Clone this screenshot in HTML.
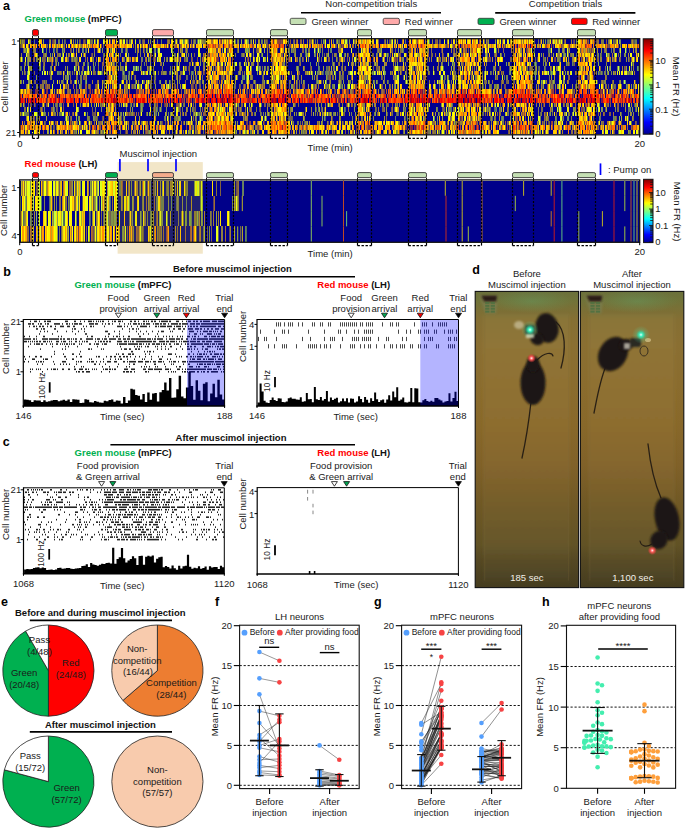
<!DOCTYPE html><html><head><meta charset="utf-8"><title>Figure</title><style>html,body{margin:0;padding:0;background:#fff;width:685px;height:828px;overflow:hidden}text{font-family:'Liberation Sans', sans-serif}</style></head><body><svg width="685" height="828" viewBox="0 0 685 828" style="position:absolute;left:0;top:0;font-family:'Liberation Sans', sans-serif"><defs><linearGradient id="jet" x1="0" y1="1" x2="0" y2="0"><stop offset="0" stop-color="#00008f"/><stop offset="0.125" stop-color="#0000ff"/><stop offset="0.375" stop-color="#00ffff"/><stop offset="0.625" stop-color="#ffff00"/><stop offset="0.875" stop-color="#ff0000"/><stop offset="1" stop-color="#800000"/></linearGradient><linearGradient id="phbg" x1="0" y1="0" x2="0" y2="1"><stop offset="0.000" stop-color="#6b703b"/><stop offset="0.029" stop-color="#707339"/><stop offset="0.070" stop-color="#7d6f35"/><stop offset="0.097" stop-color="#856f33"/><stop offset="0.181" stop-color="#8a6f32"/><stop offset="0.316" stop-color="#8a6c2e"/><stop offset="0.451" stop-color="#88682a"/><stop offset="0.586" stop-color="#806129"/><stop offset="0.721" stop-color="#6f5825"/><stop offset="0.856" stop-color="#615225"/><stop offset="0.907" stop-color="#554823"/><stop offset="1.000" stop-color="#453c1f"/></linearGradient><linearGradient id="phfl" x1="0" y1="0" x2="0" y2="1"><stop offset="0.000" stop-color="#82743a"/><stop offset="0.021" stop-color="#8a7438"/><stop offset="0.115" stop-color="#8f7437"/><stop offset="0.264" stop-color="#8f7133"/><stop offset="0.414" stop-color="#8d6d2f"/><stop offset="0.564" stop-color="#85662e"/><stop offset="0.713" stop-color="#745d2a"/><stop offset="0.863" stop-color="#66572a"/><stop offset="0.919" stop-color="#5a4d28"/><stop offset="1.000" stop-color="#4a4124"/></linearGradient><radialGradient id="glow" cx="0.5" cy="0.5" r="0.5"><stop offset="0" stop-color="#4fe0a8" stop-opacity="0.55"/><stop offset="1" stop-color="#4fe0a8" stop-opacity="0"/></radialGradient><radialGradient id="ledg" cx="0.5" cy="0.5" r="0.5"><stop offset="0" stop-color="#eafff6"/><stop offset="0.35" stop-color="#40f0c0"/><stop offset="1" stop-color="#20c090" stop-opacity="0"/></radialGradient><radialGradient id="ledr" cx="0.5" cy="0.5" r="0.5"><stop offset="0" stop-color="#fff4f0"/><stop offset="0.35" stop-color="#ff6060"/><stop offset="1" stop-color="#ff3030" stop-opacity="0"/></radialGradient><filter id="bl1" x="-30%" y="-30%" width="160%" height="160%"><feGaussianBlur stdDeviation="0.9"/></filter><filter id="bl2" x="-30%" y="-30%" width="160%" height="160%"><feGaussianBlur stdDeviation="2.5"/></filter></defs><rect x="20" y="39.3" width="619" height="94.9" fill="#00008c" stroke="none" stroke-width="1" />
<path stroke="#ffff00" stroke-width="4.52" fill="none" d="M20 41.56h1m18 0h1m54 0h1m25 0h1m65 0h1m27 0h1m15 0h1m94 0h1m44 0h1m21 0h1m21 0h1m4 0h1m24 0h1m52 0h1m2 0h1m32 0h1m27 0h1m16 0h1M76 46.08h1m28 0h1m221 0h1M112 50.6h1m147 0h1m20 0h1m178 0h1m16 0h2m6 0h1m2 0h1m62 0h1m26 0h1M63 55.12h1m8 0h1m44 0h1m59 0h1m53 0h1m1 0h1m23 0h1m18 0h1m83 0h1m1 0h1m53 0h1m9 0h1m43 0h1m58 0h1m26 0h1m35 0h1m37 0h1M62 59.64h1m35 0h1m71 0h2m85 0h1m9 0h1m185 0h1m31 0h1m15 0h1M206 64.15h1m1 0h1m35 0h1m31 0h1m145 0h1m36 0h1m59 0h1m2 0h1m26 0h1m36 0h1M178 68.67h1m27 0h1m24 0h1m15 0h1m8 0h1m13 0h1m2 0h1m2 0h2m3 0h2m86 0h1m100 0h1m8 0h1m34 0h1m79 0h1M109 73.19h1m45 0h1m27 0h1m28 0h1m9 0h1m1 0h1m42 0h1m12 0h1m70 0h1m18 0h1m24 0h1m15 0h1m8 0h1m3 0h1m19 0h1m7 0h1m8 0h1m2 0h1m4 0h1m44 0h1m2 0h1m44 0h1m56 0h1M28 77.71h1m182 0h1m64 0h3m131 0h1m10 0h1m36 0h1m14 0h1m11 0h1m26 0h1m70 0h1M67 82.23h1m42 0h1m37 0h1m76 0h1m134 0h1m1 0h1m6 0h1m26 0h1m51 0h1m4 0h1m6 0h1m13 0h1m6 0h1m103 0h2M98 86.75h1m21 0h1m7 0h1m17 0h1m37 0h1m166 0h2m6 0h1m20 0h1m67 0h1m14 0h1m101 0h1m35 0h1M88 104.83h1m48 0h1m62 0h1m50 0h1m245 0h1M27 109.35h1m122 0h1m26 0h1m44 0h1m57 0h1m81 0h1m33 0h1m66 0h1m95 0h1m28 0h1m4 0h1m44 0h1M98 113.86h1m42 0h1m71 0h1m11 0h1m59 0h1m56 0h1m67 0h2m14 0h1m14 0h1m7 0h1m3 0h1m39 0h1m37 0h1M28 118.38h1m82 0h1m55 0h1m43 0h1m6 0h1m3 0h1m197 0h1m28 0h1m19 0h1m53 0h1m37 0h1m24 0h1m4 0h1m35 0h1M49 122.9h1m17 0h1m21 0h1m28 0h1m24 0h1m56 0h1m59 0h1m30 0h1m87 0h1m6 0h1m4 0h1m5 0h1m32 0h1m70 0h1m7 0h1m29 0h1m18 0h1m3 0h1m49 0h1M94 131.94h1m91 0h1m47 0h1m76 0h1m10 0h1m54 0h1m8 0h1m50 0h1m4 0h1m8 0h1m2 0h1m42 0h1m37 0h1m6 0h1m64 0h1m15 0h1m10 0h1m1 0h2" shape-rendering="crispEdges"/>
<path stroke="#606050" stroke-width="4.52" fill="none" d="M21 41.56h1m166 0h1m61 0h1m363 0h1M186 46.08h1m79 0h1M23 50.6h1m213 0h1m351 0h1M229 55.12h1m29 0h1m341 0h1m7 0h1M57 59.64h1m15 0h1m3 0h1m107 0h1m72 0h1m78 0h1m206 0h1M24 64.15h1m30 0h1m425 0h1m113 0h1M148 68.67h1m35 0h1M391 73.19h1M29 77.71h1m83 0h1m40 0h1m107 0h1m182 0h1m50 0h1M66 82.23h1m36 0h1m23 0h1m125 0h1m43 0h1m43 0h1M151 86.75h1m117 0h1m58 0h1m1 0h1m139 0h1m12 0h1m91 0h1M24 104.83h1m19 0h1m56 0h1m132 0h1m161 0h1m110 0h1m126 0h1M376 109.35h1m156 0h1m71 0h1M146 113.86h1m136 0h1m59 0h1m138 0h1M97 118.38h1m122 0h1m67 0h1m3 0h1M88 122.9h1m215 0h1m192 0h1M175 131.94h1m59 0h1m202 0h1m95 0h1" shape-rendering="crispEdges"/>
<path stroke="#909040" stroke-width="4.52" fill="none" d="M22 41.56h1m7 0h1m88 0h1m6 0h1m67 0h1m10 0h1m17 0h1M173 46.08h1m181 0h1m264 0h1M25 50.6h1m84 0h1m150 0h1m33 0h1m165 0h1m58 0h1m67 0h1M27 55.12h1m66 0h1m42 0h1m40 0h1m64 0h1m56 0h2m116 0h1m138 0h1M29 59.64h1m25 0h1m7 0h1m8 0h1m2 0h1m24 0h1m17 0h1m45 0h1m2 0h1m19 0h1m12 0h1m107 0h1m27 0h1m220 0h1m68 0h1M40 64.15h1m15 0h1m41 0h1m51 0h1m214 0h1m8 0h1m30 0h1m35 0h1m103 0h1M65 68.67h1m1 0h1m83 0h1m43 0h1m33 0h1m281 0h1m67 0h1M163 73.19h3m73 0h2m22 0h1m85 0h1m197 0h1m48 0h1M131 77.71h1m119 0h1m154 0h1m2 0h1m85 0h1m88 0h1M129 82.23h1m72 0h1m137 0h1m223 0h1m18 0h1m21 0h1m14 0h1M37 86.75h1m112 0h1m19 0h1m298 0h1m28 0h1m37 0h1m23 0h1m11 0h1M53 104.83h1m127 0h1m70 0h1m188 0h1m193 0h2M178 109.35h1m112 0h1m48 0h1m107 0h1m38 0h1m87 0h1M43 113.86h1m88 0h1m33 0h1m68 0h1m19 0h1m11 0h1m222 0h1m73 0h2m65 0h1m1 0h1M68 118.38h1m126 0h1m47 0h1m160 0h1M53 122.9h1m22 0h1m55 0h1m27 0h1m9 0h1m16 0h1m49 0h1m160 0h1m97 0h1m47 0h1m9 0h2m42 0h1M193 127.42h1M95 131.94h1m93 0h2m112 0h1m179 0h1" shape-rendering="crispEdges"/>
<path stroke="#808040" stroke-width="4.52" fill="none" d="M23 41.56h1m14 0h1m52 0h1m3 0h1m107 0h1m398 0h2m4 0h1M81 46.08h1M140 50.6h1m167 0h2m325 0h1M46 55.12h1m12 0h2m127 0h1m46 0h1m6 0h1m51 0h1m32 0h1M27 59.64h1m28 0h1m19 0h1m16 0h1m92 0h1m253 0h1m102 0h1m14 0h1M203 64.15h2m46 0h1m143 0h1m150 0h1m59 0h1M179 68.67h1m44 0h1m42 0h1m217 0h1m49 0h1M133 73.19h1m110 0h1m63 0h1m39 0h1m163 0h1M51 77.71h1m103 0h1m37 0h1m2 0h1m100 0h1m67 0h1m15 0h1m26 0h1m66 0h2M46 82.23h1m102 0h1m122 0h1m76 0h1m37 0h1m61 0h1m11 0h1M36 86.75h1m5 0h1m82 0h1m173 0h1m25 0h1m1 0h1m161 0h2m4 0h1m59 0h1M21 104.83h1m78 0h1m78 0h1m4 0h1m157 0h1m282 0h1M256 109.35h1m33 0h1m72 0h1m41 0h1m43 0h1M28 113.86h1m25 0h2m75 0h1m58 0h1m4 0h1m100 0h1m18 0h1m13 0h1m1 0h1m206 0h1m2 0h1m26 0h1M87 118.38h2m79 0h1m64 0h1m70 0h1m35 0h1m20 0h1m11 0h1m120 0h1m76 0h1m54 0h1M98 122.9h1m194 0h1m28 0h1m114 0h1m100 0h1M255 127.42h1M74 131.94h1m171 0h1m11 0h1m46 0h1m17 0h1m72 0h1m44 0h1" shape-rendering="crispEdges"/>
<path stroke="#a07030" stroke-width="4.52" fill="none" d="M24 41.56h1m330 0h1M194 46.08h1m38 0h1m87 0h1m27 0h1m117 0h1m15 0h1m79 0h1M178 50.6h1m287 0h1m31 0h1m14 0h1m78 0h1M152 55.12h1m282 0h1m6 0h1m81 0h1m59 0h1M154 59.64h1m19 0h1m190 0h1m48 0h1m43 0h1M339 64.15h1m83 0h1m186 0h1M495 68.67h1M501 73.19h1M49 86.75h1m39 0h1m228 0h1M68 91.27h1m5 0h1m118 0h1m96 0h1m144 0h1m44 0h1M209 104.83h1m141 0h1m71 0h1m24 0h1m9 0h1m35 0h1m46 0h1M286 109.35h1m61 0h1m35 0h1M127 113.86h1m124 0h1m210 0h1m23 0h1m115 0h1M247 118.38h1m110 0h1m59 0h1M91 122.9h1m370 0h1m6 0h1m42 0h1m7 0h1m21 0h1m33 0h1M134 127.42h1m172 0h1m210 0h1m69 0h1m11 0h1M126 131.94h1m231 0h1m150 0h1m35 0h1m47 0h1" shape-rendering="crispEdges"/>
<path stroke="#000090" stroke-width="4.52" fill="none" d="M25 41.56h3m3 0h3m1 0h3m4 0h1m1 0h5m2 0h1m4 0h2m2 0h2m1 0h1m2 0h4m2 0h1m1 0h1m1 0h1m1 0h1m2 0h2m3 0h1m6 0h1m2 0h1m2 0h4m5 0h1m2 0h1m3 0h1m2 0h1m6 0h1m2 0h1m4 0h2m1 0h3m2 0h1m3 0h3m1 0h1m1 0h1m3 0h2m1 0h3m1 0h5m3 0h1m3 0h1m3 0h1m10 0h2m1 0h1m3 0h1m21 0h1m17 0h1m2 0h2m1 0h2m5 0h1m2 0h1m1 0h1m1 0h2m2 0h1m2 0h1m4 0h2m19 0h1m1 0h2m2 0h1m2 0h2m2 0h1m1 0h3m1 0h1m5 0h1m1 0h1m1 0h3m1 0h1m3 0h3m1 0h1m1 0h1m1 0h2m4 0h1m7 0h1m1 0h3m4 0h1m16 0h2m3 0h5m2 0h1m1 0h1m4 0h1m2 0h1m1 0h4m2 0h1m1 0h3m2 0h1m12 0h1m1 0h1m3 0h2m1 0h2m3 0h1m2 0h3m1 0h2m2 0h2m1 0h1m2 0h1m1 0h1m8 0h1m4 0h1m6 0h1m2 0h2m2 0h1m3 0h6m1 0h1m4 0h1m3 0h2m2 0h1m25 0h3m1 0h1m2 0h1m1 0h1m1 0h1m4 0h1m11 0h1m2 0h5m1 0h1m2 0h1m13 0h1m5 0h1m3 0h2m3 0h2m1 0h1m4 0h1m5 0h1m2 0h10m6 0h2M25 46.08h1m3 0h1m7 0h1m2 0h1m7 0h1m2 0h1m13 0h1m1 0h1m2 0h1m28 0h1m2 0h1m1 0h1m27 0h1m1 0h1m1 0h1m2 0h1m8 0h1m1 0h1m1 0h1m16 0h1m9 0h1m9 0h1m5 0h1m6 0h1m20 0h1m15 0h1m16 0h1m4 0h1m22 0h1m1 0h1m1 0h1m10 0h1m8 0h1m2 0h1m11 0h1m2 0h1m3 0h1m6 0h1m10 0h1m2 0h1m2 0h1m1 0h1m2 0h1m19 0h1m13 0h1m3 0h1m5 0h1m3 0h1m9 0h1m31 0h1m10 0h1m35 0h1m4 0h1m12 0h1m2 0h1m8 0h1m3 0h1m5 0h1m4 0h1m8 0h1m1 0h1m1 0h1m37 0h1m1 0h1m24 0h1m1 0h1m5 0h1M20 50.6h3m7 0h3m3 0h6m2 0h2m1 0h2m1 0h3m2 0h1m2 0h4m3 0h5m2 0h1m1 0h2m1 0h1m2 0h2m2 0h1m2 0h1m1 0h5m1 0h2m4 0h1m1 0h3m3 0h1m5 0h1m1 0h4m2 0h2m3 0h7m1 0h1m2 0h1m1 0h2m2 0h1m2 0h1m3 0h2m2 0h1m3 0h11m3 0h4m1 0h1m3 0h2m3 0h10m2 0h6m1 0h1m13 0h1m1 0h1m2 0h1m6 0h4m2 0h6m5 0h3m1 0h2m6 0h2m1 0h2m1 0h1m9 0h2m4 0h1m2 0h1m2 0h1m5 0h6m2 0h1m2 0h1m2 0h4m2 0h1m4 0h1m1 0h5m1 0h1m2 0h6m5 0h8m1 0h6m1 0h2m8 0h1m2 0h5m5 0h8m3 0h2m1 0h2m1 0h1m4 0h4m5 0h1m2 0h1m1 0h1m10 0h2m1 0h9m2 0h8m1 0h1m2 0h1m2 0h1m3 0h1m4 0h1m1 0h1m13 0h2m4 0h5m3 0h1m1 0h4m1 0h7m3 0h1m7 0h1m2 0h1m6 0h1m2 0h13m4 0h6m2 0h2m3 0h2m3 0h7m18 0h2m1 0h3m1 0h2m3 0h4m1 0h1m2 0h4m2 0h4m2 0h2m1 0h3m1 0h1m2 0h2M20 55.12h1m1 0h4m4 0h4m4 0h5m4 0h3m1 0h1m1 0h1m1 0h2m4 0h1m2 0h2m1 0h1m2 0h1m4 0h1m1 0h4m1 0h1m3 0h5m2 0h1m1 0h8m2 0h1m2 0h1m5 0h1m4 0h1m1 0h4m2 0h1m1 0h8m1 0h2m1 0h3m1 0h2m2 0h1m3 0h1m2 0h2m4 0h10m4 0h1m2 0h2m4 0h1m1 0h1m1 0h2m1 0h2m1 0h3m3 0h2m15 0h1m7 0h1m7 0h1m1 0h5m4 0h1m2 0h1m3 0h1m1 0h3m3 0h1m2 0h4m1 0h3m12 0h1m4 0h1m1 0h4m2 0h4m2 0h3m5 0h4m2 0h1m1 0h1m1 0h2m1 0h1m1 0h1m3 0h3m1 0h1m3 0h2m3 0h2m2 0h1m2 0h3m2 0h1m2 0h1m12 0h1m3 0h2m2 0h1m3 0h1m6 0h1m1 0h1m1 0h1m7 0h3m3 0h2m4 0h1m15 0h2m2 0h2m1 0h3m1 0h2m2 0h3m2 0h4m7 0h1m8 0h1m7 0h1m3 0h4m3 0h1m1 0h4m3 0h3m2 0h2m1 0h7m4 0h1m5 0h1m3 0h1m6 0h1m1 0h3m2 0h1m1 0h1m1 0h4m2 0h1m1 0h1m1 0h2m6 0h1m3 0h1m2 0h1m4 0h2m1 0h1m16 0h1m1 0h1m2 0h1m2 0h4m4 0h2m1 0h1m3 0h1m1 0h1m1 0h3m2 0h2m1 0h1m2 0h4M23 59.64h2m1 0h1m4 0h2m2 0h1m5 0h1m4 0h1m7 0h1m3 0h3m3 0h1m4 0h2m7 0h1m2 0h4m1 0h1m1 0h2m4 0h2m1 0h1m3 0h2m1 0h1m4 0h1m1 0h1m5 0h1m1 0h3m3 0h1m5 0h1m6 0h3m2 0h2m2 0h1m3 0h2m3 0h1m4 0h3m1 0h1m2 0h1m12 0h3m4 0h3m2 0h4m1 0h2m1 0h1m17 0h1m7 0h1m3 0h1m2 0h11m1 0h1m2 0h1m1 0h2m2 0h1m4 0h3m3 0h1m1 0h2m15 0h1m6 0h3m3 0h1m2 0h1m2 0h2m1 0h1m1 0h8m3 0h1m1 0h2m3 0h1m2 0h2m1 0h3m2 0h1m6 0h2m1 0h1m1 0h2m1 0h1m7 0h1m4 0h1m4 0h2m2 0h1m2 0h4m3 0h2m1 0h1m1 0h1m7 0h1m5 0h2m11 0h1m5 0h1m4 0h1m1 0h1m1 0h4m5 0h1m5 0h1m1 0h1m4 0h2m14 0h1m4 0h1m1 0h1m4 0h1m8 0h1m1 0h2m1 0h1m6 0h7m2 0h1m9 0h1m5 0h1m1 0h1m2 0h2m1 0h1m3 0h3m3 0h1m1 0h3m2 0h1m2 0h1m4 0h2m4 0h1m1 0h3m8 0h1m4 0h1m10 0h1m2 0h1m2 0h4m5 0h1m5 0h2m2 0h5m1 0h1m2 0h1m4 0h1m2 0h1M20 64.15h4m2 0h1m2 0h10m2 0h2m2 0h6m2 0h2m2 0h1m1 0h16m4 0h4m2 0h2m2 0h4m1 0h1m1 0h2m1 0h3m2 0h1m10 0h1m2 0h2m1 0h4m2 0h14m1 0h2m1 0h1m1 0h3m1 0h3m1 0h5m2 0h1m1 0h12m2 0h1m1 0h9m2 0h1m2 0h1m4 0h1m1 0h2m2 0h1m4 0h1m5 0h1m6 0h1m2 0h1m4 0h1m1 0h1m3 0h2m2 0h3m3 0h1m2 0h1m3 0h3m2 0h13m6 0h1m6 0h1m2 0h11m2 0h9m1 0h5m1 0h1m1 0h13m3 0h3m2 0h2m1 0h5m1 0h2m3 0h1m1 0h2m1 0h1m9 0h1m1 0h3m4 0h6m3 0h6m1 0h1m1 0h1m1 0h5m1 0h1m1 0h3m18 0h11m1 0h2m2 0h5m1 0h3m3 0h2m3 0h1m3 0h1m14 0h1m2 0h2m1 0h1m1 0h8m1 0h2m1 0h7m1 0h1m2 0h4m1 0h1m10 0h1m4 0h3m3 0h6m1 0h1m2 0h2m1 0h9m2 0h5m4 0h2m3 0h3m10 0h1m3 0h2m2 0h2m1 0h7m1 0h3m1 0h20m3 0h5M22 68.67h2m1 0h3m4 0h7m2 0h2m2 0h5m2 0h2m2 0h9m1 0h1m1 0h6m3 0h1m2 0h2m2 0h3m2 0h1m1 0h2m2 0h3m1 0h3m1 0h1m1 0h1m11 0h1m1 0h1m4 0h1m2 0h6m6 0h1m2 0h5m5 0h1m1 0h8m1 0h7m1 0h1m1 0h1m1 0h1m4 0h3m4 0h1m2 0h4m2 0h3m1 0h3m2 0h1m6 0h1m1 0h1m8 0h1m1 0h1m7 0h1m1 0h4m3 0h4m3 0h1m2 0h4m5 0h1m1 0h1m2 0h1m2 0h1m4 0h1m12 0h9m3 0h4m2 0h5m2 0h6m2 0h3m1 0h2m4 0h1m1 0h1m2 0h1m2 0h3m2 0h1m2 0h6m1 0h5m14 0h1m1 0h2m4 0h2m3 0h8m12 0h1m1 0h1m6 0h1m8 0h1m5 0h4m1 0h3m2 0h1m4 0h7m1 0h1m2 0h3m3 0h1m1 0h1m7 0h1m1 0h1m1 0h1m1 0h1m3 0h4m1 0h7m3 0h3m2 0h8m8 0h1m10 0h1m5 0h1m2 0h1m2 0h4m2 0h4m2 0h1m2 0h1m5 0h3m1 0h14m6 0h1m3 0h1m2 0h1m2 0h4m2 0h4m1 0h1m1 0h1m2 0h6m3 0h2m1 0h1m3 0h2m1 0h1m1 0h1m1 0h3M20 73.19h2m1 0h1m2 0h1m3 0h4m1 0h7m1 0h1m2 0h1m1 0h1m4 0h4m5 0h1m2 0h2m4 0h1m1 0h1m1 0h1m2 0h1m1 0h1m2 0h1m6 0h1m1 0h1m3 0h1m6 0h1m4 0h1m2 0h1m5 0h5m3 0h3m2 0h1m3 0h7m7 0h1m2 0h2m3 0h2m1 0h2m6 0h2m2 0h1m6 0h2m5 0h4m1 0h1m3 0h1m1 0h1m5 0h1m2 0h1m5 0h1m4 0h1m16 0h5m3 0h1m1 0h1m1 0h1m6 0h5m1 0h1m3 0h1m2 0h1m2 0h2m20 0h1m1 0h5m3 0h5m8 0h2m1 0h1m7 0h1m8 0h1m2 0h3m2 0h1m2 0h4m5 0h1m2 0h1m6 0h1m12 0h1m5 0h1m3 0h4m3 0h1m2 0h2m1 0h1m2 0h3m2 0h1m7 0h1m10 0h2m2 0h3m2 0h4m2 0h2m2 0h5m1 0h1m4 0h2m1 0h1m13 0h1m5 0h1m3 0h1m4 0h2m2 0h1m1 0h1m1 0h1m3 0h1m3 0h5m2 0h1m10 0h1m14 0h1m2 0h2m7 0h1m6 0h3m2 0h1m2 0h1m1 0h1m2 0h1m2 0h3m2 0h1m10 0h1m4 0h1m3 0h1m5 0h1m2 0h1m2 0h2m1 0h1m3 0h1m1 0h1m1 0h1m2 0h1m9 0h1m1 0h4M20 77.71h7m3 0h6m1 0h13m2 0h11m1 0h1m4 0h1m1 0h5m2 0h2m2 0h1m4 0h20m10 0h5m5 0h1m2 0h1m1 0h2m2 0h15m1 0h2m2 0h16m1 0h3m2 0h1m2 0h5m2 0h3m1 0h1m1 0h1m2 0h2m2 0h1m1 0h3m13 0h2m4 0h1m4 0h1m1 0h3m3 0h4m3 0h1m3 0h1m3 0h9m2 0h6m11 0h1m1 0h1m3 0h5m3 0h2m2 0h2m1 0h10m1 0h1m1 0h1m2 0h8m5 0h1m2 0h1m1 0h3m5 0h3m1 0h3m2 0h6m12 0h10m2 0h1m1 0h8m6 0h4m2 0h1m1 0h1m4 0h1m3 0h1m5 0h1m4 0h13m3 0h1m2 0h1m2 0h3m5 0h1m5 0h1m3 0h1m2 0h1m3 0h1m8 0h1m2 0h9m3 0h4m1 0h1m1 0h1m2 0h3m9 0h1m3 0h1m4 0h1m3 0h2m1 0h2m2 0h9m1 0h1m1 0h2m1 0h4m2 0h2m2 0h3m2 0h8m2 0h1m4 0h2m7 0h11m2 0h32M22 82.23h1m1 0h4m4 0h2m2 0h6m5 0h6m1 0h3m1 0h1m1 0h1m3 0h2m2 0h2m2 0h2m3 0h1m1 0h1m2 0h3m2 0h5m1 0h4m2 0h3m15 0h4m3 0h2m2 0h1m1 0h5m2 0h1m1 0h3m3 0h1m6 0h2m2 0h3m2 0h4m2 0h2m2 0h1m3 0h2m1 0h1m1 0h5m1 0h4m1 0h1m3 0h1m5 0h1m2 0h2m1 0h1m2 0h1m7 0h1m1 0h1m2 0h1m6 0h1m3 0h1m1 0h5m2 0h3m4 0h3m3 0h6m3 0h1m3 0h2m8 0h1m7 0h2m2 0h3m1 0h1m2 0h1m1 0h1m1 0h1m2 0h11m6 0h1m1 0h1m2 0h2m2 0h7m4 0h1m1 0h4m3 0h1m1 0h5m8 0h1m5 0h1m2 0h1m2 0h5m2 0h2m2 0h5m5 0h6m11 0h1m8 0h4m1 0h4m1 0h2m8 0h2m3 0h1m1 0h1m1 0h1m1 0h2m8 0h1m2 0h1m2 0h1m10 0h1m3 0h1m2 0h2m1 0h8m3 0h2m3 0h3m3 0h1m3 0h1m13 0h4m3 0h1m6 0h2m6 0h4m3 0h1m2 0h2m2 0h7m1 0h1m3 0h1m6 0h1m9 0h3m5 0h6m2 0h5m2 0h2m3 0h8m2 0h3M20 86.75h6m4 0h2m1 0h3m2 0h2m4 0h1m5 0h2m1 0h7m1 0h2m6 0h4m1 0h2m1 0h2m3 0h3m2 0h1m3 0h4m4 0h3m1 0h1m3 0h1m1 0h1m1 0h1m5 0h2m2 0h3m6 0h1m5 0h1m5 0h3m4 0h1m2 0h3m1 0h5m4 0h1m5 0h1m1 0h1m2 0h1m1 0h2m1 0h1m4 0h5m3 0h1m2 0h2m2 0h2m1 0h1m2 0h1m5 0h1m5 0h1m2 0h1m10 0h1m2 0h3m2 0h2m3 0h1m2 0h1m3 0h2m10 0h4m8 0h1m1 0h1m7 0h2m1 0h1m4 0h1m2 0h1m1 0h2m3 0h3m1 0h2m6 0h1m1 0h5m7 0h1m3 0h3m5 0h1m1 0h2m3 0h1m22 0h1m1 0h4m4 0h2m1 0h3m2 0h1m1 0h1m2 0h1m2 0h1m2 0h6m17 0h4m2 0h2m3 0h3m1 0h1m3 0h1m1 0h1m4 0h1m4 0h2m3 0h1m6 0h1m10 0h1m1 0h1m2 0h1m1 0h3m3 0h2m5 0h2m1 0h2m2 0h6m2 0h1m1 0h1m9 0h1m6 0h3m1 0h1m1 0h2m3 0h3m7 0h1m1 0h1m4 0h1m2 0h1m1 0h6m1 0h2m20 0h4m1 0h1m3 0h1m2 0h1m1 0h2m5 0h2m4 0h4m4 0h1m1 0h1m4 0h1M32 91.27h3m4 0h3m3 0h1m2 0h2m3 0h1m1 0h1m9 0h2m4 0h3m1 0h1m3 0h1m7 0h2m2 0h1m1 0h1m6 0h1m2 0h1m5 0h1m13 0h1m4 0h1m1 0h6m8 0h1m5 0h1m1 0h1m2 0h1m1 0h1m3 0h1m7 0h2m8 0h2m1 0h2m6 0h1m4 0h1m1 0h1m4 0h1m19 0h1m10 0h1m1 0h3m1 0h1m1 0h1m3 0h1m2 0h1m1 0h1m9 0h1m2 0h2m18 0h1m7 0h2m11 0h1m5 0h1m5 0h1m1 0h2m2 0h1m1 0h2m1 0h1m4 0h2m2 0h1m3 0h2m7 0h1m4 0h1m6 0h1m10 0h1m4 0h1m1 0h2m4 0h1m1 0h1m3 0h1m1 0h1m5 0h1m5 0h1m4 0h1m6 0h1m9 0h1m4 0h2m4 0h1m16 0h1m5 0h1m5 0h1m7 0h1m16 0h1m2 0h1m2 0h1m3 0h3m20 0h1m9 0h1m6 0h2m2 0h1m7 0h1m1 0h3m5 0h3m8 0h1m2 0h1m3 0h1m4 0h1m1 0h1m9 0h1m5 0h1m2 0h1m5 0h1m1 0h1m3 0h1m1 0h1m11 0h1m1 0h2M22 95.79h1m14 0h1m9 0h1m9 0h1m1 0h1m24 0h1m2 0h1m2 0h1m25 0h1m11 0h1m3 0h1m14 0h1m1 0h1m26 0h1m5 0h1m15 0h1m5 0h1m7 0h1m2 0h1m4 0h1m12 0h1m14 0h1m5 0h1m4 0h1m30 0h1m23 0h1m16 0h1m29 0h1m9 0h1m3 0h1m10 0h1m4 0h1m4 0h1m4 0h1m2 0h1m3 0h1m10 0h1m7 0h1m5 0h1m12 0h1m5 0h1m13 0h1m14 0h1m17 0h1m3 0h1m10 0h1m2 0h1m20 0h1m9 0h1m15 0h1m9 0h1m2 0h1m2 0h1m1 0h1m22 0h1m8 0h1m14 0h1M25 100.31h1m1 0h1m7 0h1m29 0h1m8 0h1m4 0h1m9 0h1m45 0h1m11 0h1m15 0h1m3 0h1m2 0h1m7 0h1m6 0h1m6 0h1m17 0h1m5 0h1m10 0h1m12 0h1m16 0h1m3 0h1m15 0h1m7 0h1m5 0h1m7 0h1m29 0h1m14 0h1m2 0h1m11 0h1m8 0h1m8 0h1m1 0h1m7 0h1m43 0h1m31 0h1m12 0h1m16 0h1m10 0h1m1 0h1m6 0h1m7 0h1m7 0h1m5 0h1m14 0h1m15 0h1m19 0h1m13 0h1m10 0h1m20 0h1m2 0h1M22 104.83h1m2 0h3m1 0h1m2 0h2m2 0h6m3 0h1m3 0h4m1 0h1m3 0h1m3 0h1m1 0h3m2 0h4m1 0h2m1 0h3m1 0h1m7 0h2m1 0h2m1 0h1m1 0h1m1 0h1m5 0h1m1 0h1m8 0h3m1 0h1m1 0h1m5 0h2m2 0h1m2 0h1m2 0h2m4 0h5m2 0h3m4 0h3m1 0h2m4 0h1m1 0h1m2 0h3m6 0h1m2 0h3m1 0h1m2 0h1m1 0h1m1 0h3m3 0h3m6 0h1m10 0h1m1 0h1m3 0h1m10 0h2m2 0h1m2 0h3m1 0h1m2 0h6m3 0h2m2 0h1m3 0h1m7 0h1m2 0h1m6 0h5m3 0h2m1 0h16m1 0h2m1 0h2m1 0h3m1 0h1m6 0h5m2 0h2m1 0h3m4 0h1m2 0h1m2 0h1m8 0h1m7 0h1m2 0h4m1 0h1m2 0h2m3 0h3m1 0h2m3 0h1m1 0h3m2 0h1m1 0h2m6 0h1m6 0h1m1 0h1m5 0h11m3 0h2m7 0h5m14 0h1m8 0h2m1 0h1m1 0h1m2 0h2m2 0h1m2 0h1m2 0h1m1 0h1m3 0h2m2 0h1m5 0h1m11 0h1m2 0h1m3 0h2m1 0h2m1 0h1m1 0h1m2 0h4m1 0h1m2 0h1m3 0h1m3 0h2m2 0h1m3 0h1m3 0h2m1 0h2m3 0h1m2 0h1m5 0h1m5 0h1m3 0h4m5 0h1m1 0h3m2 0h1m2 0h2m1 0h1m1 0h1m1 0h2m2 0h1m1 0h2m4 0h1M20 109.35h4m2 0h1m2 0h1m1 0h9m3 0h1m1 0h6m4 0h1m2 0h2m2 0h1m1 0h12m3 0h13m1 0h2m1 0h5m1 0h4m8 0h1m1 0h10m1 0h3m1 0h1m1 0h7m3 0h7m1 0h2m5 0h1m3 0h4m1 0h6m2 0h1m5 0h1m1 0h3m2 0h2m1 0h1m4 0h4m1 0h1m1 0h1m4 0h1m4 0h1m12 0h1m1 0h1m4 0h1m3 0h1m4 0h3m1 0h1m1 0h1m3 0h4m1 0h2m2 0h6m1 0h2m3 0h1m13 0h1m1 0h1m3 0h12m2 0h4m1 0h3m2 0h1m2 0h1m2 0h1m2 0h13m4 0h1m2 0h2m1 0h5m1 0h3m7 0h1m4 0h5m2 0h1m1 0h3m3 0h1m1 0h4m2 0h1m5 0h4m3 0h2m7 0h1m13 0h7m2 0h4m3 0h1m1 0h1m4 0h1m3 0h1m7 0h1m5 0h1m5 0h1m1 0h1m2 0h2m8 0h3m3 0h2m3 0h1m1 0h3m2 0h3m4 0h1m1 0h2m1 0h1m5 0h1m6 0h4m1 0h2m2 0h7m3 0h4m5 0h5m2 0h4m3 0h1m3 0h1m4 0h1m6 0h1m2 0h1m1 0h1m2 0h1m2 0h2m2 0h8m1 0h1m2 0h6m1 0h2m3 0h1m1 0h2m2 0h1M29 113.86h3m1 0h1m4 0h3m5 0h2m1 0h2m5 0h1m1 0h1m5 0h1m3 0h1m1 0h2m2 0h1m3 0h6m2 0h1m1 0h4m4 0h1m2 0h6m8 0h1m3 0h1m1 0h1m2 0h1m1 0h1m10 0h1m1 0h1m1 0h1m2 0h4m2 0h1m2 0h1m1 0h1m3 0h1m1 0h6m2 0h1m1 0h1m4 0h2m2 0h2m1 0h1m2 0h1m2 0h3m1 0h2m9 0h1m4 0h1m7 0h1m10 0h1m7 0h1m2 0h2m7 0h1m2 0h2m2 0h1m2 0h4m2 0h1m1 0h1m1 0h1m3 0h1m18 0h1m1 0h3m1 0h1m1 0h1m6 0h1m1 0h5m1 0h1m1 0h1m1 0h1m1 0h1m2 0h1m10 0h1m3 0h1m1 0h1m1 0h1m4 0h4m1 0h1m1 0h3m1 0h1m9 0h1m1 0h1m3 0h2m2 0h1m3 0h6m2 0h2m3 0h3m3 0h1m4 0h1m1 0h1m10 0h1m6 0h1m2 0h5m2 0h1m1 0h2m2 0h1m2 0h1m7 0h1m3 0h1m11 0h1m2 0h1m6 0h1m3 0h1m2 0h1m1 0h1m1 0h1m2 0h1m2 0h1m1 0h1m1 0h1m2 0h4m4 0h1m10 0h1m5 0h1m3 0h1m3 0h4m1 0h1m2 0h2m4 0h1m2 0h1m1 0h1m1 0h1m1 0h2m4 0h1m3 0h1m2 0h2m2 0h1m2 0h1m5 0h1m3 0h1m8 0h2m1 0h1m1 0h2m2 0h4m2 0h2m1 0h6m2 0h6m1 0h1m2 0h1m1 0h4M20 118.38h6m3 0h1m2 0h1m2 0h1m2 0h1m1 0h6m1 0h18m4 0h1m2 0h4m1 0h1m2 0h7m3 0h3m5 0h4m2 0h4m6 0h1m1 0h1m5 0h1m2 0h10m1 0h3m1 0h14m2 0h8m2 0h1m2 0h1m1 0h3m7 0h10m1 0h1m1 0h1m2 0h2m4 0h3m7 0h1m15 0h1m4 0h9m5 0h13m2 0h1m3 0h3m5 0h1m2 0h1m7 0h2m5 0h10m2 0h17m1 0h1m2 0h5m2 0h6m2 0h11m1 0h2m2 0h1m1 0h2m2 0h1m2 0h1m1 0h1m2 0h2m1 0h10m1 0h1m1 0h8m1 0h8m2 0h1m3 0h1m3 0h1m7 0h1m3 0h7m2 0h2m1 0h1m1 0h2m1 0h5m7 0h3m5 0h1m2 0h1m15 0h8m3 0h1m2 0h3m1 0h1m3 0h6m1 0h1m2 0h1m3 0h1m2 0h1m2 0h1m1 0h2m1 0h1m1 0h1m2 0h4m3 0h3m5 0h6m2 0h3m4 0h3m2 0h2m1 0h7m9 0h1m3 0h1m1 0h5m2 0h12m4 0h2m1 0h1m1 0h3m4 0h3m2 0h5M20 122.9h2m1 0h1m1 0h2m8 0h1m1 0h1m1 0h1m3 0h1m2 0h3m5 0h1m3 0h2m3 0h1m1 0h1m3 0h1m8 0h1m2 0h3m3 0h1m4 0h2m1 0h1m1 0h1m5 0h1m6 0h1m12 0h1m5 0h3m5 0h1m2 0h1m7 0h1m3 0h1m2 0h2m2 0h1m3 0h2m1 0h1m2 0h1m1 0h1m1 0h1m2 0h1m2 0h2m1 0h1m2 0h1m7 0h2m2 0h1m3 0h2m31 0h1m1 0h1m1 0h2m4 0h2m2 0h1m2 0h2m3 0h1m5 0h1m2 0h2m2 0h1m20 0h1m3 0h3m2 0h1m1 0h1m1 0h1m4 0h1m1 0h7m3 0h1m2 0h4m2 0h1m4 0h2m2 0h1m2 0h1m2 0h1m3 0h1m4 0h2m1 0h1m7 0h1m5 0h4m8 0h1m2 0h1m8 0h1m5 0h2m1 0h1m3 0h1m18 0h1m9 0h1m1 0h1m7 0h1m2 0h1m15 0h1m12 0h1m3 0h1m4 0h1m2 0h1m1 0h1m6 0h1m4 0h1m1 0h1m4 0h1m7 0h1m2 0h1m4 0h1m5 0h4m4 0h1m3 0h1m1 0h1m2 0h1m2 0h1m3 0h1m5 0h3m1 0h2m5 0h2m1 0h1m18 0h2m2 0h1m3 0h3m9 0h2m4 0h5m1 0h1m3 0h3m2 0h2M41 127.42h1m7 0h1m2 0h1m2 0h1m32 0h1m2 0h1m4 0h1m4 0h1m4 0h1m4 0h1m4 0h1m4 0h1m5 0h1m1 0h2m2 0h1m5 0h1m2 0h1m1 0h1m4 0h1m5 0h1m10 0h1m6 0h1m1 0h1m2 0h2m2 0h4m1 0h2m5 0h1m9 0h1m1 0h1m26 0h1m2 0h1m9 0h1m7 0h1m8 0h1m27 0h1m2 0h1m3 0h1m26 0h1m11 0h2m2 0h1m4 0h1m4 0h1m2 0h2m4 0h1m3 0h1m8 0h1m3 0h1m5 0h2m5 0h2m15 0h1m1 0h1m3 0h1m20 0h1m6 0h1m7 0h1m9 0h1m1 0h1m2 0h1m3 0h1m6 0h1m3 0h1m1 0h1m8 0h1m1 0h1m3 0h1m1 0h1m7 0h1m1 0h1m3 0h1m16 0h1m9 0h1m5 0h1m4 0h1m2 0h1m8 0h1m8 0h1m7 0h1m5 0h1m13 0h1m4 0h1m10 0h1m2 0h1m1 0h1m5 0h1m1 0h3M24 131.94h1m5 0h2m1 0h1m6 0h3m1 0h3m2 0h1m2 0h1m2 0h2m2 0h1m3 0h2m2 0h1m1 0h1m7 0h1m1 0h1m2 0h4m4 0h1m8 0h1m8 0h1m2 0h1m5 0h3m1 0h4m3 0h3m1 0h1m3 0h1m1 0h1m1 0h3m1 0h1m6 0h2m3 0h1m1 0h3m4 0h1m1 0h2m1 0h2m1 0h2m3 0h1m3 0h1m1 0h1m2 0h1m3 0h1m2 0h1m6 0h2m1 0h1m8 0h1m23 0h2m2 0h1m7 0h1m5 0h2m2 0h3m2 0h3m4 0h1m5 0h1m12 0h1m1 0h1m2 0h1m1 0h2m1 0h1m6 0h2m1 0h1m3 0h2m1 0h2m1 0h1m3 0h1m2 0h1m1 0h3m3 0h1m4 0h1m2 0h2m1 0h2m1 0h1m5 0h1m1 0h1m1 0h1m2 0h1m11 0h1m6 0h2m4 0h1m3 0h2m7 0h3m2 0h2m24 0h1m4 0h1m3 0h1m4 0h1m1 0h1m2 0h1m4 0h1m1 0h1m23 0h1m2 0h1m2 0h1m3 0h2m6 0h9m2 0h1m1 0h1m17 0h1m2 0h1m7 0h1m2 0h1m4 0h4m4 0h1m3 0h1m1 0h5m1 0h2m2 0h1m8 0h1m13 0h6m2 0h1m3 0h2m1 0h1m3 0h3m6 0h4m3 0h2m2 0h1" shape-rendering="crispEdges"/>
<path stroke="#f0ff10" stroke-width="4.52" fill="none" d="M28 41.56h1m59 0h1m35 0h1m47 0h1m180 0h1m22 0h1m71 0h1M27 50.6h1m71 0h1m124 0h1m126 0h1m9 0h1m64 0h1m104 0h1m62 0h1M71 55.12h1m83 0h1m16 0h1m11 0h1m13 0h2m46 0h1m133 0h1m186 0h1m47 0h1m15 0h1m6 0h1M21 59.64h1m3 0h1m21 0h1m211 0h1m31 0h1m25 0h1m6 0h1m30 0h1m36 0h1m44 0h1m101 0h1m35 0h1m57 0h1M39 64.15h1m178 0h1m255 0h1M246 68.67h1m3 0h1m111 0h1m8 0h1m25 0h1m13 0h1m141 0h1M85 73.19h1m2 0h1m2 0h1m178 0h1m106 0h1m65 0h1m83 0h1m25 0h1m67 0h1m4 0h1M248 77.71h1m155 0h1m15 0h1m93 0h1m45 0h1m3 0h1M247 82.23h1m19 0h1m91 0h1m54 0h1m44 0h1m17 0h1m82 0h2m34 0h1M60 86.75h1m107 0h1m88 0h1m54 0h1m36 0h1m288 0h1M48 104.83h1m47 0h1m7 0h1m131 0h1m8 0h1m252 0h1m60 0h1M220 109.35h1m120 0h2m68 0h1m2 0h1m43 0h1m21 0h1m86 0h1m21 0h2M23 113.86h1m18 0h1m130 0h1m2 0h1m150 0h1m75 0h1m88 0h1m82 0h1M66 118.38h1m124 0h1m261 0h1m59 0h1m24 0h1M79 122.9h1m58 0h1m15 0h1m43 0h1m62 0h1m126 0h1m170 0h1m70 0h1M29 131.94h1m2 0h1m47 0h1m6 0h1m16 0h1m58 0h1m318 0h1m63 0h1m12 0h1m46 0h1" shape-rendering="crispEdges"/>
<path stroke="#a0a030" stroke-width="4.52" fill="none" d="M29 41.56h1m145 0h1m75 0h1m7 0h1m4 0h1M74 46.08h1M24 50.6h1m503 0h1m34 0h1m37 0h1M295 55.12h1M28 59.64h1m297 0h1M25 64.15h1m67 0h1m19 0h1m93 0h1m258 0h1m13 0h1M24 68.67h1m18 0h1m190 0h1m88 0h1m109 0h1m102 0h1M154 73.19h1m15 0h1m442 0h1M482 77.71h1m68 0h1M165 82.23h1m37 0h1m31 0h1m18 0h1m9 0h1m6 0h1m51 0h1m59 0h1m128 0h1M147 86.75h1m205 0h1m128 0h1m2 0h1m11 0h1m78 0h1m35 0h1M91 104.83h1m303 0h1m143 0h1M386 109.35h1m102 0h1M147 113.86h1m46 0h1m99 0h1m27 0h1m26 0h1m36 0h1m233 0h1M139 118.38h1m199 0h1m102 0h1m87 0h1m15 0h1M72 122.9h1m113 0h1m132 0h1m1 0h1m28 0h1m210 0h1M139 131.94h1m48 0h1m112 0h1m102 0h1" shape-rendering="crispEdges"/>
<path stroke="#607060" stroke-width="4.52" fill="none" d="M34 41.56h1m105 0h1m56 0h1m149 0h1m229 0h1M49 50.6h1m7 0h1m5 0h1m90 0h1m137 0h1m22 0h1m63 0h1m23 0h1m92 0h1m71 0h1M103 55.12h1m157 0h1m45 0h1m69 0h1m198 0h1M124 59.64h1m175 0h1M27 64.15h1M123 68.67h1m202 0h1m212 0h1m79 0h1M122 73.19h1m202 0h1m47 0h1m255 0h1M66 77.71h1m62 0h1m197 0h1m68 0h1m43 0h1M104 82.23h1m54 0h1m156 0h1m228 0h1M235 86.75h1m391 0h1M140 104.83h1m120 0h1m93 0h1m96 0h1M54 109.35h1m71 0h1m30 0h1m337 0h1m4 0h1m60 0h1m66 0h1M164 118.38h1m243 0h1m147 0h1m43 0h1" shape-rendering="crispEdges"/>
<path stroke="#ffc000" stroke-width="4.52" fill="none" d="M40 41.56h1m73 0h1m58 0h1m7 0h1m33 0h1m1 0h1m6 0h1m46 0h1m4 0h1m90 0h1m52 0h1m59 0h1m33 0h1m16 0h1m9 0h1m38 0h1m2 0h1M30 46.08h1m2 0h1m2 0h1m1 0h1m23 0h1m3 0h1m8 0h1m39 0h1m12 0h2m48 0h1m11 0h1m5 0h1m1 0h1m1 0h1m26 0h1m6 0h2m18 0h1m14 0h1m26 0h2m3 0h1m48 0h1m6 0h1m10 0h1m37 0h1m18 0h2m2 0h1m5 0h1m6 0h1m41 0h1m38 0h1m16 0h1m3 0h1m33 0h1m1 0h1m19 0h1m21 0h2m12 0h1M98 50.6h1m160 0h1m10 0h2m4 0h1m64 0h1m48 0h1m30 0h1m2 0h1m48 0h1m6 0h1m5 0h1m31 0h1m4 0h2M35 55.12h1m37 0h1m44 0h1m64 0h1m88 0h1m35 0h1m44 0h1m25 0h1m34 0h1m59 0h1m3 0h1m38 0h1m10 0h1m51 0h1m1 0h1m5 0h1m4 0h1m42 0h1M20 59.64h1m94 0h1m16 0h1m76 0h1m1 0h1m3 0h1m12 0h1m45 0h1m2 0h3m1 0h1m59 0h1m51 0h1m21 0h1m2 0h1m6 0h1m34 0h1m18 0h1m22 0h1m22 0h1m12 0h1m40 0h1m11 0h1m23 0h1m16 0h1M196 64.15h1m20 0h1m12 0h1m136 0h1m41 0h1m8 0h2m1 0h1m46 0h1m26 0h1m21 0h1m5 0h1m59 0h1m1 0h1M174 68.67h1m36 0h1m14 0h1m5 0h1m38 0h1m3 0h1m3 0h1m57 0h1m14 0h1m50 0h1m6 0h1m108 0h1m40 0h1m23 0h1m3 0h1m1 0h1m2 0h1M52 73.19h1m23 0h1m22 0h1m16 0h1m29 0h1m28 0h1m19 0h1m3 0h1m20 0h2m9 0h1m17 0h1m16 0h1m6 0h1m2 0h1m6 0h1m2 0h1m77 0h1m2 0h2m52 0h1m76 0h1m24 0h1m14 0h1m5 0h1m36 0h1m5 0h1M200 77.71h1m15 0h1m10 0h1m1 0h1m64 0h1m57 0h1m65 0h1m98 0h1m1 0h1m39 0h1M107 82.23h1m15 0h1m73 0h1m13 0h1m12 0h1m2 0h1m20 0h1m26 0h1m5 0h1m37 0h1m75 0h1m28 0h1m17 0h1m27 0h1m5 0h1m2 0h1m100 0h1m1 0h1m51 0h1M63 86.75h2m80 0h1m39 0h1m31 0h1m14 0h1m14 0h1m166 0h1m4 0h1m10 0h1m2 0h1m8 0h1m9 0h1m13 0h1m50 0h1m6 0h1m37 0h1m55 0h1m17 0h1M22 91.27h1m40 0h1m35 0h1m4 0h1m57 0h1m103 0h1m30 0h1m14 0h1m17 0h1m6 0h1m37 0h1m73 0h1m2 0h1m35 0h1m1 0h1m6 0h1m2 0h1m10 0h1m51 0h1m5 0h1M68 104.83h1m7 0h1m7 0h2m12 0h1m127 0h1m32 0h1m187 0h1m11 0h1m5 0h1m26 0h1m29 0h1m35 0h1m19 0h1m35 0h1m22 0h1M283 109.35h1m185 0h1m44 0h1m76 0h1m2 0h1M51 113.86h2m189 0h1m36 0h2m39 0h1m69 0h1m27 0h1m50 0h1m4 0h1m3 0h2m9 0h1m29 0h1m12 0h1m27 0h1m24 0h1M135 118.38h1m18 0h1m116 0h1m1 0h1m2 0h1m5 0h1m73 0h1m60 0h1m21 0h1m142 0h1M33 122.9h2m39 0h1m37 0h2m3 0h1m26 0h1m13 0h1m40 0h1m6 0h1m3 0h1m1 0h1m4 0h1m4 0h1m4 0h1m4 0h1m25 0h1m8 0h2m9 0h1m96 0h1m11 0h1m1 0h1m15 0h1m3 0h1m5 0h1m2 0h1m29 0h1m36 0h1m8 0h1m19 0h1m10 0h1m56 0h1m36 0h2m8 0h1M36 127.42h1m10 0h1m9 0h1m17 0h1m43 0h1m44 0h1m4 0h1m29 0h1m67 0h2m9 0h1m13 0h1m2 0h1m12 0h1m3 0h1m1 0h1m12 0h1m8 0h1m5 0h1m9 0h1m21 0h1m1 0h1m5 0h1m3 0h1m2 0h1m7 0h2m28 0h1m22 0h2m1 0h1m87 0h1m5 0h1m12 0h1m35 0h1m6 0h1m33 0h2M21 131.94h1m31 0h1m6 0h1m32 0h1m43 0h1m19 0h1m6 0h1m15 0h2m3 0h1m12 0h2m11 0h1m56 0h1m1 0h1m10 0h1m34 0h1m8 0h1m13 0h1m10 0h2m42 0h1m22 0h1m58 0h1m41 0h1m34 0h1m24 0h1m15 0h1m26 0h1" shape-rendering="crispEdges"/>
<path stroke="#ffb000" stroke-width="4.52" fill="none" d="M41 41.56h1m56 0h1m33 0h1m21 0h1m64 0h1m111 0h1m9 0h2m60 0h1m18 0h1m131 0h1M43 46.08h1m8 0h1m4 0h1m10 0h1m27 0h1m15 0h1m10 0h1m6 0h1m7 0h1m49 0h1m15 0h1m55 0h1m55 0h1m30 0h1m19 0h1m9 0h1m7 0h1m4 0h2m2 0h1m16 0h1m24 0h1m4 0h1m1 0h1m26 0h1m4 0h1m14 0h1m58 0h1m6 0h1m10 0h1m9 0h1m4 0h2m19 0h1M215 50.6h1m15 0h1m180 0h1M148 55.12h1m56 0h1m11 0h1m31 0h1m67 0h1m49 0h1m16 0h1m7 0h1m17 0h1m16 0h1m29 0h2m30 0h1m25 0h1M52 59.64h1m12 0h1m114 0h1m40 0h1m73 0h1m68 0h1m9 0h1m25 0h1m10 0h1m1 0h1m2 0h1m33 0h1m10 0h1m11 0h1m6 0h1m16 0h1m21 0h1m44 0h1m9 0h1m8 0h1m11 0h1M209 64.15h1m22 0h1m46 0h1m1 0h1m129 0h1m8 0h1m37 0h1m18 0h1m6 0h1m31 0h1M54 68.67h1m55 0h1m1 0h1m104 0h1m66 0h1m73 0h2m48 0h1m13 0h1m90 0h1m2 0h1m6 0h1M200 73.19h1m13 0h1m11 0h1m23 0h1m26 0h1m136 0h1m10 0h1m39 0h1m60 0h1m51 0h1m7 0h1m4 0h1M215 77.71h1m143 0h1m55 0h1m44 0h1m4 0h1m2 0h1m8 0h1m44 0h1M76 82.23h1m31 0h1m167 0h1m6 0h1m1 0h1m8 0h1m115 0h1m51 0h1m1 0h2m2 0h1m53 0h2m3 0h1m56 0h1m2 0h1M105 86.75h1m9 0h1m89 0h1m8 0h1m58 0h1m93 0h1m1 0h1m31 0h1m7 0h1m1 0h1m52 0h1m7 0h1m47 0h1m60 0h1m46 0h1m6 0h1M51 91.27h1m9 0h1m18 0h1m2 0h2m80 0h1m12 0h1m39 0h1m4 0h1m51 0h1m17 0h1m9 0h1m91 0h1m57 0h1m16 0h1m16 0h1m44 0h1m35 0h1M199 104.83h1m10 0h1m14 0h1m58 0h1m177 0h1m3 0h1m1 0h1m4 0h1m3 0h1m26 0h1m14 0h1m71 0h1M109 109.35h1m1 0h1m112 0h1m52 0h1m81 0h2m48 0h1m10 0h1m102 0h1m2 0h1M66 113.86h1m8 0h1m133 0h1m1 0h1m4 0h1m2 0h1m10 0h1m1 0h1m14 0h1m38 0h1m37 0h1m45 0h1m29 0h1m6 0h1m36 0h1m14 0h2m4 0h1m7 0h1m88 0h1m28 0h1M209 118.38h1m11 0h1m6 0h1m135 0h1m113 0h1m105 0h2M31 122.9h1m25 0h1m26 0h1m50 0h1m3 0h1m11 0h1m16 0h1m8 0h1m11 0h1m14 0h1m2 0h3m30 0h1m41 0h1m54 0h1m27 0h1m26 0h1m117 0h1m4 0h1m44 0h1m26 0h1M23 127.42h1m13 0h1m1 0h1m3 0h1m4 0h1m10 0h1m1 0h1m1 0h1m25 0h1m18 0h1m41 0h1m11 0h1m8 0h1m50 0h1m4 0h1m22 0h1m25 0h1m12 0h1m3 0h1m10 0h1m12 0h1m4 0h1m9 0h2m1 0h1m39 0h1m2 0h3m23 0h1m15 0h1m12 0h1m28 0h2m2 0h1m17 0h1m3 0h1m2 0h1m7 0h1m48 0h1m6 0h2m4 0h1m24 0h1m4 0h1m1 0h1m7 0h1m4 0h1m1 0h1M23 131.94h1m12 0h1m28 0h1m6 0h1m19 0h1m60 0h1m1 0h1m56 0h1m8 0h1m5 0h1m20 0h1m3 0h1m40 0h1m70 0h1m25 0h1m7 0h1m20 0h1m33 0h1m23 0h1m17 0h1m21 0h1m3 0h1m34 0h1m34 0h1m3 0h1m7 0h1" shape-rendering="crispEdges"/>
<path stroke="#90b040" stroke-width="4.52" fill="none" d="M43 41.56h1M262 55.12h1M163 64.15h1m13 0h1M335 73.19h1M79 86.75h1m315 0h1M141 109.35h1m18 0h1M76 118.38h1m245 0h1" shape-rendering="crispEdges"/>
<path stroke="#908040" stroke-width="4.52" fill="none" d="M49 41.56h1m79 0h1m72 0h1m25 0h1m88 0h1m43 0h1m54 0h1m95 0h1m36 0h1m51 0h1M249 46.08h1m67 0h1M34 50.6h2m58 0h1m198 0h1m34 0h1m49 0h1m77 0h1m25 0h1m122 0h1m7 0h2M21 55.12h1m63 0h1m54 0h1m13 0h1m26 0h1m24 0h1m14 0h1m112 0h2m117 0h1m11 0h1m83 0h1m21 0h1M39 59.64h1m247 0h1m284 0h1m27 0h2m12 0h1m4 0h1m8 0h1M116 64.15h1m132 0h1m2 0h2m88 0h1m8 0h1m1 0h1m31 0h1m123 0h1M30 68.67h1m89 0h1m32 0h1m22 0h1m26 0h1m37 0h1m100 0h1m97 0h1m80 0h1m34 0h2m75 0h1M24 73.19h1m136 0h1m65 0h1m84 0h1m6 0h1m10 0h1m9 0h1m39 0h1m47 0h1m201 0h1M112 77.71h1m63 0h1m73 0h1m12 0h1m50 0h1m2 0h1m75 0h1m58 0h1m77 0h1M30 82.23h1m13 0h1m106 0h1m2 0h1m395 0h1M26 86.75h1m16 0h1m32 0h1m85 0h1m388 0h1m53 0h1M118 91.27h1m123 0h1m108 0h1m220 0h1M42 104.83h1m60 0h1m15 0h1m29 0h2m118 0h1m93 0h2m32 0h1m76 0h1m45 0h1m33 0h1m8 0h1m3 0h1m40 0h1M187 109.35h1m4 0h1m34 0h1m8 0h1m191 0h1m24 0h1m30 0h1m101 0h1M185 113.86h1m20 0h1m17 0h1m20 0h1m27 0h1m3 0h1m24 0h2m101 0h1m175 0h1M26 118.38h1m92 0h1m126 0h1m204 0h1m95 0h1m67 0h1M192 122.9h1m134 0h1m74 0h1m57 0h2m29 0h1m109 0h1m8 0h1M51 127.42h1m33 0h1m61 0h1m108 0h1m42 0h1m3 0h1M58 131.94h1m38 0h1m7 0h1m28 0h1m48 0h1m11 0h1m239 0h1m112 0h1" shape-rendering="crispEdges"/>
<path stroke="#b0a030" stroke-width="4.52" fill="none" d="M50 41.56h1m150 0h1M511 46.08h1m26 0h1M78 50.6h1m143 0h1m30 0h1m330 0h1M113 55.12h1m102 0h1m254 0h1m136 0h1M126 59.64h1m118 0h1M384 64.15h1m144 0h1M303 68.67h1M177 73.19h1m153 0h1m227 0h1M63 77.71h1m87 0h1m118 0h1M126 82.23h1m169 0h1m42 0h1m25 0h1M385 86.75h1m6 0h1m4 0h1m190 0h1M268 91.27h1M190 104.83h1m213 0h1M270 109.35h1m5 0h1m135 0h1m88 0h1m10 0h1M110 113.86h1m107 0h1m216 0h1M46 118.38h1M36 122.9h1m135 0h1m134 0h1m232 0h1m32 0h1M300 127.42h1M38 131.94h1m62 0h1m194 0h1m175 0h1m1 0h1" shape-rendering="crispEdges"/>
<path stroke="#604060" stroke-width="4.52" fill="none" d="M52 41.56h1m520 0h1M217 50.6h1m223 0h1m39 0h1M91 55.12h1m351 0h1M53 59.64h1m99 0h1m25 0h1m139 0h1m81 0h1m86 0h1M344 68.67h1M286 82.23h1m264 0h1M67 86.75h1m63 0h1M267 91.27h1M426 104.83h1m179 0h1M128 113.86h1m272 0h1M477 118.38h1M343 122.9h1m199 0h1M158 127.42h1M73 131.94h1m502 0h1" shape-rendering="crispEdges"/>
<path stroke="#805040" stroke-width="4.52" fill="none" d="M53 41.56h1M142 46.08h1m193 0h1m150 0h1m58 0h1M228 50.6h1m239 0h1M33 59.64h1m163 0h1m197 0h1m43 0h1m49 0h2m64 0h1m50 0h1M111 68.67h1m314 0h1M221 77.71h1m357 0h1m7 0h1M46 86.75h1m48 0h1m96 0h1m2 0h1m49 0h1m109 0h1m176 0h1M247 91.27h1m87 0h1M347 95.79h1m286 0h1M114 104.83h1m50 0h2m221 0h1m113 0h1M465 109.35h1M69 113.86h1m64 0h1M516 118.38h1m8 0h1M566 122.9h1M99 127.42h1m108 0h1M43 131.94h1m47 0h1m126 0h1m134 0h1m45 0h1" shape-rendering="crispEdges"/>
<path stroke="#907040" stroke-width="4.52" fill="none" d="M54 41.56h1m88 0h2m22 0h1m1 0h1m42 0h1m81 0h1m142 0h1m83 0h1m1 0h1m4 0h1m28 0h1m39 0h2M20 46.08h1m35 0h1m7 0h1m380 0h1m116 0h1M137 50.6h1m200 0h3m21 0h1m68 0h1m161 0h1M44 55.12h1m12 0h1m11 0h1m286 0h1m139 0h1m61 0h2M85 59.64h1m59 0h1m32 0h1m118 0h1m4 0h1m141 0h1m84 0h1M125 64.15h1m34 0h2m27 0h1m110 0h1m137 0h1m18 0h1M82 68.67h1m228 0h1m90 0h1m13 0h1m113 0h2m32 0h1M93 73.19h1m82 0h1m51 0h1m58 0h1m18 0h1m226 0h1m5 0h1M135 77.71h1m144 0h1m70 0h1M97 82.23h1m95 0h2m1 0h1m197 0h1m34 0h1m62 0h1m56 0h1m18 0h1M40 86.75h1m91 0h1m122 0h1m159 0h1m136 0h1m34 0h1m15 0h1m17 0h1M64 91.27h1m11 0h1m49 0h2m13 0h1m171 0h1m296 0h1m18 0h1M28 104.83h1m5 0h1m92 0h1m67 0h1m71 0h1m5 0h1m187 0h1m8 0h1M204 109.35h1m162 0h1m24 0h1M129 113.86h1m109 0h1m11 0h1m248 0h1m11 0h1M71 118.38h1m121 0h1m20 0h1m260 0h1m68 0h1M24 122.9h1m76 0h1m79 0h1m75 0h1m44 0h1m29 0h1m114 0h1m29 0h1m68 0h1M56 127.42h1m432 0h1M61 131.94h1m314 0h1m88 0h1m24 0h1m80 0h2m1 0h1" shape-rendering="crispEdges"/>
<path stroke="#90a050" stroke-width="4.52" fill="none" d="M55 41.56h1M626 68.67h1M372 73.19h1M372 104.83h1m78 0h1M403 109.35h1" shape-rendering="crispEdges"/>
<path stroke="#809050" stroke-width="4.52" fill="none" d="M58 41.56h1m3 0h1m90 0h1m30 0h1m48 0h1m14 0h1m138 0h1m160 0h1M102 50.6h1m188 0h1m110 0h1m130 0h1M104 55.12h1m209 0h1m61 0h1m188 0h1m58 0h1M48 59.64h1m250 0h1m87 0h1m15 0h1m141 0h1M83 64.15h1M40 68.67h1m453 0h1m136 0h1M484 73.19h1m116 0h1m5 0h1m20 0h1M67 77.71h1m60 0h1m164 0h1m90 0h1M29 82.23h1m23 0h1m298 0h1M80 86.75h1m88 0h1m170 0h1m6 0h1m87 0h1M60 104.83h1m64 0h1m5 0h1m73 0h2m31 0h1m82 0h1m7 0h2m18 0h1m49 0h1m199 0h1M101 109.35h1m64 0h1m33 0h1m235 0h1m178 0h1M44 113.86h1m76 0h1m111 0h1m204 0h1m133 0h1M79 118.38h1m85 0h1m344 0h1M245 131.94h1m193 0h1m12 0h1" shape-rendering="crispEdges"/>
<path stroke="#708060" stroke-width="4.52" fill="none" d="M59 41.56h1m97 0h1M322 55.12h1M572 64.15h1M170 68.67h1m89 0h1m4 0h1m162 0h1m115 0h1m64 0h1m7 0h1M318 73.19h1m8 0h1m127 0h1M301 82.23h1M234 86.75h1m159 0h1m50 0h1M80 104.83h1m273 0h1M87 113.86h1m540 0h1M94 118.38h1m171 0h1m85 0h1m150 0h1m59 0h1" shape-rendering="crispEdges"/>
<path stroke="#707050" stroke-width="4.52" fill="none" d="M64 41.56h1m27 0h1m86 0h1m13 0h1m1 0h1m8 0h1m116 0h1m17 0h1m14 0h1m16 0h1m190 0h1M56 50.6h1m49 0h1m187 0h1m63 0h1m205 0h1M120 55.12h1m130 0h1m84 0h1m164 0h1M71 59.64h1m94 0h1m154 0h1m60 0h1m8 0h1m184 0h1M193 64.15h1m140 0h1m41 0h1m65 0h1M44 68.67h1m31 0h1m72 0h1m22 0h1m161 0h1m77 0h2M72 73.19h1m80 0h1m15 0h1m68 0h1m22 0h1m70 0h1m73 0h1m22 0h1m184 0h1m12 0h1M50 77.71h1m72 0h1m62 0h1m15 0h1m28 0h1m47 0h1m60 0h1m1 0h1m51 0h1m16 0h1m32 0h1m10 0h1m48 0h1m44 0h1M80 82.23h1m54 0h1m126 0h2m2 0h1m22 0h2m86 0h1m30 0h1m29 0h1m50 0h1m86 0h1m42 0h1M29 86.75h1m173 0h1m122 0h1m52 0h1m59 0h1m51 0h1m4 0h1m80 0h1m36 0h1M55 104.83h1m1 0h1m97 0h1m27 0h1m35 0h1m167 0h1M193 109.35h1m25 0h1m268 0h1m24 0h1m28 0h1M27 113.86h1m165 0h1m75 0h1m53 0h1m13 0h1m54 0h1m55 0h1m34 0h1m68 0h1m16 0h1M37 118.38h1m51 0h1m5 0h1m78 0h1m21 0h1m92 0h1m134 0h1m25 0h1m136 0h1M90 122.9h1m8 0h1m19 0h1m7 0h1m5 0h1m27 0h1m136 0h1m1 0h1m131 0h1m169 0h1M75 131.94h1m24 0h1m102 0h1m100 0h1m43 0h1m54 0h1m24 0h2m14 0h1m193 0h1" shape-rendering="crispEdges"/>
<path stroke="#506060" stroke-width="4.52" fill="none" d="M65 41.56h1m272 0h1m295 0h1M85 50.6h1m71 0h1m159 0h1m1 0h1m214 0h1M388 55.12h1M560 59.64h1M176 64.15h1m396 0h1m58 0h1M141 68.67h1m185 0h1m210 0h1M97 73.19h1m4 0h1m499 0h1M170 82.23h1m29 0h1m187 0h1M341 86.75h1m292 0h1M130 104.83h1m106 0h1M159 109.35h1m1 0h1m242 0h1m153 0h1m76 0h1M198 113.86h1m240 0h1M628 118.38h1M77 122.9h1M251 131.94h1" shape-rendering="crispEdges"/>
<path stroke="#c0d030" stroke-width="4.52" fill="none" d="M70 41.56h1" shape-rendering="crispEdges"/>
<path stroke="#ffd000" stroke-width="4.52" fill="none" d="M71 41.56h1m32 0h1m1 0h2m8 0h1m4 0h1m49 0h1m35 0h1m1 0h2m5 0h1m5 0h1m8 0h1m124 0h1m15 0h2m21 0h1m17 0h1m7 0h1m5 0h1m26 0h1m12 0h1m9 0h1m20 0h1m4 0h1m12 0h1m1 0h1m1 0h1m1 0h1m1 0h1m66 0h1M45 46.08h1m8 0h1m24 0h1m7 0h1m1 0h1m47 0h1m23 0h1m15 0h1m21 0h1m3 0h1m34 0h1m1 0h1m14 0h1m2 0h1m35 0h1m76 0h1m4 0h1m12 0h1m6 0h1m30 0h1m53 0h1m17 0h1m6 0h1m1 0h1m67 0h1m49 0h1M28 50.6h1m179 0h1m9 0h1m10 0h1m2 0h1m52 0h2m80 0h1m52 0h1m156 0h1M54 55.12h1m21 0h1m7 0h1m24 0h1m6 0h1m110 0h1m47 0h1m4 0h1m88 0h1m41 0h1m13 0h1m13 0h1m79 0h2m2 0h1m15 0h1m38 0h1m6 0h1m1 0h1M66 59.64h1m12 0h1m10 0h1m37 0h1m30 0h1m44 0h1m3 0h1m116 0h1m41 0h2m40 0h1m36 0h1m18 0h2m5 0h1m10 0h1m29 0h1m10 0h1m6 0h1m19 0h2m10 0h1m30 0h1M106 64.15h1m91 0h1m272 0h1m58 0h1m29 0h1M78 68.67h1m169 0h1m168 0h1m60 0h1m33 0h1m68 0h1m17 0h1M63 73.19h1m23 0h1m16 0h1m36 0h1m75 0h1m11 0h1m29 0h1m37 0h1m22 0h1m34 0h1m9 0h1m3 0h1m11 0h1m27 0h1m70 0h2m33 0h1m16 0h1m37 0h1m53 0h1M217 77.71h1m142 0h1m98 0h1m55 0h1m10 0h1m12 0h1m51 0h1M31 82.23h1m74 0h1m5 0h1m33 0h1m43 0h1m41 0h1m87 0h1m76 0h1m11 0h1m108 0h1m18 0h3m38 0h1M116 86.75h1m47 0h1m1 0h1m107 0h1m36 0h1m60 0h1m25 0h1m54 0h1m5 0h2m4 0h1m1 0h1m121 0h1m12 0h1m16 0h1M20 91.27h1m21 0h1m9 0h1m4 0h1m1 0h1m35 0h1m9 0h1m69 0h1m24 0h1m37 0h1m5 0h1m8 0h1m5 0h1m10 0h1m30 0h1m7 0h1m86 0h1m5 0h1m23 0h1m3 0h1m25 0h1m26 0h2m56 0h1m76 0h1m9 0h1m9 0h1M108 104.83h1m27 0h1m35 0h1m41 0h1m16 0h1m12 0h1m27 0h1m3 0h2m1 0h1m89 0h1m39 0h1m33 0h1m25 0h1m55 0h1m5 0h1m48 0h1m11 0h1m4 0h1M60 109.35h2m44 0h1m66 0h1m32 0h1m24 0h1m49 0h1m43 0h1m40 0h1m28 0h1m23 0h1m2 0h1m80 0h1m11 0h1m9 0h1M41 113.86h1m25 0h1m50 0h1m58 0h1m49 0h1m8 0h1m126 0h1m68 0h1m17 0h1m21 0h1m22 0h1m63 0h1m19 0h1m6 0h1M227 118.38h1m3 0h1m133 0h1m3 0h1m51 0h1m51 0h1m2 0h1m45 0h1m56 0h2M51 122.9h1m44 0h1m117 0h1m6 0h1m66 0h2m55 0h1m9 0h1m4 0h1m17 0h1m42 0h2m20 0h1m19 0h2m19 0h1m43 0h1m54 0h1M33 127.42h1m42 0h1m47 0h1m7 0h1m20 0h1m14 0h1m8 0h1m27 0h1m38 0h1m16 0h1m2 0h1m5 0h1m40 0h1m7 0h1m24 0h1m50 0h1m4 0h1m31 0h1m7 0h1m46 0h1m5 0h1m9 0h1m38 0h1m3 0h1M25 131.94h1m25 0h1m36 0h1m73 0h1m30 0h1m35 0h1m32 0h1m10 0h1m35 0h1m50 0h2m4 0h1m17 0h2m36 0h1m1 0h1m53 0h1m6 0h1m3 0h1m3 0h1m21 0h1m3 0h1m16 0h1m10 0h1m6 0h2" shape-rendering="crispEdges"/>
<path stroke="#a09030" stroke-width="4.52" fill="none" d="M73 41.56h1m239 0h1m83 0h1m27 0h1m6 0h1m53 0h1m122 0h1M58 46.08h1m21 0h1m54 0h1m24 0h1m178 0h1M64 50.6h1m121 0h1m51 0h1m10 0h1m17 0h1m146 0h1m44 0h1m176 0h1M419 55.12h1M250 59.64h1m19 0h1m78 0h1m218 0h1M107 64.15h1m71 0h1m213 0h1m67 0h1m46 0h1m85 0h1m38 0h1M90 68.67h1m56 0h1m65 0h1m168 0h1m150 0h1m88 0h1M378 73.19h1m11 0h1m59 0h1m23 0h1m11 0h1m6 0h1M86 77.71h1m104 0h1m109 0h1m37 0h1m7 0h1m16 0h1m89 0h1m1 0h1m97 0h1M172 82.23h1m157 0h1M124 86.75h1m55 0h1m163 0h1m196 0h1M328 91.27h1M94 104.83h1m59 0h1m207 0h1m203 0h1m64 0h1M130 109.35h1m109 0h1m70 0h1m313 0h1M48 113.86h1m59 0h1m120 0h1m400 0h1M30 118.38h1m89 0h1m263 0h1m247 0h1M142 122.9h1m394 0h1M128 127.42h1M172 131.94h1" shape-rendering="crispEdges"/>
<path stroke="#708050" stroke-width="4.52" fill="none" d="M75 41.56h1m85 0h1m73 0h1m26 0h1m73 0h1m210 0h1m87 0h2M147 50.6h1m172 0h1m298 0h1M504 55.12h1m67 0h1m24 0h1m2 0h1M22 59.64h1m13 0h1m105 0h1m189 0h1m226 0h1m74 0h1M50 68.67h1m71 0h1m145 0h1m27 0h1m1 0h1m194 0h1M68 73.19h1m20 0h1m400 0h1m114 0h1M80 77.71h1m43 0h1m323 0h1m57 0h2M61 82.23h1m81 0h1m35 0h1m19 0h1m42 0h1m61 0h1m45 0h1m23 0h1m30 0h1m38 0h1m107 0h1M134 86.75h1m4 0h1m173 0h1m18 0h2m299 0h1M142 109.35h1m39 0h1m135 0h1m118 0h1M24 113.86h1m1 0h1m10 0h1m7 0h1m13 0h3m58 0h1m139 0h1m72 0h2m16 0h1m22 0h1m22 0h1M175 118.38h1m88 0h1m247 0h1M80 122.9h1m216 0h1M120 131.94h1m27 0h1m469 0h1m10 0h1" shape-rendering="crispEdges"/>
<path stroke="#80a050" stroke-width="4.52" fill="none" d="M77 41.56h1m169 0h1m7 0h1m67 0h1m9 0h1m211 0h1M62 50.6h1m109 0h1m225 0h1M50 55.12h1m11 0h1m65 0h1m160 0h1m16 0h1m12 0h1m165 0h1m55 0h1m22 0h1M28 64.15h1m171 0h1M20 68.67h1m243 0h1m119 0h1m42 0h1M79 73.19h1m21 0h1m155 0h1m252 0h1m23 0h2M68 77.71h1m166 0h1M28 82.23h1m49 0h1m68 0h1m12 0h1m8 0h1m71 0h1m75 0h1m25 0h1m32 0h1M291 86.75h2m49 0h1M141 104.83h1M53 109.35h1m78 0h1m419 0h1m48 0h1m30 0h1m3 0h1M550 113.86h1M93 118.38h1m343 0h1" shape-rendering="crispEdges"/>
<path stroke="#807040" stroke-width="4.52" fill="none" d="M79 41.56h1m25 0h1m160 0h1m217 0h1m14 0h1m113 0h1m17 0h1M88 46.08h1m251 0h1m31 0h1M33 50.6h1m147 0h1m76 0h1m118 0h1m14 0h1m7 0h2m6 0h2m194 0h1m1 0h1M43 55.12h1m39 0h1m242 0h1m45 0h1m33 0h1m48 0h1m114 0h1M42 59.64h1m24 0h1m24 0h1m42 0h1m48 0h1m212 0h1m200 0h1M105 64.15h1m11 0h1m23 0h1m320 0h1m9 0h1M98 68.67h1m22 0h1m40 0h1m23 0h1m99 0h1m17 0h1m78 0h1m15 0h1m127 0h1M74 73.19h1m19 0h1m47 0h1m15 0h1m21 0h2m161 0h1m54 0h1m144 0h1m11 0h1M76 77.71h1m160 0h1m14 0h1m63 0h1m15 0h2m27 0h1m227 0h1m16 0h1M150 82.23h1m23 0h1m192 0h1m117 0h2m16 0h1m4 0h1m86 0h1m5 0h1M140 86.75h1m360 0h1m104 0h1M26 91.27h1m4 0h1m153 0h1m70 0h1M298 104.83h1m81 0h1m5 0h1m162 0h1m45 0h1M24 109.35h2m234 0h1m44 0h1m69 0h1m78 0h1m53 0h1m32 0h1m42 0h1m32 0h2M288 113.86h1m28 0h1m21 0h1m117 0h1M96 118.38h1m80 0h1m184 0h1m185 0h1m84 0h1M44 122.9h1m96 0h1m315 0h1m111 0h1M350 127.42h1M98 131.94h1m97 0h1m237 0h1" shape-rendering="crispEdges"/>
<path stroke="#605050" stroke-width="4.52" fill="none" d="M80 41.56h1m49 0h1m136 0h1m2 0h1m119 0h1m49 0h1M63 46.08h1m229 0h1m152 0h1m58 0h1M144 50.6h1m111 0h1m20 0h1m132 0h1M207 55.12h1m140 0h1m6 0h1m106 0h1m127 0h1M537 59.64h1m27 0h1m63 0h1M77 64.15h1m221 0h1m269 0h1M393 68.67h1m132 0h1m2 0h1m53 0h1M64 73.19h1m343 0h1m93 0h1M224 77.71h1m247 0h1M173 82.23h1m147 0h1m121 0h1m191 0h1M240 86.75h1M56 91.27h1m562 0h1M295 104.83h1M153 109.35h1m105 0h1m64 0h1m98 0h1M21 113.86h1m71 0h1m452 0h1M102 118.38h1m167 0h1m61 0h1M183 122.9h1m364 0h1m72 0h1M54 127.42h1m70 0h1m375 0h1m95 0h1M267 131.94h1m65 0h1m89 0h1" shape-rendering="crispEdges"/>
<path stroke="#705050" stroke-width="4.52" fill="none" d="M83 41.56h1m38 0h1m266 0h1m150 0h1m33 0h1m21 0h1M290 46.08h1m163 0h1m98 0h1m55 0h1M70 50.6h2m155 0h1m225 0h1m58 0h1M151 55.12h1m248 0h1m111 0h1m38 0h1M45 59.64h1m109 0h1m36 0h1m110 0h1m102 0h1m38 0h1m11 0h1m1 0h1M51 64.15h1m230 0h1m3 0h1M310 68.67h1m90 0h1m223 0h1M49 73.19h2m350 0h1m97 0h1M222 77.71h1m105 0h1m90 0h1m41 0h1M192 82.23h1m56 0h1m118 0h1M45 86.75h1m44 0h1m36 0h1m5 0h1m40 0h1m24 0h1m43 0h1m58 0h1m11 0h1m67 0h1m121 0h2m41 0h1m60 0h1M547 91.27h1M30 104.83h2m14 0h1m129 0h1m91 0h1m69 0h1m141 0h1M42 109.35h1m137 0h1m44 0h1m9 0h1m3 0h1m9 0h1m141 0h1M72 113.86h1m19 0h1m1 0h1m153 0h1m142 0h1m16 0h1m136 0h1M34 118.38h1m426 0h1m9 0h1M165 122.9h1m29 0h1m210 0h1M24 127.42h1m13 0h1m42 0h1m32 0h1m20 0h1m60 0h1m232 0h1m177 0h1m8 0h1M145 131.94h1m20 0h1m410 0h1m36 0h1" shape-rendering="crispEdges"/>
<path stroke="#906040" stroke-width="4.52" fill="none" d="M84 41.56h1m147 0h1m57 0h1m5 0h1m3 0h2m133 0h1m15 0h1M180 46.08h1m106 0h1m107 0h1m51 0h1m23 0h1M303 50.6h1m121 0h1m28 0h1m48 0h1M428 55.12h1M34 59.64h1m61 0h1m37 0h1m68 0h1m86 0h1m5 0h1m21 0h1m9 0h1m44 0h1m48 0h1m33 0h1m30 0h1m7 0h1M102 64.15h2m254 0h1M55 68.67h1m159 0h2m55 0h1m351 0h1M203 73.19h1m215 0h1m105 0h1M208 77.71h1m215 0h1m163 0h1M70 82.23h1m135 0h1m12 0h1m203 0h1m10 0h1M41 86.75h1m43 0h1m10 0h1m94 0h1m32 0h1m26 0h1m41 0h2m9 0h1m11 0h1m51 0h1m12 0h1m28 0h1m47 0h1m14 0h1M67 91.27h1m14 0h1m2 0h1m39 0h1m55 0h1m14 0h1m72 0h1m35 0h1m20 0h1m16 0h1m8 0h1m5 0h1m22 0h1m1 0h1m22 0h1m30 0h1m68 0h1m26 0h1m5 0h1M47 104.83h1m67 0h1m61 0h1m15 0h1m285 0h1m5 0h1m47 0h1m38 0h1m2 0h1m45 0h1M52 109.35h1m57 0h1m91 0h1m9 0h1m3 0h1m21 0h1m174 0h1m106 0h1M133 113.86h1m4 0h1m64 0h3m38 0h1m66 0h1m7 0h1m39 0h1m52 0h1M103 118.38h1m4 0h1m168 0h1M100 122.9h1m45 0h1m20 0h1m193 0h1m12 0h1m58 0h2m51 0h1m116 0h1M100 127.42h1m37 0h1m104 0h1m114 0h1m8 0h1m141 0h1m21 0h1M20 131.94h1m16 0h1m109 0h1m49 0h1m41 0h2m35 0h1m42 0h1m16 0h1m8 0h1m26 0h1m53 0h1m19 0h1m96 0h1m14 0h1" shape-rendering="crispEdges"/>
<path stroke="#604050" stroke-width="4.52" fill="none" d="M85 41.56h1M438 46.08h1M216 50.6h1m374 0h1M383 55.12h1M520 59.64h1m61 0h1M476 64.15h1m48 0h1M188 68.67h1m310 0h1M204 73.19h1m390 0h1M593 77.71h1M193 86.75h1M147 91.27h1m147 0h1m128 0h1m82 0h1m65 0h1M35 104.83h1m120 0h1m7 0h1m181 0h1m196 0h1M408 109.35h1M371 113.86h1M149 122.9h1m96 0h1m180 0h1m25 0h1m62 0h1m76 0h1M90 127.42h1m314 0h1m104 0h1M27 131.94h1m97 0h1" shape-rendering="crispEdges"/>
<path stroke="#e0ff20" stroke-width="4.52" fill="none" d="M87 41.56h1m15 0h1m13 0h1m82 0h1m33 0h1m269 0h1M149 50.6h1m8 0h1m12 0h1m26 0h1m119 0h1m248 0h1M26 55.12h1m99 0h1m277 0h1M40 59.64h1m20 0h1m95 0h1m47 0h1m57 0h1m90 0h1m126 0h1m18 0h1M348 64.15h1m282 0h1M28 68.67h1m97 0h1m209 0h1m59 0h1m232 0h1M44 73.19h1m2 0h1m19 0h1m30 0h1m6 0h1m41 0h1m140 0h1m22 0h1m22 0h1m48 0h1m49 0h1m51 0h1m131 0h1m7 0h1M27 77.71h1m264 0h1M142 82.23h1m263 0h1m75 0h1m61 0h1m14 0h1M52 86.75h1m285 0h1m9 0h1m80 0h1m4 0h1m124 0h1m39 0h1M171 104.83h1m88 0h1m87 0h1m93 0h1m6 0h1m110 0h1m37 0h1M446 109.35h1m10 0h1m99 0h1M36 113.86h1m25 0h1m13 0h1m48 0h1m174 0h1m24 0h1m247 0h1M262 118.38h1m2 0h1M86 131.94h1m105 0h1m51 0h1m109 0h1m38 0h1m49 0h1m5 0h1m152 0h1m2 0h1m13 0h1" shape-rendering="crispEdges"/>
<path stroke="#fff000" stroke-width="4.52" fill="none" d="M89 41.56h1m86 0h1m3 0h1m25 0h1m18 0h1m58 0h1m58 0h1m109 0h1m5 0h1m1 0h1m3 0h1m2 0h2m2 0h1m3 0h1m30 0h1m3 0h1m7 0h1m9 0h1m49 0h1m37 0h1M23 46.08h1m2 0h1m5 0h1m8 0h1m19 0h1m10 0h1m47 0h1m6 0h1m3 0h1m8 0h1m2 0h1m2 0h1m6 0h2m12 0h1m14 0h1m2 0h1m15 0h1m44 0h1m10 0h1m5 0h1m1 0h1m34 0h1m1 0h1m22 0h1m3 0h1m4 0h1m65 0h1m3 0h1m45 0h2m4 0h1m28 0h1m2 0h1m44 0h1m8 0h1m23 0h1m5 0h1m31 0h1m10 0h1M114 50.6h1m110 0h1m46 0h1m246 0h1M36 55.12h1m44 0h1m25 0h1m4 0h1m45 0h1m64 0h1m4 0h1m21 0h1m7 0h1m138 0h1m17 0h1m4 0h1m46 0h1m7 0h1m110 0h1M38 59.64h1m41 0h1m56 0h1m34 0h1m51 0h1m28 0h1m21 0h1m30 0h1m56 0h1m19 0h1m67 0h1m34 0h1m11 0h1m18 0h1m71 0h1m47 0h1M212 64.15h1m12 0h1m189 0h1m112 0h1m60 0h1M107 68.67h1m42 0h1m26 0h1m40 0h1m64 0h1m76 0h1m2 0h3m4 0h1m38 0h1m9 0h1m42 0h1m57 0h1M29 73.19h1m15 0h1m86 0h1m76 0h1m65 0h1m78 0h1m3 0h1m7 0h1m12 0h1m38 0h1m20 0h1m73 0h1m6 0h2m24 0h1m7 0h1m35 0h1M111 77.71h1m2 0h1m84 0h1m10 0h1m75 0h1m82 0h1m151 0h1m68 0h1M57 82.23h1m220 0h1m140 0h1m2 0h1m18 0h1m36 0h1m38 0h1m6 0h1m18 0h1m46 0h1M106 86.75h1m7 0h1m22 0h1m3 0h1m68 0h1m61 0h1m51 0h1m124 0h1m62 0h1m69 0h1m28 0h1M20 104.83h1m91 0h1m10 0h1m56 0h1m10 0h1m26 0h1m66 0h1m71 0h1m9 0h1m52 0h2m5 0h1m80 0h1m9 0h1m4 0h1m5 0h1m21 0h1m31 0h1M76 109.35h1m152 0h1m48 0h2m141 0h1m51 0h2m10 0h1m46 0h1m54 0h1m11 0h1M84 113.86h1m26 0h1m105 0h1m53 0h2m3 0h1m5 0h1m131 0h1m5 0h1m33 0h1m25 0h1m36 0h1m9 0h1m5 0h1m27 0h1m20 0h1m10 0h1M219 118.38h1m3 0h1m143 0h1m84 0h1m5 0h1m5 0h2m8 0h1m53 0h1M41 122.9h1m84 0h1m61 0h1m163 0h1m28 0h1m2 0h1m11 0h1m34 0h1m63 0h1m103 0h1m9 0h1M67 127.42h1m5 0h1m8 0h1m60 0h1m26 0h1m32 0h1m62 0h1m20 0h1m35 0h1m10 0h1m4 0h1m102 0h1m43 0h1m17 0h1m6 0h1m52 0h1M78 131.94h1m82 0h1m14 0h1m70 0h1m64 0h1m24 0h1m40 0h1m16 0h1m12 0h1m119 0h1m52 0h1m8 0h1m31 0h1m10 0h1" shape-rendering="crispEdges"/>
<path stroke="#605060" stroke-width="4.52" fill="none" d="M90 41.56h1m86 0h1M46 46.08h1M580 50.6h1M398 55.12h1M343 59.64h1m243 0h1M224 64.15h1M79 68.67h1M272 73.19h1M134 77.71h1m206 0h1m40 0h1M45 82.23h1m109 0h1m173 0h1M297 86.75h1m244 0h1m10 0h1m59 0h1M254 91.27h1m176 0h1M57 109.35h1m136 0h1M433 113.86h1m76 0h1M121 118.38h1m122 0h1M45 122.9h1m282 0h1m255 0h1m51 0h1M79 127.42h1" shape-rendering="crispEdges"/>
<path stroke="#d0ff30" stroke-width="4.52" fill="none" d="M97 41.56h1m25 0h1m58 0h1m63 0h1m98 0h1m162 0h1m44 0h1m5 0h1M150 50.6h2m7 0h1m154 0h1m179 0h1M161 55.12h1m177 0h1m108 0h1m157 0h1M498 64.15h1M88 68.67h1m353 0h1m175 0h1M51 73.19h1m25 0h1m6 0h1m58 0h1m6 0h1m21 0h2m200 0h1m120 0h1m49 0h1M397 77.71h1m43 0h1M105 82.23h1m219 0h1m72 0h1m56 0h1M374 86.75h1M201 104.83h1m227 0h1m65 0h1m132 0h1M77 109.35h1M63 113.86h1m132 0h1m102 0h1m266 0h1M200 118.38h1m338 0h1" shape-rendering="crispEdges"/>
<path stroke="#ffe000" stroke-width="4.52" fill="none" d="M109 41.56h1m2 0h1m72 0h1m22 0h1m18 0h1m17 0h1m7 0h1m21 0h1m7 0h1m2 0h1m25 0h1m47 0h1m4 0h1m3 0h1m7 0h1m32 0h1m4 0h1m47 0h1m19 0h1m41 0h1m1 0h1m4 0h1m17 0h1m5 0h1m53 0h1M27 46.08h1m21 0h1m19 0h1m13 0h1m1 0h1m11 0h1m2 0h1m54 0h1m7 0h1m7 0h1m11 0h1m9 0h1m50 0h1m3 0h1m43 0h1m12 0h1m1 0h1m4 0h1m15 0h1m9 0h1m5 0h2m36 0h1m5 0h1m3 0h1m9 0h1m28 0h1m62 0h2m13 0h1m33 0h1m11 0h1m1 0h2m5 0h2m58 0h1m5 0h1m1 0h1M88 50.6h1m18 0h1m91 0h1m10 0h2m130 0h1m20 0h2m214 0h1M125 55.12h1m21 0h1m11 0h2m21 0h1m64 0h1m36 0h1m2 0h1m73 0h1m4 0h1m1 0h1m27 0h1m8 0h1m53 0h1m4 0h1m60 0h1m5 0h1m6 0h1m21 0h1m22 0h1m5 0h1M91 59.64h1m13 0h2m20 0h1m8 0h1m23 0h1m16 0h1m34 0h2m12 0h1m29 0h1m27 0h1m57 0h1m65 0h1m11 0h2m4 0h1m139 0h1m17 0h1m7 0h1m15 0h1M111 64.15h1m42 0h1m37 0h1m4 0h1m23 0h1m5 0h1m20 0h1m28 0h1m82 0h1m42 0h1m6 0h1m1 0h3m1 0h1m7 0h1m45 0h1m7 0h1m35 0h1m12 0h1m50 0h1m11 0h1M109 68.67h1m120 0h1m54 0h1m82 0h1m55 0h1m16 0h1m26 0h1m56 0h1m65 0h1M115 73.19h1m114 0h1m15 0h2m12 0h1m3 0h1m6 0h1m6 0h1m5 0h2m23 0h1m47 0h1m3 0h1m32 0h1m28 0h1m16 0h1m19 0h1m11 0h1m14 0h1m54 0h1m36 0h2m41 0h1M172 77.71h1m63 0h1m131 0h1m48 0h1m35 0h1m24 0h1m46 0h1m5 0h1M208 82.23h2m23 0h1m34 0h1m8 0h1m83 0h1m1 0h1m53 0h1m40 0h1m4 0h1m127 0h4M28 86.75h1m79 0h1m112 0h1m6 0h1m41 0h1m13 0h1m44 0h1m36 0h1m33 0h1m7 0h1m32 0h1m76 0h1m9 0h1m57 0h1M21 91.27h1m3 0h1m34 0h1m111 0h1m78 0h1m3 0h1m46 0h1m17 0h1m77 0h1m5 0h1m34 0h1m17 0h1m24 0h1m6 0h1m59 0h1m12 0h1m8 0h1m31 0h1m3 0h1m23 0h1M43 104.83h1m39 0h1m42 0h1m88 0h1m11 0h1m5 0h1m126 0h1m7 0h1m43 0h1m47 0h1m26 0h1m3 0h1m20 0h1m4 0h1m3 0h1m82 0h1M30 109.35h1m81 0h1m117 0h1m75 0h1m51 0h1m9 0h1m56 0h1m1 0h1m33 0h1m6 0h1m2 0h1m7 0h1m48 0h1m1 0h1m37 0h1m10 0h1M20 113.86h1m76 0h1m16 0h1m95 0h1m1 0h1m7 0h1m57 0h1m2 0h1m2 0h1m16 0h1m39 0h1m18 0h3m16 0h1m76 0h1m49 0h1m11 0h1m28 0h1m6 0h1m23 0h1M27 118.38h1m90 0h1m107 0h1m34 0h1m19 0h1m3 0h1m130 0h1m31 0h1m5 0h1m126 0h1m43 0h1M40 122.9h1m11 0h1m7 0h1m5 0h1m1 0h1m16 0h1m19 0h1m18 0h1m66 0h1m26 0h1m22 0h1m17 0h1m71 0h1m8 0h1m8 0h1m30 0h1m63 0h1m6 0h1m118 0h1m18 0h1m23 0h1m13 0h1M25 127.42h2m31 0h1m15 0h1m3 0h1m5 0h1m1 0h1m36 0h1m2 0h1m33 0h1m6 0h1m66 0h1m2 0h3m29 0h1m40 0h1m9 0h2m7 0h1m13 0h1m3 0h3m35 0h1m10 0h1m141 0h1m35 0h1m30 0h1M28 131.94h1m6 0h1m3 0h1m10 0h1m15 0h1m22 0h1m17 0h1m6 0h1m128 0h1m19 0h1m15 0h1m2 0h1m5 0h1m24 0h1m24 0h1m30 0h1m43 0h2m3 0h1m39 0h1m8 0h1m18 0h1m11 0h1m93 0h1m19 0h1" shape-rendering="crispEdges"/>
<path stroke="#904040" stroke-width="4.52" fill="none" d="M110 41.56h1m167 0h2M229 46.08h1m94 0h1m152 0h1M272 59.64h1m253 0h1M97 91.27h1m38 0h1m31 0h1m80 0h1m97 0h1m97 0h1m115 0h1m26 0h1m12 0h1M73 95.79h1m28 0h1m2 0h1m14 0h1m63 0h1m121 0h1m81 0h1M129 100.31h1m245 0h1m116 0h1M371 104.83h1m92 0h1m2 0h1M369 113.86h1M50 122.9h1m233 0h1m191 0h1m74 0h1M186 127.42h1m60 0h1m54 0h1m54 0h1m98 0h1M215 131.94h1" shape-rendering="crispEdges"/>
<path stroke="#ff9000" stroke-width="4.52" fill="none" d="M113 41.56h1m250 0h1m44 0h1m2 0h1m5 0h1m41 0h1m54 0h1m14 0h1M34 46.08h1m72 0h1m1 0h1m4 0h1m30 0h1m1 0h1m8 0h1m8 0h1m50 0h2m4 0h1m7 0h1m33 0h1m7 0h1m18 0h1m22 0h1m43 0h1m7 0h1m16 0h2m29 0h1m8 0h1m13 0h1m10 0h1m6 0h1m16 0h1m1 0h1m22 0h1m2 0h1m1 0h1m32 0h1m35 0h1m7 0h1m13 0h1m4 0h1m2 0h1m9 0h2m15 0h1M113 50.6h1m98 0h1m7 0h1m53 0h2m4 0h1m84 0h1m57 0h1m51 0h1m40 0h1m69 0h1M111 55.12h1m98 0h2m3 0h1m6 0h1m1 0h2m52 0h1m79 0h1m62 0h1m1 0h1m48 0h1m3 0h1m53 0h1m1 0h1m46 0h1M206 59.64h1m13 0h1m9 0h1m138 0h1m145 0h1m11 0h1m4 0h1M108 64.15h2m103 0h1m1 0h1m13 0h1m45 0h1m88 0h1m102 0h1m5 0h1m44 0h1m68 0h1M108 68.67h1m5 0h1m92 0h1m1 0h1m18 0h1m236 0h1m1 0h1m50 0h1m5 0h1m61 0h1M113 73.19h1m92 0h1m74 0h1m134 0h1m45 0h1m3 0h1m8 0h1m1 0h1m53 0h1M109 77.71h1m108 0h1m7 0h1m57 0h1m184 0h1m10 0h1m37 0h1m4 0h1m3 0h1m53 0h1M214 82.23h2m5 0h1m193 0h1m55 0h1m8 0h1m40 0h1m7 0h1m49 0h1m9 0h1M209 86.75h1m2 0h1m147 0h1m3 0h1m53 0h1m96 0h1m76 0h1M43 91.27h1m57 0h1m6 0h1m1 0h1m3 0h1m5 0h1m25 0h1m12 0h1m14 0h1m11 0h1m2 0h1m4 0h1m11 0h2m22 0h1m1 0h1m7 0h1m11 0h1m45 0h1m58 0h1m32 0h1m23 0h1m32 0h1m64 0h1m23 0h1m7 0h1m5 0h1m26 0h1M24 95.79h1m4 0h1m1 0h1m8 0h1m4 0h1m4 0h1m13 0h1m20 0h1m52 0h2m5 0h1m7 0h1m17 0h1m69 0h1m9 0h1m10 0h1m28 0h1m5 0h1m2 0h1m18 0h1m10 0h1m12 0h1m11 0h1m23 0h1m71 0h1m37 0h1m59 0h1m25 0h1m56 0h1M109 104.83h1m3 0h1m99 0h1m57 0h1m87 0h1m50 0h1m64 0h1m2 0h1M113 109.35h1m118 0h1m49 0h1m1 0h1m132 0h1m6 0h1m41 0h2m4 0h1m49 0h1m6 0h1m48 0h1M228 113.86h1m45 0h1m144 0h1m5 0h1m36 0h1m12 0h1m49 0h1m3 0h1m64 0h1M207 118.38h1m2 0h1m6 0h1M22 122.9h1m9 0h1m9 0h1m78 0h1m31 0h1m21 0h1m2 0h1m24 0h1m27 0h1m10 0h2m9 0h1m19 0h1m73 0h1m56 0h1m11 0h1m12 0h1m10 0h3m9 0h1m15 0h1m4 0h2m6 0h1m42 0h1m46 0h1m20 0h1m1 0h1M30 127.42h1m1 0h1m64 0h1m6 0h2m35 0h1m39 0h1m8 0h1m7 0h1m1 0h1m40 0h1m9 0h1m21 0h1m1 0h1m86 0h2m1 0h1m6 0h1m62 0h1m8 0h1m24 0h1m15 0h1m31 0h1m18 0h1m14 0h1m37 0h1m35 0h1M57 131.94h1m172 0h1m1 0h1m36 0h1m2 0h1m2 0h1m2 0h1m86 0h1m2 0h1m20 0h1m25 0h1m52 0h1m99 0h1m14 0h2" shape-rendering="crispEdges"/>
<path stroke="#808050" stroke-width="4.52" fill="none" d="M127 41.56h1m109 0h1M100 50.6h1m221 0h1m239 0h1M253 55.12h1m314 0h1m29 0h1M37 59.64h1m36 0h1m66 0h1M283 64.15h1M102 68.67h1m91 0h1m138 0h1m120 0h1M328 73.19h1m275 0h1M81 77.71h1m429 0h1M21 82.23h1m144 0h1m284 0h1m152 0h1M119 86.75h1M56 104.83h1m77 0h1m100 0h1m300 0h1M95 109.35h1m226 0h1m215 0h1M263 113.86h1M306 122.9h1m196 0h1" shape-rendering="crispEdges"/>
<path stroke="#c0ff30" stroke-width="4.52" fill="none" d="M131 41.56h1m66 0h1m147 0h1m81 0h1M341 55.12h1m43 0h1M315 73.19h1m255 0h1" shape-rendering="crispEdges"/>
<path stroke="#e0ff10" stroke-width="4.52" fill="none" d="M135 41.56h1M620 50.6h1M309 55.12h1m30 0h1m193 0h1M125 68.67h1m432 0h1M560 73.19h1m71 0h1M398 77.71h1M20 82.23h1m416 0h1M138 86.75h1M328 104.83h1m241 0h1m58 0h1M247 109.35h1M35 113.86h1M254 131.94h1m71 0h1m15 0h1m195 0h1m81 0h1" shape-rendering="crispEdges"/>
<path stroke="#a0a040" stroke-width="4.52" fill="none" d="M139 41.56h1M288 50.6h1M186 55.12h1M316 64.15h1m16 0h1M116 68.67h1M366 77.71h1M308 86.75h1M406 104.83h1M292 109.35h1M335 113.86h1M560 131.94h1" shape-rendering="crispEdges"/>
<path stroke="#706050" stroke-width="4.52" fill="none" d="M142 41.56h1m101 0h1m20 0h1m21 0h1m5 0h1m17 0h1m32 0h1m39 0h1m54 0h1m47 0h1m127 0h1m17 0h1M21 46.08h1m313 0h1M29 50.6h1m49 0h1m105 0h1m1 0h1m182 0h2m23 0h1m61 0h1m171 0h1M29 55.12h1m145 0h1m68 0h1m79 0h1m7 0h1m40 0h1m57 0h1m62 0h1m53 0h1M43 59.64h2m128 0h1m253 0h1m82 0h1m24 0h1m57 0h1m15 0h1m3 0h1M43 64.15h1m31 0h1m36 0h1m1 0h1m105 0h1m37 0h1m13 0h1m89 0h1M83 68.67h1m178 0h1m65 0h1m12 0h1m35 0h2m59 0h1m93 0h1M25 73.19h1m35 0h1m33 0h1m66 0h1m19 0h1m14 0h1m44 0h1m67 0h1m171 0h1m93 0h1M77 77.71h1m101 0h1m163 0h1M34 82.23h1m8 0h1m294 0h1m25 0h1m119 0h1m21 0h2m5 0h1m89 0h1m8 0h1M65 86.75h1m223 0h1m164 0h1m160 0h1M77 91.27h1m16 0h1m234 0h1M82 104.83h1m60 0h1m25 0h1m95 0h1m147 0h1m14 0h1m59 0h1m22 0h1m43 0h1m51 0h1M56 109.35h1m98 0h1m23 0h1m61 0h1m141 0h1m10 0h1m31 0h1m15 0h1m1 0h1m41 0h1m30 0h1m65 0h1M109 113.86h1m20 0h1m51 0h1m324 0h1M70 118.38h1m44 0h1m174 0h2m253 0h1m70 0h1M106 122.9h1m338 0h1m42 0h1M53 127.42h1m208 0h1m68 0h1m61 0h1m169 0h1" shape-rendering="crispEdges"/>
<path stroke="#a0b030" stroke-width="4.52" fill="none" d="M148 41.56h1m188 0h1M245 50.6h1M115 55.12h1m75 0h1m308 0h1M148 59.64h1m9 0h1M31 68.67h1M335 77.71h1m111 0h1M348 82.23h1m139 0h1M121 104.83h1M271 109.35h1m92 0h1M102 122.9h1m132 0h1m218 0h1M540 131.94h1" shape-rendering="crispEdges"/>
<path stroke="#90a040" stroke-width="4.52" fill="none" d="M150 41.56h1m87 0h1m110 0h1m106 0h1m31 0h1m6 0h1m47 0h1m16 0h1M126 50.6h1m19 0h1m35 0h1m63 0h1M37 55.12h1m7 0h1m6 0h1m292 0h1m35 0h1m5 0h1m7 0h1m157 0h1m19 0h1m21 0h1M123 59.64h1M239 64.15h1m6 0h1m207 0h1M51 68.67h1m88 0h1M82 73.19h1m322 0h1m159 0h1m65 0h1M36 77.71h1m289 0h1m68 0h1M303 82.23h1m69 0h1m33 0h1M135 86.75h1m19 0h1m178 0h1m208 0h1m87 0h1M318 104.83h1M288 109.35h1m26 0h1m23 0h1m14 0h1m218 0h1M197 113.86h1m67 0h1m89 0h1m19 0h1m262 0h1M36 118.38h1m87 0h1m354 0h1M595 122.9h1M48 131.94h1m27 0h1m72 0h1m86 0h1m160 0h1m230 0h1" shape-rendering="crispEdges"/>
<path stroke="#709050" stroke-width="4.52" fill="none" d="M152 41.56h1m108 0h1M53 50.6h1m101 0h1M174 55.12h1M326 82.23h1M626 86.75h1M61 104.83h1m80 0h1M78 118.38h1m461 0h1m14 0h1m43 0h1M250 131.94h1" shape-rendering="crispEdges"/>
<path stroke="#a08030" stroke-width="4.52" fill="none" d="M168 41.56h1m22 0h1m117 0h1m75 0h1m185 0h1M242 46.08h1m110 0h1m150 0h1M76 50.6h1m66 0h1m129 0h1m92 0h1m61 0h1m22 0h1m69 0h1M68 55.12h1m216 0h1m61 0h1m113 0h1m33 0h1m47 0h1M49 59.64h1m294 0h1m84 0h1m1 0h1M44 64.15h1m31 0h1m1 0h1m31 0h1m375 0h1m81 0h1M221 68.67h1m107 0h1m15 0h1m54 0h1m36 0h1m31 0h1m6 0h1m23 0h1M60 73.19h1m218 0h1m9 0h1m15 0h1m36 0h1m110 0h1m49 0h1m71 0h1M223 77.71h1m247 0h1m25 0h1m34 0h1m72 0h1M59 82.23h1m32 0h1m5 0h1m39 0h1m363 0h1m13 0h1m29 0h1m55 0h1m10 0h1M66 86.75h1m30 0h1m28 0h1m137 0h1m10 0h1m20 0h1m60 0h1m31 0h1m148 0h1M163 91.27h1m20 0h1m49 0h1m173 0h1m33 0h1m51 0h1M106 104.83h1m60 0h1m126 0h1m30 0h1m13 0h1m143 0h1m26 0h1m57 0h1m20 0h1M41 109.35h1m112 0h1m79 0h1m10 0h1m4 0h1m127 0h1m128 0h1M57 113.86h1m94 0h1m27 0h1m347 0h1m71 0h1M33 118.38h1m5 0h1m115 0h1m60 0h1m55 0h1m197 0h1m112 0h1M136 122.9h1m10 0h1m82 0h1m86 0h1m15 0h1m8 0h1m113 0h1M87 127.42h1m107 0h1m57 0h1m43 0h1m272 0h1M133 131.94h1m108 0h1m56 0h1m109 0h1m23 0h1m95 0h1m45 0h1m54 0h1" shape-rendering="crispEdges"/>
<path stroke="#608060" stroke-width="4.52" fill="none" d="M183 41.56h1m104 0h1m26 0h1m8 0h1m80 0h1m23 0h1M43 50.6h1m2 0h1m36 0h1m2 0h1m35 0h1m125 0h1m57 0h1m23 0h1m49 0h1m167 0h1m62 0h1M315 55.12h1m247 0h1M88 64.15h1m6 0h1m48 0h1m89 0h1m83 0h1m215 0h1M21 68.67h1m17 0h1m47 0h1m5 0h2m42 0h1m180 0h2M58 73.19h1m132 0h1m134 0h1m182 0h1m42 0h1M243 77.71h1M85 82.23h1M44 109.35h1m299 0h1m105 0h1m45 0h1m2 0h1m96 0h1m32 0h1M25 113.86h1m130 0h1m11 0h1m278 0h1m60 0h1M180 118.38h1m21 0h1m192 0h1m11 0h1m93 0h1m112 0h1" shape-rendering="crispEdges"/>
<path stroke="#c0b020" stroke-width="4.52" fill="none" d="M187 41.56h1M236 46.08h1m252 0h1m3 0h1m80 0h1m21 0h1m34 0h1M470 50.6h1M273 55.12h1m173 0h1M214 64.15h1m151 0h1M115 68.67h1m94 0h1M112 73.19h1M212 82.23h1m319 0h1M27 86.75h1M111 104.83h1m482 0h1M397 109.35h1M458 113.86h1m117 0h1M435 122.9h1M146 127.42h1" shape-rendering="crispEdges"/>
<path stroke="#a0b040" stroke-width="4.52" fill="none" d="M199 41.56h1M264 50.6h1m116 0h1M66 55.12h1m553 0h1M265 59.64h1M355 64.15h1M199 68.67h1m97 0h1m153 0h1M375 73.19h1m191 0h1m40 0h1M553 82.23h1M558 86.75h1M124 104.83h1m168 0h1M319 109.35h1M154 113.86h1m158 0h1M621 118.38h1M143 131.94h1" shape-rendering="crispEdges"/>
<path stroke="#b06030" stroke-width="4.52" fill="none" d="M211 41.56h1m250 0h1M60 46.08h1m114 0h1m345 0h1m92 0h1M418 68.67h1M582 73.19h1m9 0h1M363 77.71h1M111 82.23h1m162 0h1M140 91.27h1m153 0h1m236 0h1m72 0h1M411 104.83h1m112 0h1M275 109.35h1M515 118.38h1M586 122.9h1M65 127.42h1m507 0h1m1 0h1m35 0h1M200 131.94h1m263 0h1" shape-rendering="crispEdges"/>
<path stroke="#ffa000" stroke-width="4.52" fill="none" d="M213 41.56h1m60 0h1m83 0h2m3 0h1m4 0h1m89 0h1m5 0h1m5 0h1m3 0h1m109 0h1m5 0h1M24 46.08h1m19 0h1m5 0h1m8 0h1m17 0h1m15 0h1m4 0h1m22 0h2m3 0h1m35 0h1m7 0h1m16 0h1m9 0h1m7 0h1m5 0h1m9 0h1m4 0h1m32 0h1m13 0h1m1 0h1m1 0h1m31 0h1m8 0h1m45 0h1m16 0h1m5 0h1m10 0h1m14 0h1m5 0h1m8 0h1m1 0h1m13 0h1m18 0h1m16 0h1m11 0h1m19 0h1m14 0h1m45 0h1m10 0h1m10 0h1m17 0h1m3 0h1m11 0h1m5 0h1M108 50.6h1m105 0h1m4 0h1m62 0h1m85 0h1m46 0h1m3 0h1m54 0h1m40 0h1M106 55.12h1m107 0h1m5 0h1m11 0h1m41 0h1m4 0h1m79 0h1m3 0h1m1 0h1m43 0h1m2 0h1m53 0h1m13 0h1m110 0h1M99 59.64h1m8 0h1m3 0h2m8 0h1m10 0h1m73 0h1m14 0h1m48 0h1m10 0h1m77 0h1m15 0h2m32 0h1m13 0h1m39 0h1m2 0h1m3 0h1m2 0h1m3 0h1m20 0h1m16 0h1m90 0h1m28 0h1M228 64.15h1m45 0h1m5 0h1m82 0h1m101 0h1m3 0h1m5 0h1m48 0h1m54 0h4m8 0h1M106 68.67h1m171 0h1m1 0h1m139 0h1m4 0h1m38 0h1m15 0h1m34 0h1M208 73.19h1m1 0h1m7 0h2m5 0h1m48 0h1m7 0h1m130 0h1m54 0h1m7 0h1m39 0h1m7 0h1m59 0h1M206 77.71h2m154 0h1m7 0h1m43 0h1m98 0h1m2 0h1m75 0h1M116 82.23h1m112 0h1m1 0h1m52 0h1m126 0h1m6 0h1m109 0h1M112 86.75h1m35 0h1m14 0h1m8 0h1m35 0h1m6 0h2m10 0h1m1 0h2m17 0h1m32 0h1m72 0h1m7 0h1m50 0h1m2 0h1m4 0h1m21 0h1m3 0h1m29 0h2m46 0h1m5 0h1m16 0h1m14 0h1m27 0h1m37 0h1M24 91.27h1m2 0h2m78 0h1m16 0h1m23 0h1m42 0h1m17 0h1m4 0h1m1 0h1m40 0h2m2 0h2m21 0h2m52 0h1m5 0h1m15 0h1m5 0h1m27 0h1m5 0h1m12 0h1m29 0h1m14 0h2m6 0h1m5 0h1m3 0h1m8 0h1m7 0h1m15 0h1m35 0h1m2 0h1m10 0h1m7 0h1m2 0h1m53 0h1m1 0h1M30 95.79h1m132 0h1m3 0h1m21 0h1m136 0h1m103 0h1m189 0h1m12 0h1M87 104.83h1m100 0h1m18 0h1m12 0h2m53 0h1m4 0h1m50 0h2m83 0h1m2 0h1m30 0h1m52 0h1m12 0h1m39 0h1m14 0h1m7 0h1m2 0h1m5 0h1m4 0h1m11 0h1M214 109.35h2m1 0h1m5 0h1m50 0h1m86 0h1m48 0h1m49 0h1M112 113.86h1m2 0h1m92 0h1m12 0h1m1 0h1m51 0h1m89 0h1m43 0h1m5 0h1m6 0h1m41 0h1m1 0h1m4 0h1m41 0h1m1 0h1m73 0h1M109 118.38h2m1 0h2m92 0h1m67 0h1m4 0h1m132 0h1m2 0h1m51 0h1m51 0h2M28 122.9h2m8 0h1m68 0h1m1 0h1m5 0h1m29 0h1m4 0h1m23 0h1m48 0h1m5 0h1m24 0h1m15 0h1m6 0h1m3 0h1m48 0h1m8 0h1m36 0h1m6 0h1m9 0h1m1 0h1m12 0h1m2 0h2m15 0h1m42 0h1m11 0h1m9 0h1m6 0h1m78 0h1m5 0h1m4 0h1M40 127.42h1m5 0h1m51 0h1m4 0h1m3 0h1m5 0h1m23 0h1m14 0h1m10 0h1m8 0h1m3 0h1m20 0h1m9 0h1m1 0h1m6 0h1m3 0h1m19 0h1m45 0h1m22 0h1m30 0h1m46 0h1m15 0h1m26 0h1m12 0h1m1 0h1m48 0h1m32 0h1m6 0h1m19 0h1m2 0h1m18 0h1m1 0h1m2 0h1m1 0h2M22 131.94h1m48 0h1m41 0h1m1 0h2m100 0h1m5 0h1m4 0h1m2 0h1m48 0h1m2 0h1m5 0h1m31 0h1m6 0h1m50 0h2m31 0h1m3 0h1m31 0h1m17 0h1m21 0h1m5 0h1m1 0h1m82 0h1m6 0h1m1 0h1" shape-rendering="crispEdges"/>
<path stroke="#c06020" stroke-width="4.52" fill="none" d="M220 41.56h1M82 46.08h1m3 0h1m94 0h1m98 0h1m71 0h1m56 0h1m129 0h1m28 0h1M271 55.12h1m14 0h1M519 73.19h1m65 0h1M467 82.23h1M145 91.27h1m217 0h1m22 0h1M258 95.79h1M586 104.83h1M425 118.38h1M272 122.9h1M120 127.42h1m317 0h1m66 0h1m130 0h1M589 131.94h1" shape-rendering="crispEdges"/>
<path stroke="#703050" stroke-width="4.52" fill="none" d="M221 41.56h1M343 46.08h1M526 50.6h1M218 59.64h1m302 0h1M371 86.75h1M137 91.27h2M337 95.79h1m1 0h1M193 100.31h1m155 0h1m54 0h1M287 104.83h1m299 0h1M148 127.42h1m99 0h1m119 0h2M480 131.94h1" shape-rendering="crispEdges"/>
<path stroke="#c07020" stroke-width="4.52" fill="none" d="M226 41.56h1M22 46.08h1m196 0h1m8 0h1m157 0h1m25 0h1m19 0h1M463 50.6h1M50 59.64h1M520 64.15h1M223 73.19h1M271 77.71h1M413 82.23h1m116 0h1M287 91.27h1m83 0h1M610 95.79h1M108 122.9h1m96 0h1m79 0h1M259 127.42h1m53 0h1" shape-rendering="crispEdges"/>
<path stroke="#ff8000" stroke-width="4.52" fill="none" d="M229 41.56h1m42 0h1m12 0h1m137 0h1m102 0h1m54 0h1m4 0h1m6 0h1M31 46.08h1m10 0h1m41 0h1m6 0h1m2 0h2m14 0h1m5 0h2m7 0h1m18 0h1m12 0h2m13 0h1m11 0h1m35 0h1m4 0h1m11 0h1m5 0h1m3 0h1m2 0h1m47 0h1m14 0h1m8 0h1m10 0h1m27 0h1m11 0h2m5 0h1m18 0h1m5 0h1m34 0h1m25 0h1m6 0h1m4 0h1m3 0h1m30 0h1m6 0h1m1 0h1m2 0h1m22 0h1m10 0h2m26 0h1m11 0h1m6 0h1m3 0h1m5 0h1m8 0h1M230 50.6h1m180 0h1m117 0h1m52 0h1M213 55.12h1m5 0h1m204 0h1m43 0h1m58 0h1M107 59.64h1m360 0h2m53 0h1m64 0h1M521 64.15h1m62 0h1M113 68.67h1m105 0h1m7 0h1m133 0h1m4 0h1m54 0h1m165 0h1M207 73.19h1m7 0h1m302 0h1m11 0h1m52 0h1M110 77.71h1m102 0h2m198 0h1m50 0h1m1 0h1m61 0h1m53 0h1M109 82.23h1m4 0h2m254 0h1m49 0h1m52 0h1m46 0h1m4 0h2M223 86.75h1m47 0h1m13 0h1m134 0h1m1 0h1m48 0h1m3 0h1m37 0h1m5 0h1m2 0h1m6 0h1m53 0h1m6 0h1m2 0h1M29 91.27h1m66 0h1m1 0h1m44 0h1m132 0h1m22 0h1m31 0h1m35 0h1m76 0h1m33 0h1m7 0h1m14 0h1m8 0h1m15 0h1m54 0h1m10 0h1m37 0h1M23 95.79h1m12 0h1m16 0h1m12 0h1m11 0h3m16 0h1m2 0h1m24 0h1m32 0h1m22 0h1m81 0h1m44 0h1m1 0h1m9 0h1m21 0h1m9 0h1m28 0h2m9 0h1m6 0h1m34 0h1m49 0h1m13 0h1m54 0h1m1 0h2m9 0h2m31 0h1m4 0h1m4 0h1m27 0h2M208 104.83h1m3 0h1m61 0h1m7 0h1m78 0h1m55 0h2m44 0h1m49 0h1M210 109.35h2m73 0h1m130 0h1m60 0h1M106 113.86h2m106 0h1m7 0h1m8 0h1m126 0h1m5 0h1m56 0h1m39 0h1m6 0h1m7 0h1m37 0h1m65 0h1m3 0h1m7 0h1M212 118.38h1m12 0h1m187 0h1m45 0h1m130 0h1M27 122.9h1m47 0h1m10 0h1m24 0h1m107 0h1m8 0h1m58 0h1m70 0h1m7 0h1m43 0h1m9 0h1m18 0h1m27 0h1m12 0h1m40 0h1m8 0h1m50 0h1m32 0h1M31 127.42h1m3 0h1m24 0h1m5 0h1m1 0h1m3 0h1m20 0h1m15 0h1m12 0h1m8 0h1m4 0h1m8 0h1m5 0h1m28 0h1m8 0h1m12 0h1m9 0h1m15 0h2m2 0h1m39 0h1m15 0h1m16 0h1m39 0h1m7 0h1m5 0h1m28 0h1m5 0h1m6 0h1m23 0h1m29 0h1m15 0h1m10 0h1m12 0h1m28 0h1m7 0h1m7 0h1m3 0h1m23 0h1m11 0h1m14 0h1m18 0h1m9 0h1m9 0h2M210 131.94h1m13 0h1m61 0h1m123 0h1m51 0h1m6 0h2m52 0h2m55 0h1" shape-rendering="crispEdges"/>
<path stroke="#a0c040" stroke-width="4.52" fill="none" d="M241 41.56h1m149 0h1m163 0h1M173 55.12h1m26 0h1m127 0h1M167 86.75h1M123 113.86h1m34 0h1m346 0h1" shape-rendering="crispEdges"/>
<path stroke="#c0a020" stroke-width="4.52" fill="none" d="M258 41.56h1m357 0h1M241 46.08h1m64 0h1m200 0h1m29 0h1m32 0h1m31 0h1m31 0h1M422 50.6h1M273 59.64h1M29 68.67h1m552 0h1M529 73.19h1m59 0h1M102 82.23h1m123 0h1m46 0h1m6 0h1M260 86.75h1M67 104.83h1M462 109.35h1M230 118.38h1m241 0h1M157 127.42h1m342 0h1m71 0h1m50 0h1M208 131.94h1m252 0h1m49 0h1" shape-rendering="crispEdges"/>
<path stroke="#603050" stroke-width="4.52" fill="none" d="M273 41.56h1m313 0h1M268 46.08h1M481 77.71h1M371 82.23h1m49 0h1M283 86.75h1m2 0h1m78 0h1M38 91.27h1m114 0h1m192 0h1m81 0h1M185 95.79h1M194 100.31h1M460 118.38h1M71 122.9h1m192 0h1m11 0h1M447 127.42h1m68 0h1M371 131.94h1" shape-rendering="crispEdges"/>
<path stroke="#905040" stroke-width="4.52" fill="none" d="M277 41.56h1m3 0h1m197 0h1M113 46.08h1m52 0h1m9 0h1m76 0h1m13 0h1m196 0h1m80 0h1m72 0h1M206 50.6h1m320 0h1m59 0h1M282 55.12h1m298 0h1M232 59.64h2m242 0h1M458 68.67h1M463 73.19h1m7 0h1M108 77.71h1m166 0h1M216 82.23h1M115 91.27h1m87 0h2m118 0h1m213 0h1m2 0h1m10 0h1M42 95.79h1m212 0h1m375 0h1M514 104.83h1m70 0h1M209 109.35h1m62 0h1m251 0h1m56 0h1M105 113.86h1m418 0h1M532 118.38h2m55 0h1M30 122.9h1m24 0h2m47 0h1m145 0h1m199 0h1m7 0h1M83 127.42h1m10 0h1m211 0h1m167 0h1M109 131.94h1m116 0h1m312 0h1" shape-rendering="crispEdges"/>
<path stroke="#704050" stroke-width="4.52" fill="none" d="M280 41.56h1m1 0h1m299 0h1m11 0h1M218 46.08h1M422 55.12h1M247 59.64h1m40 0h1M463 64.15h1M208 68.67h1m158 0h1m91 0h1m6 0h1M107 77.71h1M30 91.27h1m13 0h1m172 0h1m28 0h1m87 0h1m111 0h1M41 95.79h1m57 0h1m152 0h1m3 0h1M476 104.83h1M577 109.35h1m4 0h1M595 113.86h1M162 122.9h1m92 0h1m359 0h1M201 127.42h1m19 0h1m36 0h1m147 0h1M291 131.94h1m81 0h1m14 0h1m22 0h1" shape-rendering="crispEdges"/>
<path stroke="#c09020" stroke-width="4.52" fill="none" d="M297 41.56h1m149 0h1m62 0h1m81 0h1M124 46.08h1m178 0h1m135 0h1m17 0h1m40 0h1m35 0h1M283 50.6h1m301 0h1M514 55.12h1M146 59.64h1m129 0h1M377 64.15h1m47 0h1M394 68.67h1M114 73.19h1m16 0h1M209 77.71h1M462 86.75h1m94 0h1M229 104.83h1M418 109.35h1M172 113.86h1m250 0h1M125 122.9h1m58 0h1m192 0h1m145 0h1M454 127.42h1m147 0h1M150 131.94h1m133 0h1" shape-rendering="crispEdges"/>
<path stroke="#b08030" stroke-width="4.52" fill="none" d="M303 41.56h1m3 0h1m58 0h1m146 0h1m51 0h1M207 46.08h1m77 0h1m129 0h1M138 50.6h1m303 0h1m68 0h1m18 0h1m38 0h1m13 0h1M150 55.12h1m52 0h1M30 59.64h1m56 0h1m22 0h1m39 0h1m233 0h1m14 0h1m7 0h1m34 0h1m167 0h1M52 64.15h1m73 0h1m259 0h1M379 68.67h1m170 0h1M615 73.19h1m18 0h1M425 77.71h1M567 82.23h1M113 86.75h1m63 0h1m84 0h1m17 0h1m34 0h1m139 0h1M378 91.27h1m117 0h1m8 0h1m24 0h1M315 104.83h1m307 0h1M475 109.35h1m74 0h1M73 113.86h1m52 0h1m163 0h1m14 0h1m210 0h1m27 0h1M284 118.38h1m124 0h1m52 0h1m17 0h1M64 122.9h1M252 127.42h1m199 0h1m164 0h1m1 0h1M62 131.94h1m47 0h1m24 0h1m97 0h1m98 0h1m204 0h1m72 0h1" shape-rendering="crispEdges"/>
<path stroke="#806040" stroke-width="4.52" fill="none" d="M310 41.56h1m125 0h1m127 0h1m23 0h1m17 0h1M47 46.08h1m55 0h1m45 0h1m139 0h1m318 0h1M97 50.6h1m18 0h1m140 0h1m11 0h1m32 0h1m88 0h1m25 0h1m69 0h1M58 55.12h1m33 0h1m101 0h1m9 0h1m76 0h1m108 0h1m8 0h1m32 0h1m185 0h1m18 0h1M68 59.64h1m122 0h1m137 0h1m9 0h1m49 0h1m4 0h1m48 0h1m153 0h1m18 0h1m3 0h1m10 0h1M146 64.15h1m43 0h1m4 0h1m142 0h1m31 0h1m55 0h1m147 0h1M104 68.67h1m84 0h1m183 0h1m2 0h1m27 0h1m1 0h1m8 0h1m135 0h1m48 0h1M34 73.19h1m110 0h1m43 0h1m42 0h1m58 0h1m6 0h1m123 0h1m31 0h1m42 0h1M70 77.71h1m13 0h2m94 0h1m148 0h2m131 0h1m105 0h2M35 82.23h1m35 0h1m113 0h1m12 0h1m83 0h1m218 0h1m12 0h1M81 86.75h1m6 0h1m15 0h1m5 0h1m64 0h1m20 0h1m3 0h1m38 0h1m10 0h1m5 0h1m4 0h1m1 0h1m126 0h1m89 0h1M23 91.27h1m45 0h1m306 0h1m232 0h1m25 0h1M73 104.83h1m12 0h1m91 0h1m62 0h2m109 0h1m39 0h1m32 0h1m20 0h1m53 0h1m63 0h1m45 0h1m4 0h1m1 0h1M40 109.35h1m10 0h1m11 0h1m28 0h1m81 0h1m20 0h1m186 0h1m168 0h1M53 113.86h1m41 0h1m144 0h2m102 0h1m22 0h1m9 0h1m107 0h1m11 0h1m58 0h1m41 0h1m5 0h1m4 0h2M355 118.38h1m30 0h1m206 0h1M62 122.9h1m71 0h1m98 0h1m84 0h1m17 0h1m133 0h1m18 0h1m59 0h1m68 0h1m16 0h1M34 127.42h1m139 0h1M127 131.94h1m247 0h1m132 0h1m7 0h1m5 0h1" shape-rendering="crispEdges"/>
<path stroke="#b09030" stroke-width="4.52" fill="none" d="M329 41.56h1m255 0h1m46 0h1M320 46.08h1M180 50.6h1m416 0h1m35 0h1M212 55.12h1m158 0h1m82 0h1m173 0h1M286 59.64h1m65 0h1m139 0h1m119 0h1M257 64.15h1m15 0h1m78 0h1m8 0h1m55 0h1M185 68.67h1m18 0h1m35 0h1M339 73.19h1m19 0h1m40 0h1m16 0h1m150 0h1M177 77.71h1m306 0h1m78 0h1M68 86.75h1M54 91.27h1m15 0h1m100 0h1m124 0h1M161 104.83h1m213 0h1M107 109.35h1m7 0h1m70 0h1m80 0h1m215 0h1M183 113.86h1m17 0h1m319 0h1M170 118.38h1m74 0h1m85 0h1m38 0h1m128 0h1M190 122.9h1m5 0h1m112 0h1m107 0h1M69 127.42h1m220 0h1m101 0h1m156 0h1m9 0h1M253 131.94h1m52 0h1" shape-rendering="crispEdges"/>
<path stroke="#c0c020" stroke-width="4.52" fill="none" d="M362 41.56h1M331 46.08h1m102 0h1M213 50.6h1M417 55.12h1m103 0h1m39 0h1M362 73.19h1M228 82.23h1M423 86.75h1M552 104.83h1M108 109.35h1m112 0h1m309 0h1M588 113.86h1M423 118.38h1M120 122.9h1m435 0h1" shape-rendering="crispEdges"/>
<path stroke="#806050" stroke-width="4.52" fill="none" d="M378 41.56h1m123 0h1M129 59.64h1m381 0h1M239 68.67h1m234 0h1M321 73.19h1M83 77.71h1m342 0h1M42 82.23h1m174 0h1m81 0h1M252 86.75h1m103 0h1M264 104.83h1M443 109.35h1M32 113.86h1m153 0h1m324 0h1M481 118.38h1M390 122.9h1m116 0h2M383 131.94h1m48 0h1" shape-rendering="crispEdges"/>
<path stroke="#90b050" stroke-width="4.52" fill="none" d="M394 41.56h1m224 0h1M73 50.6h1m173 0h1M452 64.15h1M259 68.67h1m350 0h1M123 73.19h1m260 0h1M23 82.23h1M259 86.75h1M249 104.83h1M22 113.86h1m423 0h1" shape-rendering="crispEdges"/>
<path stroke="#b08020" stroke-width="4.52" fill="none" d="M402 41.56h1M392 73.19h1M122 91.27h1M243 113.86h1M419 118.38h1M472 127.42h1m64 0h1" shape-rendering="crispEdges"/>
<path stroke="#a05030" stroke-width="4.52" fill="none" d="M417 41.56h1M35 46.08h1m115 0h1m16 0h1m46 0h1m126 0h1m118 0h1m89 0h1m53 0h1m31 0h1M472 50.6h1m3 0h1M578 86.75h1M187 91.27h1m213 0h1m132 0h1m86 0h1M48 95.79h1m392 0h1m15 0h1m115 0h1m54 0h1M103 100.31h1M522 113.86h1M517 118.38h1M70 122.9h1m408 0h1m72 0h1M326 127.42h1m89 0h1m43 0h1m22 0h1M206 131.94h1" shape-rendering="crispEdges"/>
<path stroke="#ff7000" stroke-width="4.52" fill="none" d="M473 41.56h1M39 46.08h1m13 0h1m17 0h1m1 0h1m44 0h1m40 0h1m50 0h1m20 0h1m13 0h1m5 0h1m19 0h1m32 0h1m5 0h1m21 0h1m27 0h1m9 0h1m7 0h1m29 0h1m7 0h1m7 0h1m51 0h1m2 0h1m30 0h1m36 0h1m41 0h2m6 0h1m35 0h1m4 0h1M463 55.12h1M116 59.64h1m93 0h1m12 0h1m188 0h1m49 0h2m50 0h1m75 0h1M206 86.75h1m18 0h2m4 0h1m44 0h1m5 0h1m75 0h1m2 0h1m1 0h1m48 0h1m61 0h1m46 0h1m1 0h1m60 0h1m9 0h1M81 91.27h1m29 0h1m27 0h1m20 0h1m6 0h1m5 0h1m24 0h1m28 0h1m37 0h1m6 0h2m8 0h1m32 0h1m29 0h1m18 0h1m4 0h2m36 0h1m21 0h1m4 0h1m1 0h1m4 0h1m29 0h1m9 0h1m17 0h1m17 0h3m4 0h1m61 0h1m3 0h1m2 0h1m1 0h2m35 0h1M26 95.79h1m40 0h2m6 0h2m46 0h1m10 0h1m5 0h1m7 0h1m5 0h1m5 0h1m5 0h1m1 0h1m6 0h1m3 0h1m8 0h1m1 0h1m3 0h1m41 0h1m5 0h2m20 0h1m60 0h1m6 0h1m18 0h1m20 0h1m5 0h1m15 0h1m36 0h1m17 0h1m38 0h1m1 0h1m2 0h1m14 0h1m6 0h1m20 0h1m26 0h1m53 0h1m7 0h1M37 100.31h1m4 0h1m1 0h1m3 0h1m37 0h1m3 0h1m37 0h1m26 0h1m39 0h1m42 0h1m57 0h1m9 0h1m12 0h1m17 0h1m3 0h1m32 0h1m16 0h1m11 0h1m33 0h1m52 0h1m49 0h1m19 0h1m52 0h1m1 0h2m10 0h1m9 0h1M230 104.83h1m1 0h1m50 0h1m2 0h1m71 0h1m11 0h1M416 113.86h1M215 122.9h2m7 0h1m1 0h1m47 0h2m87 0h1m5 0h1m43 0h1m5 0h1m3 0h1m51 0h1m42 0h1m59 0h1m12 0h1M21 127.42h1m40 0h1m1 0h1m5 0h1m6 0h1m24 0h1m37 0h1m13 0h1m1 0h1m2 0h1m54 0h2m2 0h1m4 0h1m11 0h1m24 0h1m4 0h1m5 0h1m7 0h1m3 0h1m12 0h1m4 0h1m13 0h2m1 0h1m9 0h1m42 0h1m9 0h1m17 0h1m17 0h1m6 0h1m6 0h1m48 0h1m21 0h1m12 0h1m6 0h1m10 0h1m1 0h1m7 0h1m21 0h2m43 0h1m1 0h2m19 0h1M112 131.94h1m106 0h1m2 0h1m51 0h1m10 0h1m84 0h1m49 0h2m37 0h1m15 0h1m3 0h1m33 0h2m11 0h1m60 0h1" shape-rendering="crispEdges"/>
<path stroke="#b0a020" stroke-width="4.52" fill="none" d="M475 41.56h1M55 46.08h1m290 0h1M28 55.12h1M254 59.64h1M198 73.19h1M330 127.42h1" shape-rendering="crispEdges"/>
<path stroke="#d0b020" stroke-width="4.52" fill="none" d="M517 41.56h1M479 55.12h1M410 73.19h1" shape-rendering="crispEdges"/>
<path stroke="#606060" stroke-width="4.52" fill="none" d="M534 41.56h1M111 50.6h1m13 0h1m1 0h1M241 55.12h1m245 0h1M356 59.64h1m79 0h1M219 64.15h1m25 0h1M509 68.67h1M70 73.19h1m95 0h1m162 0h1m41 0h1m62 0h1m35 0h1m20 0h1m71 0h1m36 0h1M122 77.71h1m64 0h1m7 0h1m16 0h1m154 0h1m35 0h1M63 82.23h1m191 0h1m341 0h1M450 86.75h1m99 0h1M133 104.83h1m193 0h1M140 109.35h1m175 0h1m4 0h1m137 0h1m30 0h1M77 113.86h1m62 0h1m14 0h1m105 0h1m64 0h1m60 0h1m8 0h1m1 0h1m141 0h1m80 0h1M405 118.38h1m84 0h1m1 0h1m69 0h1M73 122.9h1m218 0h1m162 0h1m46 0h1M407 131.94h1" shape-rendering="crispEdges"/>
<path stroke="#807050" stroke-width="4.52" fill="none" d="M538 41.56h1M169 59.64h1m416 0h1M605 68.67h1M298 77.71h1M384 82.23h1M403 104.83h1M495 118.38h1M399 122.9h1M192 127.42h1M102 131.94h1m353 0h1" shape-rendering="crispEdges"/>
<path stroke="#b07030" stroke-width="4.52" fill="none" d="M552 41.56h1M119 46.08h1m366 0h1M612 55.12h1M103 59.64h1m26 0h1m71 0h1m86 0h1m158 0h1m98 0h1M107 73.19h1M228 77.71h1m53 0h1m2 0h1M47 86.75h1m25 0h1m170 0h1M215 91.27h1M216 104.83h1m327 0h1M116 113.86h1m382 0h1m23 0h1m89 0h1M280 118.38h1M128 122.9h1m369 0h1M366 127.42h1m41 0h1m218 0h1M68 131.94h1m27 0h1m72 0h1m50 0h1" shape-rendering="crispEdges"/>
<path stroke="#c08020" stroke-width="4.52" fill="none" d="M558 41.56h1M90 46.08h1m204 0h1m195 0h1M464 50.6h1m116 0h1M34 55.12h1m317 0h1m160 0h1m4 0h1M114 59.64h1m165 0h1m157 0h1M478 73.19h1M218 86.75h1M311 91.27h1m161 0h1m102 0h1m35 0h1M398 95.79h1M347 104.83h1M398 109.35h1M150 113.86h1M283 118.38h1m184 0h1M362 122.9h1m245 0h1M28 127.42h1m132 0h1M225 131.94h1m387 0h1" shape-rendering="crispEdges"/>
<path stroke="#809040" stroke-width="4.52" fill="none" d="M576 41.56h1M135 50.6h1m291 0h1M625 55.12h1M51 59.64h1m350 0h1M84 64.15h1m35 0h1m119 0h1m43 0h1m258 0h1m15 0h1m6 0h1M251 68.67h1m146 0h1m54 0h1m68 0h1M22 73.19h1m46 0h1m11 0h1m4 0h1m19 0h1m429 0h1m74 0h1M65 77.71h1m207 0h1m264 0h1M62 82.23h1m18 0h1m140 0h1m23 0h1m307 0h1M494 86.75h1M382 104.83h2M574 109.35h1M170 113.86h1M67 118.38h1m108 0h1m314 0h1M305 122.9h1" shape-rendering="crispEdges"/>
<path stroke="#f0ff00" stroke-width="4.52" fill="none" d="M611 41.56h1M479 50.6h1M222 64.15h1m13 0h1M183 68.67h1m370 0h1m4 0h1M116 77.71h1m155 0h1m206 0h1M122 82.23h1M129 86.75h1m419 0h1m70 0h1M218 109.35h1m236 0h1M34 113.86h1m322 0h1m44 0h1m39 0h1m9 0h1M232 118.38h1M357 122.9h1M34 131.94h1m46 0h1" shape-rendering="crispEdges"/>
<path stroke="#709060" stroke-width="4.52" fill="none" d="M620 41.56h1M82 50.6h1m38 0h1m51 0h1m131 0h1m25 0h1m226 0h2M607 55.12h1M75 68.67h1m58 0h1M27 73.19h1m29 0h1m86 0h1m4 0h1m42 0h1m124 0h1m4 0h1m62 0h1M126 77.71h1m115 0h1m1 0h1m1 0h1M74 82.23h1m243 0h1m306 0h1M59 104.83h1M156 109.35h1m445 0h1m27 0h1M199 113.86h1M65 118.38h1m258 0h1m109 0h1m67 0h1m64 0h2m44 0h1" shape-rendering="crispEdges"/>
<path stroke="#a06030" stroke-width="4.52" fill="none" d="M28 46.08h1m104 0h1m30 0h1m26 0h1m383 0h1M590 50.6h1M208 55.12h1M225 59.64h1m22 0h1m34 0h1m74 0h1m222 0h1M472 68.67h1M360 73.19h1m51 0h1m45 0h1m135 0h1M115 77.71h1m307 0h1M475 82.23h1m55 0h1M86 86.75h1m133 0h1m37 0h1m44 0h1m120 0h1m160 0h1M188 91.27h1m173 0h1m29 0h1m70 0h1m110 0h1M88 95.79h1m215 0h1m35 0h1m5 0h1m199 0h1M157 104.83h1m65 0h1m247 0h1m60 0h1M369 109.35h1M590 113.86h1M224 118.38h1m186 0h1M94 122.9h1m168 0h1m241 0h1m23 0h1M71 127.42h1m43 0h1m506 0h1m8 0h1M205 131.94h1m128 0h1m17 0h1m3 0h1m68 0h1m101 0h1m4 0h1" shape-rendering="crispEdges"/>
<path stroke="#b05030" stroke-width="4.52" fill="none" d="M78 46.08h1m322 0h1M527 86.75h1m52 0h1M389 91.27h1m60 0h2m142 0h1M98 95.79h1m288 0h1M184 100.31h1m303 0h1M526 104.83h1M413 113.86h1M249 127.42h1m74 0h1m227 0h1" shape-rendering="crispEdges"/>
<path stroke="#603060" stroke-width="4.52" fill="none" d="M92 46.08h1m248 0h1m161 0h1m65 0h1M209 55.12h1M396 59.64h1m157 0h1M579 86.75h1M627 91.27h1M164 95.79h1m179 0h1M217 104.83h1M122 122.9h1M191 127.42h1m254 0h1m78 0h1m64 0h1" shape-rendering="crispEdges"/>
<path stroke="#a04030" stroke-width="4.52" fill="none" d="M101 46.08h1M216 59.64h1M278 86.75h1M62 91.27h1m27 0h1m262 0h1m1 0h1m108 0h1m88 0h1m6 0h1M104 95.79h1m228 0h1m2 0h1m117 0h1m78 0h1m85 0h1M47 100.31h1m266 0h1m295 0h1m19 0h1M528 104.83h1M29 127.42h1m87 0h1m47 0h1m204 0h1m77 0h1m8 0h1m136 0h1M209 131.94h1m157 0h1m152 0h1" shape-rendering="crispEdges"/>
<path stroke="#ff5000" stroke-width="4.52" fill="none" d="M106 46.08h1m4 0h1m100 0h1m11 0h1m185 0h1m9 0h1m1 0h1m36 0h1m5 0h1m2 0h2m54 0h1m66 0h1M116 91.27h1m32 0h1m63 0h1m15 0h1m77 0h1m111 0h1m5 0h1m43 0h1m115 0h1m31 0h1M27 95.79h1m23 0h1m8 0h2m9 0h1m10 0h2m10 0h1m1 0h1m4 0h1m5 0h1m5 0h1m5 0h1m1 0h1m2 0h1m2 0h1m14 0h2m34 0h1m12 0h1m9 0h1m3 0h1m39 0h1m26 0h1m8 0h1m5 0h1m4 0h1m1 0h1m1 0h1m27 0h1m23 0h1m21 0h1m2 0h2m8 0h1m16 0h1m34 0h1m7 0h2m11 0h1m55 0h1m22 0h1m7 0h2m2 0h1m20 0h1m2 0h1m17 0h1m40 0h1M26 100.31h1m12 0h1m20 0h1m6 0h1m1 0h1m21 0h1m5 0h2m28 0h1m17 0h1m2 0h1m3 0h1m1 0h1m50 0h1m35 0h1m13 0h1m14 0h1m17 0h1m1 0h1m27 0h1m4 0h1m9 0h1m17 0h1m1 0h1m17 0h1m20 0h1m3 0h1m1 0h2m148 0h1m24 0h1m45 0h1m3 0h1M211 122.9h1m8 0h1m138 0h1m7 0h1m46 0h1m51 0h1m50 0h1m13 0h1M112 127.42h1m97 0h1m2 0h1m5 0h1m10 0h2m233 0h1m57 0h1m4 0h1m53 0h1m9 0h1" shape-rendering="crispEdges"/>
<path stroke="#ff6000" stroke-width="4.52" fill="none" d="M108 46.08h1m100 0h1m4 0h1m59 0h1m6 0h1m1 0h1m79 0h1m54 0h1m96 0h1m65 0h1M214 59.64h1m14 0h1m129 0h1m10 0h1m48 0h1m158 0h1M119 91.27h1m38 0h1m7 0h1m9 0h1m15 0h1m6 0h1m1 0h1m19 0h1m21 0h1m35 0h1m8 0h1m19 0h1m8 0h1m3 0h1m17 0h1m16 0h1m8 0h1m8 0h1m13 0h1m8 0h1m11 0h1m1 0h1m6 0h1m21 0h1m7 0h1m30 0h1m34 0h1m23 0h1m41 0h1m10 0h1m5 0h1m15 0h1m9 0h1m1 0h1m7 0h1M21 95.79h1m3 0h1m7 0h1m1 0h1m7 0h1m18 0h1m18 0h1m9 0h1m23 0h1m1 0h2m10 0h1m26 0h1m2 0h1m1 0h1m15 0h1m18 0h1m3 0h1m2 0h1m2 0h1m11 0h2m7 0h1m16 0h1m22 0h1m8 0h1m1 0h1m20 0h1m3 0h1m1 0h1m17 0h1m5 0h1m15 0h1m7 0h1m5 0h1m7 0h1m29 0h1m4 0h1m3 0h1m6 0h1m14 0h1m10 0h1m38 0h1m30 0h1m24 0h1m2 0h1m38 0h1m16 0h1m7 0h1m4 0h1m1 0h1m7 0h1m10 0h1M52 100.31h1m4 0h1m19 0h1m10 0h1m6 0h1m4 0h1m17 0h1m1 0h1m2 0h1m6 0h1m15 0h1m4 0h1m23 0h1m12 0h1m47 0h1m2 0h1m16 0h1m35 0h1m10 0h1m11 0h1m14 0h1m14 0h1m40 0h1m10 0h1m10 0h1m23 0h1m1 0h1m47 0h1m3 0h1m11 0h1m34 0h1m4 0h1m4 0h1m3 0h1m1 0h1m6 0h1m17 0h1m21 0h1m8 0h1M114 122.9h1m1 0h1m96 0h1m57 0h1m7 0h2m2 0h1m2 0h1m137 0h1m88 0h1m12 0h1m53 0h1m7 0h1M27 127.42h1m14 0h1m1 0h1m47 0h1m17 0h1m113 0h2m19 0h1m28 0h1m9 0h1m141 0h1m12 0h1m129 0h1m7 0h1m43 0h1M106 131.94h1m100 0h1m8 0h1m243 0h1m10 0h1m1 0h1m57 0h1m53 0h1" shape-rendering="crispEdges"/>
<path stroke="#b07020" stroke-width="4.52" fill="none" d="M141 46.08h1m128 0h1m162 0h1M476 86.75h1M210 91.27h1m14 0h1m45 0h1m131 0h1M366 104.83h1M607 122.9h1M54 131.94h1m15 0h1" shape-rendering="crispEdges"/>
<path stroke="#a09040" stroke-width="4.52" fill="none" d="M174 46.08h1m277 0h1M267 55.12h1M573 59.64h1M580 68.67h1M412 82.23h1m27 0h1M161 86.75h1M178 118.38h1M351 122.9h1M257 131.94h1" shape-rendering="crispEdges"/>
<path stroke="#805050" stroke-width="4.52" fill="none" d="M192 46.08h1m260 0h1M465 50.6h1M74 55.12h1M347 59.64h1M201 73.19h1m97 0h1M144 82.23h1M48 86.75h1M86 91.27h1M63 104.83h1M65 113.86h1m379 0h1M80 127.42h1m517 0h1M427 131.94h1" shape-rendering="crispEdges"/>
<path stroke="#ff4000" stroke-width="4.52" fill="none" d="M206 46.08h1m69 0h1m1 0h1m3 0h1m79 0h1m156 0h1m9 0h1m1 0h2m55 0h1M113 91.27h1m97 0h1m7 0h1m4 0h1m1 0h1m4 0h1m45 0h1m138 0h1m45 0h1m58 0h1m1 0h1m59 0h2M46 95.79h1m7 0h1m8 0h1m5 0h1m2 0h1m1 0h1m17 0h1m40 0h1m2 0h2m6 0h1m5 0h1m6 0h1m12 0h1m1 0h2m6 0h1m12 0h1m30 0h1m7 0h1m7 0h1m20 0h1m6 0h1m2 0h1m8 0h1m30 0h1m10 0h1m4 0h1m30 0h1m4 0h1m4 0h1m34 0h1m12 0h1m3 0h1m5 0h1m26 0h1m50 0h2m16 0h1m3 0h1m2 0h1m10 0h1m24 0h1m29 0h2m26 0h1M45 100.31h1m3 0h1m18 0h1m6 0h1m18 0h1m11 0h1m2 0h2m21 0h1m4 0h1m3 0h1m15 0h1m8 0h1m32 0h2m41 0h1m1 0h3m11 0h1m7 0h1m20 0h1m1 0h1m15 0h1m7 0h1m3 0h1m2 0h1m1 0h1m1 0h1m9 0h1m15 0h1m5 0h1m32 0h1m3 0h1m6 0h1m8 0h1m33 0h1m2 0h1m34 0h1m3 0h1m28 0h1m12 0h1m25 0h1m11 0h1m22 0h1m8 0h2m5 0h1m28 0h2M217 127.42h1m59 0h1m2 0h2m139 0h1m36 0h1m18 0h1m36 0h1m11 0h1" shape-rendering="crispEdges"/>
<path stroke="#b04030" stroke-width="4.52" fill="none" d="M208 46.08h1m4 0h1M518 59.64h1M129 91.27h1m12 0h1m199 0h1m30 0h1m80 0h1m65 0h1m34 0h1M235 95.79h1m102 0h1M160 100.31h1m30 0h1m162 0h1m23 0h1m184 0h1M95 127.42h1" shape-rendering="crispEdges"/>
<path stroke="#804040" stroke-width="4.52" fill="none" d="M232 46.08h1m19 0h1m122 0h1m185 0h1m45 0h1M517 50.6h1M220 68.67h1M467 73.19h1M37 91.27h1m83 0h1m32 0h1m50 0h1m142 0h1m35 0h1M298 95.79h1m10 0h1m46 0h1M110 104.83h1M208 118.38h1M249 122.9h1m209 0h1M402 127.42h1m104 0h1m59 0h1m64 0h1M214 131.94h1m72 0h1m237 0h1" shape-rendering="crispEdges"/>
<path stroke="#d08020" stroke-width="4.52" fill="none" d="M262 46.08h1M364 55.12h1M362 59.64h1M358 82.23h1M300 91.27h1M50 127.42h1" shape-rendering="crispEdges"/>
<path stroke="#702050" stroke-width="4.52" fill="none" d="M279 46.08h1M55 95.79h1m232 0h1m211 0h1m29 0h1m10 0h1M183 100.31h1M411 127.42h1" shape-rendering="crispEdges"/>
<path stroke="#d0a020" stroke-width="4.52" fill="none" d="M315 46.08h1M274 77.71h1M61 122.9h1" shape-rendering="crispEdges"/>
<path stroke="#a06040" stroke-width="4.52" fill="none" d="M319 46.08h1M213 73.19h1M211 86.75h1M306 91.27h1m116 0h1M618 104.83h1M558 127.42h1M146 131.94h1m30 0h1" shape-rendering="crispEdges"/>
<path stroke="#a02030" stroke-width="4.52" fill="none" d="M365 46.08h1M110 95.79h1m51 0h1m348 0h1m101 0h1M249 100.31h1m44 0h1m7 0h1m112 0h1m109 0h1" shape-rendering="crispEdges"/>
<path stroke="#902040" stroke-width="4.52" fill="none" d="M369 46.08h1m88 0h1m126 0h1M212 91.27h1m264 0h1M289 95.79h1m17 0h1m109 0h2m77 0h1m4 0h1m57 0h1m40 0h1M158 100.31h1m279 0h1m45 0h1m32 0h1m100 0h1m3 0h1m15 0h1M412 127.42h1m63 0h1m42 0h1" shape-rendering="crispEdges"/>
<path stroke="#903040" stroke-width="4.52" fill="none" d="M421 46.08h1m94 0h1M47 91.27h1m44 0h1m58 0h1m25 0h1m102 0h1m33 0h1m213 0h1m23 0h1m45 0h1M357 95.79h1m211 0h1M182 100.31h1m4 0h1m124 0h1m8 0h1m50 0h1M532 122.9h1M211 127.42h1m198 0h1m67 0h1" shape-rendering="crispEdges"/>
<path stroke="#a05040" stroke-width="4.52" fill="none" d="M462 46.08h1M257 127.42h1" shape-rendering="crispEdges"/>
<path stroke="#d09020" stroke-width="4.52" fill="none" d="M518 46.08h1M211 64.15h1M213 82.23h1M428 127.42h1M154 131.94h1" shape-rendering="crispEdges"/>
<path stroke="#a03040" stroke-width="4.52" fill="none" d="M528 46.08h1M615 91.27h1M308 100.31h1" shape-rendering="crispEdges"/>
<path stroke="#d04020" stroke-width="4.52" fill="none" d="M586 46.08h1M599 100.31h1M422 127.42h1" shape-rendering="crispEdges"/>
<path stroke="#607050" stroke-width="4.52" fill="none" d="M26 50.6h1m262 0h1M344 55.12h1M149 59.64h1M332 64.15h1m234 0h1M121 82.23h1M254 113.86h1m73 0h1M123 118.38h1M631 122.9h1M103 131.94h1m198 0h1" shape-rendering="crispEdges"/>
<path stroke="#c0ff40" stroke-width="4.52" fill="none" d="M42 50.6h1m582 0h1M235 64.15h1M74 68.67h1m61 0h1m120 0h1m349 0h1M28 73.19h1m13 0h1m57 0h1m83 0h1m63 0h1m101 0h1m1 0h1m195 0h1M247 77.71h1m194 0h1M75 82.23h1m548 0h1M176 109.35h1m383 0h1m37 0h1M433 118.38h1m126 0h1" shape-rendering="crispEdges"/>
<path stroke="#507060" stroke-width="4.52" fill="none" d="M54 50.6h1M305 55.12h1M453 64.15h1M443 68.67h1m194 0h1M124 73.19h1M199 118.38h1" shape-rendering="crispEdges"/>
<path stroke="#b0b020" stroke-width="4.52" fill="none" d="M209 50.6h1M473 55.12h1M611 122.9h1" shape-rendering="crispEdges"/>
<path stroke="#b06020" stroke-width="4.52" fill="none" d="M471 50.6h1M222 68.67h1M491 91.27h1M380 95.79h1M418 127.42h1" shape-rendering="crispEdges"/>
<path stroke="#d0ff20" stroke-width="4.52" fill="none" d="M495 50.6h1M394 55.12h1m221 0h1M395 68.67h1M502 77.71h1M183 86.75h1m155 0h1" shape-rendering="crispEdges"/>
<path stroke="#507070" stroke-width="4.52" fill="none" d="M549 50.6h2M536 64.15h1M135 68.67h1M59 73.19h1m490 0h1M542 82.23h1M451 109.35h1" shape-rendering="crispEdges"/>
<path stroke="#506070" stroke-width="4.52" fill="none" d="M626 50.6h1M386 55.12h1M87 64.15h1M258 68.67h1m286 0h1M174 73.19h1m424 0h1M125 77.71h1M623 82.23h1M345 109.35h1m148 0h1M200 113.86h1m97 0h1m250 0h1" shape-rendering="crispEdges"/>
<path stroke="#d06020" stroke-width="4.52" fill="none" d="M110 55.12h1M437 127.42h1" shape-rendering="crispEdges"/>
<path stroke="#b09020" stroke-width="4.52" fill="none" d="M144 55.12h1M176 59.64h1M50 91.27h1M205 109.35h1M378 113.86h1M609 127.42h1M131 131.94h1m47 0h1m382 0h1" shape-rendering="crispEdges"/>
<path stroke="#b0b030" stroke-width="4.52" fill="none" d="M230 55.12h1m255 0h1M368 64.15h1m6 0h1M118 68.67h1m212 0h1m128 0h1m49 0h1M110 73.19h1m196 0h1m220 0h1M177 82.23h1m261 0h1m123 0h1M32 86.75h1m69 0h1M23 104.83h1M78 109.35h1m111 0h1m16 0h1m398 0h1M165 113.86h1m102 0h1m61 0h1M303 118.38h1M157 122.9h1m414 0h1M47 131.94h1m246 0h1m135 0h1" shape-rendering="crispEdges"/>
<path stroke="#d07020" stroke-width="4.52" fill="none" d="M277 55.12h1M215 118.38h1M26 131.94h1" shape-rendering="crispEdges"/>
<path stroke="#a07040" stroke-width="4.52" fill="none" d="M456 55.12h1M340 59.64h1M287 64.15h1M251 73.19h1M164 91.27h1m217 0h1M251 109.35h1M136 113.86h1M363 131.94h1" shape-rendering="crispEdges"/>
<path stroke="#90c050" stroke-width="4.52" fill="none" d="M614 55.12h1M133 68.67h1M447 82.23h1M85 113.86h1M619 118.38h1" shape-rendering="crispEdges"/>
<path stroke="#b0c030" stroke-width="4.52" fill="none" d="M175 59.64h1m88 0h1M171 113.86h1M346 122.9h1" shape-rendering="crispEdges"/>
<path stroke="#803040" stroke-width="4.52" fill="none" d="M217 59.64h1m359 0h1M35 91.27h2m9 0h1m31 0h1m521 0h1M58 95.79h1m44 0h1m143 0h1m192 0h1m177 0h1M316 100.31h1m21 0h1m9 0h1M414 104.83h1M20 127.42h1m24 0h1m310 0h1m140 0h1" shape-rendering="crispEdges"/>
<path stroke="#b0c040" stroke-width="4.52" fill="none" d="M357 59.64h1m94 0h1M341 131.94h1" shape-rendering="crispEdges"/>
<path stroke="#a08040" stroke-width="4.52" fill="none" d="M484 59.64h1M350 91.27h1M102 104.83h1m271 0h1M287 113.86h1M31 118.38h1m85 0h1" shape-rendering="crispEdges"/>
<path stroke="#80b050" stroke-width="4.52" fill="none" d="M58 64.15h1m476 0h1m62 0h1M551 73.19h1M312 77.71h1m222 0h1M86 82.23h1m454 0h1M179 118.38h1" shape-rendering="crispEdges"/>
<path stroke="#609060" stroke-width="4.52" fill="none" d="M310 64.15h1" shape-rendering="crispEdges"/>
<path stroke="#80a060" stroke-width="4.52" fill="none" d="M397 64.15h1M138 68.67h1M129 73.19h1M28 109.35h1" shape-rendering="crispEdges"/>
<path stroke="#80b060" stroke-width="4.52" fill="none" d="M448 64.15h1" shape-rendering="crispEdges"/>
<path stroke="#70a060" stroke-width="4.52" fill="none" d="M506 64.15h1M637 68.67h1M598 73.19h1M201 118.38h1" shape-rendering="crispEdges"/>
<path stroke="#406070" stroke-width="4.52" fill="none" d="M128 73.19h1m64 0h1m129 0h1M325 118.38h1" shape-rendering="crispEdges"/>
<path stroke="#804050" stroke-width="4.52" fill="none" d="M578 77.71h1M102 91.27h1M247 122.9h1" shape-rendering="crispEdges"/>
<path stroke="#d0c020" stroke-width="4.52" fill="none" d="M113 82.23h1M182 86.75h1m234 0h1m112 0h1" shape-rendering="crispEdges"/>
<path stroke="#c0c030" stroke-width="4.52" fill="none" d="M136 82.23h1" shape-rendering="crispEdges"/>
<path stroke="#c05020" stroke-width="4.52" fill="none" d="M370 86.75h1M156 91.27h1m351 0h1m97 0h1M221 95.79h1m320 0h1M150 100.31h1m113 0h1m116 0h1m63 0h1M22 127.42h1M463 131.94h1" shape-rendering="crispEdges"/>
<path stroke="#b04020" stroke-width="4.52" fill="none" d="M58 91.27h1m353 0h1M550 95.79h1M251 100.31h1M226 127.42h1m209 0h1" shape-rendering="crispEdges"/>
<path stroke="#602050" stroke-width="4.52" fill="none" d="M89 91.27h1m199 0h1M246 95.79h1M46 100.31h1M368 122.9h1m56 0h1" shape-rendering="crispEdges"/>
<path stroke="#ff2000" stroke-width="4.52" fill="none" d="M106 91.27h1m113 0h1m65 0h1m228 0h2m62 0h1M52 95.79h1m33 0h1m54 0h1m27 0h1m4 0h1m27 0h1m5 0h1m4 0h1m25 0h1m9 0h2m18 0h1m23 0h1m7 0h2m9 0h1m8 0h1m12 0h1m14 0h1m10 0h1m15 0h1m8 0h1m7 0h1m13 0h1m1 0h1m5 0h1m7 0h1m18 0h1m2 0h1m21 0h1m19 0h1m7 0h1m1 0h1m12 0h1m13 0h1m6 0h2m24 0h1m3 0h2m24 0h1m4 0h1m1 0h1m12 0h1m28 0h1M34 100.31h1m26 0h1m14 0h1m22 0h1m17 0h1m6 0h1m6 0h1m7 0h1m13 0h1m2 0h1m12 0h1m7 0h1m11 0h1m24 0h1m4 0h1m11 0h1m11 0h1m9 0h2m4 0h1m2 0h1m6 0h1m11 0h1m13 0h1m2 0h1m2 0h1m5 0h1m44 0h1m32 0h1m9 0h1m5 0h1m12 0h1m11 0h1m8 0h1m6 0h1m4 0h1m5 0h1m1 0h1m31 0h1m6 0h1m12 0h1m2 0h1m4 0h1m14 0h1m13 0h1m10 0h1m2 0h2m43 0h1m4 0h1" shape-rendering="crispEdges"/>
<path stroke="#b02030" stroke-width="4.52" fill="none" d="M112 91.27h1m352 0h1M260 95.79h1m202 0h1M92 100.31h1m154 0h1m264 0h1m76 0h1" shape-rendering="crispEdges"/>
<path stroke="#802040" stroke-width="4.52" fill="none" d="M117 91.27h1M70 95.79h1m51 0h1m115 0h1m78 0h1m104 0h1m149 0h1M282 127.42h1m140 0h1" shape-rendering="crispEdges"/>
<path stroke="#ff3000" stroke-width="4.52" fill="none" d="M208 91.27h1m19 0h1m49 0h1m2 0h1m77 0h1m8 0h1m46 0h1m44 0h1m7 0h1m44 0h1m13 0h1m1 0h1M28 95.79h1m5 0h1m3 0h1m5 0h1m4 0h1m45 0h1m10 0h1m1 0h2m2 0h1m17 0h1m15 0h1m4 0h1m13 0h1m17 0h1m26 0h2m22 0h1m22 0h1m7 0h1m9 0h1m1 0h1m8 0h1m28 0h2m24 0h1m8 0h1m3 0h1m10 0h1m23 0h2m34 0h1m3 0h1m2 0h1m3 0h1m10 0h1m12 0h1m24 0h1m5 0h1m21 0h1m2 0h1m1 0h1m1 0h1m6 0h1m11 0h1m11 0h1m18 0h1m7 0h1m24 0h1m11 0h1m8 0h1m10 0h1M32 100.31h1m7 0h1m2 0h1m18 0h1m18 0h1m1 0h2m2 0h1m8 0h1m10 0h1m13 0h2m36 0h1m1 0h1m9 0h1m41 0h1m11 0h1m6 0h2m31 0h1m2 0h1m31 0h1m26 0h1m33 0h1m11 0h1m2 0h1m13 0h1m16 0h1m17 0h1m28 0h1m17 0h2m9 0h1m5 0h1m11 0h1m6 0h1m23 0h1m6 0h1m2 0h1m24 0h1m7 0h1m9 0h1m20 0h1m10 0h1m3 0h1m2 0h1m11 0h1M285 127.42h1m75 0h1m57 0h1m47 0h1m5 0h1m39 0h1m6 0h2m65 0h1" shape-rendering="crispEdges"/>
<path stroke="#c03020" stroke-width="4.52" fill="none" d="M274 91.27h1M230 95.79h1m153 0h1m10 0h1m98 0h1M80 100.31h1m276 0h1m179 0h1m26 0h1m55 0h1M530 127.42h1" shape-rendering="crispEdges"/>
<path stroke="#901040" stroke-width="4.52" fill="none" d="M420 91.27h1M32 95.79h1m6 0h1m146 0h1m87 0h1m162 0h1m54 0h1m14 0h1M64 100.31h1m143 0h1m213 0h1m145 0h1m10 0h1m21 0h1" shape-rendering="crispEdges"/>
<path stroke="#c02020" stroke-width="4.52" fill="none" d="M421 91.27h1M486 95.79h1m99 0h1M73 100.31h1m236 0h1m49 0h1m185 0h1" shape-rendering="crispEdges"/>
<path stroke="#701050" stroke-width="4.52" fill="none" d="M422 91.27h1M253 95.79h1m12 0h1m314 0h1M63 100.31h1m276 0h1m185 0h1m18 0h1m56 0h1m22 0h1" shape-rendering="crispEdges"/>
<path stroke="#d02020" stroke-width="4.52" fill="none" d="M474 91.27h1" shape-rendering="crispEdges"/>
<path stroke="#b02020" stroke-width="4.52" fill="none" d="M522 91.27h1M89 95.79h1m45 0h1m192 0h1m35 0h1" shape-rendering="crispEdges"/>
<path stroke="#602060" stroke-width="4.52" fill="none" d="M602 91.27h1M118 127.42h1" shape-rendering="crispEdges"/>
<path stroke="#b05020" stroke-width="4.52" fill="none" d="M611 91.27h1" shape-rendering="crispEdges"/>
<path stroke="#ff1000" stroke-width="4.52" fill="none" d="M20 95.79h1m56 0h1m15 0h1m32 0h1m4 0h1m60 0h1m21 0h1m13 0h1m2 0h1m63 0h1m22 0h1m43 0h1m14 0h1m27 0h1m32 0h1m11 0h1m4 0h1m13 0h1m2 0h1m9 0h2m22 0h1m45 0h1m1 0h1m3 0h1m20 0h1m4 0h2m11 0h2M21 100.31h1m2 0h1m16 0h1m30 0h1m20 0h1m18 0h1m6 0h1m44 0h1m3 0h1m27 0h1m10 0h1m10 0h1m18 0h1m22 0h1m19 0h1m44 0h1m6 0h1m13 0h1m22 0h1m24 0h1m11 0h1m13 0h1m6 0h1m12 0h1m3 0h1m4 0h3m28 0h1m21 0h2m65 0h1m42 0h1m13 0h1" shape-rendering="crispEdges"/>
<path stroke="#a03030" stroke-width="4.52" fill="none" d="M56 95.79h1m142 0h1m37 0h1m32 0h1m177 0h1m19 0h1M125 100.31h1m46 0h2m168 0h1M225 122.9h1" shape-rendering="crispEdges"/>
<path stroke="#c01020" stroke-width="4.52" fill="none" d="M65 95.79h1m86 0h1m468 0h1M248 100.31h1m274 0h1" shape-rendering="crispEdges"/>
<path stroke="#ff0000" stroke-width="4.52" fill="none" d="M111 95.79h1m97 0h1m7 0h1m7 0h1m47 0h1m10 0h1m127 0h1m48 0h1m8 0h1M30 100.31h1m20 0h1m1 0h2m3 0h1m7 0h1m3 0h1m7 0h1m6 0h1m18 0h1m35 0h1m8 0h1m26 0h1m3 0h1m20 0h1m24 0h1m3 0h1m48 0h1m3 0h1m9 0h1m49 0h1m18 0h1m42 0h1m10 0h1m1 0h1m43 0h1m6 0h1m25 0h1m28 0h1m3 0h1m5 0h1m19 0h1m16 0h1m18 0h1m1 0h1m14 0h1m6 0h1" shape-rendering="crispEdges"/>
<path stroke="#900030" stroke-width="4.52" fill="none" d="M114 95.79h1m254 0h1M198 100.31h1m388 0h1" shape-rendering="crispEdges"/>
<path stroke="#a01030" stroke-width="4.52" fill="none" d="M155 95.79h1m255 0h1m133 0h1m14 0h1m51 0h1M234 100.31h1m360 0h1" shape-rendering="crispEdges"/>
<path stroke="#601050" stroke-width="4.52" fill="none" d="M187 95.79h1m147 0h1m137 0h1M133 100.31h1M415 127.42h1" shape-rendering="crispEdges"/>
<path stroke="#b01030" stroke-width="4.52" fill="none" d="M195 95.79h1m30 0h1m86 0h1M223 100.31h1m296 0h1" shape-rendering="crispEdges"/>
<path stroke="#d03020" stroke-width="4.52" fill="none" d="M197 95.79h1M433 100.31h1M470 127.42h1" shape-rendering="crispEdges"/>
<path stroke="#f00000" stroke-width="4.52" fill="none" d="M207 95.79h1m202 0h1m13 0h1m49 0h1m4 0h1m39 0h1m5 0h1m65 0h1M22 100.31h1m5 0h1m7 0h1m1 0h1m32 0h1m29 0h2m33 0h1m5 0h1m31 0h1m22 0h1m6 0h1m6 0h2m2 0h1m36 0h1m44 0h1m6 0h1m4 0h1m1 0h1m16 0h1m2 0h1m3 0h1m31 0h1m2 0h1m9 0h1m1 0h1m5 0h1m23 0h1m28 0h1m6 0h1m3 0h1m25 0h1m12 0h1m4 0h2m1 0h1m9 0h1m26 0h1m20 0h1m12 0h1m9 0h1m50 0h1" shape-rendering="crispEdges"/>
<path stroke="#c04020" stroke-width="4.52" fill="none" d="M216 95.79h1m204 0h1m49 0h1m51 0h1m59 0h1M23 100.31h1m5 0h1m26 0h1m105 0h1m23 0h1m63 0h1M472 122.9h1" shape-rendering="crispEdges"/>
<path stroke="#c00020" stroke-width="4.52" fill="none" d="M222 95.79h1m235 0h1m6 0h1M50 100.31h1m54 0h1m278 0h1m177 0h1" shape-rendering="crispEdges"/>
<path stroke="#800040" stroke-width="4.52" fill="none" d="M223 95.79h1m55 0h1M272 100.31h1m110 0h1m83 0h1m104 0h1m8 0h1" shape-rendering="crispEdges"/>
<path stroke="#600050" stroke-width="4.52" fill="none" d="M229 95.79h1M31 100.31h1m304 0h1" shape-rendering="crispEdges"/>
<path stroke="#900040" stroke-width="4.52" fill="none" d="M282 95.79h1M55 100.31h1m26 0h1m30 0h1m67 0h1m21 0h1m122 0h1m28 0h1m100 0h1m43 0h1" shape-rendering="crispEdges"/>
<path stroke="#a00030" stroke-width="4.52" fill="none" d="M283 95.79h1m306 0h1M20 100.31h1m181 0h1m6 0h1m11 0h1m13 0h1m31 0h1m142 0h1m19 0h1m8 0h1m121 0h1m15 0h1" shape-rendering="crispEdges"/>
<path stroke="#600060" stroke-width="4.52" fill="none" d="M285 95.79h1" shape-rendering="crispEdges"/>
<path stroke="#e00000" stroke-width="4.52" fill="none" d="M366 95.79h1m92 0h1m2 0h1m1 0h1m11 0h2m2 0h1m40 0h1m6 0h1m59 0h1M33 100.31h1m77 0h1m14 0h1m11 0h1m4 0h2m75 0h1m50 0h1m2 0h1m3 0h1m79 0h1m4 0h1m2 0h1m46 0h1m7 0h1m14 0h1m23 0h1m5 0h1m3 0h1m40 0h1m4 0h1m14 0h1m51 0h2m8 0h1m34 0h1" shape-rendering="crispEdges"/>
<path stroke="#b00030" stroke-width="4.52" fill="none" d="M414 95.79h1M402 100.31h1" shape-rendering="crispEdges"/>
<path stroke="#d01020" stroke-width="4.52" fill="none" d="M475 95.79h1" shape-rendering="crispEdges"/>
<path stroke="#802050" stroke-width="4.52" fill="none" d="M502 95.79h1" shape-rendering="crispEdges"/>
<path stroke="#803050" stroke-width="4.52" fill="none" d="M602 95.79h1" shape-rendering="crispEdges"/>
<path stroke="#b03030" stroke-width="4.52" fill="none" d="M611 95.79h1M134 100.31h1m44 0h1" shape-rendering="crispEdges"/>
<path stroke="#801050" stroke-width="4.52" fill="none" d="M622 95.79h1M505 100.31h1" shape-rendering="crispEdges"/>
<path stroke="#a02040" stroke-width="4.52" fill="none" d="M626 95.79h1M541 100.31h1M414 127.42h1" shape-rendering="crispEdges"/>
<path stroke="#700050" stroke-width="4.52" fill="none" d="M59 100.31h1m105 0h1m253 0h1m37 0h1" shape-rendering="crispEdges"/>
<path stroke="#d00000" stroke-width="4.52" fill="none" d="M108 100.31h1m6 0h1m101 0h1m205 0h1m35 0h1m17 0h1m44 0h1m59 0h1" shape-rendering="crispEdges"/>
<path stroke="#b00000" stroke-width="4.52" fill="none" d="M114 100.31h1m250 0h1m108 0h1" shape-rendering="crispEdges"/>
<path stroke="#b00020" stroke-width="4.52" fill="none" d="M116 100.31h1m156 0h1m8 0h1m3 0h1m141 0h1m200 0h1" shape-rendering="crispEdges"/>
<path stroke="#801040" stroke-width="4.52" fill="none" d="M190 100.31h1m148 0h1m211 0h2" shape-rendering="crispEdges"/>
<path stroke="#c00000" stroke-width="4.52" fill="none" d="M206 100.31h1m17 0h1m3 0h2m45 0h1m8 0h1m126 0h1m12 0h1m33 0h1m2 0h1m3 0h1m52 0h1m75 0h1" shape-rendering="crispEdges"/>
<path stroke="#700030" stroke-width="4.52" fill="none" d="M222 100.31h1" shape-rendering="crispEdges"/>
<path stroke="#d05020" stroke-width="4.52" fill="none" d="M263 100.31h1M242 127.42h1" shape-rendering="crispEdges"/>
<path stroke="#800030" stroke-width="4.52" fill="none" d="M276 100.31h1m187 0h1" shape-rendering="crispEdges"/>
<path stroke="#900020" stroke-width="4.52" fill="none" d="M364 100.31h1m52 0h1" shape-rendering="crispEdges"/>
<path stroke="#700040" stroke-width="4.52" fill="none" d="M429 100.31h1m41 0h1m3 0h1m102 0h1m12 0h1" shape-rendering="crispEdges"/>
<path stroke="#500050" stroke-width="4.52" fill="none" d="M468 100.31h1" shape-rendering="crispEdges"/>
<path stroke="#a00020" stroke-width="4.52" fill="none" d="M479 100.31h1" shape-rendering="crispEdges"/>
<path stroke="#600040" stroke-width="4.52" fill="none" d="M519 100.31h1" shape-rendering="crispEdges"/>
<path stroke="#601060" stroke-width="4.52" fill="none" d="M576 100.31h1m32 0h1" shape-rendering="crispEdges"/>
<path stroke="#90c040" stroke-width="4.52" fill="none" d="M149 113.86h1" shape-rendering="crispEdges"/>
<line x1="32.5" y1="38.7" x2="32.5" y2="134.8" stroke="#000" stroke-width="1.2" stroke-dasharray="2.2 1.3"/>
<line x1="32.5" y1="134.8" x2="32.5" y2="138.4" stroke="#000" stroke-width="1.2" />
<line x1="38.5" y1="38.7" x2="38.5" y2="134.8" stroke="#000" stroke-width="1.2" stroke-dasharray="2.2 1.3"/>
<line x1="38.5" y1="134.8" x2="38.5" y2="138.4" stroke="#000" stroke-width="1.2" />
<line x1="32.5" y1="138.4" x2="38.5" y2="138.4" stroke="#000" stroke-width="1.2" stroke-dasharray="2.4 1.6"/>
<line x1="32.5" y1="35.8" x2="32.5" y2="38.7" stroke="#111" stroke-width="1" />
<line x1="38.5" y1="35.8" x2="38.5" y2="38.7" stroke="#111" stroke-width="1" />
<rect x="32.5" y="29.6" width="6" height="6.2" fill="#ff0000" stroke="#333" stroke-width="0.9" rx="1.6"/>
<line x1="105.5" y1="38.7" x2="105.5" y2="134.8" stroke="#000" stroke-width="1.2" stroke-dasharray="2.2 1.3"/>
<line x1="105.5" y1="134.8" x2="105.5" y2="138.4" stroke="#000" stroke-width="1.2" />
<line x1="117.5" y1="38.7" x2="117.5" y2="134.8" stroke="#000" stroke-width="1.2" stroke-dasharray="2.2 1.3"/>
<line x1="117.5" y1="134.8" x2="117.5" y2="138.4" stroke="#000" stroke-width="1.2" />
<line x1="105.5" y1="138.4" x2="117.5" y2="138.4" stroke="#000" stroke-width="1.2" stroke-dasharray="2.4 1.6"/>
<line x1="105.5" y1="35.8" x2="105.5" y2="38.7" stroke="#111" stroke-width="1" />
<line x1="117.5" y1="35.8" x2="117.5" y2="38.7" stroke="#111" stroke-width="1" />
<rect x="105.5" y="29.6" width="12" height="6.2" fill="#00b050" stroke="#333" stroke-width="0.9" rx="1.6"/>
<line x1="152.5" y1="38.7" x2="152.5" y2="134.8" stroke="#000" stroke-width="1.2" stroke-dasharray="2.2 1.3"/>
<line x1="152.5" y1="134.8" x2="152.5" y2="138.4" stroke="#000" stroke-width="1.2" />
<line x1="173.5" y1="38.7" x2="173.5" y2="134.8" stroke="#000" stroke-width="1.2" stroke-dasharray="2.2 1.3"/>
<line x1="173.5" y1="134.8" x2="173.5" y2="138.4" stroke="#000" stroke-width="1.2" />
<line x1="152.5" y1="138.4" x2="173.5" y2="138.4" stroke="#000" stroke-width="1.2" stroke-dasharray="2.4 1.6"/>
<line x1="152.5" y1="35.8" x2="152.5" y2="38.7" stroke="#111" stroke-width="1" />
<line x1="173.5" y1="35.8" x2="173.5" y2="38.7" stroke="#111" stroke-width="1" />
<rect x="152.5" y="29.6" width="21" height="6.2" fill="#ffaaaa" stroke="#333" stroke-width="0.9" rx="1.6"/>
<line x1="206.5" y1="38.7" x2="206.5" y2="134.8" stroke="#000" stroke-width="1.2" stroke-dasharray="2.2 1.3"/>
<line x1="206.5" y1="134.8" x2="206.5" y2="138.4" stroke="#000" stroke-width="1.2" />
<line x1="233.5" y1="38.7" x2="233.5" y2="134.8" stroke="#000" stroke-width="1.2" stroke-dasharray="2.2 1.3"/>
<line x1="233.5" y1="134.8" x2="233.5" y2="138.4" stroke="#000" stroke-width="1.2" />
<line x1="206.5" y1="138.4" x2="233.5" y2="138.4" stroke="#000" stroke-width="1.2" stroke-dasharray="2.4 1.6"/>
<line x1="206.5" y1="35.8" x2="206.5" y2="38.7" stroke="#111" stroke-width="1" />
<line x1="233.5" y1="35.8" x2="233.5" y2="38.7" stroke="#111" stroke-width="1" />
<rect x="206.5" y="29.6" width="27" height="6.2" fill="#c5e0b4" stroke="#333" stroke-width="0.9" rx="1.6"/>
<line x1="270.5" y1="38.7" x2="270.5" y2="134.8" stroke="#000" stroke-width="1.2" stroke-dasharray="2.2 1.3"/>
<line x1="270.5" y1="134.8" x2="270.5" y2="138.4" stroke="#000" stroke-width="1.2" />
<line x1="287.5" y1="38.7" x2="287.5" y2="134.8" stroke="#000" stroke-width="1.2" stroke-dasharray="2.2 1.3"/>
<line x1="287.5" y1="134.8" x2="287.5" y2="138.4" stroke="#000" stroke-width="1.2" />
<line x1="270.5" y1="138.4" x2="287.5" y2="138.4" stroke="#000" stroke-width="1.2" stroke-dasharray="2.4 1.6"/>
<line x1="270.5" y1="35.8" x2="270.5" y2="38.7" stroke="#111" stroke-width="1" />
<line x1="287.5" y1="35.8" x2="287.5" y2="38.7" stroke="#111" stroke-width="1" />
<rect x="270.5" y="29.6" width="17" height="6.2" fill="#c5e0b4" stroke="#333" stroke-width="0.9" rx="1.6"/>
<line x1="357.5" y1="38.7" x2="357.5" y2="134.8" stroke="#000" stroke-width="1.2" stroke-dasharray="2.2 1.3"/>
<line x1="357.5" y1="134.8" x2="357.5" y2="138.4" stroke="#000" stroke-width="1.2" />
<line x1="371.5" y1="38.7" x2="371.5" y2="134.8" stroke="#000" stroke-width="1.2" stroke-dasharray="2.2 1.3"/>
<line x1="371.5" y1="134.8" x2="371.5" y2="138.4" stroke="#000" stroke-width="1.2" />
<line x1="357.5" y1="138.4" x2="371.5" y2="138.4" stroke="#000" stroke-width="1.2" stroke-dasharray="2.4 1.6"/>
<line x1="357.5" y1="35.8" x2="357.5" y2="38.7" stroke="#111" stroke-width="1" />
<line x1="371.5" y1="35.8" x2="371.5" y2="38.7" stroke="#111" stroke-width="1" />
<rect x="357.5" y="29.6" width="14" height="6.2" fill="#c5e0b4" stroke="#333" stroke-width="0.9" rx="1.6"/>
<line x1="408.5" y1="38.7" x2="408.5" y2="134.8" stroke="#000" stroke-width="1.2" stroke-dasharray="2.2 1.3"/>
<line x1="408.5" y1="134.8" x2="408.5" y2="138.4" stroke="#000" stroke-width="1.2" />
<line x1="426.5" y1="38.7" x2="426.5" y2="134.8" stroke="#000" stroke-width="1.2" stroke-dasharray="2.2 1.3"/>
<line x1="426.5" y1="134.8" x2="426.5" y2="138.4" stroke="#000" stroke-width="1.2" />
<line x1="408.5" y1="138.4" x2="426.5" y2="138.4" stroke="#000" stroke-width="1.2" stroke-dasharray="2.4 1.6"/>
<line x1="408.5" y1="35.8" x2="408.5" y2="38.7" stroke="#111" stroke-width="1" />
<line x1="426.5" y1="35.8" x2="426.5" y2="38.7" stroke="#111" stroke-width="1" />
<rect x="408.5" y="29.6" width="18" height="6.2" fill="#c5e0b4" stroke="#333" stroke-width="0.9" rx="1.6"/>
<line x1="457.5" y1="38.7" x2="457.5" y2="134.8" stroke="#000" stroke-width="1.2" stroke-dasharray="2.2 1.3"/>
<line x1="457.5" y1="134.8" x2="457.5" y2="138.4" stroke="#000" stroke-width="1.2" />
<line x1="481.5" y1="38.7" x2="481.5" y2="134.8" stroke="#000" stroke-width="1.2" stroke-dasharray="2.2 1.3"/>
<line x1="481.5" y1="134.8" x2="481.5" y2="138.4" stroke="#000" stroke-width="1.2" />
<line x1="457.5" y1="138.4" x2="481.5" y2="138.4" stroke="#000" stroke-width="1.2" stroke-dasharray="2.4 1.6"/>
<line x1="457.5" y1="35.8" x2="457.5" y2="38.7" stroke="#111" stroke-width="1" />
<line x1="481.5" y1="35.8" x2="481.5" y2="38.7" stroke="#111" stroke-width="1" />
<rect x="457.5" y="29.6" width="24" height="6.2" fill="#c5e0b4" stroke="#333" stroke-width="0.9" rx="1.6"/>
<line x1="512.5" y1="38.7" x2="512.5" y2="134.8" stroke="#000" stroke-width="1.2" stroke-dasharray="2.2 1.3"/>
<line x1="512.5" y1="134.8" x2="512.5" y2="138.4" stroke="#000" stroke-width="1.2" />
<line x1="533.5" y1="38.7" x2="533.5" y2="134.8" stroke="#000" stroke-width="1.2" stroke-dasharray="2.2 1.3"/>
<line x1="533.5" y1="134.8" x2="533.5" y2="138.4" stroke="#000" stroke-width="1.2" />
<line x1="512.5" y1="138.4" x2="533.5" y2="138.4" stroke="#000" stroke-width="1.2" stroke-dasharray="2.4 1.6"/>
<line x1="512.5" y1="35.8" x2="512.5" y2="38.7" stroke="#111" stroke-width="1" />
<line x1="533.5" y1="35.8" x2="533.5" y2="38.7" stroke="#111" stroke-width="1" />
<rect x="512.5" y="29.6" width="21" height="6.2" fill="#c5e0b4" stroke="#333" stroke-width="0.9" rx="1.6"/>
<line x1="577.5" y1="38.7" x2="577.5" y2="134.8" stroke="#000" stroke-width="1.2" stroke-dasharray="2.2 1.3"/>
<line x1="577.5" y1="134.8" x2="577.5" y2="138.4" stroke="#000" stroke-width="1.2" />
<line x1="595.5" y1="38.7" x2="595.5" y2="134.8" stroke="#000" stroke-width="1.2" stroke-dasharray="2.2 1.3"/>
<line x1="595.5" y1="134.8" x2="595.5" y2="138.4" stroke="#000" stroke-width="1.2" />
<line x1="577.5" y1="138.4" x2="595.5" y2="138.4" stroke="#000" stroke-width="1.2" stroke-dasharray="2.4 1.6"/>
<line x1="577.5" y1="35.8" x2="577.5" y2="38.7" stroke="#111" stroke-width="1" />
<line x1="595.5" y1="35.8" x2="595.5" y2="38.7" stroke="#111" stroke-width="1" />
<rect x="577.5" y="29.6" width="18" height="6.2" fill="#c5e0b4" stroke="#333" stroke-width="0.9" rx="1.6"/>
<rect x="19.7" y="38.7" width="620" height="96.1" fill="none" stroke="#111" stroke-width="1.3" />
<line x1="19.7" y1="134.8" x2="19.7" y2="137.5" stroke="#000" stroke-width="1" />
<line x1="639.7" y1="134.8" x2="639.7" y2="137.5" stroke="#000" stroke-width="1" />
<line x1="17.2" y1="41" x2="19.7" y2="41" stroke="#000" stroke-width="1" />
<line x1="17.2" y1="132.5" x2="19.7" y2="132.5" stroke="#000" stroke-width="1" />
<text x="3" y="10" font-size="12.5" text-anchor="start" font-weight="bold" fill="#000" >a</text>
<text x="24.5" y="22" font-size="9.5" font-weight="bold"><tspan fill="#00b050">Green mouse</tspan><tspan fill="#111"> (mPFC)</tspan></text>
<text x="16.5" y="44.6" font-size="9.5" text-anchor="end" font-weight="normal" fill="#1a1a1a" >1</text>
<text x="16.3" y="135.8" font-size="9.5" text-anchor="end" font-weight="normal" fill="#1a1a1a" >21</text>
<text x="20" y="147.2" font-size="9.5" text-anchor="middle" font-weight="normal" fill="#1a1a1a" >0</text>
<text x="639.7" y="147.2" font-size="9.5" text-anchor="middle" font-weight="normal" fill="#1a1a1a" >20</text>
<text x="307.6" y="150.8" font-size="9.5" text-anchor="start" font-weight="normal" fill="#1a1a1a" >Time (min)</text>
<text transform="translate(4.2,87) rotate(-90)" x="0" y="3.32" font-size="9.5" text-anchor="middle" font-weight="normal" fill="#1a1a1a">Cell number</text>
<text x="325.3" y="7" font-size="9.5" text-anchor="start" font-weight="normal" fill="#1a1a1a" >Non-competition trials</text>
<line x1="301" y1="12.8" x2="441" y2="12.8" stroke="#000" stroke-width="1.6" />
<text x="528.8" y="7" font-size="9.5" text-anchor="start" font-weight="normal" fill="#1a1a1a" >Competition trials</text>
<line x1="495.2" y1="12.9" x2="635.4" y2="12.9" stroke="#000" stroke-width="1.6" />
<rect x="290.2" y="18.3" width="15.8" height="6.2" fill="#c5e0b4" stroke="#333" stroke-width="0.8" rx="1.5"/>
<text x="311.4" y="25" font-size="9.5" text-anchor="start" font-weight="normal" fill="#1a1a1a" >Green winner</text>
<rect x="383.2" y="18.3" width="16.2" height="6.2" fill="#ffaaaa" stroke="#333" stroke-width="0.8" rx="1.5"/>
<text x="404.8" y="25" font-size="9.5" text-anchor="start" font-weight="normal" fill="#1a1a1a" >Red winner</text>
<rect x="478" y="18.3" width="16.1" height="6.2" fill="#00b050" stroke="#333" stroke-width="0.8" rx="1.5"/>
<text x="499.4" y="25" font-size="9.5" text-anchor="start" font-weight="normal" fill="#1a1a1a" >Green winner</text>
<rect x="571.5" y="18.3" width="15.6" height="6.2" fill="#ff0000" stroke="#333" stroke-width="0.8" rx="1.5"/>
<text x="592.2" y="25" font-size="9.5" text-anchor="start" font-weight="normal" fill="#1a1a1a" >Red winner</text>
<rect x="643.2" y="38.8" width="9.8" height="95.4" fill="url(#jet)" stroke="#111" stroke-width="1" />
<line x1="649" y1="133.6" x2="653" y2="133.6" stroke="#111" stroke-width="0.8" />
<line x1="650.2" y1="126.25" x2="653" y2="126.25" stroke="#111" stroke-width="0.8" />
<line x1="650.2" y1="121.96" x2="653" y2="121.96" stroke="#111" stroke-width="0.8" />
<line x1="650.2" y1="118.91" x2="653" y2="118.91" stroke="#111" stroke-width="0.8" />
<line x1="650.2" y1="116.55" x2="653" y2="116.55" stroke="#111" stroke-width="0.8" />
<line x1="650.2" y1="114.61" x2="653" y2="114.61" stroke="#111" stroke-width="0.8" />
<line x1="650.2" y1="112.98" x2="653" y2="112.98" stroke="#111" stroke-width="0.8" />
<line x1="650.2" y1="111.56" x2="653" y2="111.56" stroke="#111" stroke-width="0.8" />
<line x1="650.2" y1="110.32" x2="653" y2="110.32" stroke="#111" stroke-width="0.8" />
<line x1="649" y1="109.2" x2="653" y2="109.2" stroke="#111" stroke-width="0.8" />
<line x1="650.2" y1="101.85" x2="653" y2="101.85" stroke="#111" stroke-width="0.8" />
<line x1="650.2" y1="97.56" x2="653" y2="97.56" stroke="#111" stroke-width="0.8" />
<line x1="650.2" y1="94.51" x2="653" y2="94.51" stroke="#111" stroke-width="0.8" />
<line x1="650.2" y1="92.15" x2="653" y2="92.15" stroke="#111" stroke-width="0.8" />
<line x1="650.2" y1="90.21" x2="653" y2="90.21" stroke="#111" stroke-width="0.8" />
<line x1="650.2" y1="88.58" x2="653" y2="88.58" stroke="#111" stroke-width="0.8" />
<line x1="650.2" y1="87.16" x2="653" y2="87.16" stroke="#111" stroke-width="0.8" />
<line x1="650.2" y1="85.92" x2="653" y2="85.92" stroke="#111" stroke-width="0.8" />
<line x1="649" y1="84.8" x2="653" y2="84.8" stroke="#111" stroke-width="0.8" />
<line x1="650.2" y1="77.45" x2="653" y2="77.45" stroke="#111" stroke-width="0.8" />
<line x1="650.2" y1="73.16" x2="653" y2="73.16" stroke="#111" stroke-width="0.8" />
<line x1="650.2" y1="70.11" x2="653" y2="70.11" stroke="#111" stroke-width="0.8" />
<line x1="650.2" y1="67.75" x2="653" y2="67.75" stroke="#111" stroke-width="0.8" />
<line x1="650.2" y1="65.81" x2="653" y2="65.81" stroke="#111" stroke-width="0.8" />
<line x1="650.2" y1="64.18" x2="653" y2="64.18" stroke="#111" stroke-width="0.8" />
<line x1="650.2" y1="62.76" x2="653" y2="62.76" stroke="#111" stroke-width="0.8" />
<line x1="650.2" y1="61.52" x2="653" y2="61.52" stroke="#111" stroke-width="0.8" />
<line x1="649" y1="60.4" x2="653" y2="60.4" stroke="#111" stroke-width="0.8" />
<line x1="650.2" y1="53.05" x2="653" y2="53.05" stroke="#111" stroke-width="0.8" />
<line x1="650.2" y1="48.76" x2="653" y2="48.76" stroke="#111" stroke-width="0.8" />
<line x1="650.2" y1="45.71" x2="653" y2="45.71" stroke="#111" stroke-width="0.8" />
<line x1="650.2" y1="43.35" x2="653" y2="43.35" stroke="#111" stroke-width="0.8" />
<line x1="650.2" y1="41.41" x2="653" y2="41.41" stroke="#111" stroke-width="0.8" />
<text x="655.2" y="137" font-size="9.5" text-anchor="start" font-weight="normal" fill="#1a1a1a" >0</text>
<text x="655.2" y="112.6" font-size="9.5" text-anchor="start" font-weight="normal" fill="#1a1a1a" >0.1</text>
<text x="655.2" y="88.2" font-size="9.5" text-anchor="start" font-weight="normal" fill="#1a1a1a" >1</text>
<text x="655.2" y="63.8" font-size="9.5" text-anchor="start" font-weight="normal" fill="#1a1a1a" >10</text>
<text transform="translate(676.5,86.5) rotate(90)" x="0" y="3.32" font-size="9.5" text-anchor="middle" font-weight="normal" fill="#1a1a1a">Mean FR (Hz)</text>
<rect x="117.6" y="162.1" width="85.2" height="91.6" fill="#f2e6c8" stroke="none" stroke-width="1" />
<path stroke="#000090" stroke-width="15.3" fill="none" d="M20 188.15h1m14 0h1m4 0h1m11 0h1m9 0h1m5 0h1m4 0h1m7 0h1m3 0h2m2 0h1m9 0h1m6 0h1M21 203.45h1m12 0h1m7 0h2m1 0h4m4 0h1m1 0h1m1 0h2m2 0h1m5 0h1m12 0h2m6 0h1m9 0h1m1 0h1m10 0h1m1 0h1M28 218.75h2m3 0h1m1 0h1m1 0h1m2 0h3m4 0h1m3 0h1m16 0h1m3 0h3m2 0h2m6 0h4m2 0h1m3 0h1m4 0h1m1 0h1m14 0h1M20 234.05h1m8 0h1m4 0h2m2 0h1m5 0h1m13 0h1m1 0h1m8 0h1m3 0h1m11 0h1m1 0h1m2 0h1m14 0h1m6 0h1m2 0h1" shape-rendering="crispEdges"/>
<path stroke="#c0c020" stroke-width="15.3" fill="none" d="M21 188.15h1m38 0h1M37 234.05h1m51 0h1" shape-rendering="crispEdges"/>
<path stroke="#b08030" stroke-width="15.3" fill="none" d="M22 188.15h1m24 0h1m15 0h1M71 234.05h1" shape-rendering="crispEdges"/>
<path stroke="#ffe000" stroke-width="15.3" fill="none" d="M23 188.15h1m32 0h1m17 0h1m2 0h1m24 0h1m1 0h1m5 0h1M35 203.45h1m1 0h1m41 0h1m4 0h1m4 0h1M56 218.75h1m3 0h1M63 234.05h1m2 0h1m15 0h1m1 0h1m12 0h1m3 0h1m2 0h1" shape-rendering="crispEdges"/>
<path stroke="#906040" stroke-width="15.3" fill="none" d="M24 188.15h1m17 0h1m26 0h2M27 234.05h1m3 0h1" shape-rendering="crispEdges"/>
<path stroke="#d0ff30" stroke-width="15.3" fill="none" d="M25 188.15h1m12 0h2m13 0h1m12 0h1m38 0h1m2 0h1M90 203.45h1m5 0h1M39 218.75h1m15 0h1m6 0h1m44 0h1" shape-rendering="crispEdges"/>
<path stroke="#b0a030" stroke-width="15.3" fill="none" d="M26 188.15h1M38 218.75h1" shape-rendering="crispEdges"/>
<path stroke="#f0ff00" stroke-width="15.3" fill="none" d="M27 188.15h1m39 0h1M64 234.05h1" shape-rendering="crispEdges"/>
<path stroke="#e0ff20" stroke-width="15.3" fill="none" d="M28 188.15h2m27 0h1m7 0h1m32 0h1m1 0h1m13 0h1m2 0h1M39 203.45h1m37 0h1m8 0h1m20 0h1m8 0h1M49 218.75h1m15 0h1m9 0h1m18 0h1M40 234.05h1" shape-rendering="crispEdges"/>
<path stroke="#809050" stroke-width="15.3" fill="none" d="M30 188.15h1M30 218.75h1m80 0h2" shape-rendering="crispEdges"/>
<path stroke="#ffff00" stroke-width="15.3" fill="none" d="M31 188.15h1m12 0h2m3 0h3m2 0h1m29 0h1m31 0h1M64 203.45h1m5 0h1M48 218.75h1m17 0h1m31 0h1M21 234.05h1m25 0h1m6 0h1m17 0h1m8 0h1" shape-rendering="crispEdges"/>
<path stroke="#ffd000" stroke-width="15.3" fill="none" d="M32 188.15h2m77 0h1M73 203.45h1m2 0h1m15 0h1m10 0h1M50 218.75h1m28 0h1m13 0h1M39 234.05h1m5 0h1m7 0h1m20 0h1m41 0h1" shape-rendering="crispEdges"/>
<path stroke="#fff000" stroke-width="15.3" fill="none" d="M34 188.15h1m48 0h1m10 0h2m7 0h1M22 203.45h1m4 0h1m8 0h1m46 0h1M44 218.75h1m13 0h1m11 0h2M24 234.05h1m23 0h2m6 0h1m41 0h1m9 0h1" shape-rendering="crispEdges"/>
<path stroke="#806040" stroke-width="15.3" fill="none" d="M36 188.15h2M74 203.45h1M20 218.75h1" shape-rendering="crispEdges"/>
<path stroke="#ffc000" stroke-width="15.3" fill="none" d="M41 188.15h1m6 0h1m66 0h1M23 203.45h1m6 0h1m20 0h1m11 0h1m8 0h1m35 0h1m6 0h1M26 218.75h1m16 0h1m23 0h1m14 0h1m1 0h1m14 0h1M32 234.05h1" shape-rendering="crispEdges"/>
<path stroke="#90a040" stroke-width="15.3" fill="none" d="M43 188.15h1m28 0h1m17 0h1M32 203.45h1m62 0h1m21 0h1M114 218.75h1M57 234.05h1" shape-rendering="crispEdges"/>
<path stroke="#909040" stroke-width="15.3" fill="none" d="M46 188.15h1M25 218.75h1m27 0h1m38 0h1" shape-rendering="crispEdges"/>
<path stroke="#808050" stroke-width="15.3" fill="none" d="M55 188.15h1M44 203.45h1" shape-rendering="crispEdges"/>
<path stroke="#c0a020" stroke-width="15.3" fill="none" d="M58 188.15h1M97 218.75h1M51 234.05h1" shape-rendering="crispEdges"/>
<path stroke="#706050" stroke-width="15.3" fill="none" d="M59 188.15h1M110 218.75h1" shape-rendering="crispEdges"/>
<path stroke="#ffb000" stroke-width="15.3" fill="none" d="M61 188.15h1m17 0h1m32 0h1M31 203.45h1M25 234.05h1m10 0h1m9 0h1m23 0h1m28 0h1m10 0h1" shape-rendering="crispEdges"/>
<path stroke="#ffa000" stroke-width="15.3" fill="none" d="M64 188.15h1M22 234.05h2m2 0h1m15 0h1m9 0h1m12 0h1m11 0h1m2 0h1m33 0h1" shape-rendering="crispEdges"/>
<path stroke="#907040" stroke-width="15.3" fill="none" d="M71 188.15h1m21 0h1M60 203.45h1m5 0h1m37 0h1m7 0h1M109 218.75h1M109 234.05h1" shape-rendering="crispEdges"/>
<path stroke="#606050" stroke-width="15.3" fill="none" d="M75 188.15h1M82 203.45h1" shape-rendering="crispEdges"/>
<path stroke="#807040" stroke-width="15.3" fill="none" d="M76 188.15h1M59 203.45h1m15 0h1M101 218.75h1M28 234.05h1m32 0h1" shape-rendering="crispEdges"/>
<path stroke="#a0c040" stroke-width="15.3" fill="none" d="M78 188.15h1" shape-rendering="crispEdges"/>
<path stroke="#80a050" stroke-width="15.3" fill="none" d="M80 188.15h1M57 218.75h1m57 0h1" shape-rendering="crispEdges"/>
<path stroke="#d0ff20" stroke-width="15.3" fill="none" d="M82 188.15h1m18 0h1m11 0h1" shape-rendering="crispEdges"/>
<path stroke="#d0c020" stroke-width="15.3" fill="none" d="M87 188.15h1" shape-rendering="crispEdges"/>
<path stroke="#c08020" stroke-width="15.3" fill="none" d="M88 188.15h1M76 234.05h1" shape-rendering="crispEdges"/>
<path stroke="#708050" stroke-width="15.3" fill="none" d="M91 188.15h1M59 234.05h1" shape-rendering="crispEdges"/>
<path stroke="#f0ff10" stroke-width="15.3" fill="none" d="M92 188.15h1m16 0h1M24 203.45h1m3 0h2m41 0h1m13 0h1m1 0h1m26 0h1M22 218.75h1m4 0h1m17 0h1m23 0h1m10 0h1M75 234.05h1m19 0h1m11 0h1m5 0h1m3 0h1" shape-rendering="crispEdges"/>
<path stroke="#808040" stroke-width="15.3" fill="none" d="M96 188.15h1M24 218.75h1m7 0h1m80 0h1" shape-rendering="crispEdges"/>
<path stroke="#a0c050" stroke-width="15.3" fill="none" d="M97 188.15h1" shape-rendering="crispEdges"/>
<path stroke="#c09020" stroke-width="15.3" fill="none" d="M107 188.15h1M62 203.45h1m39 0h1M21 218.75h1" shape-rendering="crispEdges"/>
<path stroke="#709050" stroke-width="15.3" fill="none" d="M20 203.45h1" shape-rendering="crispEdges"/>
<path stroke="#90b050" stroke-width="15.3" fill="none" d="M25 203.45h1M36 218.75h1" shape-rendering="crispEdges"/>
<path stroke="#607060" stroke-width="15.3" fill="none" d="M26 203.45h1m22 0h1m28 0h1m18 0h1M23 218.75h1m7 0h1M96 234.05h1" shape-rendering="crispEdges"/>
<path stroke="#c0ff40" stroke-width="15.3" fill="none" d="M33 203.45h1m6 0h1m60 0h1M54 218.75h1" shape-rendering="crispEdges"/>
<path stroke="#e0ff10" stroke-width="15.3" fill="none" d="M38 203.45h1M59 218.75h1M55 234.05h1m32 0h1" shape-rendering="crispEdges"/>
<path stroke="#608060" stroke-width="15.3" fill="none" d="M41 203.45h1M89 218.75h1" shape-rendering="crispEdges"/>
<path stroke="#a0b030" stroke-width="15.3" fill="none" d="M50 203.45h1M81 218.75h1" shape-rendering="crispEdges"/>
<path stroke="#605050" stroke-width="15.3" fill="none" d="M52 203.45h1m40 0h1" shape-rendering="crispEdges"/>
<path stroke="#a09030" stroke-width="15.3" fill="none" d="M54 203.45h1M34 218.75h1M83 234.05h1" shape-rendering="crispEdges"/>
<path stroke="#708060" stroke-width="15.3" fill="none" d="M56 203.45h1M108 218.75h1" shape-rendering="crispEdges"/>
<path stroke="#707050" stroke-width="15.3" fill="none" d="M65 203.45h1m40 0h1M103 218.75h1m1 0h1" shape-rendering="crispEdges"/>
<path stroke="#809040" stroke-width="15.3" fill="none" d="M68 203.45h1m30 0h1M76 218.75h1" shape-rendering="crispEdges"/>
<path stroke="#606060" stroke-width="15.3" fill="none" d="M69 203.45h1" shape-rendering="crispEdges"/>
<path stroke="#b0b030" stroke-width="15.3" fill="none" d="M91 203.45h1M52 218.75h1m8 0h1" shape-rendering="crispEdges"/>
<path stroke="#908040" stroke-width="15.3" fill="none" d="M94 203.45h1M96 218.75h1M67 234.05h1m26 0h1" shape-rendering="crispEdges"/>
<path stroke="#a0a030" stroke-width="15.3" fill="none" d="M105 203.45h1M104 218.75h1" shape-rendering="crispEdges"/>
<path stroke="#80a060" stroke-width="15.3" fill="none" d="M109 203.45h1" shape-rendering="crispEdges"/>
<path stroke="#507070" stroke-width="15.3" fill="none" d="M110 203.45h1" shape-rendering="crispEdges"/>
<path stroke="#b0a020" stroke-width="15.3" fill="none" d="M46 218.75h1" shape-rendering="crispEdges"/>
<path stroke="#507060" stroke-width="15.3" fill="none" d="M63 218.75h1" shape-rendering="crispEdges"/>
<path stroke="#506060" stroke-width="15.3" fill="none" d="M64 218.75h1" shape-rendering="crispEdges"/>
<path stroke="#c0b020" stroke-width="15.3" fill="none" d="M83 218.75h1M33 234.05h1m28 0h1" shape-rendering="crispEdges"/>
<path stroke="#506070" stroke-width="15.3" fill="none" d="M90 218.75h1" shape-rendering="crispEdges"/>
<path stroke="#d0b020" stroke-width="15.3" fill="none" d="M106 218.75h1" shape-rendering="crispEdges"/>
<path stroke="#a08030" stroke-width="15.3" fill="none" d="M116 218.75h1" shape-rendering="crispEdges"/>
<path stroke="#b07030" stroke-width="15.3" fill="none" d="M30 234.05h1m60 0h1" shape-rendering="crispEdges"/>
<path stroke="#a07030" stroke-width="15.3" fill="none" d="M41 234.05h1" shape-rendering="crispEdges"/>
<path stroke="#ff9000" stroke-width="15.3" fill="none" d="M43 234.05h1m6 0h1m28 0h1m22 0h2m7 0h1" shape-rendering="crispEdges"/>
<path stroke="#a0b040" stroke-width="15.3" fill="none" d="M68 234.05h1" shape-rendering="crispEdges"/>
<path stroke="#704050" stroke-width="15.3" fill="none" d="M78 234.05h1" shape-rendering="crispEdges"/>
<path stroke="#806050" stroke-width="15.3" fill="none" d="M86 234.05h1" shape-rendering="crispEdges"/>
<path stroke="#a06030" stroke-width="15.3" fill="none" d="M92 234.05h1" shape-rendering="crispEdges"/>
<path stroke="#705050" stroke-width="15.3" fill="none" d="M93 234.05h1" shape-rendering="crispEdges"/>
<path stroke="#d0a020" stroke-width="15.3" fill="none" d="M100 234.05h1" shape-rendering="crispEdges"/>
<path stroke="#b09030" stroke-width="15.3" fill="none" d="M106 234.05h1" shape-rendering="crispEdges"/>
<path stroke="#202070" stroke-width="15.3" fill="none" d="M118 188.15h1m4 0h3m1 0h1m2 0h1m1 0h2m4 0h1m2 0h1m4 0h1m4 0h2m3 0h1m1 0h2m1 0h1m2 0h2m3 0h1m4 0h1m1 0h1m1 0h1m2 0h3m4 0h6M118 203.45h3m2 0h1m6 0h2m2 0h3m2 0h3m2 0h2m1 0h1m3 0h3m1 0h1m8 0h4m1 0h2m1 0h4m3 0h3m1 0h3m1 0h4m1 0h8M118 218.75h1m1 0h4m1 0h4m4 0h2m2 0h3m2 0h1m3 0h1m1 0h2m4 0h2m2 0h1m4 0h3m2 0h2m1 0h7m1 0h2m3 0h1m2 0h2m3 0h2m6 0h1M120 234.05h2m4 0h1m1 0h1m5 0h2m8 0h4m5 0h1m2 0h1m5 0h1m1 0h2m3 0h6m1 0h1m1 0h2m1 0h4m1 0h4m2 0h1m4 0h2m2 0h2" shape-rendering="crispEdges"/>
<path stroke="#708050" stroke-width="15.3" fill="none" d="M119 188.15h2M150 203.45h1m5 0h2m3 0h2m23 0h1M150 218.75h1m40 0h1" shape-rendering="crispEdges"/>
<path stroke="#b08020" stroke-width="15.3" fill="none" d="M121 188.15h1M157 218.75h1M200 234.05h1" shape-rendering="crispEdges"/>
<path stroke="#906040" stroke-width="15.3" fill="none" d="M122 188.15h1M132 234.05h1m4 0h1m55 0h1" shape-rendering="crispEdges"/>
<path stroke="#ffd000" stroke-width="15.3" fill="none" d="M126 188.15h1m8 0h1m44 0h1M159 203.45h1M130 218.75h1M148 234.05h1" shape-rendering="crispEdges"/>
<path stroke="#907040" stroke-width="15.3" fill="none" d="M128 188.15h1m5 0h1M145 218.75h1M199 234.05h1" shape-rendering="crispEdges"/>
<path stroke="#b09020" stroke-width="15.3" fill="none" d="M129 188.15h1M191 203.45h1M153 218.75h1M175 234.05h1" shape-rendering="crispEdges"/>
<path stroke="#809040" stroke-width="15.3" fill="none" d="M131 188.15h1m62 0h1M129 203.45h1M152 218.75h1m14 0h1m18 0h1m15 0h1M122 234.05h1" shape-rendering="crispEdges"/>
<path stroke="#a08030" stroke-width="15.3" fill="none" d="M136 188.15h2m32 0h1M133 203.45h1m26 0h1M130 234.05h1" shape-rendering="crispEdges"/>
<path stroke="#606050" stroke-width="15.3" fill="none" d="M139 188.15h1m5 0h1" shape-rendering="crispEdges"/>
<path stroke="#a0a030" stroke-width="15.3" fill="none" d="M140 188.15h1" shape-rendering="crispEdges"/>
<path stroke="#907030" stroke-width="15.3" fill="none" d="M142 188.15h1M159 234.05h1m17 0h1" shape-rendering="crispEdges"/>
<path stroke="#ffb000" stroke-width="15.3" fill="none" d="M143 188.15h1M118 234.05h1m12 0h1" shape-rendering="crispEdges"/>
<path stroke="#d0f020" stroke-width="15.3" fill="none" d="M144 188.15h1M128 203.45h1m72 0h1" shape-rendering="crispEdges"/>
<path stroke="#706040" stroke-width="15.3" fill="none" d="M147 188.15h1m6 0h1M131 218.75h1M143 234.05h1m14 0h1m37 0h1" shape-rendering="crispEdges"/>
<path stroke="#ffc000" stroke-width="15.3" fill="none" d="M148 188.15h1m8 0h1m19 0h1M127 203.45h1m9 0h1M124 218.75h1M152 234.05h1m27 0h1" shape-rendering="crispEdges"/>
<path stroke="#806040" stroke-width="15.3" fill="none" d="M149 188.15h1m3 0h1M156 218.75h1M127 234.05h1m10 0h1m21 0h1" shape-rendering="crispEdges"/>
<path stroke="#809050" stroke-width="15.3" fill="none" d="M150 188.15h1M132 218.75h1m29 0h1" shape-rendering="crispEdges"/>
<path stroke="#90a040" stroke-width="15.3" fill="none" d="M155 188.15h1M132 203.45h1M140 218.75h1m10 0h1m37 0h1m11 0h1" shape-rendering="crispEdges"/>
<path stroke="#a09030" stroke-width="15.3" fill="none" d="M160 188.15h1m14 0h1M121 203.45h1m21 0h1m4 0h1" shape-rendering="crispEdges"/>
<path stroke="#b0b030" stroke-width="15.3" fill="none" d="M162 188.15h1" shape-rendering="crispEdges"/>
<path stroke="#ffe000" stroke-width="15.3" fill="none" d="M163 188.15h1M136 218.75h1M195 234.05h1" shape-rendering="crispEdges"/>
<path stroke="#707040" stroke-width="15.3" fill="none" d="M166 188.15h1m19 0h1m13 0h1M151 234.05h1" shape-rendering="crispEdges"/>
<path stroke="#808040" stroke-width="15.3" fill="none" d="M167 188.15h1m19 0h1m14 0h1M142 203.45h1m20 0h1m14 0h1M147 218.75h1M141 234.05h1" shape-rendering="crispEdges"/>
<path stroke="#908030" stroke-width="15.3" fill="none" d="M168 188.15h1m2 0h1m13 0h1M126 203.45h1M194 218.75h2M142 234.05h1m14 0h1m3 0h1" shape-rendering="crispEdges"/>
<path stroke="#c0a020" stroke-width="15.3" fill="none" d="M172 188.15h1M149 234.05h1" shape-rendering="crispEdges"/>
<path stroke="#c0f030" stroke-width="15.3" fill="none" d="M173 188.15h1m5 0h1m17 0h1" shape-rendering="crispEdges"/>
<path stroke="#f0e000" stroke-width="15.3" fill="none" d="M184 188.15h1m11 0h1M124 203.45h2m32 0h1M119 218.75h1m23 0h1m38 0h1" shape-rendering="crispEdges"/>
<path stroke="#e0f010" stroke-width="15.3" fill="none" d="M195 188.15h1m2 0h1m2 0h1M135 218.75h1m24 0h1m5 0h1M125 234.05h1m14 0h1m9 0h1" shape-rendering="crispEdges"/>
<path stroke="#909040" stroke-width="15.3" fill="none" d="M199 188.15h1M168 203.45h1m8 0h1m4 0h1M123 234.05h1" shape-rendering="crispEdges"/>
<path stroke="#807040" stroke-width="15.3" fill="none" d="M122 203.45h1m26 0h1M129 218.75h1m51 0h1m1 0h1m12 0h1" shape-rendering="crispEdges"/>
<path stroke="#f0f000" stroke-width="15.3" fill="none" d="M138 203.45h1" shape-rendering="crispEdges"/>
<path stroke="#a07030" stroke-width="15.3" fill="none" d="M146 203.45h1m7 0h1M136 234.05h1m26 0h1m21 0h1" shape-rendering="crispEdges"/>
<path stroke="#709050" stroke-width="15.3" fill="none" d="M171 203.45h1" shape-rendering="crispEdges"/>
<path stroke="#707050" stroke-width="15.3" fill="none" d="M176 203.45h1M198 218.75h1M124 234.05h1" shape-rendering="crispEdges"/>
<path stroke="#708040" stroke-width="15.3" fill="none" d="M200 203.45h1" shape-rendering="crispEdges"/>
<path stroke="#a0b030" stroke-width="15.3" fill="none" d="M202 203.45h1M159 218.75h1" shape-rendering="crispEdges"/>
<path stroke="#607050" stroke-width="15.3" fill="none" d="M141 218.75h1" shape-rendering="crispEdges"/>
<path stroke="#908040" stroke-width="15.3" fill="none" d="M144 218.75h1m33 0h1" shape-rendering="crispEdges"/>
<path stroke="#909030" stroke-width="15.3" fill="none" d="M161 218.75h1M133 234.05h1" shape-rendering="crispEdges"/>
<path stroke="#b0a020" stroke-width="15.3" fill="none" d="M170 218.75h1M119 234.05h1" shape-rendering="crispEdges"/>
<path stroke="#80a040" stroke-width="15.3" fill="none" d="M185 218.75h1m4 0h1" shape-rendering="crispEdges"/>
<path stroke="#90b040" stroke-width="15.3" fill="none" d="M197 218.75h1" shape-rendering="crispEdges"/>
<path stroke="#b08030" stroke-width="15.3" fill="none" d="M199 218.75h1" shape-rendering="crispEdges"/>
<path stroke="#ff9000" stroke-width="15.3" fill="none" d="M129 234.05h1m25 0h1" shape-rendering="crispEdges"/>
<path stroke="#d0a020" stroke-width="15.3" fill="none" d="M139 234.05h1" shape-rendering="crispEdges"/>
<path stroke="#c09020" stroke-width="15.3" fill="none" d="M154 234.05h1" shape-rendering="crispEdges"/>
<path stroke="#905040" stroke-width="15.3" fill="none" d="M166 234.05h1" shape-rendering="crispEdges"/>
<path stroke="#c07020" stroke-width="15.3" fill="none" d="M167 234.05h1" shape-rendering="crispEdges"/>
<path stroke="#ffa000" stroke-width="15.3" fill="none" d="M168 234.05h1m25 0h1" shape-rendering="crispEdges"/>
<path stroke="#a06030" stroke-width="15.3" fill="none" d="M190 234.05h1" shape-rendering="crispEdges"/>
<path stroke="#b07030" stroke-width="15.3" fill="none" d="M191 234.05h1" shape-rendering="crispEdges"/>
<rect x="202.8" y="180.5" width="436.3" height="61.2" fill="#00008a" stroke="none" stroke-width="1" shape-rendering="crispEdges"/>
<path stroke="#ffe000" stroke-width="15.3" fill="none" d="M212 188.15h1M220 218.75h1m6 0h1" shape-rendering="crispEdges"/>
<path stroke="#807040" stroke-width="15.3" fill="none" d="M216 188.15h1M235 203.45h1" shape-rendering="crispEdges"/>
<path stroke="#806040" stroke-width="15.3" fill="none" d="M220 188.15h1m16 0h1M238 203.45h1" shape-rendering="crispEdges"/>
<path stroke="#705050" stroke-width="15.3" fill="none" d="M236 188.15h1" shape-rendering="crispEdges"/>
<path stroke="#907040" stroke-width="15.3" fill="none" d="M238 188.15h1" shape-rendering="crispEdges"/>
<path stroke="#608060" stroke-width="15.3" fill="none" d="M242 188.15h1M245 234.05h1" shape-rendering="crispEdges"/>
<path stroke="#708060" stroke-width="15.3" fill="none" d="M243 188.15h1" shape-rendering="crispEdges"/>
<path stroke="#604060" stroke-width="15.3" fill="none" d="M213 203.45h1" shape-rendering="crispEdges"/>
<path stroke="#a07030" stroke-width="15.3" fill="none" d="M214 203.45h1M225 234.05h1" shape-rendering="crispEdges"/>
<path stroke="#809040" stroke-width="15.3" fill="none" d="M232 203.45h1M209 234.05h1" shape-rendering="crispEdges"/>
<path stroke="#b0a030" stroke-width="15.3" fill="none" d="M234 203.45h1" shape-rendering="crispEdges"/>
<path stroke="#f0ff10" stroke-width="15.3" fill="none" d="M236 203.45h1M217 234.05h1" shape-rendering="crispEdges"/>
<path stroke="#606060" stroke-width="15.3" fill="none" d="M237 203.45h1M218 234.05h1" shape-rendering="crispEdges"/>
<path stroke="#b08030" stroke-width="15.3" fill="none" d="M204 218.75h1" shape-rendering="crispEdges"/>
<path stroke="#808040" stroke-width="15.3" fill="none" d="M210 218.75h1m18 0h1" shape-rendering="crispEdges"/>
<path stroke="#706050" stroke-width="15.3" fill="none" d="M211 218.75h1M207 234.05h1m32 0h1m1 0h1" shape-rendering="crispEdges"/>
<path stroke="#a08030" stroke-width="15.3" fill="none" d="M213 218.75h1m4 0h1M230 234.05h1" shape-rendering="crispEdges"/>
<path stroke="#90a040" stroke-width="15.3" fill="none" d="M216 218.75h1" shape-rendering="crispEdges"/>
<path stroke="#ffff00" stroke-width="15.3" fill="none" d="M228 218.75h1" shape-rendering="crispEdges"/>
<path stroke="#707050" stroke-width="15.3" fill="none" d="M203 234.05h1m30 0h1" shape-rendering="crispEdges"/>
<path stroke="#b0b030" stroke-width="15.3" fill="none" d="M204 234.05h1" shape-rendering="crispEdges"/>
<path stroke="#806050" stroke-width="15.3" fill="none" d="M211 234.05h1" shape-rendering="crispEdges"/>
<path stroke="#e0ff20" stroke-width="15.3" fill="none" d="M216 234.05h1" shape-rendering="crispEdges"/>
<path stroke="#908040" stroke-width="15.3" fill="none" d="M221 234.05h2" shape-rendering="crispEdges"/>
<path stroke="#605050" stroke-width="15.3" fill="none" d="M229 234.05h1" shape-rendering="crispEdges"/>
<path stroke="#507060" stroke-width="15.3" fill="none" d="M246 234.05h1" shape-rendering="crispEdges"/>
<rect x="234.1" y="180.5" width="1" height="15.3" fill="#bfba22" stroke="none" stroke-width="1" />
<rect x="234.1" y="195.8" width="1" height="15.3" fill="#bfba22" stroke="none" stroke-width="1" />
<rect x="234.1" y="226.4" width="1" height="15.3" fill="#bfba22" stroke="none" stroke-width="1" />
<rect x="237.2" y="195.8" width="1" height="15.3" fill="#abbf35" stroke="none" stroke-width="1" />
<rect x="237.2" y="226.4" width="1" height="15.3" fill="#abbf35" stroke="none" stroke-width="1" />
<rect x="241.8" y="195.8" width="1" height="15.3" fill="#bfb322" stroke="none" stroke-width="1" />
<rect x="241.8" y="226.4" width="1" height="15.3" fill="#bfb322" stroke="none" stroke-width="1" />
<rect x="310.8" y="180.5" width="1" height="15.3" fill="#85bf5b" stroke="none" stroke-width="1" />
<rect x="310.8" y="195.8" width="1" height="15.3" fill="#85bf5b" stroke="none" stroke-width="1" />
<rect x="310.8" y="211.1" width="1" height="15.3" fill="#85bf5b" stroke="none" stroke-width="1" />
<rect x="310.8" y="226.4" width="1" height="15.3" fill="#85bf5b" stroke="none" stroke-width="1" />
<rect x="321.5" y="195.8" width="1" height="15.3" fill="#85bf5b" stroke="none" stroke-width="1" />
<rect x="321.5" y="211.1" width="1" height="15.3" fill="#85bf5b" stroke="none" stroke-width="1" />
<rect x="343" y="180.5" width="1" height="15.3" fill="#bf4822" stroke="none" stroke-width="1" />
<rect x="343" y="195.8" width="1" height="15.3" fill="#bf4822" stroke="none" stroke-width="1" />
<rect x="343" y="211.1" width="1" height="15.3" fill="#bf4822" stroke="none" stroke-width="1" />
<rect x="343" y="226.4" width="1" height="15.3" fill="#bf4822" stroke="none" stroke-width="1" />
<rect x="346.1" y="211.1" width="1" height="15.3" fill="#5fbf81" stroke="none" stroke-width="1" />
<rect x="444.8" y="180.5" width="1" height="15.3" fill="#bfb322" stroke="none" stroke-width="1" />
<rect x="445.5" y="195.8" width="1" height="15.3" fill="#bf2a22" stroke="none" stroke-width="1" />
<rect x="445.5" y="211.1" width="1" height="15.3" fill="#bf2a22" stroke="none" stroke-width="1" />
<rect x="445.5" y="226.4" width="1" height="15.3" fill="#bf2a22" stroke="none" stroke-width="1" />
<rect x="461.7" y="180.5" width="1" height="15.3" fill="#bfb322" stroke="none" stroke-width="1" />
<rect x="461.7" y="195.8" width="1" height="15.3" fill="#bfb322" stroke="none" stroke-width="1" />
<rect x="461.7" y="211.1" width="1" height="15.3" fill="#bfb322" stroke="none" stroke-width="1" />
<rect x="461.7" y="226.4" width="1" height="15.3" fill="#bfb322" stroke="none" stroke-width="1" />
<rect x="467.8" y="226.4" width="1" height="15.3" fill="#9cbf44" stroke="none" stroke-width="1" />
<rect x="481.5" y="180.5" width="1" height="15.3" fill="#bf7622" stroke="none" stroke-width="1" />
<rect x="481.5" y="195.8" width="1" height="15.3" fill="#bf7622" stroke="none" stroke-width="1" />
<rect x="481.5" y="211.1" width="1" height="15.3" fill="#bf7622" stroke="none" stroke-width="1" />
<rect x="481.5" y="226.4" width="1" height="15.3" fill="#bf7622" stroke="none" stroke-width="1" />
<rect x="523.1" y="180.5" width="1" height="15.3" fill="#bfb322" stroke="none" stroke-width="1" />
<rect x="514.8" y="195.8" width="1" height="15.3" fill="#9cbf44" stroke="none" stroke-width="1" />
<rect x="550.7" y="180.5" width="1" height="15.3" fill="#bfb322" stroke="none" stroke-width="1" />
<rect x="550.7" y="211.1" width="1" height="15.3" fill="#bf7622" stroke="none" stroke-width="1" />
<rect x="553.7" y="180.5" width="1" height="15.3" fill="#bf1a22" stroke="none" stroke-width="1" />
<rect x="553.7" y="195.8" width="1" height="15.3" fill="#bf1a22" stroke="none" stroke-width="1" />
<rect x="553.7" y="211.1" width="1" height="15.3" fill="#bf1a22" stroke="none" stroke-width="1" />
<rect x="553.7" y="226.4" width="1" height="15.3" fill="#bf1a22" stroke="none" stroke-width="1" />
<rect x="561.4" y="180.5" width="1" height="15.3" fill="#5fbf81" stroke="none" stroke-width="1" />
<rect x="561.4" y="195.8" width="1" height="15.3" fill="#5fbf81" stroke="none" stroke-width="1" />
<rect x="561.4" y="211.1" width="1" height="15.3" fill="#5fbf81" stroke="none" stroke-width="1" />
<rect x="561.4" y="226.4" width="1" height="15.3" fill="#5fbf81" stroke="none" stroke-width="1" />
<rect x="578.3" y="211.1" width="1" height="15.3" fill="#9cbf44" stroke="none" stroke-width="1" />
<rect x="578.3" y="226.4" width="1" height="15.3" fill="#9cbf44" stroke="none" stroke-width="1" />
<rect x="601.9" y="211.1" width="1" height="15.3" fill="#bfb322" stroke="none" stroke-width="1" />
<rect x="613.5" y="180.5" width="1" height="15.3" fill="#bf1a22" stroke="none" stroke-width="1" />
<rect x="613.5" y="195.8" width="1" height="15.3" fill="#bf1a22" stroke="none" stroke-width="1" />
<rect x="613.5" y="211.1" width="1" height="15.3" fill="#bf1a22" stroke="none" stroke-width="1" />
<rect x="613.5" y="226.4" width="1" height="15.3" fill="#bf1a22" stroke="none" stroke-width="1" />
<rect x="624.3" y="180.5" width="1" height="15.3" fill="#9cbf44" stroke="none" stroke-width="1" />
<rect x="624.3" y="195.8" width="1" height="15.3" fill="#9cbf44" stroke="none" stroke-width="1" />
<rect x="624.3" y="226.4" width="1" height="15.3" fill="#9cbf44" stroke="none" stroke-width="1" />
<rect x="630.5" y="180.5" width="1" height="15.3" fill="#bf5722" stroke="none" stroke-width="1" />
<rect x="630.5" y="195.8" width="1" height="15.3" fill="#bf5722" stroke="none" stroke-width="1" />
<rect x="630.5" y="211.1" width="1" height="15.3" fill="#bf5722" stroke="none" stroke-width="1" />
<rect x="630.5" y="226.4" width="1" height="15.3" fill="#bf5722" stroke="none" stroke-width="1" />
<rect x="633.5" y="180.5" width="1" height="15.3" fill="#5fbf81" stroke="none" stroke-width="1" />
<rect x="633.5" y="195.8" width="1" height="15.3" fill="#5fbf81" stroke="none" stroke-width="1" />
<rect x="633.5" y="211.1" width="1" height="15.3" fill="#5fbf81" stroke="none" stroke-width="1" />
<rect x="633.5" y="226.4" width="1" height="15.3" fill="#5fbf81" stroke="none" stroke-width="1" />
<rect x="636.5" y="180.5" width="1" height="15.3" fill="#bfba22" stroke="none" stroke-width="1" />
<rect x="636.5" y="195.8" width="1" height="15.3" fill="#bfba22" stroke="none" stroke-width="1" />
<rect x="636.5" y="211.1" width="1" height="15.3" fill="#bfba22" stroke="none" stroke-width="1" />
<rect x="636.5" y="226.4" width="1" height="15.3" fill="#bfba22" stroke="none" stroke-width="1" />
<line x1="32.5" y1="179.9" x2="32.5" y2="242.3" stroke="#000" stroke-width="1.2" stroke-dasharray="2.2 1.3"/>
<line x1="32.5" y1="242.3" x2="32.5" y2="245.6" stroke="#000" stroke-width="1.2" />
<line x1="38.5" y1="179.9" x2="38.5" y2="242.3" stroke="#000" stroke-width="1.2" stroke-dasharray="2.2 1.3"/>
<line x1="38.5" y1="242.3" x2="38.5" y2="245.6" stroke="#000" stroke-width="1.2" />
<line x1="32.5" y1="245.6" x2="38.5" y2="245.6" stroke="#000" stroke-width="1.2" stroke-dasharray="2.4 1.6"/>
<line x1="32.5" y1="177.6" x2="32.5" y2="179.9" stroke="#111" stroke-width="1" />
<line x1="38.5" y1="177.6" x2="38.5" y2="179.9" stroke="#111" stroke-width="1" />
<rect x="32.5" y="172.6" width="6" height="5" fill="#ff0000" stroke="#333" stroke-width="0.9" rx="1.6"/>
<line x1="105.5" y1="179.9" x2="105.5" y2="242.3" stroke="#000" stroke-width="1.2" stroke-dasharray="2.2 1.3"/>
<line x1="105.5" y1="242.3" x2="105.5" y2="245.6" stroke="#000" stroke-width="1.2" />
<line x1="117.5" y1="179.9" x2="117.5" y2="242.3" stroke="#000" stroke-width="1.2" stroke-dasharray="2.2 1.3"/>
<line x1="117.5" y1="242.3" x2="117.5" y2="245.6" stroke="#000" stroke-width="1.2" />
<line x1="105.5" y1="245.6" x2="117.5" y2="245.6" stroke="#000" stroke-width="1.2" stroke-dasharray="2.4 1.6"/>
<line x1="105.5" y1="177.6" x2="105.5" y2="179.9" stroke="#111" stroke-width="1" />
<line x1="117.5" y1="177.6" x2="117.5" y2="179.9" stroke="#111" stroke-width="1" />
<rect x="105.5" y="172.6" width="12" height="5" fill="#00b050" stroke="#333" stroke-width="0.9" rx="1.6"/>
<line x1="152.5" y1="179.9" x2="152.5" y2="242.3" stroke="#000" stroke-width="1.2" stroke-dasharray="2.2 1.3"/>
<line x1="152.5" y1="242.3" x2="152.5" y2="245.6" stroke="#000" stroke-width="1.2" />
<line x1="173.5" y1="179.9" x2="173.5" y2="242.3" stroke="#000" stroke-width="1.2" stroke-dasharray="2.2 1.3"/>
<line x1="173.5" y1="242.3" x2="173.5" y2="245.6" stroke="#000" stroke-width="1.2" />
<line x1="152.5" y1="245.6" x2="173.5" y2="245.6" stroke="#000" stroke-width="1.2" stroke-dasharray="2.4 1.6"/>
<line x1="152.5" y1="177.6" x2="152.5" y2="179.9" stroke="#111" stroke-width="1" />
<line x1="173.5" y1="177.6" x2="173.5" y2="179.9" stroke="#111" stroke-width="1" />
<rect x="152.5" y="172.6" width="21" height="5" fill="#f4ac8c" stroke="#333" stroke-width="0.9" rx="1.6"/>
<line x1="206.5" y1="179.9" x2="206.5" y2="242.3" stroke="#000" stroke-width="1.2" stroke-dasharray="2.2 1.3"/>
<line x1="206.5" y1="242.3" x2="206.5" y2="245.6" stroke="#000" stroke-width="1.2" />
<line x1="233.5" y1="179.9" x2="233.5" y2="242.3" stroke="#000" stroke-width="1.2" stroke-dasharray="2.2 1.3"/>
<line x1="233.5" y1="242.3" x2="233.5" y2="245.6" stroke="#000" stroke-width="1.2" />
<line x1="206.5" y1="245.6" x2="233.5" y2="245.6" stroke="#000" stroke-width="1.2" stroke-dasharray="2.4 1.6"/>
<line x1="206.5" y1="177.6" x2="206.5" y2="179.9" stroke="#111" stroke-width="1" />
<line x1="233.5" y1="177.6" x2="233.5" y2="179.9" stroke="#111" stroke-width="1" />
<rect x="206.5" y="172.6" width="27" height="5" fill="#c5e0b4" stroke="#333" stroke-width="0.9" rx="1.6"/>
<line x1="270.5" y1="179.9" x2="270.5" y2="242.3" stroke="#000" stroke-width="1.2" stroke-dasharray="2.2 1.3"/>
<line x1="270.5" y1="242.3" x2="270.5" y2="245.6" stroke="#000" stroke-width="1.2" />
<line x1="287.5" y1="179.9" x2="287.5" y2="242.3" stroke="#000" stroke-width="1.2" stroke-dasharray="2.2 1.3"/>
<line x1="287.5" y1="242.3" x2="287.5" y2="245.6" stroke="#000" stroke-width="1.2" />
<line x1="270.5" y1="245.6" x2="287.5" y2="245.6" stroke="#000" stroke-width="1.2" stroke-dasharray="2.4 1.6"/>
<line x1="270.5" y1="177.6" x2="270.5" y2="179.9" stroke="#111" stroke-width="1" />
<line x1="287.5" y1="177.6" x2="287.5" y2="179.9" stroke="#111" stroke-width="1" />
<rect x="270.5" y="172.6" width="17" height="5" fill="#c5e0b4" stroke="#333" stroke-width="0.9" rx="1.6"/>
<line x1="357.5" y1="179.9" x2="357.5" y2="242.3" stroke="#000" stroke-width="1.2" stroke-dasharray="2.2 1.3"/>
<line x1="357.5" y1="242.3" x2="357.5" y2="245.6" stroke="#000" stroke-width="1.2" />
<line x1="371.5" y1="179.9" x2="371.5" y2="242.3" stroke="#000" stroke-width="1.2" stroke-dasharray="2.2 1.3"/>
<line x1="371.5" y1="242.3" x2="371.5" y2="245.6" stroke="#000" stroke-width="1.2" />
<line x1="357.5" y1="245.6" x2="371.5" y2="245.6" stroke="#000" stroke-width="1.2" stroke-dasharray="2.4 1.6"/>
<line x1="357.5" y1="177.6" x2="357.5" y2="179.9" stroke="#111" stroke-width="1" />
<line x1="371.5" y1="177.6" x2="371.5" y2="179.9" stroke="#111" stroke-width="1" />
<rect x="357.5" y="172.6" width="14" height="5" fill="#c5e0b4" stroke="#333" stroke-width="0.9" rx="1.6"/>
<line x1="408.5" y1="179.9" x2="408.5" y2="242.3" stroke="#000" stroke-width="1.2" stroke-dasharray="2.2 1.3"/>
<line x1="408.5" y1="242.3" x2="408.5" y2="245.6" stroke="#000" stroke-width="1.2" />
<line x1="426.5" y1="179.9" x2="426.5" y2="242.3" stroke="#000" stroke-width="1.2" stroke-dasharray="2.2 1.3"/>
<line x1="426.5" y1="242.3" x2="426.5" y2="245.6" stroke="#000" stroke-width="1.2" />
<line x1="408.5" y1="245.6" x2="426.5" y2="245.6" stroke="#000" stroke-width="1.2" stroke-dasharray="2.4 1.6"/>
<line x1="408.5" y1="177.6" x2="408.5" y2="179.9" stroke="#111" stroke-width="1" />
<line x1="426.5" y1="177.6" x2="426.5" y2="179.9" stroke="#111" stroke-width="1" />
<rect x="408.5" y="172.6" width="18" height="5" fill="#c5e0b4" stroke="#333" stroke-width="0.9" rx="1.6"/>
<line x1="457.5" y1="179.9" x2="457.5" y2="242.3" stroke="#000" stroke-width="1.2" stroke-dasharray="2.2 1.3"/>
<line x1="457.5" y1="242.3" x2="457.5" y2="245.6" stroke="#000" stroke-width="1.2" />
<line x1="481.5" y1="179.9" x2="481.5" y2="242.3" stroke="#000" stroke-width="1.2" stroke-dasharray="2.2 1.3"/>
<line x1="481.5" y1="242.3" x2="481.5" y2="245.6" stroke="#000" stroke-width="1.2" />
<line x1="457.5" y1="245.6" x2="481.5" y2="245.6" stroke="#000" stroke-width="1.2" stroke-dasharray="2.4 1.6"/>
<line x1="457.5" y1="177.6" x2="457.5" y2="179.9" stroke="#111" stroke-width="1" />
<line x1="481.5" y1="177.6" x2="481.5" y2="179.9" stroke="#111" stroke-width="1" />
<rect x="457.5" y="172.6" width="24" height="5" fill="#c5e0b4" stroke="#333" stroke-width="0.9" rx="1.6"/>
<line x1="512.5" y1="179.9" x2="512.5" y2="242.3" stroke="#000" stroke-width="1.2" stroke-dasharray="2.2 1.3"/>
<line x1="512.5" y1="242.3" x2="512.5" y2="245.6" stroke="#000" stroke-width="1.2" />
<line x1="533.5" y1="179.9" x2="533.5" y2="242.3" stroke="#000" stroke-width="1.2" stroke-dasharray="2.2 1.3"/>
<line x1="533.5" y1="242.3" x2="533.5" y2="245.6" stroke="#000" stroke-width="1.2" />
<line x1="512.5" y1="245.6" x2="533.5" y2="245.6" stroke="#000" stroke-width="1.2" stroke-dasharray="2.4 1.6"/>
<line x1="512.5" y1="177.6" x2="512.5" y2="179.9" stroke="#111" stroke-width="1" />
<line x1="533.5" y1="177.6" x2="533.5" y2="179.9" stroke="#111" stroke-width="1" />
<rect x="512.5" y="172.6" width="21" height="5" fill="#c5e0b4" stroke="#333" stroke-width="0.9" rx="1.6"/>
<line x1="577.5" y1="179.9" x2="577.5" y2="242.3" stroke="#000" stroke-width="1.2" stroke-dasharray="2.2 1.3"/>
<line x1="577.5" y1="242.3" x2="577.5" y2="245.6" stroke="#000" stroke-width="1.2" />
<line x1="595.5" y1="179.9" x2="595.5" y2="242.3" stroke="#000" stroke-width="1.2" stroke-dasharray="2.2 1.3"/>
<line x1="595.5" y1="242.3" x2="595.5" y2="245.6" stroke="#000" stroke-width="1.2" />
<line x1="577.5" y1="245.6" x2="595.5" y2="245.6" stroke="#000" stroke-width="1.2" stroke-dasharray="2.4 1.6"/>
<line x1="577.5" y1="177.6" x2="577.5" y2="179.9" stroke="#111" stroke-width="1" />
<line x1="595.5" y1="177.6" x2="595.5" y2="179.9" stroke="#111" stroke-width="1" />
<rect x="577.5" y="172.6" width="18" height="5" fill="#c5e0b4" stroke="#333" stroke-width="0.9" rx="1.6"/>
<rect x="19.7" y="179.9" width="620" height="62.4" fill="none" stroke="#111" stroke-width="1.3" />
<line x1="19.7" y1="242.3" x2="19.7" y2="245.2" stroke="#000" stroke-width="1" />
<line x1="639.7" y1="242.3" x2="639.7" y2="245.2" stroke="#000" stroke-width="1" />
<line x1="17.2" y1="187.6" x2="19.7" y2="187.6" stroke="#000" stroke-width="1" />
<line x1="17.2" y1="234.6" x2="19.7" y2="234.6" stroke="#000" stroke-width="1" />
<line x1="119.9" y1="159" x2="119.9" y2="171.3" stroke="#0000ff" stroke-width="1.7" />
<line x1="148" y1="159" x2="148" y2="171.3" stroke="#0000ff" stroke-width="1.7" />
<line x1="176" y1="159" x2="176" y2="171.3" stroke="#0000ff" stroke-width="1.7" />
<text x="119.5" y="156.6" font-size="9.5" text-anchor="start" font-weight="normal" fill="#1a1a1a" >Muscimol injection</text>
<text x="24.6" y="166.6" font-size="9.5" font-weight="bold"><tspan fill="#ff0000">Red mouse</tspan><tspan fill="#111"> (LH)</tspan></text>
<text x="16.5" y="190.8" font-size="9.5" text-anchor="end" font-weight="normal" fill="#1a1a1a" >1</text>
<text x="16.8" y="238.6" font-size="9.5" text-anchor="end" font-weight="normal" fill="#1a1a1a" >4</text>
<text x="20" y="254.5" font-size="9.5" text-anchor="middle" font-weight="normal" fill="#1a1a1a" >0</text>
<text x="639.7" y="255" font-size="9.5" text-anchor="middle" font-weight="normal" fill="#1a1a1a" >20</text>
<text x="307.6" y="257" font-size="9.5" text-anchor="start" font-weight="normal" fill="#1a1a1a" >Time (min)</text>
<text transform="translate(4,210.5) rotate(-90)" x="0" y="3.32" font-size="9.5" text-anchor="middle" font-weight="normal" fill="#1a1a1a">Cell number</text>
<line x1="600.5" y1="163.4" x2="600.5" y2="175" stroke="#0000ff" stroke-width="1.7" />
<text x="608" y="172.6" font-size="9.5" text-anchor="start" font-weight="normal" fill="#1a1a1a" >: Pump on</text>
<rect x="643.6" y="179.3" width="9.4" height="63.3" fill="url(#jet)" stroke="#111" stroke-width="1" />
<line x1="649" y1="242" x2="653" y2="242" stroke="#111" stroke-width="0.8" />
<line x1="650.2" y1="237.03" x2="653" y2="237.03" stroke="#111" stroke-width="0.8" />
<line x1="650.2" y1="234.13" x2="653" y2="234.13" stroke="#111" stroke-width="0.8" />
<line x1="650.2" y1="232.07" x2="653" y2="232.07" stroke="#111" stroke-width="0.8" />
<line x1="650.2" y1="230.47" x2="653" y2="230.47" stroke="#111" stroke-width="0.8" />
<line x1="650.2" y1="229.16" x2="653" y2="229.16" stroke="#111" stroke-width="0.8" />
<line x1="650.2" y1="228.06" x2="653" y2="228.06" stroke="#111" stroke-width="0.8" />
<line x1="650.2" y1="227.1" x2="653" y2="227.1" stroke="#111" stroke-width="0.8" />
<line x1="650.2" y1="226.25" x2="653" y2="226.25" stroke="#111" stroke-width="0.8" />
<line x1="649" y1="225.5" x2="653" y2="225.5" stroke="#111" stroke-width="0.8" />
<line x1="650.2" y1="220.53" x2="653" y2="220.53" stroke="#111" stroke-width="0.8" />
<line x1="650.2" y1="217.63" x2="653" y2="217.63" stroke="#111" stroke-width="0.8" />
<line x1="650.2" y1="215.57" x2="653" y2="215.57" stroke="#111" stroke-width="0.8" />
<line x1="650.2" y1="213.97" x2="653" y2="213.97" stroke="#111" stroke-width="0.8" />
<line x1="650.2" y1="212.66" x2="653" y2="212.66" stroke="#111" stroke-width="0.8" />
<line x1="650.2" y1="211.56" x2="653" y2="211.56" stroke="#111" stroke-width="0.8" />
<line x1="650.2" y1="210.6" x2="653" y2="210.6" stroke="#111" stroke-width="0.8" />
<line x1="650.2" y1="209.75" x2="653" y2="209.75" stroke="#111" stroke-width="0.8" />
<line x1="649" y1="209" x2="653" y2="209" stroke="#111" stroke-width="0.8" />
<line x1="650.2" y1="204.03" x2="653" y2="204.03" stroke="#111" stroke-width="0.8" />
<line x1="650.2" y1="201.13" x2="653" y2="201.13" stroke="#111" stroke-width="0.8" />
<line x1="650.2" y1="199.07" x2="653" y2="199.07" stroke="#111" stroke-width="0.8" />
<line x1="650.2" y1="197.47" x2="653" y2="197.47" stroke="#111" stroke-width="0.8" />
<line x1="650.2" y1="196.16" x2="653" y2="196.16" stroke="#111" stroke-width="0.8" />
<line x1="650.2" y1="195.06" x2="653" y2="195.06" stroke="#111" stroke-width="0.8" />
<line x1="650.2" y1="194.1" x2="653" y2="194.1" stroke="#111" stroke-width="0.8" />
<line x1="650.2" y1="193.25" x2="653" y2="193.25" stroke="#111" stroke-width="0.8" />
<line x1="649" y1="192.5" x2="653" y2="192.5" stroke="#111" stroke-width="0.8" />
<line x1="650.2" y1="187.53" x2="653" y2="187.53" stroke="#111" stroke-width="0.8" />
<line x1="650.2" y1="184.63" x2="653" y2="184.63" stroke="#111" stroke-width="0.8" />
<line x1="650.2" y1="182.57" x2="653" y2="182.57" stroke="#111" stroke-width="0.8" />
<line x1="650.2" y1="180.97" x2="653" y2="180.97" stroke="#111" stroke-width="0.8" />
<text x="655.2" y="245.4" font-size="9.5" text-anchor="start" font-weight="normal" fill="#1a1a1a" >0</text>
<text x="655.2" y="228.9" font-size="9.5" text-anchor="start" font-weight="normal" fill="#1a1a1a" >0.1</text>
<text x="655.2" y="212.4" font-size="9.5" text-anchor="start" font-weight="normal" fill="#1a1a1a" >1</text>
<text x="655.2" y="195.9" font-size="9.5" text-anchor="start" font-weight="normal" fill="#1a1a1a" >10</text>
<text transform="translate(677,211.5) rotate(90)" x="0" y="3.32" font-size="9.5" text-anchor="middle" font-weight="normal" fill="#1a1a1a">Mean FR (Hz)</text>
<text x="3.3" y="275.8" font-size="12.5" text-anchor="start" font-weight="bold" fill="#000" >b</text>
<text x="173" y="271.6" font-size="9.5" text-anchor="start" font-weight="bold" fill="#111" >Before muscimol injection</text>
<line x1="109.9" y1="276.8" x2="355" y2="276.8" stroke="#000" stroke-width="1.6" />
<text x="74.4" y="288.2" font-size="9.5" font-weight="bold"><tspan fill="#00b050">Green mouse</tspan><tspan fill="#111"> (mPFC)</tspan></text>
<text x="118.4" y="300.6" font-size="9.5" text-anchor="middle" font-weight="normal" fill="#1a1a1a" >Food</text>
<text x="118.4" y="311.8" font-size="9.5" text-anchor="middle" font-weight="normal" fill="#1a1a1a" >provision</text>
<text x="156.8" y="300.6" font-size="9.5" text-anchor="middle" font-weight="normal" fill="#1a1a1a" >Green</text>
<text x="156.8" y="311.8" font-size="9.5" text-anchor="middle" font-weight="normal" fill="#1a1a1a" >arrival</text>
<text x="186.4" y="300.6" font-size="9.5" text-anchor="middle" font-weight="normal" fill="#1a1a1a" >Red</text>
<text x="186.4" y="311.8" font-size="9.5" text-anchor="middle" font-weight="normal" fill="#1a1a1a" >arrival</text>
<text x="224.4" y="300.6" font-size="9.5" text-anchor="middle" font-weight="normal" fill="#1a1a1a" >Trial</text>
<text x="224.4" y="311.8" font-size="9.5" text-anchor="middle" font-weight="normal" fill="#1a1a1a" >end</text>
<path d="M30.5 320.6v1.6M34.5 320.6v1.6M35.5 320.6v1.6M36.5 320.6v1.6M39.5 320.6v1.6M44.5 320.6v1.6M45.5 320.6v1.6M47.5 320.6v1.6M48.5 320.6v1.6M49.5 320.6v1.6M50.5 320.6v1.6M65.5 320.6v1.6M66.5 320.6v1.6M67.5 320.6v1.6M74.5 320.6v1.6M75.5 320.6v1.6M80.5 320.6v1.6M84.5 320.6v1.6M88.5 320.6v1.6M89.5 320.6v1.6M90.5 320.6v1.6M91.5 320.6v1.6M93.5 320.6v1.6M96.5 320.6v1.6M98.5 320.6v1.6M100.5 320.6v1.6M102.5 320.6v1.6M103.5 320.6v1.6M108.5 320.6v1.6M112.5 320.6v1.6M114.5 320.6v1.6M115.5 320.6v1.6M118.5 320.6v1.6M119.5 320.6v1.6M120.5 320.6v1.6M122.5 320.6v1.6M130.5 320.6v1.6M131.5 320.6v1.6M134.5 320.6v1.6M135.5 320.6v1.6M138.5 320.6v1.6M143.5 320.6v1.6M144.5 320.6v1.6M146.5 320.6v1.6M148.5 320.6v1.6M151.5 320.6v1.6M152.5 320.6v1.6M154.5 320.6v1.6M155.5 320.6v1.6M159.5 320.6v1.6M161.5 320.6v1.6M162.5 320.6v1.6M163.5 320.6v1.6M164.5 320.6v1.6M165.5 320.6v1.6M166.5 320.6v1.6M167.5 320.6v1.6M169.5 320.6v1.6M170.5 320.6v1.6M176.5 320.6v1.6M177.5 320.6v1.6M178.5 320.6v1.6M182.5 320.6v1.6M186.5 320.6v1.6M188.5 320.6v1.6M189.5 320.6v1.6M190.5 320.6v1.6M193.5 320.6v1.6M194.5 320.6v1.6M196.5 320.6v1.6M197.5 320.6v1.6M200.5 320.6v1.6M201.5 320.6v1.6M203.5 320.6v1.6M204.5 320.6v1.6M205.5 320.6v1.6M206.5 320.6v1.6M207.5 320.6v1.6M208.5 320.6v1.6M209.5 320.6v1.6M212.5 320.6v1.6M213.5 320.6v1.6M214.5 320.6v1.6M215.5 320.6v1.6M216.5 320.6v1.6M218.5 320.6v1.6M219.5 320.6v1.6M220.5 320.6v1.6M221.5 320.6v1.6M222.5 320.6v1.6M223.5 320.6v1.6M28.5 323.12v1.6M29.5 323.12v1.6M30.5 323.12v1.6M32.5 323.12v1.6M33.5 323.12v1.6M38.5 323.12v1.6M40.5 323.12v1.6M41.5 323.12v1.6M45.5 323.12v1.6M47.5 323.12v1.6M48.5 323.12v1.6M54.5 323.12v1.6M55.5 323.12v1.6M56.5 323.12v1.6M57.5 323.12v1.6M58.5 323.12v1.6M59.5 323.12v1.6M62.5 323.12v1.6M66.5 323.12v1.6M67.5 323.12v1.6M69.5 323.12v1.6M72.5 323.12v1.6M74.5 323.12v1.6M75.5 323.12v1.6M76.5 323.12v1.6M77.5 323.12v1.6M79.5 323.12v1.6M80.5 323.12v1.6M81.5 323.12v1.6M89.5 323.12v1.6M90.5 323.12v1.6M91.5 323.12v1.6M92.5 323.12v1.6M93.5 323.12v1.6M95.5 323.12v1.6M96.5 323.12v1.6M97.5 323.12v1.6M102.5 323.12v1.6M105.5 323.12v1.6M108.5 323.12v1.6M109.5 323.12v1.6M112.5 323.12v1.6M119.5 323.12v1.6M124.5 323.12v1.6M128.5 323.12v1.6M130.5 323.12v1.6M133.5 323.12v1.6M134.5 323.12v1.6M135.5 323.12v1.6M136.5 323.12v1.6M138.5 323.12v1.6M139.5 323.12v1.6M141.5 323.12v1.6M143.5 323.12v1.6M144.5 323.12v1.6M146.5 323.12v1.6M147.5 323.12v1.6M148.5 323.12v1.6M149.5 323.12v1.6M153.5 323.12v1.6M155.5 323.12v1.6M156.5 323.12v1.6M157.5 323.12v1.6M158.5 323.12v1.6M160.5 323.12v1.6M161.5 323.12v1.6M163.5 323.12v1.6M164.5 323.12v1.6M165.5 323.12v1.6M168.5 323.12v1.6M171.5 323.12v1.6M172.5 323.12v1.6M173.5 323.12v1.6M174.5 323.12v1.6M175.5 323.12v1.6M176.5 323.12v1.6M177.5 323.12v1.6M179.5 323.12v1.6M180.5 323.12v1.6M182.5 323.12v1.6M183.5 323.12v1.6M184.5 323.12v1.6M185.5 323.12v1.6M186.5 323.12v1.6M187.5 323.12v1.6M190.5 323.12v1.6M191.5 323.12v1.6M192.5 323.12v1.6M193.5 323.12v1.6M194.5 323.12v1.6M196.5 323.12v1.6M197.5 323.12v1.6M198.5 323.12v1.6M199.5 323.12v1.6M201.5 323.12v1.6M202.5 323.12v1.6M203.5 323.12v1.6M204.5 323.12v1.6M205.5 323.12v1.6M206.5 323.12v1.6M207.5 323.12v1.6M208.5 323.12v1.6M209.5 323.12v1.6M210.5 323.12v1.6M211.5 323.12v1.6M212.5 323.12v1.6M213.5 323.12v1.6M214.5 323.12v1.6M215.5 323.12v1.6M216.5 323.12v1.6M217.5 323.12v1.6M218.5 323.12v1.6M219.5 323.12v1.6M220.5 323.12v1.6M221.5 323.12v1.6M222.5 323.12v1.6M223.5 323.12v1.6M29.5 325.64v1.6M33.5 325.64v1.6M34.5 325.64v1.6M36.5 325.64v1.6M39.5 325.64v1.6M40.5 325.64v1.6M42.5 325.64v1.6M43.5 325.64v1.6M47.5 325.64v1.6M50.5 325.64v1.6M51.5 325.64v1.6M55.5 325.64v1.6M60.5 325.64v1.6M61.5 325.64v1.6M62.5 325.64v1.6M63.5 325.64v1.6M67.5 325.64v1.6M68.5 325.64v1.6M69.5 325.64v1.6M73.5 325.64v1.6M74.5 325.64v1.6M83.5 325.64v1.6M86.5 325.64v1.6M90.5 325.64v1.6M91.5 325.64v1.6M93.5 325.64v1.6M104.5 325.64v1.6M117.5 325.64v1.6M118.5 325.64v1.6M119.5 325.64v1.6M120.5 325.64v1.6M121.5 325.64v1.6M124.5 325.64v1.6M127.5 325.64v1.6M131.5 325.64v1.6M137.5 325.64v1.6M140.5 325.64v1.6M141.5 325.64v1.6M142.5 325.64v1.6M143.5 325.64v1.6M144.5 325.64v1.6M145.5 325.64v1.6M146.5 325.64v1.6M149.5 325.64v1.6M155.5 325.64v1.6M156.5 325.64v1.6M158.5 325.64v1.6M160.5 325.64v1.6M161.5 325.64v1.6M162.5 325.64v1.6M163.5 325.64v1.6M164.5 325.64v1.6M165.5 325.64v1.6M167.5 325.64v1.6M168.5 325.64v1.6M169.5 325.64v1.6M170.5 325.64v1.6M171.5 325.64v1.6M174.5 325.64v1.6M176.5 325.64v1.6M177.5 325.64v1.6M178.5 325.64v1.6M179.5 325.64v1.6M180.5 325.64v1.6M182.5 325.64v1.6M185.5 325.64v1.6M188.5 325.64v1.6M190.5 325.64v1.6M191.5 325.64v1.6M193.5 325.64v1.6M194.5 325.64v1.6M196.5 325.64v1.6M197.5 325.64v1.6M200.5 325.64v1.6M201.5 325.64v1.6M202.5 325.64v1.6M203.5 325.64v1.6M204.5 325.64v1.6M205.5 325.64v1.6M206.5 325.64v1.6M207.5 325.64v1.6M208.5 325.64v1.6M209.5 325.64v1.6M210.5 325.64v1.6M211.5 325.64v1.6M212.5 325.64v1.6M213.5 325.64v1.6M214.5 325.64v1.6M215.5 325.64v1.6M218.5 325.64v1.6M219.5 325.64v1.6M220.5 325.64v1.6M223.5 325.64v1.6M36.5 328.16v1.6M37.5 328.16v1.6M41.5 328.16v1.6M43.5 328.16v1.6M44.5 328.16v1.6M54.5 328.16v1.6M55.5 328.16v1.6M72.5 328.16v1.6M74.5 328.16v1.6M75.5 328.16v1.6M81.5 328.16v1.6M84.5 328.16v1.6M122.5 328.16v1.6M129.5 328.16v1.6M132.5 328.16v1.6M133.5 328.16v1.6M136.5 328.16v1.6M138.5 328.16v1.6M169.5 328.16v1.6M173.5 328.16v1.6M174.5 328.16v1.6M178.5 328.16v1.6M179.5 328.16v1.6M180.5 328.16v1.6M183.5 328.16v1.6M184.5 328.16v1.6M188.5 328.16v1.6M189.5 328.16v1.6M190.5 328.16v1.6M191.5 328.16v1.6M192.5 328.16v1.6M195.5 328.16v1.6M196.5 328.16v1.6M197.5 328.16v1.6M198.5 328.16v1.6M200.5 328.16v1.6M201.5 328.16v1.6M204.5 328.16v1.6M207.5 328.16v1.6M208.5 328.16v1.6M211.5 328.16v1.6M212.5 328.16v1.6M215.5 328.16v1.6M216.5 328.16v1.6M217.5 328.16v1.6M218.5 328.16v1.6M221.5 328.16v1.6M222.5 328.16v1.6M223.5 328.16v1.6M40.5 330.68v1.6M44.5 330.68v1.6M47.5 330.68v1.6M57.5 330.68v1.6M66.5 330.68v1.6M72.5 330.68v1.6M78.5 330.68v1.6M84.5 330.68v1.6M105.5 330.68v1.6M106.5 330.68v1.6M107.5 330.68v1.6M114.5 330.68v1.6M119.5 330.68v1.6M129.5 330.68v1.6M136.5 330.68v1.6M140.5 330.68v1.6M146.5 330.68v1.6M152.5 330.68v1.6M158.5 330.68v1.6M161.5 330.68v1.6M162.5 330.68v1.6M163.5 330.68v1.6M170.5 330.68v1.6M172.5 330.68v1.6M182.5 330.68v1.6M189.5 330.68v1.6M190.5 330.68v1.6M191.5 330.68v1.6M192.5 330.68v1.6M193.5 330.68v1.6M197.5 330.68v1.6M200.5 330.68v1.6M203.5 330.68v1.6M204.5 330.68v1.6M205.5 330.68v1.6M206.5 330.68v1.6M207.5 330.68v1.6M209.5 330.68v1.6M210.5 330.68v1.6M211.5 330.68v1.6M213.5 330.68v1.6M215.5 330.68v1.6M217.5 330.68v1.6M220.5 330.68v1.6M221.5 330.68v1.6M39.5 333.2v1.6M52.5 333.2v1.6M75.5 333.2v1.6M85.5 333.2v1.6M86.5 333.2v1.6M108.5 333.2v1.6M109.5 333.2v1.6M119.5 333.2v1.6M138.5 333.2v1.6M143.5 333.2v1.6M148.5 333.2v1.6M157.5 333.2v1.6M189.5 333.2v1.6M194.5 333.2v1.6M195.5 333.2v1.6M196.5 333.2v1.6M200.5 333.2v1.6M202.5 333.2v1.6M207.5 333.2v1.6M208.5 333.2v1.6M209.5 333.2v1.6M210.5 333.2v1.6M211.5 333.2v1.6M214.5 333.2v1.6M216.5 333.2v1.6M218.5 333.2v1.6M219.5 333.2v1.6M220.5 333.2v1.6M24.5 335.72v1.6M29.5 335.72v1.6M36.5 335.72v1.6M43.5 335.72v1.6M44.5 335.72v1.6M58.5 335.72v1.6M61.5 335.72v1.6M87.5 335.72v1.6M91.5 335.72v1.6M92.5 335.72v1.6M105.5 335.72v1.6M108.5 335.72v1.6M113.5 335.72v1.6M116.5 335.72v1.6M117.5 335.72v1.6M119.5 335.72v1.6M123.5 335.72v1.6M128.5 335.72v1.6M129.5 335.72v1.6M139.5 335.72v1.6M140.5 335.72v1.6M155.5 335.72v1.6M158.5 335.72v1.6M163.5 335.72v1.6M166.5 335.72v1.6M169.5 335.72v1.6M172.5 335.72v1.6M177.5 335.72v1.6M180.5 335.72v1.6M182.5 335.72v1.6M187.5 335.72v1.6M188.5 335.72v1.6M189.5 335.72v1.6M192.5 335.72v1.6M194.5 335.72v1.6M195.5 335.72v1.6M198.5 335.72v1.6M204.5 335.72v1.6M205.5 335.72v1.6M206.5 335.72v1.6M209.5 335.72v1.6M211.5 335.72v1.6M212.5 335.72v1.6M213.5 335.72v1.6M214.5 335.72v1.6M215.5 335.72v1.6M217.5 335.72v1.6M218.5 335.72v1.6M219.5 335.72v1.6M221.5 335.72v1.6M222.5 335.72v1.6M223.5 335.72v1.6M24.5 338.24v1.6M25.5 338.24v1.6M26.5 338.24v1.6M27.5 338.24v1.6M28.5 338.24v1.6M29.5 338.24v1.6M30.5 338.24v1.6M33.5 338.24v1.6M34.5 338.24v1.6M36.5 338.24v1.6M42.5 338.24v1.6M43.5 338.24v1.6M44.5 338.24v1.6M45.5 338.24v1.6M46.5 338.24v1.6M47.5 338.24v1.6M49.5 338.24v1.6M50.5 338.24v1.6M51.5 338.24v1.6M52.5 338.24v1.6M53.5 338.24v1.6M54.5 338.24v1.6M55.5 338.24v1.6M56.5 338.24v1.6M57.5 338.24v1.6M58.5 338.24v1.6M60.5 338.24v1.6M61.5 338.24v1.6M63.5 338.24v1.6M64.5 338.24v1.6M67.5 338.24v1.6M68.5 338.24v1.6M69.5 338.24v1.6M71.5 338.24v1.6M73.5 338.24v1.6M75.5 338.24v1.6M76.5 338.24v1.6M80.5 338.24v1.6M81.5 338.24v1.6M86.5 338.24v1.6M87.5 338.24v1.6M88.5 338.24v1.6M89.5 338.24v1.6M90.5 338.24v1.6M91.5 338.24v1.6M92.5 338.24v1.6M95.5 338.24v1.6M97.5 338.24v1.6M98.5 338.24v1.6M99.5 338.24v1.6M102.5 338.24v1.6M104.5 338.24v1.6M105.5 338.24v1.6M106.5 338.24v1.6M109.5 338.24v1.6M110.5 338.24v1.6M111.5 338.24v1.6M112.5 338.24v1.6M113.5 338.24v1.6M114.5 338.24v1.6M115.5 338.24v1.6M118.5 338.24v1.6M119.5 338.24v1.6M120.5 338.24v1.6M123.5 338.24v1.6M124.5 338.24v1.6M125.5 338.24v1.6M127.5 338.24v1.6M128.5 338.24v1.6M129.5 338.24v1.6M131.5 338.24v1.6M132.5 338.24v1.6M133.5 338.24v1.6M134.5 338.24v1.6M135.5 338.24v1.6M136.5 338.24v1.6M137.5 338.24v1.6M138.5 338.24v1.6M139.5 338.24v1.6M140.5 338.24v1.6M141.5 338.24v1.6M142.5 338.24v1.6M143.5 338.24v1.6M144.5 338.24v1.6M145.5 338.24v1.6M147.5 338.24v1.6M148.5 338.24v1.6M149.5 338.24v1.6M150.5 338.24v1.6M152.5 338.24v1.6M154.5 338.24v1.6M155.5 338.24v1.6M157.5 338.24v1.6M158.5 338.24v1.6M159.5 338.24v1.6M160.5 338.24v1.6M161.5 338.24v1.6M162.5 338.24v1.6M166.5 338.24v1.6M169.5 338.24v1.6M170.5 338.24v1.6M171.5 338.24v1.6M172.5 338.24v1.6M173.5 338.24v1.6M174.5 338.24v1.6M176.5 338.24v1.6M177.5 338.24v1.6M178.5 338.24v1.6M179.5 338.24v1.6M181.5 338.24v1.6M182.5 338.24v1.6M186.5 338.24v1.6M187.5 338.24v1.6M191.5 338.24v1.6M193.5 338.24v1.6M194.5 338.24v1.6M195.5 338.24v1.6M197.5 338.24v1.6M198.5 338.24v1.6M199.5 338.24v1.6M200.5 338.24v1.6M201.5 338.24v1.6M202.5 338.24v1.6M203.5 338.24v1.6M204.5 338.24v1.6M205.5 338.24v1.6M206.5 338.24v1.6M207.5 338.24v1.6M209.5 338.24v1.6M210.5 338.24v1.6M211.5 338.24v1.6M212.5 338.24v1.6M213.5 338.24v1.6M214.5 338.24v1.6M215.5 338.24v1.6M216.5 338.24v1.6M217.5 338.24v1.6M218.5 338.24v1.6M219.5 338.24v1.6M220.5 338.24v1.6M221.5 338.24v1.6M222.5 338.24v1.6M223.5 338.24v1.6M24.5 340.76v1.6M25.5 340.76v1.6M26.5 340.76v1.6M28.5 340.76v1.6M30.5 340.76v1.6M32.5 340.76v1.6M34.5 340.76v1.6M36.5 340.76v1.6M37.5 340.76v1.6M39.5 340.76v1.6M40.5 340.76v1.6M43.5 340.76v1.6M44.5 340.76v1.6M45.5 340.76v1.6M47.5 340.76v1.6M49.5 340.76v1.6M51.5 340.76v1.6M56.5 340.76v1.6M57.5 340.76v1.6M58.5 340.76v1.6M61.5 340.76v1.6M63.5 340.76v1.6M64.5 340.76v1.6M65.5 340.76v1.6M69.5 340.76v1.6M71.5 340.76v1.6M75.5 340.76v1.6M76.5 340.76v1.6M79.5 340.76v1.6M82.5 340.76v1.6M84.5 340.76v1.6M86.5 340.76v1.6M87.5 340.76v1.6M95.5 340.76v1.6M98.5 340.76v1.6M100.5 340.76v1.6M101.5 340.76v1.6M103.5 340.76v1.6M104.5 340.76v1.6M106.5 340.76v1.6M107.5 340.76v1.6M109.5 340.76v1.6M110.5 340.76v1.6M117.5 340.76v1.6M118.5 340.76v1.6M119.5 340.76v1.6M120.5 340.76v1.6M121.5 340.76v1.6M124.5 340.76v1.6M125.5 340.76v1.6M126.5 340.76v1.6M128.5 340.76v1.6M130.5 340.76v1.6M132.5 340.76v1.6M133.5 340.76v1.6M136.5 340.76v1.6M137.5 340.76v1.6M138.5 340.76v1.6M139.5 340.76v1.6M140.5 340.76v1.6M141.5 340.76v1.6M142.5 340.76v1.6M143.5 340.76v1.6M144.5 340.76v1.6M145.5 340.76v1.6M146.5 340.76v1.6M147.5 340.76v1.6M148.5 340.76v1.6M149.5 340.76v1.6M150.5 340.76v1.6M151.5 340.76v1.6M153.5 340.76v1.6M154.5 340.76v1.6M155.5 340.76v1.6M159.5 340.76v1.6M160.5 340.76v1.6M161.5 340.76v1.6M162.5 340.76v1.6M163.5 340.76v1.6M164.5 340.76v1.6M166.5 340.76v1.6M167.5 340.76v1.6M168.5 340.76v1.6M170.5 340.76v1.6M171.5 340.76v1.6M172.5 340.76v1.6M173.5 340.76v1.6M174.5 340.76v1.6M176.5 340.76v1.6M179.5 340.76v1.6M181.5 340.76v1.6M183.5 340.76v1.6M184.5 340.76v1.6M185.5 340.76v1.6M186.5 340.76v1.6M187.5 340.76v1.6M188.5 340.76v1.6M190.5 340.76v1.6M191.5 340.76v1.6M192.5 340.76v1.6M193.5 340.76v1.6M194.5 340.76v1.6M195.5 340.76v1.6M197.5 340.76v1.6M198.5 340.76v1.6M199.5 340.76v1.6M202.5 340.76v1.6M203.5 340.76v1.6M204.5 340.76v1.6M206.5 340.76v1.6M207.5 340.76v1.6M208.5 340.76v1.6M209.5 340.76v1.6M210.5 340.76v1.6M211.5 340.76v1.6M214.5 340.76v1.6M215.5 340.76v1.6M216.5 340.76v1.6M217.5 340.76v1.6M218.5 340.76v1.6M219.5 340.76v1.6M220.5 340.76v1.6M221.5 340.76v1.6M30.5 343.28v1.6M34.5 343.28v1.6M36.5 343.28v1.6M37.5 343.28v1.6M38.5 343.28v1.6M39.5 343.28v1.6M41.5 343.28v1.6M42.5 343.28v1.6M46.5 343.28v1.6M50.5 343.28v1.6M52.5 343.28v1.6M56.5 343.28v1.6M57.5 343.28v1.6M60.5 343.28v1.6M62.5 343.28v1.6M64.5 343.28v1.6M66.5 343.28v1.6M67.5 343.28v1.6M69.5 343.28v1.6M71.5 343.28v1.6M73.5 343.28v1.6M74.5 343.28v1.6M79.5 343.28v1.6M81.5 343.28v1.6M89.5 343.28v1.6M90.5 343.28v1.6M94.5 343.28v1.6M96.5 343.28v1.6M97.5 343.28v1.6M98.5 343.28v1.6M102.5 343.28v1.6M104.5 343.28v1.6M105.5 343.28v1.6M106.5 343.28v1.6M117.5 343.28v1.6M119.5 343.28v1.6M120.5 343.28v1.6M121.5 343.28v1.6M122.5 343.28v1.6M123.5 343.28v1.6M124.5 343.28v1.6M125.5 343.28v1.6M126.5 343.28v1.6M128.5 343.28v1.6M129.5 343.28v1.6M130.5 343.28v1.6M131.5 343.28v1.6M132.5 343.28v1.6M133.5 343.28v1.6M134.5 343.28v1.6M135.5 343.28v1.6M136.5 343.28v1.6M137.5 343.28v1.6M139.5 343.28v1.6M140.5 343.28v1.6M141.5 343.28v1.6M143.5 343.28v1.6M146.5 343.28v1.6M148.5 343.28v1.6M149.5 343.28v1.6M152.5 343.28v1.6M153.5 343.28v1.6M154.5 343.28v1.6M156.5 343.28v1.6M157.5 343.28v1.6M158.5 343.28v1.6M159.5 343.28v1.6M161.5 343.28v1.6M163.5 343.28v1.6M164.5 343.28v1.6M166.5 343.28v1.6M169.5 343.28v1.6M170.5 343.28v1.6M174.5 343.28v1.6M176.5 343.28v1.6M177.5 343.28v1.6M178.5 343.28v1.6M181.5 343.28v1.6M185.5 343.28v1.6M187.5 343.28v1.6M188.5 343.28v1.6M191.5 343.28v1.6M192.5 343.28v1.6M193.5 343.28v1.6M194.5 343.28v1.6M195.5 343.28v1.6M196.5 343.28v1.6M197.5 343.28v1.6M198.5 343.28v1.6M199.5 343.28v1.6M200.5 343.28v1.6M201.5 343.28v1.6M202.5 343.28v1.6M204.5 343.28v1.6M205.5 343.28v1.6M206.5 343.28v1.6M207.5 343.28v1.6M208.5 343.28v1.6M210.5 343.28v1.6M212.5 343.28v1.6M213.5 343.28v1.6M214.5 343.28v1.6M216.5 343.28v1.6M218.5 343.28v1.6M219.5 343.28v1.6M220.5 343.28v1.6M221.5 343.28v1.6M222.5 343.28v1.6M28.5 345.8v1.6M52.5 345.8v1.6M65.5 345.8v1.6M68.5 345.8v1.6M77.5 345.8v1.6M97.5 345.8v1.6M120.5 345.8v1.6M134.5 345.8v1.6M137.5 345.8v1.6M139.5 345.8v1.6M141.5 345.8v1.6M145.5 345.8v1.6M147.5 345.8v1.6M148.5 345.8v1.6M155.5 345.8v1.6M157.5 345.8v1.6M161.5 345.8v1.6M165.5 345.8v1.6M170.5 345.8v1.6M171.5 345.8v1.6M180.5 345.8v1.6M187.5 345.8v1.6M188.5 345.8v1.6M190.5 345.8v1.6M191.5 345.8v1.6M194.5 345.8v1.6M195.5 345.8v1.6M202.5 345.8v1.6M203.5 345.8v1.6M207.5 345.8v1.6M208.5 345.8v1.6M209.5 345.8v1.6M210.5 345.8v1.6M212.5 345.8v1.6M215.5 345.8v1.6M217.5 345.8v1.6M218.5 345.8v1.6M220.5 345.8v1.6M221.5 345.8v1.6M222.5 345.8v1.6M223.5 345.8v1.6M40.5 348.32v1.6M62.5 348.32v1.6M65.5 348.32v1.6M88.5 348.32v1.6M89.5 348.32v1.6M91.5 348.32v1.6M101.5 348.32v1.6M103.5 348.32v1.6M121.5 348.32v1.6M124.5 348.32v1.6M125.5 348.32v1.6M126.5 348.32v1.6M129.5 348.32v1.6M130.5 348.32v1.6M135.5 348.32v1.6M136.5 348.32v1.6M138.5 348.32v1.6M139.5 348.32v1.6M157.5 348.32v1.6M161.5 348.32v1.6M165.5 348.32v1.6M168.5 348.32v1.6M176.5 348.32v1.6M182.5 348.32v1.6M187.5 348.32v1.6M188.5 348.32v1.6M189.5 348.32v1.6M191.5 348.32v1.6M194.5 348.32v1.6M197.5 348.32v1.6M202.5 348.32v1.6M205.5 348.32v1.6M206.5 348.32v1.6M207.5 348.32v1.6M217.5 348.32v1.6M219.5 348.32v1.6M220.5 348.32v1.6M222.5 348.32v1.6M223.5 348.32v1.6M54.5 350.84v1.6M80.5 350.84v1.6M131.5 350.84v1.6M132.5 350.84v1.6M144.5 350.84v1.6M147.5 350.84v1.6M149.5 350.84v1.6M150.5 350.84v1.6M153.5 350.84v1.6M191.5 350.84v1.6M198.5 350.84v1.6M204.5 350.84v1.6M207.5 350.84v1.6M209.5 350.84v1.6M210.5 350.84v1.6M212.5 350.84v1.6M214.5 350.84v1.6M54.5 353.36v1.6M63.5 353.36v1.6M72.5 353.36v1.6M73.5 353.36v1.6M79.5 353.36v1.6M116.5 353.36v1.6M118.5 353.36v1.6M122.5 353.36v1.6M123.5 353.36v1.6M128.5 353.36v1.6M129.5 353.36v1.6M130.5 353.36v1.6M132.5 353.36v1.6M133.5 353.36v1.6M145.5 353.36v1.6M149.5 353.36v1.6M168.5 353.36v1.6M169.5 353.36v1.6M170.5 353.36v1.6M171.5 353.36v1.6M175.5 353.36v1.6M188.5 353.36v1.6M189.5 353.36v1.6M193.5 353.36v1.6M197.5 353.36v1.6M199.5 353.36v1.6M200.5 353.36v1.6M201.5 353.36v1.6M203.5 353.36v1.6M204.5 353.36v1.6M206.5 353.36v1.6M210.5 353.36v1.6M211.5 353.36v1.6M214.5 353.36v1.6M215.5 353.36v1.6M216.5 353.36v1.6M217.5 353.36v1.6M218.5 353.36v1.6M220.5 353.36v1.6M221.5 353.36v1.6M223.5 353.36v1.6M24.5 355.88v1.6M29.5 355.88v1.6M35.5 355.88v1.6M36.5 355.88v1.6M40.5 355.88v1.6M41.5 355.88v1.6M51.5 355.88v1.6M64.5 355.88v1.6M65.5 355.88v1.6M76.5 355.88v1.6M80.5 355.88v1.6M81.5 355.88v1.6M96.5 355.88v1.6M98.5 355.88v1.6M99.5 355.88v1.6M106.5 355.88v1.6M110.5 355.88v1.6M111.5 355.88v1.6M114.5 355.88v1.6M115.5 355.88v1.6M119.5 355.88v1.6M120.5 355.88v1.6M123.5 355.88v1.6M124.5 355.88v1.6M126.5 355.88v1.6M127.5 355.88v1.6M130.5 355.88v1.6M135.5 355.88v1.6M139.5 355.88v1.6M145.5 355.88v1.6M151.5 355.88v1.6M158.5 355.88v1.6M162.5 355.88v1.6M176.5 355.88v1.6M179.5 355.88v1.6M181.5 355.88v1.6M186.5 355.88v1.6M187.5 355.88v1.6M190.5 355.88v1.6M191.5 355.88v1.6M193.5 355.88v1.6M195.5 355.88v1.6M197.5 355.88v1.6M198.5 355.88v1.6M199.5 355.88v1.6M200.5 355.88v1.6M201.5 355.88v1.6M202.5 355.88v1.6M205.5 355.88v1.6M207.5 355.88v1.6M208.5 355.88v1.6M212.5 355.88v1.6M213.5 355.88v1.6M214.5 355.88v1.6M215.5 355.88v1.6M217.5 355.88v1.6M219.5 355.88v1.6M222.5 355.88v1.6M25.5 358.4v1.6M32.5 358.4v1.6M33.5 358.4v1.6M34.5 358.4v1.6M43.5 358.4v1.6M45.5 358.4v1.6M46.5 358.4v1.6M47.5 358.4v1.6M66.5 358.4v1.6M72.5 358.4v1.6M73.5 358.4v1.6M89.5 358.4v1.6M91.5 358.4v1.6M103.5 358.4v1.6M110.5 358.4v1.6M115.5 358.4v1.6M118.5 358.4v1.6M120.5 358.4v1.6M121.5 358.4v1.6M127.5 358.4v1.6M134.5 358.4v1.6M142.5 358.4v1.6M144.5 358.4v1.6M151.5 358.4v1.6M159.5 358.4v1.6M160.5 358.4v1.6M161.5 358.4v1.6M167.5 358.4v1.6M170.5 358.4v1.6M190.5 358.4v1.6M192.5 358.4v1.6M193.5 358.4v1.6M194.5 358.4v1.6M197.5 358.4v1.6M198.5 358.4v1.6M199.5 358.4v1.6M200.5 358.4v1.6M203.5 358.4v1.6M204.5 358.4v1.6M206.5 358.4v1.6M208.5 358.4v1.6M209.5 358.4v1.6M210.5 358.4v1.6M211.5 358.4v1.6M212.5 358.4v1.6M213.5 358.4v1.6M215.5 358.4v1.6M218.5 358.4v1.6M219.5 358.4v1.6M220.5 358.4v1.6M221.5 358.4v1.6M24.5 360.92v1.6M28.5 360.92v1.6M36.5 360.92v1.6M38.5 360.92v1.6M40.5 360.92v1.6M41.5 360.92v1.6M43.5 360.92v1.6M53.5 360.92v1.6M62.5 360.92v1.6M63.5 360.92v1.6M64.5 360.92v1.6M65.5 360.92v1.6M76.5 360.92v1.6M78.5 360.92v1.6M80.5 360.92v1.6M81.5 360.92v1.6M87.5 360.92v1.6M89.5 360.92v1.6M91.5 360.92v1.6M92.5 360.92v1.6M93.5 360.92v1.6M96.5 360.92v1.6M100.5 360.92v1.6M103.5 360.92v1.6M107.5 360.92v1.6M108.5 360.92v1.6M109.5 360.92v1.6M110.5 360.92v1.6M114.5 360.92v1.6M115.5 360.92v1.6M116.5 360.92v1.6M123.5 360.92v1.6M124.5 360.92v1.6M127.5 360.92v1.6M129.5 360.92v1.6M130.5 360.92v1.6M131.5 360.92v1.6M132.5 360.92v1.6M133.5 360.92v1.6M134.5 360.92v1.6M135.5 360.92v1.6M138.5 360.92v1.6M139.5 360.92v1.6M140.5 360.92v1.6M141.5 360.92v1.6M142.5 360.92v1.6M145.5 360.92v1.6M146.5 360.92v1.6M147.5 360.92v1.6M148.5 360.92v1.6M150.5 360.92v1.6M153.5 360.92v1.6M154.5 360.92v1.6M155.5 360.92v1.6M158.5 360.92v1.6M159.5 360.92v1.6M160.5 360.92v1.6M161.5 360.92v1.6M163.5 360.92v1.6M169.5 360.92v1.6M171.5 360.92v1.6M173.5 360.92v1.6M174.5 360.92v1.6M175.5 360.92v1.6M178.5 360.92v1.6M182.5 360.92v1.6M183.5 360.92v1.6M184.5 360.92v1.6M185.5 360.92v1.6M187.5 360.92v1.6M189.5 360.92v1.6M190.5 360.92v1.6M191.5 360.92v1.6M192.5 360.92v1.6M193.5 360.92v1.6M194.5 360.92v1.6M195.5 360.92v1.6M196.5 360.92v1.6M197.5 360.92v1.6M198.5 360.92v1.6M199.5 360.92v1.6M200.5 360.92v1.6M201.5 360.92v1.6M202.5 360.92v1.6M203.5 360.92v1.6M204.5 360.92v1.6M205.5 360.92v1.6M206.5 360.92v1.6M207.5 360.92v1.6M208.5 360.92v1.6M209.5 360.92v1.6M210.5 360.92v1.6M211.5 360.92v1.6M212.5 360.92v1.6M213.5 360.92v1.6M215.5 360.92v1.6M216.5 360.92v1.6M217.5 360.92v1.6M218.5 360.92v1.6M219.5 360.92v1.6M220.5 360.92v1.6M221.5 360.92v1.6M222.5 360.92v1.6M223.5 360.92v1.6M37.5 363.44v1.6M42.5 363.44v1.6M54.5 363.44v1.6M60.5 363.44v1.6M63.5 363.44v1.6M66.5 363.44v1.6M69.5 363.44v1.6M76.5 363.44v1.6M94.5 363.44v1.6M95.5 363.44v1.6M99.5 363.44v1.6M105.5 363.44v1.6M118.5 363.44v1.6M129.5 363.44v1.6M133.5 363.44v1.6M134.5 363.44v1.6M145.5 363.44v1.6M154.5 363.44v1.6M155.5 363.44v1.6M164.5 363.44v1.6M171.5 363.44v1.6M173.5 363.44v1.6M183.5 363.44v1.6M188.5 363.44v1.6M189.5 363.44v1.6M197.5 363.44v1.6M199.5 363.44v1.6M200.5 363.44v1.6M201.5 363.44v1.6M202.5 363.44v1.6M204.5 363.44v1.6M205.5 363.44v1.6M207.5 363.44v1.6M208.5 363.44v1.6M209.5 363.44v1.6M210.5 363.44v1.6M212.5 363.44v1.6M214.5 363.44v1.6M216.5 363.44v1.6M217.5 363.44v1.6M218.5 363.44v1.6M219.5 363.44v1.6M220.5 363.44v1.6M222.5 363.44v1.6M223.5 363.44v1.6M74.5 365.96v1.6M81.5 365.96v1.6M83.5 365.96v1.6M102.5 365.96v1.6M109.5 365.96v1.6M117.5 365.96v1.6M126.5 365.96v1.6M129.5 365.96v1.6M141.5 365.96v1.6M144.5 365.96v1.6M146.5 365.96v1.6M149.5 365.96v1.6M155.5 365.96v1.6M157.5 365.96v1.6M165.5 365.96v1.6M176.5 365.96v1.6M179.5 365.96v1.6M180.5 365.96v1.6M189.5 365.96v1.6M190.5 365.96v1.6M191.5 365.96v1.6M192.5 365.96v1.6M196.5 365.96v1.6M198.5 365.96v1.6M199.5 365.96v1.6M204.5 365.96v1.6M205.5 365.96v1.6M206.5 365.96v1.6M208.5 365.96v1.6M217.5 365.96v1.6M218.5 365.96v1.6M219.5 365.96v1.6M223.5 365.96v1.6M30.5 368.48v1.6M32.5 368.48v1.6M36.5 368.48v1.6M38.5 368.48v1.6M40.5 368.48v1.6M47.5 368.48v1.6M51.5 368.48v1.6M53.5 368.48v1.6M54.5 368.48v1.6M55.5 368.48v1.6M57.5 368.48v1.6M62.5 368.48v1.6M63.5 368.48v1.6M68.5 368.48v1.6M69.5 368.48v1.6M74.5 368.48v1.6M75.5 368.48v1.6M79.5 368.48v1.6M80.5 368.48v1.6M81.5 368.48v1.6M82.5 368.48v1.6M85.5 368.48v1.6M86.5 368.48v1.6M88.5 368.48v1.6M92.5 368.48v1.6M94.5 368.48v1.6M96.5 368.48v1.6M103.5 368.48v1.6M105.5 368.48v1.6M106.5 368.48v1.6M107.5 368.48v1.6M109.5 368.48v1.6M110.5 368.48v1.6M112.5 368.48v1.6M114.5 368.48v1.6M115.5 368.48v1.6M124.5 368.48v1.6M125.5 368.48v1.6M126.5 368.48v1.6M127.5 368.48v1.6M131.5 368.48v1.6M132.5 368.48v1.6M133.5 368.48v1.6M134.5 368.48v1.6M143.5 368.48v1.6M144.5 368.48v1.6M145.5 368.48v1.6M148.5 368.48v1.6M149.5 368.48v1.6M150.5 368.48v1.6M151.5 368.48v1.6M152.5 368.48v1.6M154.5 368.48v1.6M155.5 368.48v1.6M156.5 368.48v1.6M157.5 368.48v1.6M158.5 368.48v1.6M159.5 368.48v1.6M160.5 368.48v1.6M161.5 368.48v1.6M165.5 368.48v1.6M166.5 368.48v1.6M167.5 368.48v1.6M168.5 368.48v1.6M170.5 368.48v1.6M177.5 368.48v1.6M178.5 368.48v1.6M179.5 368.48v1.6M182.5 368.48v1.6M185.5 368.48v1.6M187.5 368.48v1.6M188.5 368.48v1.6M189.5 368.48v1.6M190.5 368.48v1.6M191.5 368.48v1.6M192.5 368.48v1.6M193.5 368.48v1.6M194.5 368.48v1.6M195.5 368.48v1.6M196.5 368.48v1.6M197.5 368.48v1.6M198.5 368.48v1.6M199.5 368.48v1.6M200.5 368.48v1.6M201.5 368.48v1.6M202.5 368.48v1.6M203.5 368.48v1.6M204.5 368.48v1.6M205.5 368.48v1.6M207.5 368.48v1.6M208.5 368.48v1.6M209.5 368.48v1.6M210.5 368.48v1.6M211.5 368.48v1.6M213.5 368.48v1.6M214.5 368.48v1.6M215.5 368.48v1.6M216.5 368.48v1.6M218.5 368.48v1.6M220.5 368.48v1.6M223.5 368.48v1.6M30.5 371v1.6M42.5 371v1.6M76.5 371v1.6M78.5 371v1.6M79.5 371v1.6M82.5 371v1.6M83.5 371v1.6M86.5 371v1.6M87.5 371v1.6M88.5 371v1.6M89.5 371v1.6M101.5 371v1.6M109.5 371v1.6M123.5 371v1.6M124.5 371v1.6M126.5 371v1.6M127.5 371v1.6M128.5 371v1.6M130.5 371v1.6M131.5 371v1.6M134.5 371v1.6M145.5 371v1.6M146.5 371v1.6M148.5 371v1.6M159.5 371v1.6M168.5 371v1.6M171.5 371v1.6M173.5 371v1.6M175.5 371v1.6M182.5 371v1.6M184.5 371v1.6M185.5 371v1.6M187.5 371v1.6M189.5 371v1.6M190.5 371v1.6M191.5 371v1.6M192.5 371v1.6M193.5 371v1.6M194.5 371v1.6M197.5 371v1.6M198.5 371v1.6M201.5 371v1.6M203.5 371v1.6M204.5 371v1.6M207.5 371v1.6M208.5 371v1.6M211.5 371v1.6M212.5 371v1.6M213.5 371v1.6M214.5 371v1.6M215.5 371v1.6M216.5 371v1.6M217.5 371v1.6M221.5 371v1.6M223.5 371v1.6" stroke="#222" stroke-width="1" fill="none"/>
<path d="M23.9 406V399.48H26.32V399.69H28.74V400.24H31.15V402.01H33.57V400.36H35.99V400.55H38.41V400.57H40.83V402.04H43.24V400.21H45.66V401.72H48.08V401.21H50.5V400.47H52.92V399.93H55.33V400.1H57.75V401.21H60.17V400.39H62.59V399.68H65.01V400.77H67.43V399.54H69.84V401.89H72.26V399.2H74.68V399.39H77.1V399.84H79.52V402.92H81.93V402.73H84.35V399.24H86.77V399.71H89.19V402.29H91.61V402.62H94.02V401.02H96.44V401.84H98.86V402.44H101.28V402.77H103.7V400.66H106.11V401.32H108.53V400.11H110.95V399.51H113.37V401.83H115.79V400.6H118.2V400.73H120.62V403.41H123.04V396.93H125.46V403.03H127.88V400.53H130.3V388.74H132.71V389.38H135.13V394.94H137.55V395.85H139.97V399.51H142.39V394.11H144.8V402.04H147.22V392.62H149.64V399.85H152.06V393.47H154.48V393.04H156.89V401.57H159.31V392.27H161.73V389.88H164.15V382.43H166.57V390.47H168.98V377.98H171.4V397.74H173.82V397.62H176.24V389.15H178.66V375.77H181.07V396.46H183.49V398.28H185.91V387.54H188.33V371.93H190.75V385.96H193.17V399.68H195.58V380.33H198V390.76H200.42V400.21H202.84V383.84H205.26V382.24H207.67V401.21H210.09V393.43H212.51V383.69H214.93V397.22H217.35V379.87H219.76V394.53H222.18V399.62H224.6V406z" fill="#000"/>
<rect x="187" y="319.5" width="37.6" height="86.5" fill="#0000ff" stroke="none" stroke-width="1" fill-opacity="0.294"/>
<line x1="23.3" y1="319.5" x2="224.6" y2="319.5" stroke="#000" stroke-width="1" />
<line x1="23.3" y1="319" x2="23.3" y2="406.7" stroke="#000" stroke-width="1.2" />
<line x1="22.7" y1="406" x2="225.1" y2="406" stroke="#000" stroke-width="1.5" />
<line x1="224.6" y1="319.5" x2="224.6" y2="408" stroke="#000" stroke-width="1" />
<line x1="23.3" y1="406" x2="23.3" y2="408" stroke="#000" stroke-width="1" />
<line x1="20.5" y1="321.4" x2="23.3" y2="321.4" stroke="#000" stroke-width="1" />
<line x1="20.5" y1="371.8" x2="23.3" y2="371.8" stroke="#000" stroke-width="1" />
<path d="M115.4 313.2L121.4 313.2L118.4 317.8z" fill="#fff" stroke="#111" stroke-width="0.8"/>
<path d="M153.8 313.2L159.8 313.2L156.8 317.8z" fill="#00a651" stroke="#111" stroke-width="0.8"/>
<path d="M183.4 313.2L189.4 313.2L186.4 317.8z" fill="#ff0000" stroke="#111" stroke-width="0.8"/>
<path d="M221.6 313.2L227.6 313.2L224.6 317.8z" fill="#000" stroke="#111" stroke-width="0.8"/>
<text x="21" y="324.8" font-size="9.5" text-anchor="end" font-weight="normal" fill="#1a1a1a" >21</text>
<text x="21" y="375.2" font-size="9.5" text-anchor="end" font-weight="normal" fill="#1a1a1a" >1</text>
<text transform="translate(5.2,348.5) rotate(-90)" x="0" y="3.32" font-size="9.5" text-anchor="middle" font-weight="normal" fill="#1a1a1a">Cell number</text>
<line x1="49.7" y1="382.2" x2="49.7" y2="392.6" stroke="#000" stroke-width="1.8" />
<text transform="translate(41.6,385.8) rotate(-90)" x="0" y="2.94" font-size="8.4" text-anchor="middle" font-weight="normal" fill="#1a1a1a">100 Hz</text>
<text x="23.5" y="418.6" font-size="9.5" text-anchor="middle" font-weight="normal" fill="#1a1a1a" >146</text>
<text x="224.6" y="418.6" font-size="9.5" text-anchor="middle" font-weight="normal" fill="#1a1a1a" >188</text>
<text x="99.9" y="420.3" font-size="9.5" text-anchor="start" font-weight="normal" fill="#1a1a1a" >Time (sec)</text>
<text x="317.3" y="288" font-size="9.5" font-weight="bold"><tspan fill="#ff0000">Red mouse</tspan><tspan fill="#111"> (LH)</tspan></text>
<text x="351.2" y="300.6" font-size="9.5" text-anchor="middle" font-weight="normal" fill="#1a1a1a" >Food</text>
<text x="351.2" y="311.8" font-size="9.5" text-anchor="middle" font-weight="normal" fill="#1a1a1a" >provision</text>
<text x="384.5" y="300.6" font-size="9.5" text-anchor="middle" font-weight="normal" fill="#1a1a1a" >Green</text>
<text x="384.5" y="311.8" font-size="9.5" text-anchor="middle" font-weight="normal" fill="#1a1a1a" >arrival</text>
<text x="420.3" y="300.6" font-size="9.5" text-anchor="middle" font-weight="normal" fill="#1a1a1a" >Red</text>
<text x="420.3" y="311.8" font-size="9.5" text-anchor="middle" font-weight="normal" fill="#1a1a1a" >arrival</text>
<text x="458.3" y="300.6" font-size="9.5" text-anchor="middle" font-weight="normal" fill="#1a1a1a" >Trial</text>
<text x="458.3" y="311.8" font-size="9.5" text-anchor="middle" font-weight="normal" fill="#1a1a1a" >end</text>
<path d="M276.5 322.3v4.2M278.5 322.3v4.2M280.5 322.3v4.2M284.5 322.3v4.2M288.5 322.3v4.2M290.5 322.3v4.2M292.5 322.3v4.2M298.5 322.3v4.2M302.5 322.3v4.2M312.5 322.3v4.2M314.5 322.3v4.2M320.5 322.3v4.2M322.5 322.3v4.2M328.5 322.3v4.2M330.5 322.3v4.2M340.5 322.3v4.2M342.5 322.3v4.2M344.5 322.3v4.2M346.5 322.3v4.2M348.5 322.3v4.2M350.5 322.3v4.2M352.5 322.3v4.2M354.5 322.3v4.2M356.5 322.3v4.2M360.5 322.3v4.2M362.5 322.3v4.2M366.5 322.3v4.2M368.5 322.3v4.2M370.5 322.3v4.2M372.5 322.3v4.2M382.5 322.3v4.2M390.5 322.3v4.2M392.5 322.3v4.2M396.5 322.3v4.2M398.5 322.3v4.2M414.5 322.3v4.2M422.5 322.3v4.2M424.5 322.3v4.2M426.5 322.3v4.2M432.5 322.3v4.2M438.5 322.3v4.2M440.5 322.3v4.2M442.5 322.3v4.2M444.5 322.3v4.2M446.5 322.3v4.2M260.5 329.6v4.2M274.5 329.6v4.2M282.5 329.6v4.2M284.5 329.6v4.2M288.5 329.6v4.2M308.5 329.6v4.2M324.5 329.6v4.2M338.5 329.6v4.2M340.5 329.6v4.2M346.5 329.6v4.2M354.5 329.6v4.2M358.5 329.6v4.2M364.5 329.6v4.2M366.5 329.6v4.2M368.5 329.6v4.2M370.5 329.6v4.2M372.5 329.6v4.2M398.5 329.6v4.2M406.5 329.6v4.2M410.5 329.6v4.2M418.5 329.6v4.2M420.5 329.6v4.2M424.5 329.6v4.2M426.5 329.6v4.2M428.5 329.6v4.2M434.5 329.6v4.2M436.5 329.6v4.2M444.5 329.6v4.2M448.5 329.6v4.2M450.5 329.6v4.2M452.5 329.6v4.2M456.5 329.6v4.2M258.5 336.9v4.2M264.5 336.9v4.2M266.5 336.9v4.2M276.5 336.9v4.2M302.5 336.9v4.2M310.5 336.9v4.2M324.5 336.9v4.2M330.5 336.9v4.2M332.5 336.9v4.2M334.5 336.9v4.2M342.5 336.9v4.2M352.5 336.9v4.2M354.5 336.9v4.2M356.5 336.9v4.2M358.5 336.9v4.2M362.5 336.9v4.2M364.5 336.9v4.2M366.5 336.9v4.2M368.5 336.9v4.2M370.5 336.9v4.2M378.5 336.9v4.2M386.5 336.9v4.2M388.5 336.9v4.2M402.5 336.9v4.2M406.5 336.9v4.2M424.5 336.9v4.2M428.5 336.9v4.2M430.5 336.9v4.2M432.5 336.9v4.2M448.5 336.9v4.2M450.5 336.9v4.2M454.5 336.9v4.2M456.5 336.9v4.2M268.5 344.2v4.2M274.5 344.2v4.2M282.5 344.2v4.2M284.5 344.2v4.2M286.5 344.2v4.2M296.5 344.2v4.2M308.5 344.2v4.2M310.5 344.2v4.2M312.5 344.2v4.2M314.5 344.2v4.2M316.5 344.2v4.2M320.5 344.2v4.2M324.5 344.2v4.2M326.5 344.2v4.2M330.5 344.2v4.2M340.5 344.2v4.2M350.5 344.2v4.2M352.5 344.2v4.2M354.5 344.2v4.2M360.5 344.2v4.2M364.5 344.2v4.2M368.5 344.2v4.2M370.5 344.2v4.2M376.5 344.2v4.2M384.5 344.2v4.2M390.5 344.2v4.2M392.5 344.2v4.2M396.5 344.2v4.2M400.5 344.2v4.2M402.5 344.2v4.2M404.5 344.2v4.2M410.5 344.2v4.2M412.5 344.2v4.2M418.5 344.2v4.2M420.5 344.2v4.2M424.5 344.2v4.2M426.5 344.2v4.2M436.5 344.2v4.2M438.5 344.2v4.2M448.5 344.2v4.2M450.5 344.2v4.2M452.5 344.2v4.2M454.5 344.2v4.2" stroke="#333" stroke-width="0.9" fill="none"/>
<path d="M257.6 406V402.48H259.61V383.59H261.62V391.42H263.63V400.83H265.64V402.6H267.65V402.9H269.65V400.11H271.66V397.45H273.67V400H275.68V400.88H277.69V398.33H279.7V398.56H281.71V401.96H283.72V402.32H285.73V401.49H287.74V398.15H289.74V397.55H291.75V398.84H293.76V398.86H295.77V399.43H297.78V399.7H299.79V397.35H301.8V401.86H303.81V401.13H305.82V393.09H307.83V399.29H309.83V398.92H311.84V402.33H313.85V387H315.86V399.32H317.87V399.97H319.88V397.06H321.89V400.39H323.9V399H325.91V390.89H327.92V401.61H329.92V397.46H331.93V400.09H333.94V398.67H335.95V397.64H337.96V402.45H339.97V401.25H341.98V398.48H343.99V401.16H346V398.25H348V402.44H350.01V398.56H352.02V398.65H354.03V402.39H356.04V401.45H358.05V396.2H360.06V398.89H362.07V402.26H364.08V397.12H366.09V399.79H368.1V402.86H370.1V398.35H372.11V400.94H374.12V392.53H376.13V399.16H378.14V402.11H380.15V400.24H382.16V399.62H384.17V402.69H386.18V399.49H388.19V395.31H390.19V400.51H392.2V391.53H394.21V397.28H396.22V387.33H398.23V400.81H400.24V399.41H402.25V397.51H404.26V402.18H406.27V402.49H408.27V401.66H410.28V387.98H412.29V402.24H414.3V388.16H416.31V388.49H418.32V402.23H420.33V402.44H422.34V400.3H424.35V399.08H426.36V400.99H428.37V401.74H430.37V400.8H432.38V401.85H434.39V397.98H436.4V398.12H438.41V399.51H440.42V400.54H442.43V402.49H444.44V401.48H446.45V400.97H448.46V393.16H450.46V401.42H452.47V397.99H454.48V391.8H456.49V401.12H458.5V406z" fill="#000"/>
<rect x="420.3" y="319.5" width="38.2" height="86.5" fill="#0000ff" stroke="none" stroke-width="1" fill-opacity="0.294"/>
<line x1="257" y1="319.5" x2="458.5" y2="319.5" stroke="#000" stroke-width="1" />
<line x1="257" y1="319" x2="257" y2="406.7" stroke="#000" stroke-width="1.2" />
<line x1="256.4" y1="406" x2="459" y2="406" stroke="#000" stroke-width="1.5" />
<line x1="458.5" y1="319.5" x2="458.5" y2="408" stroke="#000" stroke-width="1" />
<line x1="257" y1="406" x2="257" y2="408" stroke="#000" stroke-width="1" />
<line x1="254.5" y1="324.4" x2="257" y2="324.4" stroke="#000" stroke-width="1" />
<line x1="254.5" y1="346.3" x2="257" y2="346.3" stroke="#000" stroke-width="1" />
<path d="M348.2 313.2L354.2 313.2L351.2 317.8z" fill="#fff" stroke="#111" stroke-width="0.8"/>
<path d="M381.5 313.2L387.5 313.2L384.5 317.8z" fill="#00a651" stroke="#111" stroke-width="0.8"/>
<path d="M417.3 313.2L423.3 313.2L420.3 317.8z" fill="#ff0000" stroke="#111" stroke-width="0.8"/>
<path d="M455.5 313.2L461.5 313.2L458.5 317.8z" fill="#000" stroke="#111" stroke-width="0.8"/>
<text x="254.2" y="328" font-size="9.5" text-anchor="end" font-weight="normal" fill="#1a1a1a" >4</text>
<text x="254.2" y="349.6" font-size="9.5" text-anchor="end" font-weight="normal" fill="#1a1a1a" >1</text>
<text transform="translate(242.6,336.5) rotate(-90)" x="0" y="3.32" font-size="9.5" text-anchor="middle" font-weight="normal" fill="#1a1a1a">Cell number</text>
<line x1="275" y1="377" x2="275" y2="387.2" stroke="#000" stroke-width="1.8" />
<text transform="translate(267.4,381) rotate(-90)" x="0" y="2.94" font-size="8.4" text-anchor="middle" font-weight="normal" fill="#1a1a1a">10 Hz</text>
<text x="257" y="418.6" font-size="9.5" text-anchor="middle" font-weight="normal" fill="#1a1a1a" >146</text>
<text x="458.5" y="418.6" font-size="9.5" text-anchor="middle" font-weight="normal" fill="#1a1a1a" >188</text>
<text x="333.4" y="420.3" font-size="9.5" text-anchor="start" font-weight="normal" fill="#1a1a1a" >Time (sec)</text>
<text x="2.8" y="446.2" font-size="12.5" text-anchor="start" font-weight="bold" fill="#000" >c</text>
<text x="175.6" y="440.8" font-size="9.5" text-anchor="start" font-weight="bold" fill="#111" >After muscimol injection</text>
<line x1="110.4" y1="444.8" x2="355" y2="444.8" stroke="#000" stroke-width="1.6" />
<text x="74.6" y="456.1" font-size="9.5" font-weight="bold"><tspan fill="#00b050">Green mouse</tspan><tspan fill="#111"> (mPFC)</tspan></text>
<text x="108" y="468.8" font-size="9.5" text-anchor="middle" font-weight="normal" fill="#1a1a1a" >Food provision</text>
<text x="108" y="480" font-size="9.5" text-anchor="middle" font-weight="normal" fill="#1a1a1a" >&amp; Green arrival</text>
<text x="224.4" y="468.8" font-size="9.5" text-anchor="middle" font-weight="normal" fill="#1a1a1a" >Trial</text>
<text x="224.4" y="480" font-size="9.5" text-anchor="middle" font-weight="normal" fill="#1a1a1a" >end</text>
<path d="M27.5 489v1.6M28.5 489v1.6M31.5 489v1.6M33.5 489v1.6M35.5 489v1.6M37.5 489v1.6M39.5 489v1.6M41.5 489v1.6M42.5 489v1.6M50.5 489v1.6M51.5 489v1.6M60.5 489v1.6M61.5 489v1.6M66.5 489v1.6M77.5 489v1.6M80.5 489v1.6M82.5 489v1.6M86.5 489v1.6M87.5 489v1.6M90.5 489v1.6M93.5 489v1.6M101.5 489v1.6M104.5 489v1.6M107.5 489v1.6M110.5 489v1.6M113.5 489v1.6M114.5 489v1.6M115.5 489v1.6M119.5 489v1.6M120.5 489v1.6M121.5 489v1.6M122.5 489v1.6M123.5 489v1.6M127.5 489v1.6M128.5 489v1.6M130.5 489v1.6M133.5 489v1.6M135.5 489v1.6M137.5 489v1.6M138.5 489v1.6M139.5 489v1.6M140.5 489v1.6M148.5 489v1.6M149.5 489v1.6M150.5 489v1.6M151.5 489v1.6M153.5 489v1.6M154.5 489v1.6M155.5 489v1.6M156.5 489v1.6M157.5 489v1.6M159.5 489v1.6M161.5 489v1.6M162.5 489v1.6M169.5 489v1.6M170.5 489v1.6M177.5 489v1.6M184.5 489v1.6M189.5 489v1.6M193.5 489v1.6M195.5 489v1.6M196.5 489v1.6M197.5 489v1.6M211.5 489v1.6M213.5 489v1.6M218.5 489v1.6M219.5 489v1.6M220.5 489v1.6M25.5 491.49v1.6M26.5 491.49v1.6M28.5 491.49v1.6M32.5 491.49v1.6M33.5 491.49v1.6M36.5 491.49v1.6M43.5 491.49v1.6M44.5 491.49v1.6M45.5 491.49v1.6M47.5 491.49v1.6M48.5 491.49v1.6M54.5 491.49v1.6M56.5 491.49v1.6M58.5 491.49v1.6M59.5 491.49v1.6M60.5 491.49v1.6M61.5 491.49v1.6M63.5 491.49v1.6M64.5 491.49v1.6M65.5 491.49v1.6M69.5 491.49v1.6M70.5 491.49v1.6M72.5 491.49v1.6M73.5 491.49v1.6M90.5 491.49v1.6M97.5 491.49v1.6M100.5 491.49v1.6M104.5 491.49v1.6M105.5 491.49v1.6M106.5 491.49v1.6M107.5 491.49v1.6M108.5 491.49v1.6M109.5 491.49v1.6M110.5 491.49v1.6M112.5 491.49v1.6M113.5 491.49v1.6M114.5 491.49v1.6M115.5 491.49v1.6M116.5 491.49v1.6M119.5 491.49v1.6M120.5 491.49v1.6M121.5 491.49v1.6M122.5 491.49v1.6M123.5 491.49v1.6M126.5 491.49v1.6M127.5 491.49v1.6M128.5 491.49v1.6M129.5 491.49v1.6M130.5 491.49v1.6M132.5 491.49v1.6M133.5 491.49v1.6M134.5 491.49v1.6M135.5 491.49v1.6M136.5 491.49v1.6M137.5 491.49v1.6M139.5 491.49v1.6M140.5 491.49v1.6M142.5 491.49v1.6M143.5 491.49v1.6M144.5 491.49v1.6M146.5 491.49v1.6M147.5 491.49v1.6M148.5 491.49v1.6M149.5 491.49v1.6M150.5 491.49v1.6M152.5 491.49v1.6M154.5 491.49v1.6M155.5 491.49v1.6M157.5 491.49v1.6M158.5 491.49v1.6M159.5 491.49v1.6M160.5 491.49v1.6M164.5 491.49v1.6M165.5 491.49v1.6M166.5 491.49v1.6M168.5 491.49v1.6M169.5 491.49v1.6M174.5 491.49v1.6M179.5 491.49v1.6M189.5 491.49v1.6M190.5 491.49v1.6M191.5 491.49v1.6M205.5 491.49v1.6M210.5 491.49v1.6M211.5 491.49v1.6M212.5 491.49v1.6M220.5 491.49v1.6M221.5 491.49v1.6M222.5 491.49v1.6M28.5 493.98v1.6M29.5 493.98v1.6M37.5 493.98v1.6M47.5 493.98v1.6M56.5 493.98v1.6M70.5 493.98v1.6M78.5 493.98v1.6M104.5 493.98v1.6M105.5 493.98v1.6M106.5 493.98v1.6M108.5 493.98v1.6M109.5 493.98v1.6M110.5 493.98v1.6M111.5 493.98v1.6M112.5 493.98v1.6M117.5 493.98v1.6M118.5 493.98v1.6M120.5 493.98v1.6M124.5 493.98v1.6M126.5 493.98v1.6M127.5 493.98v1.6M129.5 493.98v1.6M130.5 493.98v1.6M140.5 493.98v1.6M142.5 493.98v1.6M143.5 493.98v1.6M144.5 493.98v1.6M146.5 493.98v1.6M148.5 493.98v1.6M149.5 493.98v1.6M150.5 493.98v1.6M152.5 493.98v1.6M153.5 493.98v1.6M155.5 493.98v1.6M156.5 493.98v1.6M157.5 493.98v1.6M159.5 493.98v1.6M163.5 493.98v1.6M165.5 493.98v1.6M171.5 493.98v1.6M172.5 493.98v1.6M175.5 493.98v1.6M191.5 493.98v1.6M200.5 493.98v1.6M202.5 493.98v1.6M207.5 493.98v1.6M214.5 493.98v1.6M24.5 496.47v1.6M30.5 496.47v1.6M50.5 496.47v1.6M52.5 496.47v1.6M58.5 496.47v1.6M59.5 496.47v1.6M60.5 496.47v1.6M65.5 496.47v1.6M66.5 496.47v1.6M78.5 496.47v1.6M84.5 496.47v1.6M87.5 496.47v1.6M88.5 496.47v1.6M106.5 496.47v1.6M107.5 496.47v1.6M108.5 496.47v1.6M109.5 496.47v1.6M110.5 496.47v1.6M112.5 496.47v1.6M114.5 496.47v1.6M116.5 496.47v1.6M117.5 496.47v1.6M118.5 496.47v1.6M121.5 496.47v1.6M122.5 496.47v1.6M123.5 496.47v1.6M124.5 496.47v1.6M125.5 496.47v1.6M126.5 496.47v1.6M127.5 496.47v1.6M128.5 496.47v1.6M129.5 496.47v1.6M131.5 496.47v1.6M133.5 496.47v1.6M134.5 496.47v1.6M135.5 496.47v1.6M136.5 496.47v1.6M138.5 496.47v1.6M140.5 496.47v1.6M141.5 496.47v1.6M144.5 496.47v1.6M146.5 496.47v1.6M147.5 496.47v1.6M148.5 496.47v1.6M149.5 496.47v1.6M152.5 496.47v1.6M153.5 496.47v1.6M154.5 496.47v1.6M156.5 496.47v1.6M159.5 496.47v1.6M170.5 496.47v1.6M176.5 496.47v1.6M179.5 496.47v1.6M182.5 496.47v1.6M183.5 496.47v1.6M186.5 496.47v1.6M188.5 496.47v1.6M191.5 496.47v1.6M193.5 496.47v1.6M197.5 496.47v1.6M203.5 496.47v1.6M204.5 496.47v1.6M206.5 496.47v1.6M210.5 496.47v1.6M217.5 496.47v1.6M220.5 496.47v1.6M24.5 498.96v1.6M28.5 498.96v1.6M32.5 498.96v1.6M33.5 498.96v1.6M46.5 498.96v1.6M47.5 498.96v1.6M48.5 498.96v1.6M49.5 498.96v1.6M53.5 498.96v1.6M55.5 498.96v1.6M61.5 498.96v1.6M62.5 498.96v1.6M84.5 498.96v1.6M90.5 498.96v1.6M99.5 498.96v1.6M102.5 498.96v1.6M105.5 498.96v1.6M107.5 498.96v1.6M108.5 498.96v1.6M109.5 498.96v1.6M110.5 498.96v1.6M111.5 498.96v1.6M112.5 498.96v1.6M113.5 498.96v1.6M120.5 498.96v1.6M121.5 498.96v1.6M123.5 498.96v1.6M124.5 498.96v1.6M125.5 498.96v1.6M127.5 498.96v1.6M128.5 498.96v1.6M129.5 498.96v1.6M130.5 498.96v1.6M131.5 498.96v1.6M132.5 498.96v1.6M133.5 498.96v1.6M134.5 498.96v1.6M135.5 498.96v1.6M137.5 498.96v1.6M138.5 498.96v1.6M139.5 498.96v1.6M142.5 498.96v1.6M143.5 498.96v1.6M144.5 498.96v1.6M150.5 498.96v1.6M152.5 498.96v1.6M154.5 498.96v1.6M155.5 498.96v1.6M156.5 498.96v1.6M157.5 498.96v1.6M159.5 498.96v1.6M162.5 498.96v1.6M163.5 498.96v1.6M164.5 498.96v1.6M168.5 498.96v1.6M169.5 498.96v1.6M172.5 498.96v1.6M174.5 498.96v1.6M176.5 498.96v1.6M177.5 498.96v1.6M178.5 498.96v1.6M185.5 498.96v1.6M207.5 498.96v1.6M211.5 498.96v1.6M216.5 498.96v1.6M219.5 498.96v1.6M223.5 498.96v1.6M24.5 501.45v1.6M27.5 501.45v1.6M31.5 501.45v1.6M41.5 501.45v1.6M45.5 501.45v1.6M47.5 501.45v1.6M49.5 501.45v1.6M50.5 501.45v1.6M51.5 501.45v1.6M56.5 501.45v1.6M57.5 501.45v1.6M58.5 501.45v1.6M59.5 501.45v1.6M60.5 501.45v1.6M61.5 501.45v1.6M62.5 501.45v1.6M67.5 501.45v1.6M69.5 501.45v1.6M85.5 501.45v1.6M86.5 501.45v1.6M89.5 501.45v1.6M91.5 501.45v1.6M92.5 501.45v1.6M94.5 501.45v1.6M96.5 501.45v1.6M102.5 501.45v1.6M104.5 501.45v1.6M105.5 501.45v1.6M106.5 501.45v1.6M107.5 501.45v1.6M108.5 501.45v1.6M109.5 501.45v1.6M110.5 501.45v1.6M111.5 501.45v1.6M112.5 501.45v1.6M114.5 501.45v1.6M115.5 501.45v1.6M116.5 501.45v1.6M117.5 501.45v1.6M118.5 501.45v1.6M119.5 501.45v1.6M120.5 501.45v1.6M121.5 501.45v1.6M122.5 501.45v1.6M123.5 501.45v1.6M124.5 501.45v1.6M125.5 501.45v1.6M126.5 501.45v1.6M127.5 501.45v1.6M128.5 501.45v1.6M129.5 501.45v1.6M130.5 501.45v1.6M131.5 501.45v1.6M132.5 501.45v1.6M133.5 501.45v1.6M134.5 501.45v1.6M135.5 501.45v1.6M136.5 501.45v1.6M137.5 501.45v1.6M139.5 501.45v1.6M140.5 501.45v1.6M141.5 501.45v1.6M142.5 501.45v1.6M143.5 501.45v1.6M145.5 501.45v1.6M146.5 501.45v1.6M147.5 501.45v1.6M148.5 501.45v1.6M150.5 501.45v1.6M151.5 501.45v1.6M152.5 501.45v1.6M153.5 501.45v1.6M154.5 501.45v1.6M156.5 501.45v1.6M157.5 501.45v1.6M158.5 501.45v1.6M161.5 501.45v1.6M164.5 501.45v1.6M166.5 501.45v1.6M167.5 501.45v1.6M168.5 501.45v1.6M169.5 501.45v1.6M171.5 501.45v1.6M173.5 501.45v1.6M182.5 501.45v1.6M189.5 501.45v1.6M192.5 501.45v1.6M197.5 501.45v1.6M203.5 501.45v1.6M204.5 501.45v1.6M205.5 501.45v1.6M209.5 501.45v1.6M210.5 501.45v1.6M212.5 501.45v1.6M213.5 501.45v1.6M216.5 501.45v1.6M217.5 501.45v1.6M220.5 501.45v1.6M26.5 503.94v1.6M30.5 503.94v1.6M42.5 503.94v1.6M44.5 503.94v1.6M45.5 503.94v1.6M47.5 503.94v1.6M48.5 503.94v1.6M51.5 503.94v1.6M54.5 503.94v1.6M56.5 503.94v1.6M64.5 503.94v1.6M69.5 503.94v1.6M76.5 503.94v1.6M79.5 503.94v1.6M83.5 503.94v1.6M86.5 503.94v1.6M90.5 503.94v1.6M91.5 503.94v1.6M92.5 503.94v1.6M95.5 503.94v1.6M98.5 503.94v1.6M105.5 503.94v1.6M106.5 503.94v1.6M107.5 503.94v1.6M115.5 503.94v1.6M116.5 503.94v1.6M118.5 503.94v1.6M119.5 503.94v1.6M120.5 503.94v1.6M122.5 503.94v1.6M123.5 503.94v1.6M124.5 503.94v1.6M125.5 503.94v1.6M126.5 503.94v1.6M127.5 503.94v1.6M128.5 503.94v1.6M132.5 503.94v1.6M134.5 503.94v1.6M135.5 503.94v1.6M136.5 503.94v1.6M137.5 503.94v1.6M139.5 503.94v1.6M143.5 503.94v1.6M144.5 503.94v1.6M147.5 503.94v1.6M151.5 503.94v1.6M152.5 503.94v1.6M153.5 503.94v1.6M155.5 503.94v1.6M157.5 503.94v1.6M159.5 503.94v1.6M163.5 503.94v1.6M165.5 503.94v1.6M166.5 503.94v1.6M168.5 503.94v1.6M184.5 503.94v1.6M193.5 503.94v1.6M197.5 503.94v1.6M199.5 503.94v1.6M203.5 503.94v1.6M204.5 503.94v1.6M205.5 503.94v1.6M208.5 503.94v1.6M209.5 503.94v1.6M215.5 503.94v1.6M219.5 503.94v1.6M220.5 503.94v1.6M221.5 503.94v1.6M24.5 506.43v1.6M25.5 506.43v1.6M26.5 506.43v1.6M27.5 506.43v1.6M29.5 506.43v1.6M30.5 506.43v1.6M31.5 506.43v1.6M33.5 506.43v1.6M35.5 506.43v1.6M36.5 506.43v1.6M37.5 506.43v1.6M38.5 506.43v1.6M39.5 506.43v1.6M40.5 506.43v1.6M41.5 506.43v1.6M42.5 506.43v1.6M43.5 506.43v1.6M44.5 506.43v1.6M45.5 506.43v1.6M46.5 506.43v1.6M47.5 506.43v1.6M48.5 506.43v1.6M49.5 506.43v1.6M50.5 506.43v1.6M51.5 506.43v1.6M53.5 506.43v1.6M54.5 506.43v1.6M55.5 506.43v1.6M56.5 506.43v1.6M57.5 506.43v1.6M59.5 506.43v1.6M60.5 506.43v1.6M61.5 506.43v1.6M62.5 506.43v1.6M64.5 506.43v1.6M65.5 506.43v1.6M66.5 506.43v1.6M67.5 506.43v1.6M68.5 506.43v1.6M69.5 506.43v1.6M70.5 506.43v1.6M71.5 506.43v1.6M72.5 506.43v1.6M73.5 506.43v1.6M74.5 506.43v1.6M75.5 506.43v1.6M76.5 506.43v1.6M80.5 506.43v1.6M81.5 506.43v1.6M83.5 506.43v1.6M84.5 506.43v1.6M85.5 506.43v1.6M89.5 506.43v1.6M92.5 506.43v1.6M93.5 506.43v1.6M95.5 506.43v1.6M98.5 506.43v1.6M99.5 506.43v1.6M100.5 506.43v1.6M103.5 506.43v1.6M104.5 506.43v1.6M105.5 506.43v1.6M106.5 506.43v1.6M107.5 506.43v1.6M108.5 506.43v1.6M109.5 506.43v1.6M110.5 506.43v1.6M111.5 506.43v1.6M112.5 506.43v1.6M113.5 506.43v1.6M114.5 506.43v1.6M115.5 506.43v1.6M116.5 506.43v1.6M119.5 506.43v1.6M120.5 506.43v1.6M121.5 506.43v1.6M122.5 506.43v1.6M123.5 506.43v1.6M124.5 506.43v1.6M125.5 506.43v1.6M126.5 506.43v1.6M129.5 506.43v1.6M130.5 506.43v1.6M132.5 506.43v1.6M133.5 506.43v1.6M134.5 506.43v1.6M135.5 506.43v1.6M136.5 506.43v1.6M137.5 506.43v1.6M139.5 506.43v1.6M140.5 506.43v1.6M141.5 506.43v1.6M143.5 506.43v1.6M145.5 506.43v1.6M146.5 506.43v1.6M147.5 506.43v1.6M148.5 506.43v1.6M149.5 506.43v1.6M150.5 506.43v1.6M151.5 506.43v1.6M152.5 506.43v1.6M153.5 506.43v1.6M154.5 506.43v1.6M155.5 506.43v1.6M156.5 506.43v1.6M158.5 506.43v1.6M159.5 506.43v1.6M160.5 506.43v1.6M162.5 506.43v1.6M163.5 506.43v1.6M164.5 506.43v1.6M165.5 506.43v1.6M166.5 506.43v1.6M167.5 506.43v1.6M168.5 506.43v1.6M169.5 506.43v1.6M171.5 506.43v1.6M172.5 506.43v1.6M173.5 506.43v1.6M174.5 506.43v1.6M177.5 506.43v1.6M178.5 506.43v1.6M179.5 506.43v1.6M180.5 506.43v1.6M181.5 506.43v1.6M182.5 506.43v1.6M183.5 506.43v1.6M184.5 506.43v1.6M187.5 506.43v1.6M188.5 506.43v1.6M190.5 506.43v1.6M191.5 506.43v1.6M192.5 506.43v1.6M193.5 506.43v1.6M194.5 506.43v1.6M196.5 506.43v1.6M197.5 506.43v1.6M198.5 506.43v1.6M199.5 506.43v1.6M200.5 506.43v1.6M201.5 506.43v1.6M202.5 506.43v1.6M204.5 506.43v1.6M206.5 506.43v1.6M208.5 506.43v1.6M209.5 506.43v1.6M210.5 506.43v1.6M211.5 506.43v1.6M212.5 506.43v1.6M213.5 506.43v1.6M214.5 506.43v1.6M216.5 506.43v1.6M217.5 506.43v1.6M218.5 506.43v1.6M219.5 506.43v1.6M221.5 506.43v1.6M222.5 506.43v1.6M223.5 506.43v1.6M25.5 508.92v1.6M27.5 508.92v1.6M39.5 508.92v1.6M43.5 508.92v1.6M44.5 508.92v1.6M45.5 508.92v1.6M54.5 508.92v1.6M57.5 508.92v1.6M60.5 508.92v1.6M80.5 508.92v1.6M81.5 508.92v1.6M82.5 508.92v1.6M84.5 508.92v1.6M92.5 508.92v1.6M94.5 508.92v1.6M95.5 508.92v1.6M96.5 508.92v1.6M99.5 508.92v1.6M100.5 508.92v1.6M106.5 508.92v1.6M109.5 508.92v1.6M112.5 508.92v1.6M113.5 508.92v1.6M114.5 508.92v1.6M116.5 508.92v1.6M117.5 508.92v1.6M119.5 508.92v1.6M120.5 508.92v1.6M121.5 508.92v1.6M122.5 508.92v1.6M123.5 508.92v1.6M124.5 508.92v1.6M125.5 508.92v1.6M128.5 508.92v1.6M133.5 508.92v1.6M134.5 508.92v1.6M135.5 508.92v1.6M138.5 508.92v1.6M139.5 508.92v1.6M141.5 508.92v1.6M142.5 508.92v1.6M143.5 508.92v1.6M145.5 508.92v1.6M146.5 508.92v1.6M148.5 508.92v1.6M149.5 508.92v1.6M150.5 508.92v1.6M151.5 508.92v1.6M152.5 508.92v1.6M153.5 508.92v1.6M154.5 508.92v1.6M155.5 508.92v1.6M156.5 508.92v1.6M157.5 508.92v1.6M158.5 508.92v1.6M159.5 508.92v1.6M161.5 508.92v1.6M165.5 508.92v1.6M166.5 508.92v1.6M168.5 508.92v1.6M172.5 508.92v1.6M174.5 508.92v1.6M175.5 508.92v1.6M176.5 508.92v1.6M188.5 508.92v1.6M191.5 508.92v1.6M208.5 508.92v1.6M209.5 508.92v1.6M210.5 508.92v1.6M212.5 508.92v1.6M213.5 508.92v1.6M214.5 508.92v1.6M218.5 508.92v1.6M24.5 511.41v1.6M41.5 511.41v1.6M42.5 511.41v1.6M64.5 511.41v1.6M75.5 511.41v1.6M76.5 511.41v1.6M77.5 511.41v1.6M83.5 511.41v1.6M87.5 511.41v1.6M93.5 511.41v1.6M94.5 511.41v1.6M98.5 511.41v1.6M100.5 511.41v1.6M102.5 511.41v1.6M108.5 511.41v1.6M114.5 511.41v1.6M120.5 511.41v1.6M125.5 511.41v1.6M126.5 511.41v1.6M129.5 511.41v1.6M131.5 511.41v1.6M132.5 511.41v1.6M136.5 511.41v1.6M143.5 511.41v1.6M145.5 511.41v1.6M148.5 511.41v1.6M151.5 511.41v1.6M154.5 511.41v1.6M155.5 511.41v1.6M165.5 511.41v1.6M167.5 511.41v1.6M172.5 511.41v1.6M173.5 511.41v1.6M181.5 511.41v1.6M184.5 511.41v1.6M191.5 511.41v1.6M198.5 511.41v1.6M201.5 511.41v1.6M202.5 511.41v1.6M204.5 511.41v1.6M208.5 511.41v1.6M211.5 511.41v1.6M217.5 511.41v1.6M29.5 513.9v1.6M30.5 513.9v1.6M58.5 513.9v1.6M59.5 513.9v1.6M69.5 513.9v1.6M75.5 513.9v1.6M89.5 513.9v1.6M96.5 513.9v1.6M98.5 513.9v1.6M105.5 513.9v1.6M108.5 513.9v1.6M109.5 513.9v1.6M110.5 513.9v1.6M113.5 513.9v1.6M116.5 513.9v1.6M118.5 513.9v1.6M119.5 513.9v1.6M120.5 513.9v1.6M122.5 513.9v1.6M124.5 513.9v1.6M125.5 513.9v1.6M127.5 513.9v1.6M128.5 513.9v1.6M129.5 513.9v1.6M130.5 513.9v1.6M131.5 513.9v1.6M132.5 513.9v1.6M134.5 513.9v1.6M135.5 513.9v1.6M137.5 513.9v1.6M142.5 513.9v1.6M143.5 513.9v1.6M144.5 513.9v1.6M147.5 513.9v1.6M149.5 513.9v1.6M150.5 513.9v1.6M151.5 513.9v1.6M153.5 513.9v1.6M154.5 513.9v1.6M155.5 513.9v1.6M157.5 513.9v1.6M159.5 513.9v1.6M161.5 513.9v1.6M171.5 513.9v1.6M176.5 513.9v1.6M191.5 513.9v1.6M200.5 513.9v1.6M218.5 513.9v1.6M220.5 513.9v1.6M27.5 516.39v1.6M28.5 516.39v1.6M30.5 516.39v1.6M37.5 516.39v1.6M38.5 516.39v1.6M43.5 516.39v1.6M44.5 516.39v1.6M77.5 516.39v1.6M83.5 516.39v1.6M94.5 516.39v1.6M100.5 516.39v1.6M101.5 516.39v1.6M102.5 516.39v1.6M104.5 516.39v1.6M105.5 516.39v1.6M107.5 516.39v1.6M108.5 516.39v1.6M111.5 516.39v1.6M113.5 516.39v1.6M115.5 516.39v1.6M118.5 516.39v1.6M119.5 516.39v1.6M123.5 516.39v1.6M124.5 516.39v1.6M125.5 516.39v1.6M126.5 516.39v1.6M127.5 516.39v1.6M129.5 516.39v1.6M130.5 516.39v1.6M134.5 516.39v1.6M136.5 516.39v1.6M139.5 516.39v1.6M140.5 516.39v1.6M141.5 516.39v1.6M142.5 516.39v1.6M145.5 516.39v1.6M148.5 516.39v1.6M149.5 516.39v1.6M150.5 516.39v1.6M152.5 516.39v1.6M153.5 516.39v1.6M154.5 516.39v1.6M158.5 516.39v1.6M159.5 516.39v1.6M160.5 516.39v1.6M166.5 516.39v1.6M171.5 516.39v1.6M177.5 516.39v1.6M178.5 516.39v1.6M180.5 516.39v1.6M185.5 516.39v1.6M188.5 516.39v1.6M192.5 516.39v1.6M197.5 516.39v1.6M198.5 516.39v1.6M199.5 516.39v1.6M206.5 516.39v1.6M207.5 516.39v1.6M208.5 516.39v1.6M210.5 516.39v1.6M27.5 518.88v1.6M56.5 518.88v1.6M66.5 518.88v1.6M75.5 518.88v1.6M79.5 518.88v1.6M80.5 518.88v1.6M90.5 518.88v1.6M103.5 518.88v1.6M104.5 518.88v1.6M107.5 518.88v1.6M110.5 518.88v1.6M112.5 518.88v1.6M115.5 518.88v1.6M118.5 518.88v1.6M120.5 518.88v1.6M132.5 518.88v1.6M136.5 518.88v1.6M138.5 518.88v1.6M141.5 518.88v1.6M143.5 518.88v1.6M151.5 518.88v1.6M152.5 518.88v1.6M156.5 518.88v1.6M158.5 518.88v1.6M159.5 518.88v1.6M162.5 518.88v1.6M176.5 518.88v1.6M182.5 518.88v1.6M184.5 518.88v1.6M192.5 518.88v1.6M193.5 518.88v1.6M194.5 518.88v1.6M196.5 518.88v1.6M213.5 518.88v1.6M217.5 518.88v1.6M222.5 518.88v1.6M24.5 521.37v1.6M41.5 521.37v1.6M48.5 521.37v1.6M51.5 521.37v1.6M65.5 521.37v1.6M79.5 521.37v1.6M80.5 521.37v1.6M84.5 521.37v1.6M86.5 521.37v1.6M89.5 521.37v1.6M96.5 521.37v1.6M97.5 521.37v1.6M99.5 521.37v1.6M102.5 521.37v1.6M106.5 521.37v1.6M111.5 521.37v1.6M112.5 521.37v1.6M113.5 521.37v1.6M115.5 521.37v1.6M116.5 521.37v1.6M117.5 521.37v1.6M118.5 521.37v1.6M121.5 521.37v1.6M122.5 521.37v1.6M133.5 521.37v1.6M134.5 521.37v1.6M135.5 521.37v1.6M136.5 521.37v1.6M137.5 521.37v1.6M138.5 521.37v1.6M139.5 521.37v1.6M140.5 521.37v1.6M141.5 521.37v1.6M146.5 521.37v1.6M149.5 521.37v1.6M150.5 521.37v1.6M151.5 521.37v1.6M152.5 521.37v1.6M155.5 521.37v1.6M156.5 521.37v1.6M157.5 521.37v1.6M159.5 521.37v1.6M165.5 521.37v1.6M171.5 521.37v1.6M172.5 521.37v1.6M185.5 521.37v1.6M203.5 521.37v1.6M211.5 521.37v1.6M25.5 523.86v1.6M38.5 523.86v1.6M39.5 523.86v1.6M40.5 523.86v1.6M46.5 523.86v1.6M60.5 523.86v1.6M72.5 523.86v1.6M73.5 523.86v1.6M77.5 523.86v1.6M79.5 523.86v1.6M81.5 523.86v1.6M85.5 523.86v1.6M87.5 523.86v1.6M93.5 523.86v1.6M99.5 523.86v1.6M103.5 523.86v1.6M109.5 523.86v1.6M114.5 523.86v1.6M115.5 523.86v1.6M117.5 523.86v1.6M118.5 523.86v1.6M119.5 523.86v1.6M120.5 523.86v1.6M122.5 523.86v1.6M123.5 523.86v1.6M124.5 523.86v1.6M126.5 523.86v1.6M127.5 523.86v1.6M129.5 523.86v1.6M131.5 523.86v1.6M132.5 523.86v1.6M137.5 523.86v1.6M138.5 523.86v1.6M139.5 523.86v1.6M143.5 523.86v1.6M145.5 523.86v1.6M146.5 523.86v1.6M149.5 523.86v1.6M150.5 523.86v1.6M153.5 523.86v1.6M154.5 523.86v1.6M155.5 523.86v1.6M156.5 523.86v1.6M157.5 523.86v1.6M164.5 523.86v1.6M179.5 523.86v1.6M185.5 523.86v1.6M191.5 523.86v1.6M193.5 523.86v1.6M195.5 523.86v1.6M197.5 523.86v1.6M204.5 523.86v1.6M210.5 523.86v1.6M213.5 523.86v1.6M220.5 523.86v1.6M30.5 526.35v1.6M40.5 526.35v1.6M50.5 526.35v1.6M74.5 526.35v1.6M78.5 526.35v1.6M80.5 526.35v1.6M85.5 526.35v1.6M86.5 526.35v1.6M105.5 526.35v1.6M107.5 526.35v1.6M108.5 526.35v1.6M109.5 526.35v1.6M110.5 526.35v1.6M111.5 526.35v1.6M116.5 526.35v1.6M122.5 526.35v1.6M123.5 526.35v1.6M124.5 526.35v1.6M126.5 526.35v1.6M127.5 526.35v1.6M129.5 526.35v1.6M132.5 526.35v1.6M135.5 526.35v1.6M136.5 526.35v1.6M138.5 526.35v1.6M140.5 526.35v1.6M141.5 526.35v1.6M142.5 526.35v1.6M145.5 526.35v1.6M152.5 526.35v1.6M156.5 526.35v1.6M157.5 526.35v1.6M158.5 526.35v1.6M164.5 526.35v1.6M165.5 526.35v1.6M173.5 526.35v1.6M215.5 526.35v1.6M25.5 528.84v1.6M28.5 528.84v1.6M36.5 528.84v1.6M37.5 528.84v1.6M39.5 528.84v1.6M43.5 528.84v1.6M44.5 528.84v1.6M50.5 528.84v1.6M53.5 528.84v1.6M57.5 528.84v1.6M58.5 528.84v1.6M60.5 528.84v1.6M68.5 528.84v1.6M69.5 528.84v1.6M77.5 528.84v1.6M79.5 528.84v1.6M83.5 528.84v1.6M101.5 528.84v1.6M102.5 528.84v1.6M105.5 528.84v1.6M107.5 528.84v1.6M113.5 528.84v1.6M115.5 528.84v1.6M116.5 528.84v1.6M118.5 528.84v1.6M119.5 528.84v1.6M120.5 528.84v1.6M124.5 528.84v1.6M125.5 528.84v1.6M126.5 528.84v1.6M127.5 528.84v1.6M128.5 528.84v1.6M129.5 528.84v1.6M130.5 528.84v1.6M135.5 528.84v1.6M136.5 528.84v1.6M138.5 528.84v1.6M139.5 528.84v1.6M140.5 528.84v1.6M142.5 528.84v1.6M143.5 528.84v1.6M146.5 528.84v1.6M147.5 528.84v1.6M148.5 528.84v1.6M150.5 528.84v1.6M154.5 528.84v1.6M155.5 528.84v1.6M156.5 528.84v1.6M162.5 528.84v1.6M166.5 528.84v1.6M167.5 528.84v1.6M181.5 528.84v1.6M182.5 528.84v1.6M193.5 528.84v1.6M195.5 528.84v1.6M201.5 528.84v1.6M203.5 528.84v1.6M204.5 528.84v1.6M206.5 528.84v1.6M208.5 528.84v1.6M209.5 528.84v1.6M214.5 528.84v1.6M217.5 528.84v1.6M221.5 528.84v1.6M29.5 531.33v1.6M34.5 531.33v1.6M36.5 531.33v1.6M39.5 531.33v1.6M44.5 531.33v1.6M48.5 531.33v1.6M56.5 531.33v1.6M66.5 531.33v1.6M68.5 531.33v1.6M81.5 531.33v1.6M98.5 531.33v1.6M107.5 531.33v1.6M108.5 531.33v1.6M110.5 531.33v1.6M111.5 531.33v1.6M114.5 531.33v1.6M115.5 531.33v1.6M118.5 531.33v1.6M120.5 531.33v1.6M121.5 531.33v1.6M124.5 531.33v1.6M131.5 531.33v1.6M141.5 531.33v1.6M142.5 531.33v1.6M143.5 531.33v1.6M144.5 531.33v1.6M145.5 531.33v1.6M150.5 531.33v1.6M153.5 531.33v1.6M157.5 531.33v1.6M159.5 531.33v1.6M162.5 531.33v1.6M167.5 531.33v1.6M179.5 531.33v1.6M182.5 531.33v1.6M183.5 531.33v1.6M186.5 531.33v1.6M193.5 531.33v1.6M202.5 531.33v1.6M206.5 531.33v1.6M214.5 531.33v1.6M219.5 531.33v1.6M222.5 531.33v1.6M223.5 531.33v1.6M28.5 533.82v1.6M42.5 533.82v1.6M45.5 533.82v1.6M54.5 533.82v1.6M61.5 533.82v1.6M65.5 533.82v1.6M66.5 533.82v1.6M71.5 533.82v1.6M73.5 533.82v1.6M76.5 533.82v1.6M85.5 533.82v1.6M87.5 533.82v1.6M94.5 533.82v1.6M99.5 533.82v1.6M102.5 533.82v1.6M111.5 533.82v1.6M116.5 533.82v1.6M121.5 533.82v1.6M122.5 533.82v1.6M124.5 533.82v1.6M125.5 533.82v1.6M126.5 533.82v1.6M127.5 533.82v1.6M128.5 533.82v1.6M129.5 533.82v1.6M132.5 533.82v1.6M133.5 533.82v1.6M135.5 533.82v1.6M138.5 533.82v1.6M139.5 533.82v1.6M140.5 533.82v1.6M141.5 533.82v1.6M143.5 533.82v1.6M144.5 533.82v1.6M146.5 533.82v1.6M148.5 533.82v1.6M149.5 533.82v1.6M150.5 533.82v1.6M151.5 533.82v1.6M157.5 533.82v1.6M159.5 533.82v1.6M166.5 533.82v1.6M171.5 533.82v1.6M191.5 533.82v1.6M195.5 533.82v1.6M199.5 533.82v1.6M201.5 533.82v1.6M204.5 533.82v1.6M217.5 533.82v1.6M34.5 536.31v1.6M39.5 536.31v1.6M47.5 536.31v1.6M48.5 536.31v1.6M54.5 536.31v1.6M57.5 536.31v1.6M62.5 536.31v1.6M63.5 536.31v1.6M70.5 536.31v1.6M81.5 536.31v1.6M82.5 536.31v1.6M91.5 536.31v1.6M92.5 536.31v1.6M102.5 536.31v1.6M104.5 536.31v1.6M108.5 536.31v1.6M110.5 536.31v1.6M111.5 536.31v1.6M112.5 536.31v1.6M114.5 536.31v1.6M116.5 536.31v1.6M117.5 536.31v1.6M121.5 536.31v1.6M123.5 536.31v1.6M125.5 536.31v1.6M126.5 536.31v1.6M128.5 536.31v1.6M129.5 536.31v1.6M130.5 536.31v1.6M132.5 536.31v1.6M133.5 536.31v1.6M134.5 536.31v1.6M135.5 536.31v1.6M136.5 536.31v1.6M137.5 536.31v1.6M138.5 536.31v1.6M139.5 536.31v1.6M141.5 536.31v1.6M144.5 536.31v1.6M145.5 536.31v1.6M147.5 536.31v1.6M150.5 536.31v1.6M151.5 536.31v1.6M153.5 536.31v1.6M156.5 536.31v1.6M157.5 536.31v1.6M158.5 536.31v1.6M160.5 536.31v1.6M162.5 536.31v1.6M175.5 536.31v1.6M186.5 536.31v1.6M197.5 536.31v1.6M202.5 536.31v1.6M209.5 536.31v1.6M214.5 536.31v1.6M215.5 536.31v1.6M223.5 536.31v1.6M27.5 538.8v1.6M36.5 538.8v1.6M37.5 538.8v1.6M44.5 538.8v1.6M45.5 538.8v1.6M54.5 538.8v1.6M59.5 538.8v1.6M61.5 538.8v1.6M62.5 538.8v1.6M80.5 538.8v1.6M82.5 538.8v1.6M90.5 538.8v1.6M101.5 538.8v1.6M104.5 538.8v1.6M105.5 538.8v1.6M106.5 538.8v1.6M108.5 538.8v1.6M117.5 538.8v1.6M118.5 538.8v1.6M119.5 538.8v1.6M121.5 538.8v1.6M122.5 538.8v1.6M123.5 538.8v1.6M124.5 538.8v1.6M126.5 538.8v1.6M127.5 538.8v1.6M130.5 538.8v1.6M131.5 538.8v1.6M132.5 538.8v1.6M133.5 538.8v1.6M134.5 538.8v1.6M135.5 538.8v1.6M137.5 538.8v1.6M139.5 538.8v1.6M141.5 538.8v1.6M144.5 538.8v1.6M147.5 538.8v1.6M148.5 538.8v1.6M149.5 538.8v1.6M150.5 538.8v1.6M151.5 538.8v1.6M152.5 538.8v1.6M153.5 538.8v1.6M154.5 538.8v1.6M155.5 538.8v1.6M156.5 538.8v1.6M157.5 538.8v1.6M158.5 538.8v1.6M161.5 538.8v1.6M165.5 538.8v1.6M178.5 538.8v1.6M182.5 538.8v1.6M196.5 538.8v1.6M197.5 538.8v1.6M206.5 538.8v1.6M212.5 538.8v1.6M213.5 538.8v1.6M215.5 538.8v1.6M216.5 538.8v1.6" stroke="#222" stroke-width="1" fill="none"/>
<path d="M24.1 573.8V569.61H26.3V569.09H28.5V569.3H30.7V568.96H32.9V567.9H35.1V567.62H37.3V567.15H39.5V568.15H41.7V567.42H43.9V568.03H46.1V570.02H48.3V569.7H50.5V569.47H52.7V569.92H54.9V569.39H57.1V567.96H59.3V567.7H61.5V568.73H63.7V568.39H65.9V568.05H68.1V567.91H70.3V568.8H72.5V569.03H74.7V568.48H76.9V568.27H79.1V567.98H81.3V566.04H83.5V565.79H85.7V564.24H87.9V567.09H90.1V563.05H92.3V564.46H94.5V565.07H96.7V565.79H98.9V564.77H101.1V563.76H103.3V563.94H105.5V562.94H107.7V562.63H109.9V563.46H112.1V547.84H114.3V563.67H116.5V559H118.7V557.35H120.9V548H123.1V558.34H125.3V562.62H127.5V560.46H129.7V558.89H131.9V556.17H134.1V558.22H136.3V564.96H138.5V555.88H140.7V555.81H142.9V564.65H145.1V556.78H147.3V555.74H149.5V556.55H151.7V555.55H153.9V562.42H156.1V558.8H158.3V557.24H160.5V556.65H162.7V567.28H164.9V565.88H167.1V567H169.3V568.39H171.5V565.57H173.7V568.25H175.9V569.78H178.1V565.74H180.3V568.44H182.5V566.33H184.7V565.87H186.9V554.8H189.1V566.85H191.3V568.68H193.5V567.76H195.7V568.33H197.9V566.26H200.1V568.73H202.3V568.1H204.5V566.43H206.7V569.73H208.9V566.36H211.1V567.53H213.3V566.91H215.5V566.9H217.7V569.08H219.9V565.86H222.1V567.2H224.3V573.8z" fill="#000"/>
<line x1="23.5" y1="487.8" x2="224.3" y2="487.8" stroke="#000" stroke-width="1" />
<line x1="23.5" y1="487.3" x2="23.5" y2="574.5" stroke="#000" stroke-width="1.2" />
<line x1="22.9" y1="573.8" x2="224.8" y2="573.8" stroke="#000" stroke-width="1.5" />
<line x1="224.3" y1="487.8" x2="224.3" y2="575.8" stroke="#000" stroke-width="1" />
<line x1="23.5" y1="573.8" x2="23.5" y2="575.8" stroke="#000" stroke-width="1" />
<line x1="20.7" y1="489.8" x2="23.5" y2="489.8" stroke="#000" stroke-width="1" />
<line x1="20.7" y1="539.6" x2="23.5" y2="539.6" stroke="#000" stroke-width="1" />
<path d="M98.6 481.6L104.6 481.6L101.6 486.2z" fill="#fff" stroke="#111" stroke-width="0.8"/>
<path d="M109.8 481.6L115.8 481.6L112.8 486.2z" fill="#00a651" stroke="#111" stroke-width="0.8"/>
<path d="M221.2 481.6L227.2 481.6L224.2 486.2z" fill="#000" stroke="#111" stroke-width="0.8"/>
<text x="21.2" y="493.2" font-size="9.5" text-anchor="end" font-weight="normal" fill="#1a1a1a" >21</text>
<text x="21.2" y="543" font-size="9.5" text-anchor="end" font-weight="normal" fill="#1a1a1a" >1</text>
<text transform="translate(5.2,514.5) rotate(-90)" x="0" y="3.32" font-size="9.5" text-anchor="middle" font-weight="normal" fill="#1a1a1a">Cell number</text>
<line x1="49.2" y1="549" x2="49.2" y2="559.6" stroke="#000" stroke-width="1.8" />
<text transform="translate(41.4,553.5) rotate(-90)" x="0" y="2.94" font-size="8.4" text-anchor="middle" font-weight="normal" fill="#1a1a1a">100 Hz</text>
<text x="23.5" y="587.1" font-size="9.5" text-anchor="middle" font-weight="normal" fill="#1a1a1a" >1068</text>
<text x="224.3" y="587.1" font-size="9.5" text-anchor="middle" font-weight="normal" fill="#1a1a1a" >1120</text>
<text x="99.9" y="588.6" font-size="9.5" text-anchor="start" font-weight="normal" fill="#1a1a1a" >Time (sec)</text>
<text x="317.3" y="456.2" font-size="9.5" font-weight="bold"><tspan fill="#ff0000">Red mouse</tspan><tspan fill="#111"> (LH)</tspan></text>
<text x="341.2" y="468.8" font-size="9.5" text-anchor="middle" font-weight="normal" fill="#1a1a1a" >Food provision</text>
<text x="341.2" y="480" font-size="9.5" text-anchor="middle" font-weight="normal" fill="#1a1a1a" >&amp; Green arrival</text>
<text x="457.8" y="468.8" font-size="9.5" text-anchor="middle" font-weight="normal" fill="#1a1a1a" >Trial</text>
<text x="457.8" y="480" font-size="9.5" text-anchor="middle" font-weight="normal" fill="#1a1a1a" >end</text>
<line x1="307.6" y1="489.8" x2="307.6" y2="493.6" stroke="#555" stroke-width="0.7" />
<line x1="307.6" y1="497" x2="307.6" y2="500.6" stroke="#555" stroke-width="0.7" />
<line x1="313" y1="489.8" x2="313" y2="493.6" stroke="#555" stroke-width="0.7" />
<line x1="313" y1="503.8" x2="313" y2="507.4" stroke="#555" stroke-width="0.7" />
<line x1="313" y1="510.6" x2="313" y2="514.2" stroke="#555" stroke-width="0.7" />
<rect x="308.8" y="571" width="1.6" height="3" fill="#000" stroke="none" stroke-width="1" />
<rect x="313.8" y="571" width="1.6" height="3" fill="#000" stroke="none" stroke-width="1" />
<line x1="257.2" y1="487.6" x2="458.4" y2="487.6" stroke="#000" stroke-width="1" />
<line x1="257.2" y1="487.1" x2="257.2" y2="574.7" stroke="#000" stroke-width="1.2" />
<line x1="256.6" y1="574" x2="458.9" y2="574" stroke="#000" stroke-width="1.5" />
<line x1="458.4" y1="487.6" x2="458.4" y2="576" stroke="#000" stroke-width="1" />
<line x1="257.2" y1="574" x2="257.2" y2="576" stroke="#000" stroke-width="1" />
<line x1="254.5" y1="491.3" x2="257.2" y2="491.3" stroke="#000" stroke-width="1" />
<line x1="254.5" y1="513.6" x2="257.2" y2="513.6" stroke="#000" stroke-width="1" />
<path d="M331.4 481.6L337.4 481.6L334.4 486.2z" fill="#fff" stroke="#111" stroke-width="0.8"/>
<path d="M343.6 481.6L349.6 481.6L346.6 486.2z" fill="#00a651" stroke="#111" stroke-width="0.8"/>
<path d="M455.4 481.6L461.4 481.6L458.4 486.2z" fill="#000" stroke="#111" stroke-width="0.8"/>
<text x="254.2" y="494.8" font-size="9.5" text-anchor="end" font-weight="normal" fill="#1a1a1a" >4</text>
<text x="254.2" y="517.8" font-size="9.5" text-anchor="end" font-weight="normal" fill="#1a1a1a" >1</text>
<text transform="translate(242.6,504) rotate(-90)" x="0" y="3.32" font-size="9.5" text-anchor="middle" font-weight="normal" fill="#1a1a1a">Cell number</text>
<line x1="275" y1="545.2" x2="275" y2="555.2" stroke="#000" stroke-width="1.8" />
<text transform="translate(267.4,549.5) rotate(-90)" x="0" y="2.94" font-size="8.4" text-anchor="middle" font-weight="normal" fill="#1a1a1a">10 Hz</text>
<text x="257.2" y="587.6" font-size="9.5" text-anchor="middle" font-weight="normal" fill="#1a1a1a" >1068</text>
<text x="458.4" y="587.6" font-size="9.5" text-anchor="middle" font-weight="normal" fill="#1a1a1a" >1120</text>
<text x="334" y="588.4" font-size="9.5" text-anchor="start" font-weight="normal" fill="#1a1a1a" >Time (sec)</text>
<rect x="475.2" y="291.4" width="103.4" height="296.2" fill="url(#phbg)" stroke="none" stroke-width="1" />
<rect x="483.2" y="314.4" width="86.4" height="267.2" fill="url(#phfl)" stroke="none" stroke-width="1" filter="url(#bl1)"/>
<line x1="484.7" y1="315.4" x2="484.7" y2="580.6" stroke="#7a6838" stroke-width="0.7" opacity="0.35"/>
<line x1="568.6" y1="315.4" x2="568.6" y2="580.6" stroke="#7a6838" stroke-width="0.7" opacity="0.35"/>
<ellipse cx="532.07" cy="301.4" rx="41.36" ry="12" fill="url(#glow)" opacity="0.3"/>
<path d="M479.2 294.4L498.2 294.4L496.2 313.4L485.2 313.4z" fill="#7a7a48" filter="url(#bl1)"/>
<path d="M481.2 295.4L497.2 295.4L496.2 301.4L484.2 301.4z" fill="#2a1e12" filter="url(#bl1)"/>
<rect x="485.2" y="301.9" width="4.2" height="2" fill="#4f7040" stroke="none" stroke-width="1" opacity="0.9"/>
<rect x="490.7" y="301.9" width="4.2" height="2" fill="#4f7040" stroke="none" stroke-width="1" opacity="0.9"/>
<rect x="485.2" y="304.8" width="4.2" height="2" fill="#4f7040" stroke="none" stroke-width="1" opacity="0.9"/>
<rect x="490.7" y="304.8" width="4.2" height="2" fill="#4f7040" stroke="none" stroke-width="1" opacity="0.9"/>
<rect x="485.2" y="307.7" width="4.2" height="2" fill="#4f7040" stroke="none" stroke-width="1" opacity="0.9"/>
<rect x="490.7" y="307.7" width="4.2" height="2" fill="#4f7040" stroke="none" stroke-width="1" opacity="0.9"/>
<rect x="485.2" y="310.6" width="4.2" height="2" fill="#4f7040" stroke="none" stroke-width="1" opacity="0.9"/>
<rect x="490.7" y="310.6" width="4.2" height="2" fill="#4f7040" stroke="none" stroke-width="1" opacity="0.9"/>
<rect x="580.4" y="291.4" width="103.4" height="296.2" fill="url(#phbg)" stroke="none" stroke-width="1" />
<rect x="588.4" y="314.4" width="86.4" height="267.2" fill="url(#phfl)" stroke="none" stroke-width="1" filter="url(#bl1)"/>
<line x1="589.9" y1="315.4" x2="589.9" y2="580.6" stroke="#7a6838" stroke-width="0.7" opacity="0.35"/>
<line x1="673.8" y1="315.4" x2="673.8" y2="580.6" stroke="#7a6838" stroke-width="0.7" opacity="0.35"/>
<ellipse cx="637.27" cy="301.4" rx="41.36" ry="12" fill="url(#glow)" opacity="0.3"/>
<path d="M584.4 294.4L603.4 294.4L601.4 313.4L590.4 313.4z" fill="#7a7a48" filter="url(#bl1)"/>
<path d="M586.4 295.4L602.4 295.4L601.4 301.4L589.4 301.4z" fill="#2a1e12" filter="url(#bl1)"/>
<rect x="590.4" y="301.9" width="4.2" height="2" fill="#4f7040" stroke="none" stroke-width="1" opacity="0.9"/>
<rect x="595.9" y="301.9" width="4.2" height="2" fill="#4f7040" stroke="none" stroke-width="1" opacity="0.9"/>
<rect x="590.4" y="304.8" width="4.2" height="2" fill="#4f7040" stroke="none" stroke-width="1" opacity="0.9"/>
<rect x="595.9" y="304.8" width="4.2" height="2" fill="#4f7040" stroke="none" stroke-width="1" opacity="0.9"/>
<rect x="590.4" y="307.7" width="4.2" height="2" fill="#4f7040" stroke="none" stroke-width="1" opacity="0.9"/>
<rect x="595.9" y="307.7" width="4.2" height="2" fill="#4f7040" stroke="none" stroke-width="1" opacity="0.9"/>
<rect x="590.4" y="310.6" width="4.2" height="2" fill="#4f7040" stroke="none" stroke-width="1" opacity="0.9"/>
<rect x="595.9" y="310.6" width="4.2" height="2" fill="#4f7040" stroke="none" stroke-width="1" opacity="0.9"/>
<path d="M556 322 C566 330 566 350 561 368" stroke="#1e1712" stroke-width="1.3" fill="none" stroke-linecap="round" opacity="0.9"/>
<ellipse cx="547" cy="328" rx="11.5" ry="15" fill="#1e1712" transform="rotate(-10 547 328)" filter="url(#bl1)" />
<ellipse cx="537" cy="339" rx="7" ry="6" fill="#1e1712" transform="rotate(30 537 339)" filter="url(#bl1)" />
<rect x="525" y="325" width="10" height="10" fill="#2a2a22" stroke="none" stroke-width="1" rx="2" filter="url(#bl1)"/>
<ellipse cx="519" cy="325" rx="5" ry="4" fill="#d8d0b0" opacity="0.6" filter="url(#bl1)"/>
<rect x="526" y="334" width="8" height="4" fill="#e8e0c8" stroke="none" stroke-width="1" opacity="0.8" filter="url(#bl1)"/>
<circle cx="530" cy="329.5" r="9" fill="url(#glow)"/>
<circle cx="530" cy="329.8" r="5" fill="url(#ledg)"/>
<path d="M531 402 C529 420 526 440 522 458" stroke="#1e1712" stroke-width="1.3" fill="none" stroke-linecap="round" opacity="0.9"/>
<ellipse cx="533" cy="383" rx="12.5" ry="22" fill="#1e1712" transform="rotate(0 533 383)" filter="url(#bl1)" />
<ellipse cx="533" cy="364" rx="6.5" ry="8" fill="#1e1712" transform="rotate(0 533 364)" filter="url(#bl1)" />
<path d="M537 360 C545 352 552 352 553 356" stroke="#1e1712" stroke-width="1.2" fill="none" stroke-linecap="round" opacity="0.9"/>
<circle cx="531.5" cy="358.2" r="4.5" fill="url(#ledr)"/>
<path d="M606 366 C600 380 597 398 594 413" stroke="#1e1712" stroke-width="1.3" fill="none" stroke-linecap="round" opacity="0.9"/>
<ellipse cx="613" cy="354" rx="14" ry="18" fill="#1e1712" transform="rotate(30 613 354)" filter="url(#bl1)" />
<ellipse cx="626" cy="345" rx="7" ry="6" fill="#1e1712" transform="rotate(-20 626 345)" filter="url(#bl1)" />
<rect x="630" y="338" width="11" height="9" fill="#2a2a22" stroke="none" stroke-width="1" rx="2" filter="url(#bl1)"/>
<rect x="624" y="343" width="6" height="6" fill="#e0dccc" stroke="none" stroke-width="1" opacity="0.7" filter="url(#bl1)"/>
<ellipse cx="644" cy="351" rx="4" ry="5" fill="none" stroke="#3a3020" stroke-width="1"/>
<ellipse cx="648" cy="340" rx="3" ry="2" fill="#d8c890" opacity="0.7"/>
<circle cx="641" cy="334.8" r="9" fill="url(#glow)"/>
<circle cx="641" cy="334.8" r="5" fill="url(#ledg)"/>
<path d="M661 498 C654 482 650 462 648 444" stroke="#1e1712" stroke-width="1.3" fill="none" stroke-linecap="round" opacity="0.9"/>
<ellipse cx="667" cy="519" rx="12" ry="22" fill="#1e1712" transform="rotate(-12 667 519)" filter="url(#bl1)" />
<ellipse cx="659" cy="540" rx="8.5" ry="9.5" fill="#1e1712" transform="rotate(30 659 540)" filter="url(#bl1)" />
<path d="M652 544 C646 548 641 546 640 541" stroke="#1e1712" stroke-width="1.1" fill="none" stroke-linecap="round" opacity="0.9"/>
<circle cx="652.3" cy="550.5" r="4.5" fill="url(#ledr)"/>
<rect x="475.2" y="291.4" width="103.4" height="296.2" fill="none" stroke="#111" stroke-width="1.1" />
<rect x="580.4" y="291.4" width="103.4" height="296.2" fill="none" stroke="#111" stroke-width="1.1" />
<text x="526.9" y="580.6" font-size="9.5" text-anchor="middle" font-weight="normal" fill="#f4f0e8" >185 sec</text>
<text x="632.8" y="580.6" font-size="9.5" text-anchor="middle" font-weight="normal" fill="#f4f0e8" >1,100 sec</text>
<text x="472.3" y="273.8" font-size="12.5" text-anchor="start" font-weight="bold" fill="#000" >d</text>
<text x="526.9" y="276.8" font-size="9.5" text-anchor="middle" font-weight="normal" fill="#1a1a1a" >Before</text>
<text x="526.9" y="288" font-size="9.5" text-anchor="middle" font-weight="normal" fill="#1a1a1a" >Muscimol injection</text>
<text x="632" y="276.8" font-size="9.5" text-anchor="middle" font-weight="normal" fill="#1a1a1a" >After</text>
<text x="632" y="288" font-size="9.5" text-anchor="middle" font-weight="normal" fill="#1a1a1a" >Muscimol injection</text>
<text x="1" y="605.6" font-size="12.5" text-anchor="start" font-weight="bold" fill="#000" >e</text>
<text x="15" y="615.6" font-size="9.5" text-anchor="start" font-weight="bold" fill="#111" >Before and during muscimol injection</text>
<line x1="29.8" y1="620.4" x2="172" y2="620.4" stroke="#000" stroke-width="1.6" />
<path d="M48.4 670.6L48.4 625A45.6 45.6 0 0 1 48.4 716.2z" fill="#ff0000" stroke="#222" stroke-width="0.8" stroke-linejoin="round"/>
<path d="M48.4 670.6L48.4 716.2A45.6 45.6 0 0 1 25.6 631.11z" fill="#00b050" stroke="#222" stroke-width="0.8" stroke-linejoin="round"/>
<path d="M48.4 670.6L25.6 631.11A45.6 45.6 0 0 1 48.4 625z" fill="#ffffff" stroke="#222" stroke-width="0.8" stroke-linejoin="round"/>
<path d="M157.4 670.6L157.4 625A45.6 45.6 0 1 1 122.93 700.46z" fill="#ed7d31" stroke="#222" stroke-width="0.8" stroke-linejoin="round"/>
<path d="M157.4 670.6L122.93 700.46A45.6 45.6 0 0 1 157.4 625z" fill="#f8cbad" stroke="#222" stroke-width="0.8" stroke-linejoin="round"/>
<text x="39.4" y="643" font-size="9.5" text-anchor="middle" font-weight="normal" fill="#1a1a1a" >Pass</text>
<text x="39.4" y="654.6" font-size="9.5" text-anchor="middle" font-weight="normal" fill="#1a1a1a" >(4/48)</text>
<text x="70.8" y="666.4" font-size="9.5" text-anchor="middle" font-weight="normal" fill="#1a1a1a" >Red</text>
<text x="70.8" y="678" font-size="9.5" text-anchor="middle" font-weight="normal" fill="#1a1a1a" >(24/48)</text>
<text x="24.2" y="676" font-size="9.5" text-anchor="middle" font-weight="normal" fill="#1a1a1a" >Green</text>
<text x="24.2" y="687.6" font-size="9.5" text-anchor="middle" font-weight="normal" fill="#1a1a1a" >(20/48)</text>
<text x="137.2" y="652" font-size="9.5" text-anchor="middle" font-weight="normal" fill="#1a1a1a" >Non-</text>
<text x="137.2" y="663.6" font-size="9.5" text-anchor="middle" font-weight="normal" fill="#1a1a1a" >competition</text>
<text x="138" y="675.2" font-size="9.5" text-anchor="middle" font-weight="normal" fill="#1a1a1a" >(16/44)</text>
<text x="171.4" y="686" font-size="9.5" text-anchor="middle" font-weight="normal" fill="#1a1a1a" >Competition</text>
<text x="171.4" y="697.6" font-size="9.5" text-anchor="middle" font-weight="normal" fill="#1a1a1a" >(28/44)</text>
<text x="44.9" y="728" font-size="9.5" text-anchor="start" font-weight="bold" fill="#111" >After muscimol injection</text>
<line x1="29.8" y1="731.9" x2="172" y2="731.9" stroke="#000" stroke-width="1.6" />
<path d="M48.4 781.6L48.4 736A45.6 45.6 0 1 1 4.35 769.8z" fill="#00b050" stroke="#222" stroke-width="0.8" stroke-linejoin="round"/>
<path d="M48.4 781.6L4.35 769.8A45.6 45.6 0 0 1 48.4 736z" fill="#ffffff" stroke="#222" stroke-width="0.8" stroke-linejoin="round"/>
<circle cx="157.4" cy="781.6" r="45.6" fill="#f8cbad" stroke="#222" stroke-width="0.8"/>
<text x="30.2" y="759" font-size="9.5" text-anchor="middle" font-weight="normal" fill="#1a1a1a" >Pass</text>
<text x="30.2" y="770.6" font-size="9.5" text-anchor="middle" font-weight="normal" fill="#1a1a1a" >(15/72)</text>
<text x="66.6" y="791" font-size="9.5" text-anchor="middle" font-weight="normal" fill="#1a1a1a" >Green</text>
<text x="66.6" y="802.6" font-size="9.5" text-anchor="middle" font-weight="normal" fill="#1a1a1a" >(57/72)</text>
<text x="157.4" y="773" font-size="9.5" text-anchor="middle" font-weight="normal" fill="#1a1a1a" >Non-</text>
<text x="157.4" y="784.6" font-size="9.5" text-anchor="middle" font-weight="normal" fill="#1a1a1a" >competition</text>
<text x="157.4" y="796.2" font-size="9.5" text-anchor="middle" font-weight="normal" fill="#1a1a1a" >(57/57)</text>
<line x1="239.6" y1="785.3" x2="359.2" y2="785.3" stroke="#111" stroke-width="1" stroke-dasharray="2.2 1.8"/>
<line x1="239.6" y1="745.4" x2="359.2" y2="745.4" stroke="#111" stroke-width="1" stroke-dasharray="2.2 1.8"/>
<line x1="239.6" y1="705.5" x2="359.2" y2="705.5" stroke="#111" stroke-width="1" stroke-dasharray="2.2 1.8"/>
<line x1="239.6" y1="665.6" x2="359.2" y2="665.6" stroke="#111" stroke-width="1" stroke-dasharray="2.2 1.8"/>
<text x="215" y="606" font-size="12.5" text-anchor="start" font-weight="bold" fill="#000" >f</text>
<text x="299.5" y="620" font-size="9.5" text-anchor="middle" font-weight="normal" fill="#1a1a1a" >LH neurons</text>
<rect x="239.6" y="625.2" width="119.6" height="163.4" fill="none" stroke="#111" stroke-width="1.1"/>
<line x1="233.8" y1="785.3" x2="239.6" y2="785.3" stroke="#000" stroke-width="1.1" />
<text x="232" y="788.7" font-size="9.5" text-anchor="end" font-weight="normal" fill="#1a1a1a" >0</text>
<line x1="233.8" y1="745.4" x2="239.6" y2="745.4" stroke="#000" stroke-width="1.1" />
<text x="232" y="748.8" font-size="9.5" text-anchor="end" font-weight="normal" fill="#1a1a1a" >5</text>
<line x1="233.8" y1="705.5" x2="239.6" y2="705.5" stroke="#000" stroke-width="1.1" />
<text x="232" y="708.9" font-size="9.5" text-anchor="end" font-weight="normal" fill="#1a1a1a" >10</text>
<line x1="233.8" y1="665.6" x2="239.6" y2="665.6" stroke="#000" stroke-width="1.1" />
<text x="232" y="669" font-size="9.5" text-anchor="end" font-weight="normal" fill="#1a1a1a" >15</text>
<line x1="233.8" y1="625.7" x2="239.6" y2="625.7" stroke="#000" stroke-width="1.1" />
<text x="232" y="629.1" font-size="9.5" text-anchor="end" font-weight="normal" fill="#1a1a1a" >20</text>
<text transform="translate(214.2,706.5) rotate(-90)" x="0" y="3.32" font-size="9.5" text-anchor="middle" font-weight="normal" fill="#1a1a1a">Mean FR (Hz)</text>
<path d="M259.4 652.03L279.4 660.81M259.4 678.37L279.4 682.36M259.4 694.33L279.4 748.59M259.4 711.09L279.4 715.87M259.4 723.06L279.4 745.4M259.4 735.03L279.4 722.26M259.4 738.22L279.4 755.77M259.4 741.41L279.4 719.86M259.4 745.4L279.4 739.02M259.4 747.79L279.4 751.78M259.4 756.57L279.4 762.16M259.4 759.76L279.4 758.97M259.4 762.96L279.4 741.41M259.4 765.35L279.4 768.54M259.4 767.74L279.4 765.35M259.4 770.94L279.4 771.73M259.4 772.53L279.4 774.93M259.4 774.93L279.4 775.72" stroke="#333" stroke-width="0.5" fill="none"/>
<circle cx="259.4" cy="652.03" r="2.3" fill="#559ffd"/>
<circle cx="259.4" cy="678.37" r="2.3" fill="#559ffd"/>
<circle cx="259.4" cy="694.33" r="2.3" fill="#559ffd"/>
<circle cx="259.4" cy="711.09" r="2.3" fill="#559ffd"/>
<circle cx="259.4" cy="723.06" r="2.3" fill="#559ffd"/>
<circle cx="259.4" cy="735.03" r="2.3" fill="#559ffd"/>
<circle cx="259.4" cy="738.22" r="2.3" fill="#559ffd"/>
<circle cx="259.4" cy="741.41" r="2.3" fill="#559ffd"/>
<circle cx="259.4" cy="745.4" r="2.3" fill="#559ffd"/>
<circle cx="259.4" cy="747.79" r="2.3" fill="#559ffd"/>
<circle cx="259.4" cy="756.57" r="2.3" fill="#559ffd"/>
<circle cx="259.4" cy="759.76" r="2.3" fill="#559ffd"/>
<circle cx="259.4" cy="762.96" r="2.3" fill="#559ffd"/>
<circle cx="259.4" cy="765.35" r="2.3" fill="#559ffd"/>
<circle cx="259.4" cy="767.74" r="2.3" fill="#559ffd"/>
<circle cx="259.4" cy="770.94" r="2.3" fill="#559ffd"/>
<circle cx="259.4" cy="772.53" r="2.3" fill="#559ffd"/>
<circle cx="259.4" cy="774.93" r="2.3" fill="#559ffd"/>
<circle cx="279.4" cy="660.81" r="2.3" fill="#f74344"/>
<circle cx="279.4" cy="682.36" r="2.3" fill="#f74344"/>
<circle cx="279.4" cy="748.59" r="2.3" fill="#f74344"/>
<circle cx="279.4" cy="715.87" r="2.3" fill="#f74344"/>
<circle cx="279.4" cy="745.4" r="2.3" fill="#f74344"/>
<circle cx="279.4" cy="722.26" r="2.3" fill="#f74344"/>
<circle cx="279.4" cy="755.77" r="2.3" fill="#f74344"/>
<circle cx="279.4" cy="719.86" r="2.3" fill="#f74344"/>
<circle cx="279.4" cy="739.02" r="2.3" fill="#f74344"/>
<circle cx="279.4" cy="751.78" r="2.3" fill="#f74344"/>
<circle cx="279.4" cy="762.16" r="2.3" fill="#f74344"/>
<circle cx="279.4" cy="758.97" r="2.3" fill="#f74344"/>
<circle cx="279.4" cy="741.41" r="2.3" fill="#f74344"/>
<circle cx="279.4" cy="768.54" r="2.3" fill="#f74344"/>
<circle cx="279.4" cy="765.35" r="2.3" fill="#f74344"/>
<circle cx="279.4" cy="771.73" r="2.3" fill="#f74344"/>
<circle cx="279.4" cy="774.93" r="2.3" fill="#f74344"/>
<circle cx="279.4" cy="775.72" r="2.3" fill="#f74344"/>
<line x1="259.4" y1="775.72" x2="259.4" y2="705.5" stroke="#111" stroke-width="1.1" />
<line x1="255.2" y1="775.72" x2="263.6" y2="775.72" stroke="#111" stroke-width="1.1" />
<line x1="255.2" y1="705.5" x2="263.6" y2="705.5" stroke="#111" stroke-width="1.1" />
<line x1="249.9" y1="740.61" x2="268.9" y2="740.61" stroke="#111" stroke-width="1.8" />
<line x1="279.4" y1="776.52" x2="279.4" y2="713.88" stroke="#111" stroke-width="1.1" />
<line x1="275.2" y1="776.52" x2="283.6" y2="776.52" stroke="#111" stroke-width="1.1" />
<line x1="275.2" y1="713.88" x2="283.6" y2="713.88" stroke="#111" stroke-width="1.1" />
<line x1="269.9" y1="745.4" x2="288.9" y2="745.4" stroke="#111" stroke-width="1.8" />
<path d="M319.5 745.4L339.3 759.76M319.5 770.94L339.3 774.93M319.5 772.53L339.3 775.72M319.5 774.13L339.3 776.52M319.5 775.72L339.3 778.12M319.5 777.32L339.3 778.92M319.5 778.92L339.3 780.51M319.5 779.71L339.3 781.31M319.5 781.31L339.3 782.11M319.5 782.11L339.3 782.91M319.5 782.91L339.3 783.7M319.5 783.7L339.3 784.5M319.5 784.5L339.3 784.5M319.5 785.3L339.3 785.3M319.5 785.3L339.3 785.3" stroke="#333" stroke-width="0.5" fill="none"/>
<circle cx="319.5" cy="745.4" r="2.3" fill="#559ffd"/>
<circle cx="319.5" cy="770.94" r="2.3" fill="#559ffd"/>
<circle cx="319.5" cy="772.53" r="2.3" fill="#559ffd"/>
<circle cx="319.5" cy="774.13" r="2.3" fill="#559ffd"/>
<circle cx="319.5" cy="775.72" r="2.3" fill="#559ffd"/>
<circle cx="319.5" cy="777.32" r="2.3" fill="#559ffd"/>
<circle cx="319.5" cy="778.92" r="2.3" fill="#559ffd"/>
<circle cx="319.5" cy="779.71" r="2.3" fill="#559ffd"/>
<circle cx="319.5" cy="781.31" r="2.3" fill="#559ffd"/>
<circle cx="319.5" cy="782.11" r="2.3" fill="#559ffd"/>
<circle cx="319.5" cy="782.91" r="2.3" fill="#559ffd"/>
<circle cx="319.5" cy="783.7" r="2.3" fill="#559ffd"/>
<circle cx="319.5" cy="784.5" r="2.3" fill="#559ffd"/>
<circle cx="319.5" cy="785.3" r="2.3" fill="#559ffd"/>
<circle cx="319.5" cy="785.3" r="2.3" fill="#559ffd"/>
<circle cx="339.3" cy="759.76" r="2.3" fill="#f74344"/>
<circle cx="339.3" cy="774.93" r="2.3" fill="#f74344"/>
<circle cx="339.3" cy="775.72" r="2.3" fill="#f74344"/>
<circle cx="339.3" cy="776.52" r="2.3" fill="#f74344"/>
<circle cx="339.3" cy="778.12" r="2.3" fill="#f74344"/>
<circle cx="339.3" cy="778.92" r="2.3" fill="#f74344"/>
<circle cx="339.3" cy="780.51" r="2.3" fill="#f74344"/>
<circle cx="339.3" cy="781.31" r="2.3" fill="#f74344"/>
<circle cx="339.3" cy="782.11" r="2.3" fill="#f74344"/>
<circle cx="339.3" cy="782.91" r="2.3" fill="#f74344"/>
<circle cx="339.3" cy="783.7" r="2.3" fill="#f74344"/>
<circle cx="339.3" cy="784.5" r="2.3" fill="#f74344"/>
<circle cx="339.3" cy="784.5" r="2.3" fill="#f74344"/>
<circle cx="339.3" cy="785.3" r="2.3" fill="#f74344"/>
<circle cx="339.3" cy="785.3" r="2.3" fill="#f74344"/>
<line x1="319.5" y1="786.1" x2="319.5" y2="769.74" stroke="#111" stroke-width="1.1" />
<line x1="315.3" y1="786.1" x2="323.7" y2="786.1" stroke="#111" stroke-width="1.1" />
<line x1="315.3" y1="769.74" x2="323.7" y2="769.74" stroke="#111" stroke-width="1.1" />
<line x1="310" y1="778.12" x2="329" y2="778.12" stroke="#111" stroke-width="1.8" />
<line x1="339.3" y1="785.3" x2="339.3" y2="774.53" stroke="#111" stroke-width="1.1" />
<line x1="335.1" y1="785.3" x2="343.5" y2="785.3" stroke="#111" stroke-width="1.1" />
<line x1="335.1" y1="774.53" x2="343.5" y2="774.53" stroke="#111" stroke-width="1.1" />
<line x1="329.8" y1="780.75" x2="348.8" y2="780.75" stroke="#111" stroke-width="1.8" />
<circle cx="244.5" cy="632.7" r="2.9" fill="#559ffd"/>
<text x="249.7" y="635.3" font-size="8.5" text-anchor="start" font-weight="normal" fill="#1a1a1a" >Before</text>
<circle cx="279.8" cy="632.7" r="2.9" fill="#f74344"/>
<text x="285.1" y="635.3" font-size="8.5" text-anchor="start" font-weight="normal" fill="#1a1a1a" >After providing food</text>
<line x1="259.2" y1="647.3" x2="279.2" y2="647.3" stroke="#000" stroke-width="1.4" />
<text x="269.2" y="644.2" font-size="9.5" text-anchor="middle" font-weight="normal" fill="#1a1a1a" >ns</text>
<line x1="319.8" y1="652.6" x2="339.4" y2="652.6" stroke="#000" stroke-width="1.4" />
<text x="329.6" y="649.6" font-size="9.5" text-anchor="middle" font-weight="normal" fill="#1a1a1a" >ns</text>
<line x1="269.6" y1="788.6" x2="269.6" y2="794.1" stroke="#000" stroke-width="1.1" />
<text x="269.6" y="804.8" font-size="9.5" text-anchor="middle" font-weight="normal" fill="#1a1a1a" >Before</text>
<text x="269.6" y="816.4" font-size="9.5" text-anchor="middle" font-weight="normal" fill="#1a1a1a" >injection</text>
<line x1="329.6" y1="788.6" x2="329.6" y2="794.1" stroke="#000" stroke-width="1.1" />
<text x="329.6" y="804.8" font-size="9.5" text-anchor="middle" font-weight="normal" fill="#1a1a1a" >After</text>
<text x="329.6" y="816.4" font-size="9.5" text-anchor="middle" font-weight="normal" fill="#1a1a1a" >injection</text>
<line x1="401.6" y1="785.3" x2="521.6" y2="785.3" stroke="#111" stroke-width="1" stroke-dasharray="2.2 1.8"/>
<line x1="401.6" y1="745.4" x2="521.6" y2="745.4" stroke="#111" stroke-width="1" stroke-dasharray="2.2 1.8"/>
<line x1="401.6" y1="705.5" x2="521.6" y2="705.5" stroke="#111" stroke-width="1" stroke-dasharray="2.2 1.8"/>
<line x1="401.6" y1="665.6" x2="521.6" y2="665.6" stroke="#111" stroke-width="1" stroke-dasharray="2.2 1.8"/>
<text x="374" y="606" font-size="12.5" text-anchor="start" font-weight="bold" fill="#000" >g</text>
<text x="462" y="620" font-size="9.5" text-anchor="middle" font-weight="normal" fill="#1a1a1a" >mPFC neurons</text>
<rect x="401.6" y="625.2" width="120" height="163.4" fill="none" stroke="#111" stroke-width="1.1"/>
<line x1="395.8" y1="785.3" x2="401.6" y2="785.3" stroke="#000" stroke-width="1.1" />
<text x="394" y="788.7" font-size="9.5" text-anchor="end" font-weight="normal" fill="#1a1a1a" >0</text>
<line x1="395.8" y1="745.4" x2="401.6" y2="745.4" stroke="#000" stroke-width="1.1" />
<text x="394" y="748.8" font-size="9.5" text-anchor="end" font-weight="normal" fill="#1a1a1a" >5</text>
<line x1="395.8" y1="705.5" x2="401.6" y2="705.5" stroke="#000" stroke-width="1.1" />
<text x="394" y="708.9" font-size="9.5" text-anchor="end" font-weight="normal" fill="#1a1a1a" >10</text>
<line x1="395.8" y1="665.6" x2="401.6" y2="665.6" stroke="#000" stroke-width="1.1" />
<text x="394" y="669" font-size="9.5" text-anchor="end" font-weight="normal" fill="#1a1a1a" >15</text>
<line x1="395.8" y1="625.7" x2="401.6" y2="625.7" stroke="#000" stroke-width="1.1" />
<text x="394" y="629.1" font-size="9.5" text-anchor="end" font-weight="normal" fill="#1a1a1a" >20</text>
<text transform="translate(376.2,706.5) rotate(-90)" x="0" y="3.32" font-size="9.5" text-anchor="middle" font-weight="normal" fill="#1a1a1a">Mean FR (Hz)</text>
<path d="M421.3 723.06L441.3 683.95M421.3 724.65L441.3 712.23M421.3 734.23L441.3 656.82M421.3 741.41L441.3 712.86M421.3 743.01L441.3 708.59M421.3 747L441.3 700.71M421.3 750.19L441.3 707.35M421.3 774.56L441.3 735.48M421.3 763.99L441.3 713.97M421.3 762.46L441.3 716.63M421.3 769.06L441.3 716.88M421.3 764.04L441.3 719.92M421.3 758.8L441.3 708.19M421.3 784.8L441.3 744.74M421.3 771.92L441.3 734.3M421.3 758.2L441.3 690.34M421.3 774.11L441.3 740.94M421.3 759.42L441.3 716.94M421.3 782.05L441.3 745.84M421.3 777.21L441.3 744.02M421.3 778.22L441.3 735.85M421.3 769.68L441.3 728.26M421.3 775.41L441.3 733.1M421.3 784.92L441.3 748.21M421.3 779.07L441.3 741.57M421.3 780.48L441.3 742.43M421.3 758.98L441.3 714.87M421.3 763.3L441.3 715.28M421.3 782.55L441.3 747.04M421.3 762.4L441.3 726.4M421.3 781.31L441.3 746.18M421.3 774.66L441.3 740.28M421.3 781.66L441.3 748.45M421.3 785.25L441.3 763.75M421.3 770.28L441.3 724.12M421.3 779.28L441.3 754.98M421.3 779.11L441.3 747.62M421.3 768.37L441.3 723.08M421.3 760.24L441.3 708.75M421.3 776.99L441.3 733.59M421.3 768.73L441.3 734.03M421.3 769.81L441.3 734.18M421.3 765.83L441.3 718.79M421.3 781.77L441.3 746.62M421.3 758.27L441.3 682.36M421.3 765.46L441.3 728.24M421.3 768.64L441.3 715.79M421.3 759.62L441.3 709.27M421.3 776.72L441.3 735.24M421.3 779.07L441.3 747.83" stroke="#222" stroke-width="0.5" fill="none"/>
<circle cx="421.3" cy="723.06" r="2.3" fill="#559ffd"/>
<circle cx="421.3" cy="724.65" r="2.3" fill="#559ffd"/>
<circle cx="421.3" cy="734.23" r="2.3" fill="#559ffd"/>
<circle cx="421.3" cy="741.41" r="2.3" fill="#559ffd"/>
<circle cx="421.3" cy="743.01" r="2.3" fill="#559ffd"/>
<circle cx="421.3" cy="747" r="2.3" fill="#559ffd"/>
<circle cx="421.3" cy="750.19" r="2.3" fill="#559ffd"/>
<circle cx="421.3" cy="774.56" r="2.3" fill="#559ffd"/>
<circle cx="421.3" cy="763.99" r="2.3" fill="#559ffd"/>
<circle cx="421.3" cy="762.46" r="2.3" fill="#559ffd"/>
<circle cx="421.3" cy="769.06" r="2.3" fill="#559ffd"/>
<circle cx="421.3" cy="764.04" r="2.3" fill="#559ffd"/>
<circle cx="421.3" cy="758.8" r="2.3" fill="#559ffd"/>
<circle cx="421.3" cy="784.8" r="2.3" fill="#559ffd"/>
<circle cx="421.3" cy="771.92" r="2.3" fill="#559ffd"/>
<circle cx="421.3" cy="758.2" r="2.3" fill="#559ffd"/>
<circle cx="421.3" cy="774.11" r="2.3" fill="#559ffd"/>
<circle cx="421.3" cy="759.42" r="2.3" fill="#559ffd"/>
<circle cx="421.3" cy="782.05" r="2.3" fill="#559ffd"/>
<circle cx="421.3" cy="777.21" r="2.3" fill="#559ffd"/>
<circle cx="421.3" cy="778.22" r="2.3" fill="#559ffd"/>
<circle cx="421.3" cy="769.68" r="2.3" fill="#559ffd"/>
<circle cx="421.3" cy="775.41" r="2.3" fill="#559ffd"/>
<circle cx="421.3" cy="784.92" r="2.3" fill="#559ffd"/>
<circle cx="421.3" cy="779.07" r="2.3" fill="#559ffd"/>
<circle cx="421.3" cy="780.48" r="2.3" fill="#559ffd"/>
<circle cx="421.3" cy="758.98" r="2.3" fill="#559ffd"/>
<circle cx="421.3" cy="763.3" r="2.3" fill="#559ffd"/>
<circle cx="421.3" cy="782.55" r="2.3" fill="#559ffd"/>
<circle cx="421.3" cy="762.4" r="2.3" fill="#559ffd"/>
<circle cx="421.3" cy="781.31" r="2.3" fill="#559ffd"/>
<circle cx="421.3" cy="774.66" r="2.3" fill="#559ffd"/>
<circle cx="421.3" cy="781.66" r="2.3" fill="#559ffd"/>
<circle cx="421.3" cy="785.25" r="2.3" fill="#559ffd"/>
<circle cx="421.3" cy="770.28" r="2.3" fill="#559ffd"/>
<circle cx="421.3" cy="779.28" r="2.3" fill="#559ffd"/>
<circle cx="421.3" cy="779.11" r="2.3" fill="#559ffd"/>
<circle cx="421.3" cy="768.37" r="2.3" fill="#559ffd"/>
<circle cx="421.3" cy="760.24" r="2.3" fill="#559ffd"/>
<circle cx="421.3" cy="776.99" r="2.3" fill="#559ffd"/>
<circle cx="421.3" cy="768.73" r="2.3" fill="#559ffd"/>
<circle cx="421.3" cy="769.81" r="2.3" fill="#559ffd"/>
<circle cx="421.3" cy="765.83" r="2.3" fill="#559ffd"/>
<circle cx="421.3" cy="781.77" r="2.3" fill="#559ffd"/>
<circle cx="421.3" cy="758.27" r="2.3" fill="#559ffd"/>
<circle cx="421.3" cy="765.46" r="2.3" fill="#559ffd"/>
<circle cx="421.3" cy="768.64" r="2.3" fill="#559ffd"/>
<circle cx="421.3" cy="759.62" r="2.3" fill="#559ffd"/>
<circle cx="421.3" cy="776.72" r="2.3" fill="#559ffd"/>
<circle cx="421.3" cy="779.07" r="2.3" fill="#559ffd"/>
<circle cx="441.3" cy="683.95" r="2.3" fill="#f74344"/>
<circle cx="441.3" cy="712.23" r="2.3" fill="#f74344"/>
<circle cx="441.3" cy="656.82" r="2.3" fill="#f74344"/>
<circle cx="441.3" cy="712.86" r="2.3" fill="#f74344"/>
<circle cx="441.3" cy="708.59" r="2.3" fill="#f74344"/>
<circle cx="441.3" cy="700.71" r="2.3" fill="#f74344"/>
<circle cx="441.3" cy="707.35" r="2.3" fill="#f74344"/>
<circle cx="441.3" cy="735.48" r="2.3" fill="#f74344"/>
<circle cx="441.3" cy="713.97" r="2.3" fill="#f74344"/>
<circle cx="441.3" cy="716.63" r="2.3" fill="#f74344"/>
<circle cx="441.3" cy="716.88" r="2.3" fill="#f74344"/>
<circle cx="441.3" cy="719.92" r="2.3" fill="#f74344"/>
<circle cx="441.3" cy="708.19" r="2.3" fill="#f74344"/>
<circle cx="441.3" cy="744.74" r="2.3" fill="#f74344"/>
<circle cx="441.3" cy="734.3" r="2.3" fill="#f74344"/>
<circle cx="441.3" cy="690.34" r="2.3" fill="#f74344"/>
<circle cx="441.3" cy="740.94" r="2.3" fill="#f74344"/>
<circle cx="441.3" cy="716.94" r="2.3" fill="#f74344"/>
<circle cx="441.3" cy="745.84" r="2.3" fill="#f74344"/>
<circle cx="441.3" cy="744.02" r="2.3" fill="#f74344"/>
<circle cx="441.3" cy="735.85" r="2.3" fill="#f74344"/>
<circle cx="441.3" cy="728.26" r="2.3" fill="#f74344"/>
<circle cx="441.3" cy="733.1" r="2.3" fill="#f74344"/>
<circle cx="441.3" cy="748.21" r="2.3" fill="#f74344"/>
<circle cx="441.3" cy="741.57" r="2.3" fill="#f74344"/>
<circle cx="441.3" cy="742.43" r="2.3" fill="#f74344"/>
<circle cx="441.3" cy="714.87" r="2.3" fill="#f74344"/>
<circle cx="441.3" cy="715.28" r="2.3" fill="#f74344"/>
<circle cx="441.3" cy="747.04" r="2.3" fill="#f74344"/>
<circle cx="441.3" cy="726.4" r="2.3" fill="#f74344"/>
<circle cx="441.3" cy="746.18" r="2.3" fill="#f74344"/>
<circle cx="441.3" cy="740.28" r="2.3" fill="#f74344"/>
<circle cx="441.3" cy="748.45" r="2.3" fill="#f74344"/>
<circle cx="441.3" cy="763.75" r="2.3" fill="#f74344"/>
<circle cx="441.3" cy="724.12" r="2.3" fill="#f74344"/>
<circle cx="441.3" cy="754.98" r="2.3" fill="#f74344"/>
<circle cx="441.3" cy="747.62" r="2.3" fill="#f74344"/>
<circle cx="441.3" cy="723.08" r="2.3" fill="#f74344"/>
<circle cx="441.3" cy="708.75" r="2.3" fill="#f74344"/>
<circle cx="441.3" cy="733.59" r="2.3" fill="#f74344"/>
<circle cx="441.3" cy="734.03" r="2.3" fill="#f74344"/>
<circle cx="441.3" cy="734.18" r="2.3" fill="#f74344"/>
<circle cx="441.3" cy="718.79" r="2.3" fill="#f74344"/>
<circle cx="441.3" cy="746.62" r="2.3" fill="#f74344"/>
<circle cx="441.3" cy="682.36" r="2.3" fill="#f74344"/>
<circle cx="441.3" cy="728.24" r="2.3" fill="#f74344"/>
<circle cx="441.3" cy="715.79" r="2.3" fill="#f74344"/>
<circle cx="441.3" cy="709.27" r="2.3" fill="#f74344"/>
<circle cx="441.3" cy="735.24" r="2.3" fill="#f74344"/>
<circle cx="441.3" cy="747.83" r="2.3" fill="#f74344"/>
<line x1="421.3" y1="786.1" x2="421.3" y2="754.58" stroke="#111" stroke-width="1.1" />
<line x1="417.1" y1="786.1" x2="425.5" y2="786.1" stroke="#111" stroke-width="1.1" />
<line x1="417.1" y1="754.58" x2="425.5" y2="754.58" stroke="#111" stroke-width="1.1" />
<line x1="411.8" y1="770.54" x2="430.8" y2="770.54" stroke="#111" stroke-width="1.8" />
<line x1="441.3" y1="750.19" x2="441.3" y2="706.3" stroke="#111" stroke-width="1.1" />
<line x1="437.1" y1="750.19" x2="445.5" y2="750.19" stroke="#111" stroke-width="1.1" />
<line x1="437.1" y1="706.3" x2="445.5" y2="706.3" stroke="#111" stroke-width="1.1" />
<line x1="431.8" y1="728.64" x2="450.8" y2="728.64" stroke="#111" stroke-width="1.8" />
<path d="M481.5 723.06L501.6 703.11M481.5 736.62L501.6 709.49M481.5 748.59L501.6 752.3M481.5 751.5L501.6 748.25M481.5 762.39L501.6 771.42M481.5 766.57L501.6 766.51M481.5 771.83L501.6 775.21M481.5 779.99L501.6 776.75M481.5 774L501.6 778.31M481.5 757.32L501.6 749.8M481.5 754.53L501.6 751.18M481.5 771.08L501.6 767.55M481.5 757.19L501.6 759.92M481.5 757.55L501.6 750.13M481.5 760.18L501.6 765.13M481.5 761.18L501.6 759.44M481.5 758.05L501.6 758.05M481.5 771.02L501.6 770.85M481.5 759.86L501.6 760.7M481.5 773.72L501.6 772.51M481.5 767.02L501.6 765.49M481.5 757.72L501.6 754.16M481.5 760.3L501.6 757.86M481.5 773.29L501.6 773.61M481.5 751.97L501.6 750.11M481.5 761.65L501.6 768.38M481.5 763.91L501.6 765.72M481.5 782.53L501.6 775.44M481.5 765.01L501.6 763.86M481.5 774.7L501.6 778.69M481.5 760.93L501.6 754.45M481.5 767.76L501.6 776.53M481.5 756.19L501.6 753.49M481.5 761.72L501.6 762.66M481.5 756.81L501.6 751.82M481.5 771.52L501.6 766.88M481.5 761.83L501.6 771.23M481.5 758.77L501.6 753.12M481.5 755.81L501.6 758.81M481.5 771.45L501.6 771.67M481.5 755.33L501.6 752.9M481.5 754.44L501.6 744.42M481.5 760.38L501.6 759.77M481.5 750.97L501.6 751.01M481.5 751.61L501.6 752.71M481.5 765.95L501.6 767.18M481.5 765.59L501.6 775M481.5 777.47L501.6 768.95M481.5 755.53L501.6 757.68M481.5 752.24L501.6 748.42" stroke="#222" stroke-width="0.5" fill="none"/>
<circle cx="481.5" cy="723.06" r="2.3" fill="#559ffd"/>
<circle cx="481.5" cy="736.62" r="2.3" fill="#559ffd"/>
<circle cx="481.5" cy="748.59" r="2.3" fill="#559ffd"/>
<circle cx="481.5" cy="751.5" r="2.3" fill="#559ffd"/>
<circle cx="481.5" cy="762.39" r="2.3" fill="#559ffd"/>
<circle cx="481.5" cy="766.57" r="2.3" fill="#559ffd"/>
<circle cx="481.5" cy="771.83" r="2.3" fill="#559ffd"/>
<circle cx="481.5" cy="779.99" r="2.3" fill="#559ffd"/>
<circle cx="481.5" cy="774" r="2.3" fill="#559ffd"/>
<circle cx="481.5" cy="757.32" r="2.3" fill="#559ffd"/>
<circle cx="481.5" cy="754.53" r="2.3" fill="#559ffd"/>
<circle cx="481.5" cy="771.08" r="2.3" fill="#559ffd"/>
<circle cx="481.5" cy="757.19" r="2.3" fill="#559ffd"/>
<circle cx="481.5" cy="757.55" r="2.3" fill="#559ffd"/>
<circle cx="481.5" cy="760.18" r="2.3" fill="#559ffd"/>
<circle cx="481.5" cy="761.18" r="2.3" fill="#559ffd"/>
<circle cx="481.5" cy="758.05" r="2.3" fill="#559ffd"/>
<circle cx="481.5" cy="771.02" r="2.3" fill="#559ffd"/>
<circle cx="481.5" cy="759.86" r="2.3" fill="#559ffd"/>
<circle cx="481.5" cy="773.72" r="2.3" fill="#559ffd"/>
<circle cx="481.5" cy="767.02" r="2.3" fill="#559ffd"/>
<circle cx="481.5" cy="757.72" r="2.3" fill="#559ffd"/>
<circle cx="481.5" cy="760.3" r="2.3" fill="#559ffd"/>
<circle cx="481.5" cy="773.29" r="2.3" fill="#559ffd"/>
<circle cx="481.5" cy="751.97" r="2.3" fill="#559ffd"/>
<circle cx="481.5" cy="761.65" r="2.3" fill="#559ffd"/>
<circle cx="481.5" cy="763.91" r="2.3" fill="#559ffd"/>
<circle cx="481.5" cy="782.53" r="2.3" fill="#559ffd"/>
<circle cx="481.5" cy="765.01" r="2.3" fill="#559ffd"/>
<circle cx="481.5" cy="774.7" r="2.3" fill="#559ffd"/>
<circle cx="481.5" cy="760.93" r="2.3" fill="#559ffd"/>
<circle cx="481.5" cy="767.76" r="2.3" fill="#559ffd"/>
<circle cx="481.5" cy="756.19" r="2.3" fill="#559ffd"/>
<circle cx="481.5" cy="761.72" r="2.3" fill="#559ffd"/>
<circle cx="481.5" cy="756.81" r="2.3" fill="#559ffd"/>
<circle cx="481.5" cy="771.52" r="2.3" fill="#559ffd"/>
<circle cx="481.5" cy="761.83" r="2.3" fill="#559ffd"/>
<circle cx="481.5" cy="758.77" r="2.3" fill="#559ffd"/>
<circle cx="481.5" cy="755.81" r="2.3" fill="#559ffd"/>
<circle cx="481.5" cy="771.45" r="2.3" fill="#559ffd"/>
<circle cx="481.5" cy="755.33" r="2.3" fill="#559ffd"/>
<circle cx="481.5" cy="754.44" r="2.3" fill="#559ffd"/>
<circle cx="481.5" cy="760.38" r="2.3" fill="#559ffd"/>
<circle cx="481.5" cy="750.97" r="2.3" fill="#559ffd"/>
<circle cx="481.5" cy="751.61" r="2.3" fill="#559ffd"/>
<circle cx="481.5" cy="765.95" r="2.3" fill="#559ffd"/>
<circle cx="481.5" cy="765.59" r="2.3" fill="#559ffd"/>
<circle cx="481.5" cy="777.47" r="2.3" fill="#559ffd"/>
<circle cx="481.5" cy="755.53" r="2.3" fill="#559ffd"/>
<circle cx="481.5" cy="752.24" r="2.3" fill="#559ffd"/>
<circle cx="501.6" cy="703.11" r="2.3" fill="#f74344"/>
<circle cx="501.6" cy="709.49" r="2.3" fill="#f74344"/>
<circle cx="501.6" cy="752.3" r="2.3" fill="#f74344"/>
<circle cx="501.6" cy="748.25" r="2.3" fill="#f74344"/>
<circle cx="501.6" cy="771.42" r="2.3" fill="#f74344"/>
<circle cx="501.6" cy="766.51" r="2.3" fill="#f74344"/>
<circle cx="501.6" cy="775.21" r="2.3" fill="#f74344"/>
<circle cx="501.6" cy="776.75" r="2.3" fill="#f74344"/>
<circle cx="501.6" cy="778.31" r="2.3" fill="#f74344"/>
<circle cx="501.6" cy="749.8" r="2.3" fill="#f74344"/>
<circle cx="501.6" cy="751.18" r="2.3" fill="#f74344"/>
<circle cx="501.6" cy="767.55" r="2.3" fill="#f74344"/>
<circle cx="501.6" cy="759.92" r="2.3" fill="#f74344"/>
<circle cx="501.6" cy="750.13" r="2.3" fill="#f74344"/>
<circle cx="501.6" cy="765.13" r="2.3" fill="#f74344"/>
<circle cx="501.6" cy="759.44" r="2.3" fill="#f74344"/>
<circle cx="501.6" cy="758.05" r="2.3" fill="#f74344"/>
<circle cx="501.6" cy="770.85" r="2.3" fill="#f74344"/>
<circle cx="501.6" cy="760.7" r="2.3" fill="#f74344"/>
<circle cx="501.6" cy="772.51" r="2.3" fill="#f74344"/>
<circle cx="501.6" cy="765.49" r="2.3" fill="#f74344"/>
<circle cx="501.6" cy="754.16" r="2.3" fill="#f74344"/>
<circle cx="501.6" cy="757.86" r="2.3" fill="#f74344"/>
<circle cx="501.6" cy="773.61" r="2.3" fill="#f74344"/>
<circle cx="501.6" cy="750.11" r="2.3" fill="#f74344"/>
<circle cx="501.6" cy="768.38" r="2.3" fill="#f74344"/>
<circle cx="501.6" cy="765.72" r="2.3" fill="#f74344"/>
<circle cx="501.6" cy="775.44" r="2.3" fill="#f74344"/>
<circle cx="501.6" cy="763.86" r="2.3" fill="#f74344"/>
<circle cx="501.6" cy="778.69" r="2.3" fill="#f74344"/>
<circle cx="501.6" cy="754.45" r="2.3" fill="#f74344"/>
<circle cx="501.6" cy="776.53" r="2.3" fill="#f74344"/>
<circle cx="501.6" cy="753.49" r="2.3" fill="#f74344"/>
<circle cx="501.6" cy="762.66" r="2.3" fill="#f74344"/>
<circle cx="501.6" cy="751.82" r="2.3" fill="#f74344"/>
<circle cx="501.6" cy="766.88" r="2.3" fill="#f74344"/>
<circle cx="501.6" cy="771.23" r="2.3" fill="#f74344"/>
<circle cx="501.6" cy="753.12" r="2.3" fill="#f74344"/>
<circle cx="501.6" cy="758.81" r="2.3" fill="#f74344"/>
<circle cx="501.6" cy="771.67" r="2.3" fill="#f74344"/>
<circle cx="501.6" cy="752.9" r="2.3" fill="#f74344"/>
<circle cx="501.6" cy="744.42" r="2.3" fill="#f74344"/>
<circle cx="501.6" cy="759.77" r="2.3" fill="#f74344"/>
<circle cx="501.6" cy="751.01" r="2.3" fill="#f74344"/>
<circle cx="501.6" cy="752.71" r="2.3" fill="#f74344"/>
<circle cx="501.6" cy="767.18" r="2.3" fill="#f74344"/>
<circle cx="501.6" cy="775" r="2.3" fill="#f74344"/>
<circle cx="501.6" cy="768.95" r="2.3" fill="#f74344"/>
<circle cx="501.6" cy="757.68" r="2.3" fill="#f74344"/>
<circle cx="501.6" cy="748.42" r="2.3" fill="#f74344"/>
<line x1="481.5" y1="782.11" x2="481.5" y2="756.57" stroke="#111" stroke-width="1.1" />
<line x1="477.3" y1="782.11" x2="485.7" y2="782.11" stroke="#111" stroke-width="1.1" />
<line x1="477.3" y1="756.57" x2="485.7" y2="756.57" stroke="#111" stroke-width="1.1" />
<line x1="472" y1="769.34" x2="491" y2="769.34" stroke="#111" stroke-width="1.8" />
<line x1="501.6" y1="775.72" x2="501.6" y2="740.61" stroke="#111" stroke-width="1.1" />
<line x1="497.4" y1="775.72" x2="505.8" y2="775.72" stroke="#111" stroke-width="1.1" />
<line x1="497.4" y1="740.61" x2="505.8" y2="740.61" stroke="#111" stroke-width="1.1" />
<line x1="492.1" y1="757.77" x2="511.1" y2="757.77" stroke="#111" stroke-width="1.8" />
<circle cx="406.5" cy="632.7" r="2.9" fill="#559ffd"/>
<text x="411.7" y="635.3" font-size="8.5" text-anchor="start" font-weight="normal" fill="#1a1a1a" >Before</text>
<circle cx="441.8" cy="632.7" r="2.9" fill="#f74344"/>
<text x="447.1" y="635.3" font-size="8.5" text-anchor="start" font-weight="normal" fill="#1a1a1a" >After providing food</text>
<line x1="421.2" y1="649.2" x2="441.4" y2="649.2" stroke="#000" stroke-width="1.4" />
<text x="431.3" y="649.4" font-size="9.5" text-anchor="middle" font-weight="normal" fill="#1a1a1a" >***</text>
<line x1="481.6" y1="649.2" x2="501.4" y2="649.2" stroke="#000" stroke-width="1.4" />
<text x="491.5" y="649.4" font-size="9.5" text-anchor="middle" font-weight="normal" fill="#1a1a1a" >***</text>
<text x="431.4" y="660" font-size="8.5" text-anchor="middle" font-weight="normal" fill="#1a1a1a" >*</text>
<line x1="431.4" y1="788.6" x2="431.4" y2="794.1" stroke="#000" stroke-width="1.1" />
<text x="431.4" y="804.8" font-size="9.5" text-anchor="middle" font-weight="normal" fill="#1a1a1a" >Before</text>
<text x="431.4" y="816.4" font-size="9.5" text-anchor="middle" font-weight="normal" fill="#1a1a1a" >injection</text>
<line x1="491.6" y1="788.6" x2="491.6" y2="794.1" stroke="#000" stroke-width="1.1" />
<text x="491.6" y="804.8" font-size="9.5" text-anchor="middle" font-weight="normal" fill="#1a1a1a" >After</text>
<text x="491.6" y="816.4" font-size="9.5" text-anchor="middle" font-weight="normal" fill="#1a1a1a" >injection</text>
<line x1="566.5" y1="747.7" x2="675.6" y2="747.7" stroke="#111" stroke-width="1" stroke-dasharray="2.2 1.8"/>
<line x1="566.5" y1="707.1" x2="675.6" y2="707.1" stroke="#111" stroke-width="1" stroke-dasharray="2.2 1.8"/>
<line x1="566.5" y1="666.5" x2="675.6" y2="666.5" stroke="#111" stroke-width="1" stroke-dasharray="2.2 1.8"/>
<text x="542" y="606" font-size="12.5" text-anchor="start" font-weight="bold" fill="#000" >h</text>
<text x="619.3" y="608.6" font-size="9.5" text-anchor="middle" font-weight="normal" fill="#1a1a1a" >mPFC neurons</text>
<text x="619.3" y="620" font-size="9.5" text-anchor="middle" font-weight="normal" fill="#1a1a1a" >after providing food</text>
<rect x="566.5" y="625.3" width="109.1" height="163" fill="none" stroke="#111" stroke-width="1.1"/>
<line x1="560.7" y1="788.3" x2="566.5" y2="788.3" stroke="#000" stroke-width="1.1" />
<text x="558.9" y="791.7" font-size="9.5" text-anchor="end" font-weight="normal" fill="#1a1a1a" >0</text>
<line x1="560.7" y1="747.7" x2="566.5" y2="747.7" stroke="#000" stroke-width="1.1" />
<text x="558.9" y="751.1" font-size="9.5" text-anchor="end" font-weight="normal" fill="#1a1a1a" >5</text>
<line x1="560.7" y1="707.1" x2="566.5" y2="707.1" stroke="#000" stroke-width="1.1" />
<text x="558.9" y="710.5" font-size="9.5" text-anchor="end" font-weight="normal" fill="#1a1a1a" >10</text>
<line x1="560.7" y1="666.5" x2="566.5" y2="666.5" stroke="#000" stroke-width="1.1" />
<text x="558.9" y="669.9" font-size="9.5" text-anchor="end" font-weight="normal" fill="#1a1a1a" >15</text>
<line x1="560.7" y1="625.9" x2="566.5" y2="625.9" stroke="#000" stroke-width="1.1" />
<text x="558.9" y="629.3" font-size="9.5" text-anchor="end" font-weight="normal" fill="#1a1a1a" >20</text>
<text transform="translate(540,707) rotate(-90)" x="0" y="3.32" font-size="9.5" text-anchor="middle" font-weight="normal" fill="#1a1a1a">Mean FR (Hz)</text>
<circle cx="597.6" cy="657.57" r="2.3" fill="#44eeaf"/>
<circle cx="597.6" cy="683.55" r="2.3" fill="#44eeaf"/>
<circle cx="602" cy="685.18" r="2.3" fill="#44eeaf"/>
<circle cx="597.6" cy="690.86" r="2.3" fill="#44eeaf"/>
<circle cx="597.6" cy="702.23" r="2.3" fill="#44eeaf"/>
<circle cx="597.6" cy="710.35" r="2.3" fill="#44eeaf"/>
<circle cx="602" cy="712.78" r="2.3" fill="#44eeaf"/>
<circle cx="597.6" cy="715.22" r="2.3" fill="#44eeaf"/>
<circle cx="597.6" cy="722.53" r="2.3" fill="#44eeaf"/>
<circle cx="602" cy="724.15" r="2.3" fill="#44eeaf"/>
<circle cx="593.2" cy="725.78" r="2.3" fill="#44eeaf"/>
<circle cx="597.6" cy="730.1" r="2.3" fill="#44eeaf"/>
<circle cx="602" cy="731.36" r="2.3" fill="#44eeaf"/>
<circle cx="593.2" cy="731.8" r="2.3" fill="#44eeaf"/>
<circle cx="606.4" cy="732.47" r="2.3" fill="#44eeaf"/>
<circle cx="597.6" cy="734.97" r="2.3" fill="#44eeaf"/>
<circle cx="591" cy="735.48" r="2.3" fill="#44eeaf"/>
<circle cx="602" cy="735.84" r="2.3" fill="#44eeaf"/>
<circle cx="586.6" cy="735.88" r="2.3" fill="#44eeaf"/>
<circle cx="606.4" cy="738.2" r="2.3" fill="#44eeaf"/>
<circle cx="595.4" cy="739.07" r="2.3" fill="#44eeaf"/>
<circle cx="610.8" cy="739.16" r="2.3" fill="#44eeaf"/>
<circle cx="599.8" cy="739.47" r="2.3" fill="#44eeaf"/>
<circle cx="591" cy="740.54" r="2.3" fill="#44eeaf"/>
<circle cx="586.6" cy="740.82" r="2.3" fill="#44eeaf"/>
<circle cx="584.4" cy="740.91" r="2.3" fill="#44eeaf"/>
<circle cx="604.2" cy="742.21" r="2.3" fill="#44eeaf"/>
<circle cx="584.4" cy="742.45" r="2.3" fill="#44eeaf"/>
<circle cx="584.4" cy="742.66" r="2.3" fill="#44eeaf"/>
<circle cx="597.6" cy="744.88" r="2.3" fill="#44eeaf"/>
<circle cx="593.2" cy="745.47" r="2.3" fill="#44eeaf"/>
<circle cx="602" cy="746.3" r="2.3" fill="#44eeaf"/>
<circle cx="606.4" cy="746.39" r="2.3" fill="#44eeaf"/>
<circle cx="588.8" cy="746.48" r="2.3" fill="#44eeaf"/>
<circle cx="610.8" cy="747.08" r="2.3" fill="#44eeaf"/>
<circle cx="584.4" cy="747.44" r="2.3" fill="#44eeaf"/>
<circle cx="584.4" cy="747.6" r="2.3" fill="#44eeaf"/>
<circle cx="597.6" cy="749.74" r="2.3" fill="#44eeaf"/>
<circle cx="602" cy="750.6" r="2.3" fill="#44eeaf"/>
<circle cx="593.2" cy="752.53" r="2.3" fill="#44eeaf"/>
<circle cx="606.4" cy="753.04" r="2.3" fill="#44eeaf"/>
<circle cx="597.6" cy="756.63" r="2.3" fill="#44eeaf"/>
<circle cx="597.6" cy="767.19" r="2.3" fill="#44eeaf"/>
<circle cx="644.5" cy="704.66" r="2.3" fill="#fe9f3c"/>
<circle cx="644.5" cy="711.16" r="2.3" fill="#fe9f3c"/>
<circle cx="644.5" cy="742.83" r="2.3" fill="#fe9f3c"/>
<circle cx="648.9" cy="746.08" r="2.3" fill="#fe9f3c"/>
<circle cx="644.5" cy="749.56" r="2.3" fill="#fe9f3c"/>
<circle cx="640.1" cy="749.59" r="2.3" fill="#fe9f3c"/>
<circle cx="648.9" cy="750.83" r="2.3" fill="#fe9f3c"/>
<circle cx="653.3" cy="751.16" r="2.3" fill="#fe9f3c"/>
<circle cx="635.7" cy="751.29" r="2.3" fill="#fe9f3c"/>
<circle cx="657.7" cy="751.51" r="2.3" fill="#fe9f3c"/>
<circle cx="631.3" cy="751.67" r="2.3" fill="#fe9f3c"/>
<circle cx="631.3" cy="752.1" r="2.3" fill="#fe9f3c"/>
<circle cx="631.3" cy="752.33" r="2.3" fill="#fe9f3c"/>
<circle cx="644.5" cy="754.15" r="2.3" fill="#fe9f3c"/>
<circle cx="648.9" cy="755.46" r="2.3" fill="#fe9f3c"/>
<circle cx="640.1" cy="756.44" r="2.3" fill="#fe9f3c"/>
<circle cx="653.3" cy="757.22" r="2.3" fill="#fe9f3c"/>
<circle cx="635.7" cy="758.3" r="2.3" fill="#fe9f3c"/>
<circle cx="644.5" cy="758.64" r="2.3" fill="#fe9f3c"/>
<circle cx="657.7" cy="758.71" r="2.3" fill="#fe9f3c"/>
<circle cx="631.3" cy="759.67" r="2.3" fill="#fe9f3c"/>
<circle cx="648.9" cy="760.54" r="2.3" fill="#fe9f3c"/>
<circle cx="631.3" cy="760.67" r="2.3" fill="#fe9f3c"/>
<circle cx="640.1" cy="761.83" r="2.3" fill="#fe9f3c"/>
<circle cx="653.3" cy="762.55" r="2.3" fill="#fe9f3c"/>
<circle cx="635.7" cy="762.77" r="2.3" fill="#fe9f3c"/>
<circle cx="644.5" cy="763.96" r="2.3" fill="#fe9f3c"/>
<circle cx="657.7" cy="764.66" r="2.3" fill="#fe9f3c"/>
<circle cx="648.9" cy="765.57" r="2.3" fill="#fe9f3c"/>
<circle cx="631.3" cy="765.8" r="2.3" fill="#fe9f3c"/>
<circle cx="640.1" cy="767.37" r="2.3" fill="#fe9f3c"/>
<circle cx="653.3" cy="767.42" r="2.3" fill="#fe9f3c"/>
<circle cx="644.5" cy="776.13" r="2.3" fill="#fe9f3c"/>
<circle cx="648.9" cy="776.26" r="2.3" fill="#fe9f3c"/>
<circle cx="640.1" cy="776.43" r="2.3" fill="#fe9f3c"/>
<circle cx="653.3" cy="776.65" r="2.3" fill="#fe9f3c"/>
<circle cx="635.7" cy="777.15" r="2.3" fill="#fe9f3c"/>
<circle cx="657.7" cy="777.92" r="2.3" fill="#fe9f3c"/>
<circle cx="631.3" cy="777.99" r="2.3" fill="#fe9f3c"/>
<circle cx="631.3" cy="778.06" r="2.3" fill="#fe9f3c"/>
<circle cx="631.3" cy="778.31" r="2.3" fill="#fe9f3c"/>
<circle cx="631.3" cy="778.42" r="2.3" fill="#fe9f3c"/>
<circle cx="644.5" cy="780.72" r="2.3" fill="#fe9f3c"/>
<circle cx="648.9" cy="781.19" r="2.3" fill="#fe9f3c"/>
<circle cx="640.1" cy="781.64" r="2.3" fill="#fe9f3c"/>
<circle cx="653.3" cy="781.74" r="2.3" fill="#fe9f3c"/>
<circle cx="635.7" cy="782.3" r="2.3" fill="#fe9f3c"/>
<circle cx="657.7" cy="782.45" r="2.3" fill="#fe9f3c"/>
<line x1="597.6" y1="753.38" x2="597.6" y2="707.51" stroke="#111" stroke-width="1.1" />
<line x1="590.4" y1="753.38" x2="604.8" y2="753.38" stroke="#111" stroke-width="1.1" />
<line x1="590.4" y1="707.51" x2="604.8" y2="707.51" stroke="#111" stroke-width="1.1" />
<line x1="582.6" y1="730.65" x2="612.6" y2="730.65" stroke="#111" stroke-width="1.8" />
<line x1="644.5" y1="777.74" x2="644.5" y2="743.64" stroke="#111" stroke-width="1.1" />
<line x1="637.3" y1="777.74" x2="651.7" y2="777.74" stroke="#111" stroke-width="1.1" />
<line x1="637.3" y1="743.64" x2="651.7" y2="743.64" stroke="#111" stroke-width="1.1" />
<line x1="629.5" y1="760.69" x2="659.5" y2="760.69" stroke="#111" stroke-width="1.8" />
<line x1="598.2" y1="649" x2="647.8" y2="649" stroke="#000" stroke-width="1.4" />
<text x="623" y="649" font-size="9.5" text-anchor="middle" font-weight="normal" fill="#1a1a1a" >****</text>
<line x1="597.6" y1="788.3" x2="597.6" y2="793.8" stroke="#000" stroke-width="1.1" />
<text x="597.6" y="804.8" font-size="9.5" text-anchor="middle" font-weight="normal" fill="#1a1a1a" >Before</text>
<text x="597.6" y="816.4" font-size="9.5" text-anchor="middle" font-weight="normal" fill="#1a1a1a" >injection</text>
<line x1="644.5" y1="788.3" x2="644.5" y2="793.8" stroke="#000" stroke-width="1.1" />
<text x="644.5" y="804.8" font-size="9.5" text-anchor="middle" font-weight="normal" fill="#1a1a1a" >After</text>
<text x="644.5" y="816.4" font-size="9.5" text-anchor="middle" font-weight="normal" fill="#1a1a1a" >injection</text></svg></body></html>
